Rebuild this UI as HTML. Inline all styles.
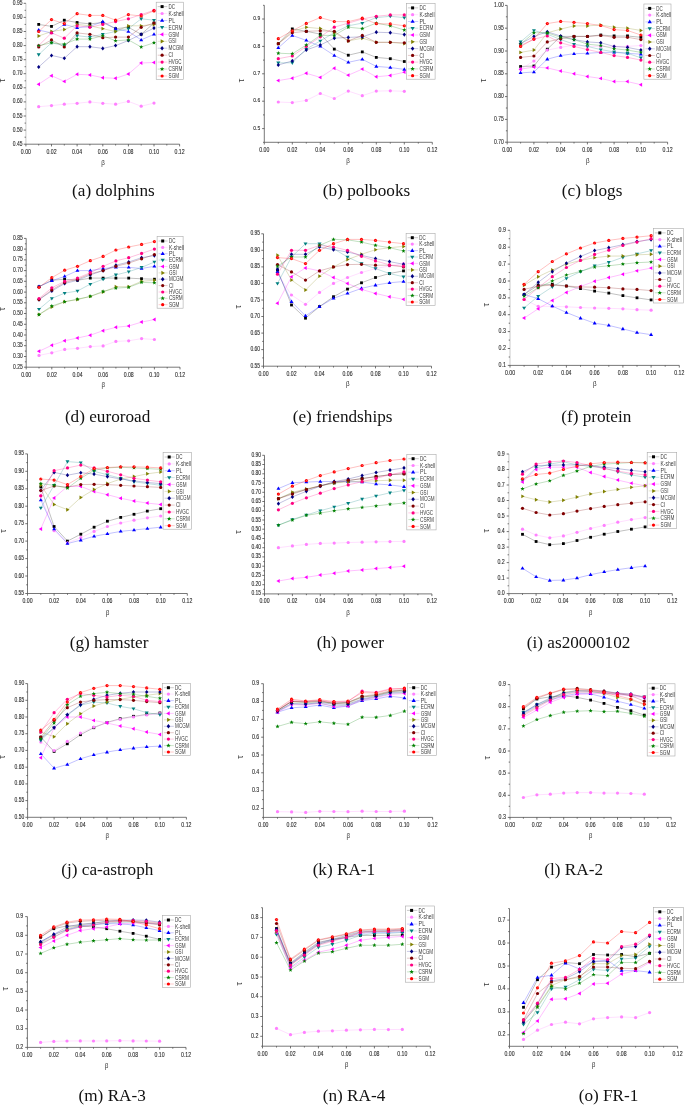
<!DOCTYPE html>
<html><head><meta charset="utf-8"><style>
html,body{margin:0;padding:0;background:#fff;}
svg{display:block;}
text{font-family:"Liberation Sans",sans-serif;}
.g text{filter:grayscale(1)}
</style></head><body>
<svg width="685" height="1105" viewBox="0 0 685 1105">
<rect width="685" height="1105" fill="#fff"/>
<g class="g">
<line x1="25.9" y1="144.2" x2="25.9" y2="3.3" stroke="#bbb" stroke-width="0.8"/>
<line x1="25.9" y1="144.2" x2="179.6" y2="144.2" stroke="#555" stroke-width="0.8"/>
<line x1="25.9" y1="144.2" x2="25.9" y2="146.4" stroke="#444" stroke-width="0.75"/>
<text x="25.9" y="153.7" font-size="6.3" text-anchor="middle" fill="#2a2a2a" textLength="10.1" lengthAdjust="spacingAndGlyphs" stroke="#2a2a2a" stroke-width="0.1" >0.00</text>
<line x1="38.7" y1="144.2" x2="38.7" y2="145.5" stroke="#444" stroke-width="0.75"/>
<line x1="51.5" y1="144.2" x2="51.5" y2="146.4" stroke="#444" stroke-width="0.75"/>
<text x="51.5" y="153.7" font-size="6.3" text-anchor="middle" fill="#2a2a2a" textLength="10.1" lengthAdjust="spacingAndGlyphs" stroke="#2a2a2a" stroke-width="0.1" >0.02</text>
<line x1="64.3" y1="144.2" x2="64.3" y2="145.5" stroke="#444" stroke-width="0.75"/>
<line x1="77.1" y1="144.2" x2="77.1" y2="146.4" stroke="#444" stroke-width="0.75"/>
<text x="77.1" y="153.7" font-size="6.3" text-anchor="middle" fill="#2a2a2a" textLength="10.1" lengthAdjust="spacingAndGlyphs" stroke="#2a2a2a" stroke-width="0.1" >0.04</text>
<line x1="89.9" y1="144.2" x2="89.9" y2="145.5" stroke="#444" stroke-width="0.75"/>
<line x1="102.8" y1="144.2" x2="102.8" y2="146.4" stroke="#444" stroke-width="0.75"/>
<text x="102.8" y="153.7" font-size="6.3" text-anchor="middle" fill="#2a2a2a" textLength="10.1" lengthAdjust="spacingAndGlyphs" stroke="#2a2a2a" stroke-width="0.1" >0.06</text>
<line x1="115.6" y1="144.2" x2="115.6" y2="145.5" stroke="#444" stroke-width="0.75"/>
<line x1="128.4" y1="144.2" x2="128.4" y2="146.4" stroke="#444" stroke-width="0.75"/>
<text x="128.4" y="153.7" font-size="6.3" text-anchor="middle" fill="#2a2a2a" textLength="10.1" lengthAdjust="spacingAndGlyphs" stroke="#2a2a2a" stroke-width="0.1" >0.08</text>
<line x1="141.2" y1="144.2" x2="141.2" y2="145.5" stroke="#444" stroke-width="0.75"/>
<line x1="154.0" y1="144.2" x2="154.0" y2="146.4" stroke="#444" stroke-width="0.75"/>
<text x="154.0" y="153.7" font-size="6.3" text-anchor="middle" fill="#2a2a2a" textLength="10.1" lengthAdjust="spacingAndGlyphs" stroke="#2a2a2a" stroke-width="0.1" >0.10</text>
<line x1="166.8" y1="144.2" x2="166.8" y2="145.5" stroke="#444" stroke-width="0.75"/>
<line x1="179.6" y1="144.2" x2="179.6" y2="146.4" stroke="#444" stroke-width="0.75"/>
<text x="179.6" y="153.7" font-size="6.3" text-anchor="middle" fill="#2a2a2a" textLength="10.1" lengthAdjust="spacingAndGlyphs" stroke="#2a2a2a" stroke-width="0.1" >0.12</text>
<line x1="23.7" y1="144.2" x2="25.9" y2="144.2" stroke="#444" stroke-width="0.75"/>
<text x="22.5" y="145.7" font-size="6.3" text-anchor="end" fill="#2a2a2a" textLength="9.7" lengthAdjust="spacingAndGlyphs" stroke="#2a2a2a" stroke-width="0.1" >0.45</text>
<line x1="23.7" y1="130.1" x2="25.9" y2="130.1" stroke="#444" stroke-width="0.75"/>
<text x="22.5" y="131.6" font-size="6.3" text-anchor="end" fill="#2a2a2a" textLength="9.7" lengthAdjust="spacingAndGlyphs" stroke="#2a2a2a" stroke-width="0.1" >0.50</text>
<line x1="23.7" y1="116.0" x2="25.9" y2="116.0" stroke="#444" stroke-width="0.75"/>
<text x="22.5" y="117.5" font-size="6.3" text-anchor="end" fill="#2a2a2a" textLength="9.7" lengthAdjust="spacingAndGlyphs" stroke="#2a2a2a" stroke-width="0.1" >0.55</text>
<line x1="23.7" y1="101.9" x2="25.9" y2="101.9" stroke="#444" stroke-width="0.75"/>
<text x="22.5" y="103.4" font-size="6.3" text-anchor="end" fill="#2a2a2a" textLength="9.7" lengthAdjust="spacingAndGlyphs" stroke="#2a2a2a" stroke-width="0.1" >0.60</text>
<line x1="23.7" y1="87.8" x2="25.9" y2="87.8" stroke="#444" stroke-width="0.75"/>
<text x="22.5" y="89.3" font-size="6.3" text-anchor="end" fill="#2a2a2a" textLength="9.7" lengthAdjust="spacingAndGlyphs" stroke="#2a2a2a" stroke-width="0.1" >0.65</text>
<line x1="23.7" y1="73.7" x2="25.9" y2="73.7" stroke="#444" stroke-width="0.75"/>
<text x="22.5" y="75.2" font-size="6.3" text-anchor="end" fill="#2a2a2a" textLength="9.7" lengthAdjust="spacingAndGlyphs" stroke="#2a2a2a" stroke-width="0.1" >0.70</text>
<line x1="23.7" y1="59.7" x2="25.9" y2="59.7" stroke="#444" stroke-width="0.75"/>
<text x="22.5" y="61.2" font-size="6.3" text-anchor="end" fill="#2a2a2a" textLength="9.7" lengthAdjust="spacingAndGlyphs" stroke="#2a2a2a" stroke-width="0.1" >0.75</text>
<line x1="23.7" y1="45.6" x2="25.9" y2="45.6" stroke="#444" stroke-width="0.75"/>
<text x="22.5" y="47.1" font-size="6.3" text-anchor="end" fill="#2a2a2a" textLength="9.7" lengthAdjust="spacingAndGlyphs" stroke="#2a2a2a" stroke-width="0.1" >0.80</text>
<line x1="23.7" y1="31.5" x2="25.9" y2="31.5" stroke="#444" stroke-width="0.75"/>
<text x="22.5" y="33.0" font-size="6.3" text-anchor="end" fill="#2a2a2a" textLength="9.7" lengthAdjust="spacingAndGlyphs" stroke="#2a2a2a" stroke-width="0.1" >0.85</text>
<line x1="23.7" y1="17.4" x2="25.9" y2="17.4" stroke="#444" stroke-width="0.75"/>
<text x="22.5" y="18.9" font-size="6.3" text-anchor="end" fill="#2a2a2a" textLength="9.7" lengthAdjust="spacingAndGlyphs" stroke="#2a2a2a" stroke-width="0.1" >0.90</text>
<line x1="23.7" y1="3.3" x2="25.9" y2="3.3" stroke="#444" stroke-width="0.75"/>
<text x="22.5" y="4.8" font-size="6.3" text-anchor="end" fill="#2a2a2a" textLength="9.7" lengthAdjust="spacingAndGlyphs" stroke="#2a2a2a" stroke-width="0.1" >0.95</text>
<line x1="24.6" y1="137.2" x2="25.9" y2="137.2" stroke="#444" stroke-width="0.75"/>
<line x1="24.6" y1="123.1" x2="25.9" y2="123.1" stroke="#444" stroke-width="0.75"/>
<line x1="24.6" y1="109.0" x2="25.9" y2="109.0" stroke="#444" stroke-width="0.75"/>
<line x1="24.6" y1="94.9" x2="25.9" y2="94.9" stroke="#444" stroke-width="0.75"/>
<line x1="24.6" y1="80.8" x2="25.9" y2="80.8" stroke="#444" stroke-width="0.75"/>
<line x1="24.6" y1="66.7" x2="25.9" y2="66.7" stroke="#444" stroke-width="0.75"/>
<line x1="24.6" y1="52.6" x2="25.9" y2="52.6" stroke="#444" stroke-width="0.75"/>
<line x1="24.6" y1="38.5" x2="25.9" y2="38.5" stroke="#444" stroke-width="0.75"/>
<line x1="24.6" y1="24.4" x2="25.9" y2="24.4" stroke="#444" stroke-width="0.75"/>
<line x1="24.6" y1="10.3" x2="25.9" y2="10.3" stroke="#444" stroke-width="0.75"/>
<text x="5.0" y="80.4" font-size="8.8" fill="#3a3a3a" transform="rotate(-90 5.0 80.4)" text-anchor="middle">τ</text>
<text x="103.0" y="165.1" font-size="7.3" fill="#333" text-anchor="middle" textLength="3.6" lengthAdjust="spacingAndGlyphs">β</text>
<polyline fill="none" stroke="#000000" stroke-opacity="0.45" stroke-width="0.55" points="38.7,24.4 51.5,26.4 64.3,20.2 77.1,22.5 89.9,23.9 102.8,22.5 115.6,28.7 128.4,27.3 141.2,34.3 154.0,23.0"/>
<polyline fill="none" stroke="#FF80FF" stroke-opacity="0.45" stroke-width="0.55" points="38.7,106.7 51.5,105.6 64.3,104.2 77.1,103.3 89.9,101.9 102.8,103.3 115.6,104.2 128.4,101.4 141.2,106.2 154.0,103.1"/>
<polyline fill="none" stroke="#0000FF" stroke-opacity="0.45" stroke-width="0.55" points="38.7,30.1 51.5,32.9 64.3,24.4 77.1,27.8 89.9,26.4 102.8,21.6 115.6,28.7 128.4,31.5 141.2,39.9 154.0,34.3"/>
<polyline fill="none" stroke="#008080" stroke-opacity="0.45" stroke-width="0.55" points="38.7,54.6 51.5,42.8 64.3,45.6 77.1,35.7 89.9,37.1 102.8,34.3 115.6,31.5 128.4,28.7 141.2,18.8 154.0,20.2"/>
<polyline fill="none" stroke="#FF00FF" stroke-opacity="0.45" stroke-width="0.55" points="38.7,84.2 51.5,75.7 64.3,81.4 77.1,74.3 89.9,74.9 102.8,77.7 115.6,78.3 128.4,74.0 141.2,63.0 154.0,62.5"/>
<polyline fill="none" stroke="#808000" stroke-opacity="0.45" stroke-width="0.55" points="38.7,36.0 51.5,31.5 64.3,29.5 77.1,24.4 89.9,25.8 102.8,28.7 115.6,31.5 128.4,25.8 141.2,25.8 154.0,24.4"/>
<polyline fill="none" stroke="#000080" stroke-opacity="0.45" stroke-width="0.55" points="38.7,67.0 51.5,55.4 64.3,58.3 77.1,46.7 89.9,46.7 102.8,48.4 115.6,45.6 128.4,40.5 141.2,34.3 154.0,28.1"/>
<polyline fill="none" stroke="#800000" stroke-opacity="0.45" stroke-width="0.55" points="38.7,47.0 51.5,39.9 64.3,47.0 77.1,32.9 89.9,34.3 102.8,37.7 115.6,37.1 128.4,37.1 141.2,27.3 154.0,23.0"/>
<polyline fill="none" stroke="#FF0080" stroke-opacity="0.45" stroke-width="0.55" points="38.7,45.6 51.5,32.9 64.3,38.2 77.1,25.8 89.9,27.3 102.8,24.4 115.6,21.6 128.4,18.8 141.2,14.6 154.0,10.3"/>
<polyline fill="none" stroke="#008000" stroke-opacity="0.45" stroke-width="0.55" points="38.7,45.6 51.5,42.8 64.3,44.2 77.1,39.1 89.9,39.1 102.8,35.7 115.6,40.8 128.4,39.9 141.2,47.0 154.0,42.8"/>
<polyline fill="none" stroke="#FF0000" stroke-opacity="0.45" stroke-width="0.55" points="38.7,31.5 51.5,19.6 64.3,23.6 77.1,13.7 89.9,15.4 102.8,15.4 115.6,20.2 128.4,14.6 141.2,16.0 154.0,10.9"/>
<rect x="37.3" y="23.0" width="2.8" height="2.8" fill="#000000"/>
<rect x="50.1" y="25.0" width="2.8" height="2.8" fill="#000000"/>
<rect x="62.9" y="18.8" width="2.8" height="2.8" fill="#000000"/>
<rect x="75.7" y="21.1" width="2.8" height="2.8" fill="#000000"/>
<rect x="88.5" y="22.5" width="2.8" height="2.8" fill="#000000"/>
<rect x="101.3" y="21.1" width="2.8" height="2.8" fill="#000000"/>
<rect x="114.2" y="27.3" width="2.8" height="2.8" fill="#000000"/>
<rect x="127.0" y="25.8" width="2.8" height="2.8" fill="#000000"/>
<rect x="139.8" y="32.9" width="2.8" height="2.8" fill="#000000"/>
<rect x="152.6" y="21.6" width="2.8" height="2.8" fill="#000000"/>
<circle cx="38.7" cy="106.7" r="1.6" fill="#FF80FF"/>
<circle cx="51.5" cy="105.6" r="1.6" fill="#FF80FF"/>
<circle cx="64.3" cy="104.2" r="1.6" fill="#FF80FF"/>
<circle cx="77.1" cy="103.3" r="1.6" fill="#FF80FF"/>
<circle cx="89.9" cy="101.9" r="1.6" fill="#FF80FF"/>
<circle cx="102.8" cy="103.3" r="1.6" fill="#FF80FF"/>
<circle cx="115.6" cy="104.2" r="1.6" fill="#FF80FF"/>
<circle cx="128.4" cy="101.4" r="1.6" fill="#FF80FF"/>
<circle cx="141.2" cy="106.2" r="1.6" fill="#FF80FF"/>
<circle cx="154.0" cy="103.1" r="1.6" fill="#FF80FF"/>
<polygon points="38.7,28.0 40.7,31.3 36.7,31.3" fill="#0000FF"/>
<polygon points="51.5,30.8 53.5,34.1 49.5,34.1" fill="#0000FF"/>
<polygon points="64.3,22.4 66.3,25.7 62.3,25.7" fill="#0000FF"/>
<polygon points="77.1,25.7 79.1,29.1 75.2,29.1" fill="#0000FF"/>
<polygon points="89.9,24.3 91.9,27.7 88.0,27.7" fill="#0000FF"/>
<polygon points="102.8,19.5 104.7,22.9 100.8,22.9" fill="#0000FF"/>
<polygon points="115.6,26.6 117.5,29.9 113.6,29.9" fill="#0000FF"/>
<polygon points="128.4,29.4 130.3,32.7 126.4,32.7" fill="#0000FF"/>
<polygon points="141.2,37.9 143.2,41.2 139.2,41.2" fill="#0000FF"/>
<polygon points="154.0,32.2 156.0,35.5 152.0,35.5" fill="#0000FF"/>
<polygon points="38.7,56.7 40.7,53.3 36.7,53.3" fill="#008080"/>
<polygon points="51.5,44.8 53.5,41.5 49.5,41.5" fill="#008080"/>
<polygon points="64.3,47.6 66.3,44.3 62.3,44.3" fill="#008080"/>
<polygon points="77.1,37.8 79.1,34.5 75.2,34.5" fill="#008080"/>
<polygon points="89.9,39.2 91.9,35.9 88.0,35.9" fill="#008080"/>
<polygon points="102.8,36.4 104.7,33.1 100.8,33.1" fill="#008080"/>
<polygon points="115.6,33.6 117.5,30.2 113.6,30.2" fill="#008080"/>
<polygon points="128.4,30.7 130.3,27.4 126.4,27.4" fill="#008080"/>
<polygon points="141.2,20.9 143.2,17.6 139.2,17.6" fill="#008080"/>
<polygon points="154.0,22.3 156.0,19.0 152.0,19.0" fill="#008080"/>
<polygon points="36.6,84.2 40.0,82.2 40.0,86.2" fill="#FF00FF"/>
<polygon points="49.4,75.7 52.8,73.7 52.8,77.7" fill="#FF00FF"/>
<polygon points="62.2,81.4 65.6,79.4 65.6,83.3" fill="#FF00FF"/>
<polygon points="75.1,74.3 78.4,72.3 78.4,76.3" fill="#FF00FF"/>
<polygon points="87.9,74.9 91.2,72.9 91.2,76.9" fill="#FF00FF"/>
<polygon points="100.7,77.7 104.0,75.7 104.0,79.7" fill="#FF00FF"/>
<polygon points="113.5,78.3 116.8,76.3 116.8,80.2" fill="#FF00FF"/>
<polygon points="126.3,74.0 129.6,72.1 129.6,76.0" fill="#FF00FF"/>
<polygon points="139.1,63.0 142.4,61.1 142.4,65.0" fill="#FF00FF"/>
<polygon points="151.9,62.5 155.2,60.5 155.2,64.5" fill="#FF00FF"/>
<polygon points="40.8,36.0 37.5,34.0 37.5,38.0" fill="#808000"/>
<polygon points="53.6,31.5 50.3,29.5 50.3,33.5" fill="#808000"/>
<polygon points="66.4,29.5 63.1,27.5 63.1,31.5" fill="#808000"/>
<polygon points="79.2,24.4 75.9,22.5 75.9,26.4" fill="#808000"/>
<polygon points="92.0,25.8 88.7,23.9 88.7,27.8" fill="#808000"/>
<polygon points="104.8,28.7 101.5,26.7 101.5,30.6" fill="#808000"/>
<polygon points="117.6,31.5 114.3,29.5 114.3,33.5" fill="#808000"/>
<polygon points="130.4,25.8 127.1,23.9 127.1,27.8" fill="#808000"/>
<polygon points="143.3,25.8 139.9,23.9 139.9,27.8" fill="#808000"/>
<polygon points="156.1,24.4 152.7,22.5 152.7,26.4" fill="#808000"/>
<polygon points="38.7,64.9 40.4,67.0 38.7,69.1 37.0,67.0" fill="#000080"/>
<polygon points="51.5,53.4 53.2,55.4 51.5,57.5 49.9,55.4" fill="#000080"/>
<polygon points="64.3,56.2 66.0,58.3 64.3,60.3 62.7,58.3" fill="#000080"/>
<polygon points="77.1,44.6 78.8,46.7 77.1,48.8 75.5,46.7" fill="#000080"/>
<polygon points="89.9,44.6 91.6,46.7 89.9,48.8 88.3,46.7" fill="#000080"/>
<polygon points="102.8,46.3 104.4,48.4 102.8,50.5 101.1,48.4" fill="#000080"/>
<polygon points="115.6,43.5 117.2,45.6 115.6,47.6 113.9,45.6" fill="#000080"/>
<polygon points="128.4,38.4 130.0,40.5 128.4,42.6 126.7,40.5" fill="#000080"/>
<polygon points="141.2,32.2 142.8,34.3 141.2,36.4 139.5,34.3" fill="#000080"/>
<polygon points="154.0,26.0 155.6,28.1 154.0,30.2 152.3,28.1" fill="#000080"/>
<circle cx="38.7" cy="47.0" r="1.6" fill="#800000"/>
<circle cx="51.5" cy="39.9" r="1.6" fill="#800000"/>
<circle cx="64.3" cy="47.0" r="1.6" fill="#800000"/>
<circle cx="77.1" cy="32.9" r="1.6" fill="#800000"/>
<circle cx="89.9" cy="34.3" r="1.6" fill="#800000"/>
<circle cx="102.8" cy="37.7" r="1.6" fill="#800000"/>
<circle cx="115.6" cy="37.1" r="1.6" fill="#800000"/>
<circle cx="128.4" cy="37.1" r="1.6" fill="#800000"/>
<circle cx="141.2" cy="27.3" r="1.6" fill="#800000"/>
<circle cx="154.0" cy="23.0" r="1.6" fill="#800000"/>
<circle cx="38.7" cy="45.6" r="1.6" fill="#FF0080"/>
<circle cx="51.5" cy="32.9" r="1.6" fill="#FF0080"/>
<circle cx="64.3" cy="38.2" r="1.6" fill="#FF0080"/>
<circle cx="77.1" cy="25.8" r="1.6" fill="#FF0080"/>
<circle cx="89.9" cy="27.3" r="1.6" fill="#FF0080"/>
<circle cx="102.8" cy="24.4" r="1.6" fill="#FF0080"/>
<circle cx="115.6" cy="21.6" r="1.6" fill="#FF0080"/>
<circle cx="128.4" cy="18.8" r="1.6" fill="#FF0080"/>
<circle cx="141.2" cy="14.6" r="1.6" fill="#FF0080"/>
<circle cx="154.0" cy="10.3" r="1.6" fill="#FF0080"/>
<polygon points="38.7,43.4 39.3,44.8 40.8,44.9 39.6,45.9 40.0,47.3 38.7,46.5 37.4,47.3 37.8,45.9 36.6,44.9 38.2,44.8" fill="#008000"/>
<polygon points="51.5,40.6 52.1,42.0 53.6,42.1 52.4,43.0 52.8,44.5 51.5,43.7 50.2,44.5 50.6,43.0 49.4,42.1 51.0,42.0" fill="#008000"/>
<polygon points="64.3,42.0 64.9,43.4 66.4,43.5 65.2,44.5 65.6,45.9 64.3,45.1 63.0,45.9 63.4,44.5 62.2,43.5 63.8,43.4" fill="#008000"/>
<polygon points="77.1,36.9 77.7,38.3 79.2,38.4 78.0,39.4 78.4,40.9 77.1,40.0 75.8,40.9 76.2,39.4 75.1,38.4 76.6,38.3" fill="#008000"/>
<polygon points="89.9,36.9 90.5,38.3 92.0,38.4 90.8,39.4 91.2,40.9 89.9,40.0 88.7,40.9 89.1,39.4 87.9,38.4 89.4,38.3" fill="#008000"/>
<polygon points="102.8,33.5 103.3,34.9 104.8,35.0 103.6,36.0 104.0,37.5 102.8,36.6 101.5,37.5 101.9,36.0 100.7,35.0 102.2,34.9" fill="#008000"/>
<polygon points="115.6,38.6 116.1,40.0 117.6,40.1 116.4,41.1 116.8,42.5 115.6,41.7 114.3,42.5 114.7,41.1 113.5,40.1 115.0,40.0" fill="#008000"/>
<polygon points="128.4,37.8 128.9,39.2 130.4,39.3 129.3,40.2 129.7,41.7 128.4,40.9 127.1,41.7 127.5,40.2 126.3,39.3 127.8,39.2" fill="#008000"/>
<polygon points="141.2,44.8 141.7,46.2 143.3,46.3 142.1,47.3 142.5,48.7 141.2,47.9 139.9,48.7 140.3,47.3 139.1,46.3 140.6,46.2" fill="#008000"/>
<polygon points="154.0,40.6 154.5,42.0 156.1,42.1 154.9,43.0 155.3,44.5 154.0,43.7 152.7,44.5 153.1,43.0 151.9,42.1 153.4,42.0" fill="#008000"/>
<circle cx="38.7" cy="31.5" r="1.6" fill="#FF0000"/>
<line x1="38.5" y1="32.0" x2="39.6" y2="30.8" stroke="#fff" stroke-opacity="0.8" stroke-width="0.45"/>
<circle cx="51.5" cy="19.6" r="1.6" fill="#FF0000"/>
<line x1="51.3" y1="20.1" x2="52.4" y2="18.9" stroke="#fff" stroke-opacity="0.8" stroke-width="0.45"/>
<circle cx="64.3" cy="23.6" r="1.6" fill="#FF0000"/>
<line x1="64.1" y1="24.1" x2="65.2" y2="22.9" stroke="#fff" stroke-opacity="0.8" stroke-width="0.45"/>
<circle cx="77.1" cy="13.7" r="1.6" fill="#FF0000"/>
<line x1="76.9" y1="14.2" x2="78.0" y2="13.0" stroke="#fff" stroke-opacity="0.8" stroke-width="0.45"/>
<circle cx="89.9" cy="15.4" r="1.6" fill="#FF0000"/>
<line x1="89.7" y1="15.9" x2="90.8" y2="14.7" stroke="#fff" stroke-opacity="0.8" stroke-width="0.45"/>
<circle cx="102.8" cy="15.4" r="1.6" fill="#FF0000"/>
<line x1="102.5" y1="15.9" x2="103.7" y2="14.7" stroke="#fff" stroke-opacity="0.8" stroke-width="0.45"/>
<circle cx="115.6" cy="20.2" r="1.6" fill="#FF0000"/>
<line x1="115.4" y1="20.7" x2="116.5" y2="19.5" stroke="#fff" stroke-opacity="0.8" stroke-width="0.45"/>
<circle cx="128.4" cy="14.6" r="1.6" fill="#FF0000"/>
<line x1="128.2" y1="15.1" x2="129.3" y2="13.9" stroke="#fff" stroke-opacity="0.8" stroke-width="0.45"/>
<circle cx="141.2" cy="16.0" r="1.6" fill="#FF0000"/>
<line x1="141.0" y1="16.5" x2="142.1" y2="15.3" stroke="#fff" stroke-opacity="0.8" stroke-width="0.45"/>
<circle cx="154.0" cy="10.9" r="1.6" fill="#FF0000"/>
<line x1="153.8" y1="11.4" x2="154.9" y2="10.2" stroke="#fff" stroke-opacity="0.8" stroke-width="0.45"/>
<rect x="156.2" y="2.2" width="27.3" height="77.3" fill="#fff" stroke="#aaa" stroke-width="0.6"/>
<line x1="157.7" y1="6.6" x2="167.3" y2="6.6" stroke="#000000" stroke-opacity="0.35" stroke-width="0.6"/>
<rect x="160.6" y="5.1" width="3.0" height="3.0" fill="#000000"/>
<text x="168.6" y="8.7" font-size="6.3" text-anchor="start" fill="#3a3a3a" textLength="6.5" lengthAdjust="spacingAndGlyphs" stroke="#3a3a3a" stroke-width="0.0" >DC</text>
<line x1="157.7" y1="13.5" x2="167.3" y2="13.5" stroke="#FF80FF" stroke-opacity="0.35" stroke-width="0.6"/>
<circle cx="162.1" cy="13.5" r="1.6" fill="#FF80FF"/>
<text x="168.6" y="15.6" font-size="6.3" text-anchor="start" fill="#3a3a3a" textLength="15.0" lengthAdjust="spacingAndGlyphs" stroke="#3a3a3a" stroke-width="0.0" >K-shell</text>
<line x1="157.7" y1="20.5" x2="167.3" y2="20.5" stroke="#0000FF" stroke-opacity="0.35" stroke-width="0.6"/>
<polygon points="162.1,18.3 164.2,21.8 160.0,21.8" fill="#0000FF"/>
<text x="168.6" y="22.6" font-size="6.3" text-anchor="start" fill="#3a3a3a" textLength="6.5" lengthAdjust="spacingAndGlyphs" stroke="#3a3a3a" stroke-width="0.0" >PL</text>
<line x1="157.7" y1="27.4" x2="167.3" y2="27.4" stroke="#008080" stroke-opacity="0.35" stroke-width="0.6"/>
<polygon points="162.1,29.6 164.2,26.1 160.0,26.1" fill="#008080"/>
<text x="168.6" y="29.5" font-size="6.3" text-anchor="start" fill="#3a3a3a" textLength="13.8" lengthAdjust="spacingAndGlyphs" stroke="#3a3a3a" stroke-width="0.0" >ECRM</text>
<line x1="157.7" y1="34.4" x2="167.3" y2="34.4" stroke="#FF00FF" stroke-opacity="0.35" stroke-width="0.6"/>
<polygon points="159.9,34.4 163.4,32.3 163.4,36.5" fill="#FF00FF"/>
<text x="168.6" y="36.5" font-size="6.3" text-anchor="start" fill="#3a3a3a" textLength="10.5" lengthAdjust="spacingAndGlyphs" stroke="#3a3a3a" stroke-width="0.0" >GSM</text>
<line x1="157.7" y1="41.3" x2="167.3" y2="41.3" stroke="#808000" stroke-opacity="0.35" stroke-width="0.6"/>
<polygon points="164.3,41.3 160.7,39.2 160.7,43.4" fill="#808000"/>
<text x="168.6" y="43.4" font-size="6.3" text-anchor="start" fill="#3a3a3a" textLength="7.8" lengthAdjust="spacingAndGlyphs" stroke="#3a3a3a" stroke-width="0.0" >GSI</text>
<line x1="157.7" y1="48.2" x2="167.3" y2="48.2" stroke="#000080" stroke-opacity="0.35" stroke-width="0.6"/>
<polygon points="162.1,46.0 163.8,48.2 162.1,50.5 160.3,48.2" fill="#000080"/>
<text x="168.6" y="50.3" font-size="6.3" text-anchor="start" fill="#3a3a3a" textLength="14.5" lengthAdjust="spacingAndGlyphs" stroke="#3a3a3a" stroke-width="0.0" >MCGM</text>
<line x1="157.7" y1="55.2" x2="167.3" y2="55.2" stroke="#800000" stroke-opacity="0.35" stroke-width="0.6"/>
<circle cx="162.1" cy="55.2" r="1.6" fill="#800000"/>
<text x="168.6" y="57.3" font-size="6.3" text-anchor="start" fill="#3a3a3a" textLength="4.6" lengthAdjust="spacingAndGlyphs" stroke="#3a3a3a" stroke-width="0.0" >CI</text>
<line x1="157.7" y1="62.1" x2="167.3" y2="62.1" stroke="#FF0080" stroke-opacity="0.35" stroke-width="0.6"/>
<circle cx="162.1" cy="62.1" r="1.6" fill="#FF0080"/>
<text x="168.6" y="64.2" font-size="6.3" text-anchor="start" fill="#3a3a3a" textLength="13.0" lengthAdjust="spacingAndGlyphs" stroke="#3a3a3a" stroke-width="0.0" >HVGC</text>
<line x1="157.7" y1="69.1" x2="167.3" y2="69.1" stroke="#008000" stroke-opacity="0.35" stroke-width="0.6"/>
<polygon points="162.1,66.7 162.7,68.3 164.3,68.3 163.0,69.4 163.4,70.9 162.1,70.1 160.7,70.9 161.1,69.4 159.9,68.3 161.5,68.3" fill="#008000"/>
<text x="168.6" y="71.2" font-size="6.3" text-anchor="start" fill="#3a3a3a" textLength="13.8" lengthAdjust="spacingAndGlyphs" stroke="#3a3a3a" stroke-width="0.0" >CSRM</text>
<line x1="157.7" y1="76.0" x2="167.3" y2="76.0" stroke="#FF0000" stroke-opacity="0.35" stroke-width="0.6"/>
<circle cx="162.1" cy="76.0" r="1.6" fill="#FF0000"/>
<text x="168.6" y="78.1" font-size="6.3" text-anchor="start" fill="#3a3a3a" textLength="10.5" lengthAdjust="spacingAndGlyphs" stroke="#3a3a3a" stroke-width="0.0" >SGM</text>
<text x="113.4" y="195.5" style="font-family:Liberation Serif,serif" font-size="17.2" fill="#111" text-anchor="middle">(a) dolphins</text>
<line x1="264.3" y1="142.3" x2="264.3" y2="5.3" stroke="#555" stroke-width="0.8"/>
<line x1="264.3" y1="142.3" x2="432.3" y2="142.3" stroke="#555" stroke-width="0.8"/>
<line x1="264.3" y1="142.3" x2="264.3" y2="144.5" stroke="#444" stroke-width="0.75"/>
<text x="264.3" y="151.8" font-size="6.3" text-anchor="middle" fill="#2a2a2a" textLength="10.1" lengthAdjust="spacingAndGlyphs" stroke="#2a2a2a" stroke-width="0.1" >0.00</text>
<line x1="278.3" y1="142.3" x2="278.3" y2="143.6" stroke="#444" stroke-width="0.75"/>
<line x1="292.3" y1="142.3" x2="292.3" y2="144.5" stroke="#444" stroke-width="0.75"/>
<text x="292.3" y="151.8" font-size="6.3" text-anchor="middle" fill="#2a2a2a" textLength="10.1" lengthAdjust="spacingAndGlyphs" stroke="#2a2a2a" stroke-width="0.1" >0.02</text>
<line x1="306.3" y1="142.3" x2="306.3" y2="143.6" stroke="#444" stroke-width="0.75"/>
<line x1="320.3" y1="142.3" x2="320.3" y2="144.5" stroke="#444" stroke-width="0.75"/>
<text x="320.3" y="151.8" font-size="6.3" text-anchor="middle" fill="#2a2a2a" textLength="10.1" lengthAdjust="spacingAndGlyphs" stroke="#2a2a2a" stroke-width="0.1" >0.04</text>
<line x1="334.3" y1="142.3" x2="334.3" y2="143.6" stroke="#444" stroke-width="0.75"/>
<line x1="348.3" y1="142.3" x2="348.3" y2="144.5" stroke="#444" stroke-width="0.75"/>
<text x="348.3" y="151.8" font-size="6.3" text-anchor="middle" fill="#2a2a2a" textLength="10.1" lengthAdjust="spacingAndGlyphs" stroke="#2a2a2a" stroke-width="0.1" >0.06</text>
<line x1="362.3" y1="142.3" x2="362.3" y2="143.6" stroke="#444" stroke-width="0.75"/>
<line x1="376.3" y1="142.3" x2="376.3" y2="144.5" stroke="#444" stroke-width="0.75"/>
<text x="376.3" y="151.8" font-size="6.3" text-anchor="middle" fill="#2a2a2a" textLength="10.1" lengthAdjust="spacingAndGlyphs" stroke="#2a2a2a" stroke-width="0.1" >0.08</text>
<line x1="390.3" y1="142.3" x2="390.3" y2="143.6" stroke="#444" stroke-width="0.75"/>
<line x1="404.3" y1="142.3" x2="404.3" y2="144.5" stroke="#444" stroke-width="0.75"/>
<text x="404.3" y="151.8" font-size="6.3" text-anchor="middle" fill="#2a2a2a" textLength="10.1" lengthAdjust="spacingAndGlyphs" stroke="#2a2a2a" stroke-width="0.1" >0.10</text>
<line x1="418.3" y1="142.3" x2="418.3" y2="143.6" stroke="#444" stroke-width="0.75"/>
<line x1="432.3" y1="142.3" x2="432.3" y2="144.5" stroke="#444" stroke-width="0.75"/>
<text x="432.3" y="151.8" font-size="6.3" text-anchor="middle" fill="#2a2a2a" textLength="10.1" lengthAdjust="spacingAndGlyphs" stroke="#2a2a2a" stroke-width="0.1" >0.12</text>
<line x1="262.1" y1="128.6" x2="264.3" y2="128.6" stroke="#444" stroke-width="0.75"/>
<text x="260.2" y="129.8" font-size="5.4" text-anchor="end" fill="#2a2a2a" textLength="6.9" lengthAdjust="spacingAndGlyphs" stroke="#2a2a2a" stroke-width="0.1" >0.5</text>
<line x1="262.1" y1="101.2" x2="264.3" y2="101.2" stroke="#444" stroke-width="0.75"/>
<text x="260.2" y="102.4" font-size="5.4" text-anchor="end" fill="#2a2a2a" textLength="6.9" lengthAdjust="spacingAndGlyphs" stroke="#2a2a2a" stroke-width="0.1" >0.6</text>
<line x1="262.1" y1="73.8" x2="264.3" y2="73.8" stroke="#444" stroke-width="0.75"/>
<text x="260.2" y="75.0" font-size="5.4" text-anchor="end" fill="#2a2a2a" textLength="6.9" lengthAdjust="spacingAndGlyphs" stroke="#2a2a2a" stroke-width="0.1" >0.7</text>
<line x1="262.1" y1="46.4" x2="264.3" y2="46.4" stroke="#444" stroke-width="0.75"/>
<text x="260.2" y="47.6" font-size="5.4" text-anchor="end" fill="#2a2a2a" textLength="6.9" lengthAdjust="spacingAndGlyphs" stroke="#2a2a2a" stroke-width="0.1" >0.8</text>
<line x1="262.1" y1="19.0" x2="264.3" y2="19.0" stroke="#444" stroke-width="0.75"/>
<text x="260.2" y="20.2" font-size="5.4" text-anchor="end" fill="#2a2a2a" textLength="6.9" lengthAdjust="spacingAndGlyphs" stroke="#2a2a2a" stroke-width="0.1" >0.9</text>
<line x1="263.0" y1="142.3" x2="264.3" y2="142.3" stroke="#444" stroke-width="0.75"/>
<line x1="263.0" y1="114.9" x2="264.3" y2="114.9" stroke="#444" stroke-width="0.75"/>
<line x1="263.0" y1="87.5" x2="264.3" y2="87.5" stroke="#444" stroke-width="0.75"/>
<line x1="263.0" y1="60.1" x2="264.3" y2="60.1" stroke="#444" stroke-width="0.75"/>
<line x1="263.0" y1="32.7" x2="264.3" y2="32.7" stroke="#444" stroke-width="0.75"/>
<line x1="263.0" y1="5.3" x2="264.3" y2="5.3" stroke="#444" stroke-width="0.75"/>
<text x="244.0" y="80.6" font-size="8.8" fill="#3a3a3a" transform="rotate(-90 244.0 80.6)" text-anchor="middle">τ</text>
<text x="348.0" y="162.5" font-size="7.3" fill="#333" text-anchor="middle" textLength="3.6" lengthAdjust="spacingAndGlyphs">β</text>
<polyline fill="none" stroke="#000000" stroke-opacity="0.45" stroke-width="0.55" points="278.3,43.7 292.3,28.9 306.3,31.3 320.3,34.1 334.3,49.1 348.3,55.2 362.3,51.9 376.3,57.4 390.3,58.7 404.3,61.5"/>
<polyline fill="none" stroke="#FF80FF" stroke-opacity="0.45" stroke-width="0.55" points="278.3,102.0 292.3,102.6 306.3,100.4 320.3,93.5 334.3,98.5 348.3,91.1 362.3,95.7 376.3,91.1 390.3,90.8 404.3,91.3"/>
<polyline fill="none" stroke="#0000FF" stroke-opacity="0.45" stroke-width="0.55" points="278.3,47.8 292.3,35.4 306.3,40.4 320.3,46.4 334.3,55.4 348.3,62.3 362.3,59.3 376.3,66.4 390.3,67.5 404.3,69.4"/>
<polyline fill="none" stroke="#008080" stroke-opacity="0.45" stroke-width="0.55" points="278.3,62.8 292.3,62.8 306.3,49.1 320.3,40.9 334.3,32.7 348.3,25.8 362.3,23.1 376.3,17.6 390.3,16.3 404.3,17.6"/>
<polyline fill="none" stroke="#FF00FF" stroke-opacity="0.45" stroke-width="0.55" points="278.3,80.6 292.3,78.2 306.3,73.3 320.3,77.4 334.3,68.3 348.3,75.2 362.3,69.1 376.3,76.8 390.3,75.4 404.3,72.2"/>
<polyline fill="none" stroke="#808000" stroke-opacity="0.45" stroke-width="0.55" points="278.3,43.7 292.3,31.3 306.3,27.2 320.3,28.6 334.3,32.7 348.3,40.9 362.3,38.2 376.3,42.3 390.3,42.3 404.3,43.7"/>
<polyline fill="none" stroke="#000080" stroke-opacity="0.45" stroke-width="0.55" points="278.3,65.0 292.3,60.9 306.3,50.0 320.3,45.0 334.3,38.2 348.3,37.4 362.3,36.8 376.3,32.2 390.3,32.7 404.3,34.6"/>
<polyline fill="none" stroke="#800000" stroke-opacity="0.45" stroke-width="0.55" points="278.3,43.7 292.3,32.7 306.3,31.3 320.3,30.8 334.3,31.3 348.3,40.9 362.3,35.4 376.3,42.3 390.3,42.3 404.3,42.8"/>
<polyline fill="none" stroke="#FF0080" stroke-opacity="0.45" stroke-width="0.55" points="278.3,58.7 292.3,56.0 306.3,46.4 320.3,36.8 334.3,27.2 348.3,23.1 362.3,19.0 376.3,16.3 390.3,14.9 404.3,14.9"/>
<polyline fill="none" stroke="#008000" stroke-opacity="0.45" stroke-width="0.55" points="278.3,53.2 292.3,53.8 306.3,45.0 320.3,35.4 334.3,35.4 348.3,27.2 362.3,28.6 376.3,23.1 390.3,25.8 404.3,30.0"/>
<polyline fill="none" stroke="#FF0000" stroke-opacity="0.45" stroke-width="0.55" points="278.3,38.7 292.3,30.8 306.3,23.4 320.3,17.6 334.3,21.5 348.3,21.7 362.3,18.2 376.3,23.7 390.3,23.9 404.3,25.8"/>
<rect x="276.9" y="42.3" width="2.8" height="2.8" fill="#000000"/>
<rect x="290.9" y="27.5" width="2.8" height="2.8" fill="#000000"/>
<rect x="304.9" y="29.9" width="2.8" height="2.8" fill="#000000"/>
<rect x="318.9" y="32.7" width="2.8" height="2.8" fill="#000000"/>
<rect x="332.9" y="47.7" width="2.8" height="2.8" fill="#000000"/>
<rect x="346.9" y="53.8" width="2.8" height="2.8" fill="#000000"/>
<rect x="360.9" y="50.5" width="2.8" height="2.8" fill="#000000"/>
<rect x="374.9" y="56.0" width="2.8" height="2.8" fill="#000000"/>
<rect x="388.9" y="57.3" width="2.8" height="2.8" fill="#000000"/>
<rect x="402.9" y="60.1" width="2.8" height="2.8" fill="#000000"/>
<circle cx="278.3" cy="102.0" r="1.6" fill="#FF80FF"/>
<circle cx="292.3" cy="102.6" r="1.6" fill="#FF80FF"/>
<circle cx="306.3" cy="100.4" r="1.6" fill="#FF80FF"/>
<circle cx="320.3" cy="93.5" r="1.6" fill="#FF80FF"/>
<circle cx="334.3" cy="98.5" r="1.6" fill="#FF80FF"/>
<circle cx="348.3" cy="91.1" r="1.6" fill="#FF80FF"/>
<circle cx="362.3" cy="95.7" r="1.6" fill="#FF80FF"/>
<circle cx="376.3" cy="91.1" r="1.6" fill="#FF80FF"/>
<circle cx="390.3" cy="90.8" r="1.6" fill="#FF80FF"/>
<circle cx="404.3" cy="91.3" r="1.6" fill="#FF80FF"/>
<polygon points="278.3,45.7 280.3,49.0 276.3,49.0" fill="#0000FF"/>
<polygon points="292.3,33.4 294.3,36.7 290.3,36.7" fill="#0000FF"/>
<polygon points="306.3,38.3 308.3,41.6 304.3,41.6" fill="#0000FF"/>
<polygon points="320.3,44.3 322.3,47.6 318.3,47.6" fill="#0000FF"/>
<polygon points="334.3,53.4 336.3,56.7 332.3,56.7" fill="#0000FF"/>
<polygon points="348.3,60.2 350.3,63.5 346.3,63.5" fill="#0000FF"/>
<polygon points="362.3,57.2 364.3,60.5 360.3,60.5" fill="#0000FF"/>
<polygon points="376.3,64.3 378.3,67.7 374.3,67.7" fill="#0000FF"/>
<polygon points="390.3,65.4 392.3,68.7 388.3,68.7" fill="#0000FF"/>
<polygon points="404.3,67.3 406.3,70.7 402.3,70.7" fill="#0000FF"/>
<polygon points="278.3,64.9 280.3,61.6 276.3,61.6" fill="#008080"/>
<polygon points="292.3,64.9 294.3,61.6 290.3,61.6" fill="#008080"/>
<polygon points="306.3,51.2 308.3,47.9 304.3,47.9" fill="#008080"/>
<polygon points="320.3,43.0 322.3,39.7 318.3,39.7" fill="#008080"/>
<polygon points="334.3,34.8 336.3,31.5 332.3,31.5" fill="#008080"/>
<polygon points="348.3,27.9 350.3,24.6 346.3,24.6" fill="#008080"/>
<polygon points="362.3,25.2 364.3,21.9 360.3,21.9" fill="#008080"/>
<polygon points="376.3,19.7 378.3,16.4 374.3,16.4" fill="#008080"/>
<polygon points="390.3,18.3 392.3,15.0 388.3,15.0" fill="#008080"/>
<polygon points="404.3,19.7 406.3,16.4 402.3,16.4" fill="#008080"/>
<polygon points="276.2,80.6 279.5,78.7 279.5,82.6" fill="#FF00FF"/>
<polygon points="290.2,78.2 293.5,76.2 293.5,80.2" fill="#FF00FF"/>
<polygon points="304.2,73.3 307.5,71.3 307.5,75.2" fill="#FF00FF"/>
<polygon points="318.2,77.4 321.5,75.4 321.5,79.3" fill="#FF00FF"/>
<polygon points="332.2,68.3 335.5,66.3 335.5,70.3" fill="#FF00FF"/>
<polygon points="346.2,75.2 349.5,73.2 349.5,77.1" fill="#FF00FF"/>
<polygon points="360.2,69.1 363.5,67.2 363.5,71.1" fill="#FF00FF"/>
<polygon points="374.2,76.8 377.5,74.8 377.5,78.8" fill="#FF00FF"/>
<polygon points="388.2,75.4 391.5,73.5 391.5,77.4" fill="#FF00FF"/>
<polygon points="402.2,72.2 405.5,70.2 405.5,74.1" fill="#FF00FF"/>
<polygon points="280.4,43.7 277.1,41.7 277.1,45.6" fill="#808000"/>
<polygon points="294.4,31.3 291.1,29.4 291.1,33.3" fill="#808000"/>
<polygon points="308.4,27.2 305.1,25.2 305.1,29.2" fill="#808000"/>
<polygon points="322.4,28.6 319.1,26.6 319.1,30.6" fill="#808000"/>
<polygon points="336.4,32.7 333.1,30.7 333.1,34.7" fill="#808000"/>
<polygon points="350.4,40.9 347.1,38.9 347.1,42.9" fill="#808000"/>
<polygon points="364.4,38.2 361.1,36.2 361.1,40.2" fill="#808000"/>
<polygon points="378.4,42.3 375.1,40.3 375.1,44.3" fill="#808000"/>
<polygon points="392.4,42.3 389.1,40.3 389.1,44.3" fill="#808000"/>
<polygon points="406.4,43.7 403.1,41.7 403.1,45.6" fill="#808000"/>
<polygon points="278.3,63.0 280.0,65.0 278.3,67.1 276.6,65.0" fill="#000080"/>
<polygon points="292.3,58.8 294.0,60.9 292.3,63.0 290.6,60.9" fill="#000080"/>
<polygon points="306.3,47.9 308.0,50.0 306.3,52.0 304.6,50.0" fill="#000080"/>
<polygon points="320.3,42.9 322.0,45.0 320.3,47.1 318.6,45.0" fill="#000080"/>
<polygon points="334.3,36.1 336.0,38.2 334.3,40.3 332.6,38.2" fill="#000080"/>
<polygon points="348.3,35.3 350.0,37.4 348.3,39.4 346.6,37.4" fill="#000080"/>
<polygon points="362.3,34.7 364.0,36.8 362.3,38.9 360.6,36.8" fill="#000080"/>
<polygon points="376.3,30.1 378.0,32.2 376.3,34.2 374.6,32.2" fill="#000080"/>
<polygon points="390.3,30.6 392.0,32.7 390.3,34.8 388.6,32.7" fill="#000080"/>
<polygon points="404.3,32.5 406.0,34.6 404.3,36.7 402.6,34.6" fill="#000080"/>
<circle cx="278.3" cy="43.7" r="1.6" fill="#800000"/>
<circle cx="292.3" cy="32.7" r="1.6" fill="#800000"/>
<circle cx="306.3" cy="31.3" r="1.6" fill="#800000"/>
<circle cx="320.3" cy="30.8" r="1.6" fill="#800000"/>
<circle cx="334.3" cy="31.3" r="1.6" fill="#800000"/>
<circle cx="348.3" cy="40.9" r="1.6" fill="#800000"/>
<circle cx="362.3" cy="35.4" r="1.6" fill="#800000"/>
<circle cx="376.3" cy="42.3" r="1.6" fill="#800000"/>
<circle cx="390.3" cy="42.3" r="1.6" fill="#800000"/>
<circle cx="404.3" cy="42.8" r="1.6" fill="#800000"/>
<circle cx="278.3" cy="58.7" r="1.6" fill="#FF0080"/>
<circle cx="292.3" cy="56.0" r="1.6" fill="#FF0080"/>
<circle cx="306.3" cy="46.4" r="1.6" fill="#FF0080"/>
<circle cx="320.3" cy="36.8" r="1.6" fill="#FF0080"/>
<circle cx="334.3" cy="27.2" r="1.6" fill="#FF0080"/>
<circle cx="348.3" cy="23.1" r="1.6" fill="#FF0080"/>
<circle cx="362.3" cy="19.0" r="1.6" fill="#FF0080"/>
<circle cx="376.3" cy="16.3" r="1.6" fill="#FF0080"/>
<circle cx="390.3" cy="14.9" r="1.6" fill="#FF0080"/>
<circle cx="404.3" cy="14.9" r="1.6" fill="#FF0080"/>
<polygon points="278.3,51.1 278.9,52.5 280.4,52.6 279.2,53.5 279.6,55.0 278.3,54.2 277.0,55.0 277.4,53.5 276.2,52.6 277.7,52.5" fill="#008000"/>
<polygon points="292.3,51.6 292.9,53.0 294.4,53.1 293.2,54.1 293.6,55.6 292.3,54.7 291.0,55.6 291.4,54.1 290.2,53.1 291.7,53.0" fill="#008000"/>
<polygon points="306.3,42.8 306.9,44.3 308.4,44.4 307.2,45.3 307.6,46.8 306.3,46.0 305.0,46.8 305.4,45.3 304.2,44.4 305.7,44.3" fill="#008000"/>
<polygon points="320.3,33.3 320.9,34.7 322.4,34.8 321.2,35.7 321.6,37.2 320.3,36.4 319.0,37.2 319.4,35.7 318.2,34.8 319.7,34.7" fill="#008000"/>
<polygon points="334.3,33.3 334.9,34.7 336.4,34.8 335.2,35.7 335.6,37.2 334.3,36.4 333.0,37.2 333.4,35.7 332.2,34.8 333.7,34.7" fill="#008000"/>
<polygon points="348.3,25.0 348.9,26.5 350.4,26.5 349.2,27.5 349.6,29.0 348.3,28.2 347.0,29.0 347.4,27.5 346.2,26.5 347.7,26.5" fill="#008000"/>
<polygon points="362.3,26.4 362.9,27.8 364.4,27.9 363.2,28.9 363.6,30.4 362.3,29.5 361.0,30.4 361.4,28.9 360.2,27.9 361.7,27.8" fill="#008000"/>
<polygon points="376.3,20.9 376.9,22.4 378.4,22.4 377.2,23.4 377.6,24.9 376.3,24.0 375.0,24.9 375.4,23.4 374.2,22.4 375.7,22.4" fill="#008000"/>
<polygon points="390.3,23.7 390.9,25.1 392.4,25.2 391.2,26.1 391.6,27.6 390.3,26.8 389.0,27.6 389.4,26.1 388.2,25.2 389.7,25.1" fill="#008000"/>
<polygon points="404.3,27.8 404.9,29.2 406.4,29.3 405.2,30.2 405.6,31.7 404.3,30.9 403.0,31.7 403.4,30.2 402.2,29.3 403.7,29.2" fill="#008000"/>
<circle cx="278.3" cy="38.7" r="1.6" fill="#FF0000"/>
<line x1="278.1" y1="39.2" x2="279.2" y2="38.0" stroke="#fff" stroke-opacity="0.8" stroke-width="0.45"/>
<circle cx="292.3" cy="30.8" r="1.6" fill="#FF0000"/>
<line x1="292.1" y1="31.3" x2="293.2" y2="30.1" stroke="#fff" stroke-opacity="0.8" stroke-width="0.45"/>
<circle cx="306.3" cy="23.4" r="1.6" fill="#FF0000"/>
<line x1="306.1" y1="23.9" x2="307.2" y2="22.7" stroke="#fff" stroke-opacity="0.8" stroke-width="0.45"/>
<circle cx="320.3" cy="17.6" r="1.6" fill="#FF0000"/>
<line x1="320.1" y1="18.1" x2="321.2" y2="16.9" stroke="#fff" stroke-opacity="0.8" stroke-width="0.45"/>
<circle cx="334.3" cy="21.5" r="1.6" fill="#FF0000"/>
<line x1="334.1" y1="22.0" x2="335.2" y2="20.8" stroke="#fff" stroke-opacity="0.8" stroke-width="0.45"/>
<circle cx="348.3" cy="21.7" r="1.6" fill="#FF0000"/>
<line x1="348.1" y1="22.2" x2="349.2" y2="21.0" stroke="#fff" stroke-opacity="0.8" stroke-width="0.45"/>
<circle cx="362.3" cy="18.2" r="1.6" fill="#FF0000"/>
<line x1="362.1" y1="18.7" x2="363.2" y2="17.5" stroke="#fff" stroke-opacity="0.8" stroke-width="0.45"/>
<circle cx="376.3" cy="23.7" r="1.6" fill="#FF0000"/>
<line x1="376.1" y1="24.2" x2="377.2" y2="23.0" stroke="#fff" stroke-opacity="0.8" stroke-width="0.45"/>
<circle cx="390.3" cy="23.9" r="1.6" fill="#FF0000"/>
<line x1="390.1" y1="24.4" x2="391.2" y2="23.2" stroke="#fff" stroke-opacity="0.8" stroke-width="0.45"/>
<circle cx="404.3" cy="25.8" r="1.6" fill="#FF0000"/>
<line x1="404.1" y1="26.3" x2="405.2" y2="25.1" stroke="#fff" stroke-opacity="0.8" stroke-width="0.45"/>
<rect x="406.4" y="3.5" width="28.7" height="75.7" fill="#fff" stroke="#aaa" stroke-width="0.6"/>
<line x1="407.9" y1="7.9" x2="418.2" y2="7.9" stroke="#000000" stroke-opacity="0.35" stroke-width="0.6"/>
<rect x="411.1" y="6.4" width="3.0" height="3.0" fill="#000000"/>
<text x="419.5" y="10.0" font-size="6.3" text-anchor="start" fill="#3a3a3a" textLength="6.5" lengthAdjust="spacingAndGlyphs" stroke="#3a3a3a" stroke-width="0.0" >DC</text>
<line x1="407.9" y1="14.7" x2="418.2" y2="14.7" stroke="#FF80FF" stroke-opacity="0.35" stroke-width="0.6"/>
<circle cx="412.6" cy="14.7" r="1.6" fill="#FF80FF"/>
<text x="419.5" y="16.8" font-size="6.3" text-anchor="start" fill="#3a3a3a" textLength="15.0" lengthAdjust="spacingAndGlyphs" stroke="#3a3a3a" stroke-width="0.0" >K-shell</text>
<line x1="407.9" y1="21.5" x2="418.2" y2="21.5" stroke="#0000FF" stroke-opacity="0.35" stroke-width="0.6"/>
<polygon points="412.6,19.2 414.7,22.8 410.5,22.8" fill="#0000FF"/>
<text x="419.5" y="23.6" font-size="6.3" text-anchor="start" fill="#3a3a3a" textLength="6.5" lengthAdjust="spacingAndGlyphs" stroke="#3a3a3a" stroke-width="0.0" >PL</text>
<line x1="407.9" y1="28.2" x2="418.2" y2="28.2" stroke="#008080" stroke-opacity="0.35" stroke-width="0.6"/>
<polygon points="412.6,30.4 414.7,26.9 410.5,26.9" fill="#008080"/>
<text x="419.5" y="30.3" font-size="6.3" text-anchor="start" fill="#3a3a3a" textLength="13.8" lengthAdjust="spacingAndGlyphs" stroke="#3a3a3a" stroke-width="0.0" >ECRM</text>
<line x1="407.9" y1="35.0" x2="418.2" y2="35.0" stroke="#FF00FF" stroke-opacity="0.35" stroke-width="0.6"/>
<polygon points="410.4,35.0 413.9,32.9 413.9,37.1" fill="#FF00FF"/>
<text x="419.5" y="37.1" font-size="6.3" text-anchor="start" fill="#3a3a3a" textLength="10.5" lengthAdjust="spacingAndGlyphs" stroke="#3a3a3a" stroke-width="0.0" >GSM</text>
<line x1="407.9" y1="41.8" x2="418.2" y2="41.8" stroke="#808000" stroke-opacity="0.35" stroke-width="0.6"/>
<polygon points="414.8,41.8 411.2,39.7 411.2,43.9" fill="#808000"/>
<text x="419.5" y="43.9" font-size="6.3" text-anchor="start" fill="#3a3a3a" textLength="7.8" lengthAdjust="spacingAndGlyphs" stroke="#3a3a3a" stroke-width="0.0" >GSI</text>
<line x1="407.9" y1="48.6" x2="418.2" y2="48.6" stroke="#000080" stroke-opacity="0.35" stroke-width="0.6"/>
<polygon points="412.6,46.4 414.3,48.6 412.6,50.8 410.8,48.6" fill="#000080"/>
<text x="419.5" y="50.7" font-size="6.3" text-anchor="start" fill="#3a3a3a" textLength="14.5" lengthAdjust="spacingAndGlyphs" stroke="#3a3a3a" stroke-width="0.0" >MCGM</text>
<line x1="407.9" y1="55.4" x2="418.2" y2="55.4" stroke="#800000" stroke-opacity="0.35" stroke-width="0.6"/>
<circle cx="412.6" cy="55.4" r="1.6" fill="#800000"/>
<text x="419.5" y="57.5" font-size="6.3" text-anchor="start" fill="#3a3a3a" textLength="4.6" lengthAdjust="spacingAndGlyphs" stroke="#3a3a3a" stroke-width="0.0" >CI</text>
<line x1="407.9" y1="62.1" x2="418.2" y2="62.1" stroke="#FF0080" stroke-opacity="0.35" stroke-width="0.6"/>
<circle cx="412.6" cy="62.1" r="1.6" fill="#FF0080"/>
<text x="419.5" y="64.2" font-size="6.3" text-anchor="start" fill="#3a3a3a" textLength="13.0" lengthAdjust="spacingAndGlyphs" stroke="#3a3a3a" stroke-width="0.0" >HVGC</text>
<line x1="407.9" y1="68.9" x2="418.2" y2="68.9" stroke="#008000" stroke-opacity="0.35" stroke-width="0.6"/>
<polygon points="412.6,66.6 413.2,68.1 414.8,68.2 413.5,69.2 413.9,70.8 412.6,69.9 411.2,70.8 411.6,69.2 410.4,68.2 412.0,68.1" fill="#008000"/>
<text x="419.5" y="71.0" font-size="6.3" text-anchor="start" fill="#3a3a3a" textLength="13.8" lengthAdjust="spacingAndGlyphs" stroke="#3a3a3a" stroke-width="0.0" >CSRM</text>
<line x1="407.9" y1="75.7" x2="418.2" y2="75.7" stroke="#FF0000" stroke-opacity="0.35" stroke-width="0.6"/>
<circle cx="412.6" cy="75.7" r="1.6" fill="#FF0000"/>
<text x="419.5" y="77.8" font-size="6.3" text-anchor="start" fill="#3a3a3a" textLength="10.5" lengthAdjust="spacingAndGlyphs" stroke="#3a3a3a" stroke-width="0.0" >SGM</text>
<text x="366.5" y="195.5" style="font-family:Liberation Serif,serif" font-size="17.2" fill="#111" text-anchor="middle">(b) polbooks</text>
<line x1="507.2" y1="142.2" x2="507.2" y2="5.4" stroke="#555" stroke-width="0.8"/>
<line x1="507.2" y1="142.2" x2="667.6" y2="142.2" stroke="#555" stroke-width="0.8"/>
<line x1="507.2" y1="142.2" x2="507.2" y2="144.4" stroke="#444" stroke-width="0.75"/>
<text x="507.2" y="151.7" font-size="6.3" text-anchor="middle" fill="#2a2a2a" textLength="10.1" lengthAdjust="spacingAndGlyphs" stroke="#2a2a2a" stroke-width="0.1" >0.00</text>
<line x1="520.6" y1="142.2" x2="520.6" y2="143.5" stroke="#444" stroke-width="0.75"/>
<line x1="533.9" y1="142.2" x2="533.9" y2="144.4" stroke="#444" stroke-width="0.75"/>
<text x="533.9" y="151.7" font-size="6.3" text-anchor="middle" fill="#2a2a2a" textLength="10.1" lengthAdjust="spacingAndGlyphs" stroke="#2a2a2a" stroke-width="0.1" >0.02</text>
<line x1="547.3" y1="142.2" x2="547.3" y2="143.5" stroke="#444" stroke-width="0.75"/>
<line x1="560.7" y1="142.2" x2="560.7" y2="144.4" stroke="#444" stroke-width="0.75"/>
<text x="560.7" y="151.7" font-size="6.3" text-anchor="middle" fill="#2a2a2a" textLength="10.1" lengthAdjust="spacingAndGlyphs" stroke="#2a2a2a" stroke-width="0.1" >0.04</text>
<line x1="574.0" y1="142.2" x2="574.0" y2="143.5" stroke="#444" stroke-width="0.75"/>
<line x1="587.4" y1="142.2" x2="587.4" y2="144.4" stroke="#444" stroke-width="0.75"/>
<text x="587.4" y="151.7" font-size="6.3" text-anchor="middle" fill="#2a2a2a" textLength="10.1" lengthAdjust="spacingAndGlyphs" stroke="#2a2a2a" stroke-width="0.1" >0.06</text>
<line x1="600.8" y1="142.2" x2="600.8" y2="143.5" stroke="#444" stroke-width="0.75"/>
<line x1="614.1" y1="142.2" x2="614.1" y2="144.4" stroke="#444" stroke-width="0.75"/>
<text x="614.1" y="151.7" font-size="6.3" text-anchor="middle" fill="#2a2a2a" textLength="10.1" lengthAdjust="spacingAndGlyphs" stroke="#2a2a2a" stroke-width="0.1" >0.08</text>
<line x1="627.5" y1="142.2" x2="627.5" y2="143.5" stroke="#444" stroke-width="0.75"/>
<line x1="640.9" y1="142.2" x2="640.9" y2="144.4" stroke="#444" stroke-width="0.75"/>
<text x="640.9" y="151.7" font-size="6.3" text-anchor="middle" fill="#2a2a2a" textLength="10.1" lengthAdjust="spacingAndGlyphs" stroke="#2a2a2a" stroke-width="0.1" >0.10</text>
<line x1="654.2" y1="142.2" x2="654.2" y2="143.5" stroke="#444" stroke-width="0.75"/>
<line x1="667.6" y1="142.2" x2="667.6" y2="144.4" stroke="#444" stroke-width="0.75"/>
<text x="667.6" y="151.7" font-size="6.3" text-anchor="middle" fill="#2a2a2a" textLength="10.1" lengthAdjust="spacingAndGlyphs" stroke="#2a2a2a" stroke-width="0.1" >0.12</text>
<line x1="505.0" y1="142.2" x2="507.2" y2="142.2" stroke="#444" stroke-width="0.75"/>
<text x="503.8" y="143.7" font-size="6.3" text-anchor="end" fill="#2a2a2a" textLength="9.7" lengthAdjust="spacingAndGlyphs" stroke="#2a2a2a" stroke-width="0.1" >0.70</text>
<line x1="505.0" y1="119.4" x2="507.2" y2="119.4" stroke="#444" stroke-width="0.75"/>
<text x="503.8" y="120.9" font-size="6.3" text-anchor="end" fill="#2a2a2a" textLength="9.7" lengthAdjust="spacingAndGlyphs" stroke="#2a2a2a" stroke-width="0.1" >0.75</text>
<line x1="505.0" y1="96.6" x2="507.2" y2="96.6" stroke="#444" stroke-width="0.75"/>
<text x="503.8" y="98.1" font-size="6.3" text-anchor="end" fill="#2a2a2a" textLength="9.7" lengthAdjust="spacingAndGlyphs" stroke="#2a2a2a" stroke-width="0.1" >0.80</text>
<line x1="505.0" y1="73.8" x2="507.2" y2="73.8" stroke="#444" stroke-width="0.75"/>
<text x="503.8" y="75.3" font-size="6.3" text-anchor="end" fill="#2a2a2a" textLength="9.7" lengthAdjust="spacingAndGlyphs" stroke="#2a2a2a" stroke-width="0.1" >0.85</text>
<line x1="505.0" y1="51.0" x2="507.2" y2="51.0" stroke="#444" stroke-width="0.75"/>
<text x="503.8" y="52.5" font-size="6.3" text-anchor="end" fill="#2a2a2a" textLength="9.7" lengthAdjust="spacingAndGlyphs" stroke="#2a2a2a" stroke-width="0.1" >0.90</text>
<line x1="505.0" y1="28.2" x2="507.2" y2="28.2" stroke="#444" stroke-width="0.75"/>
<text x="503.8" y="29.7" font-size="6.3" text-anchor="end" fill="#2a2a2a" textLength="9.7" lengthAdjust="spacingAndGlyphs" stroke="#2a2a2a" stroke-width="0.1" >0.95</text>
<line x1="505.0" y1="5.4" x2="507.2" y2="5.4" stroke="#444" stroke-width="0.75"/>
<text x="503.8" y="6.9" font-size="6.3" text-anchor="end" fill="#2a2a2a" textLength="9.7" lengthAdjust="spacingAndGlyphs" stroke="#2a2a2a" stroke-width="0.1" >1.00</text>
<line x1="505.9" y1="130.8" x2="507.2" y2="130.8" stroke="#444" stroke-width="0.75"/>
<line x1="505.9" y1="108.0" x2="507.2" y2="108.0" stroke="#444" stroke-width="0.75"/>
<line x1="505.9" y1="85.2" x2="507.2" y2="85.2" stroke="#444" stroke-width="0.75"/>
<line x1="505.9" y1="62.4" x2="507.2" y2="62.4" stroke="#444" stroke-width="0.75"/>
<line x1="505.9" y1="39.6" x2="507.2" y2="39.6" stroke="#444" stroke-width="0.75"/>
<line x1="505.9" y1="16.8" x2="507.2" y2="16.8" stroke="#444" stroke-width="0.75"/>
<text x="486.0" y="80.6" font-size="8.8" fill="#3a3a3a" transform="rotate(-90 486.0 80.6)" text-anchor="middle">τ</text>
<text x="587.8" y="162.9" font-size="7.3" fill="#333" text-anchor="middle" textLength="3.6" lengthAdjust="spacingAndGlyphs">β</text>
<polyline fill="none" stroke="#000000" stroke-opacity="0.45" stroke-width="0.55" points="520.6,66.5 533.9,66.0 547.3,49.2 560.7,36.4 574.0,36.4 587.4,36.4 600.8,35.0 614.1,36.0 627.5,36.0 640.9,37.3"/>
<polyline fill="none" stroke="#FF80FF" stroke-opacity="0.45" stroke-width="0.55" points="520.6,69.2 533.9,61.0 547.3,50.1 560.7,47.4 574.0,45.1 587.4,46.4 600.8,46.4 614.1,46.4 627.5,46.4 640.9,45.5"/>
<polyline fill="none" stroke="#0000FF" stroke-opacity="0.45" stroke-width="0.55" points="520.6,72.9 533.9,72.0 547.3,59.2 560.7,55.6 574.0,53.7 587.4,53.3 600.8,52.4 614.1,52.4 627.5,53.3 640.9,54.2"/>
<polyline fill="none" stroke="#008080" stroke-opacity="0.45" stroke-width="0.55" points="520.6,41.9 533.9,30.5 547.3,34.1 560.7,39.6 574.0,44.2 587.4,46.4 600.8,49.6 614.1,51.9 627.5,53.3 640.9,57.8"/>
<polyline fill="none" stroke="#FF00FF" stroke-opacity="0.45" stroke-width="0.55" points="520.6,69.2 533.9,67.0 547.3,67.9 560.7,71.1 574.0,73.8 587.4,76.5 600.8,78.4 614.1,81.6 627.5,81.6 640.9,84.7"/>
<polyline fill="none" stroke="#808000" stroke-opacity="0.45" stroke-width="0.55" points="520.6,52.4 533.9,50.1 547.3,32.8 560.7,29.1 574.0,25.9 587.4,25.9 600.8,25.0 614.1,27.3 627.5,28.2 640.9,30.5"/>
<polyline fill="none" stroke="#000080" stroke-opacity="0.45" stroke-width="0.55" points="520.6,43.7 533.9,36.4 547.3,31.8 560.7,36.0 574.0,39.6 587.4,41.9 600.8,42.8 614.1,46.4 627.5,47.4 640.9,50.1"/>
<polyline fill="none" stroke="#800000" stroke-opacity="0.45" stroke-width="0.55" points="520.6,57.4 533.9,56.0 547.3,41.9 560.7,38.7 574.0,36.4 587.4,36.4 600.8,35.5 614.1,37.3 627.5,37.3 640.9,39.6"/>
<polyline fill="none" stroke="#FF0080" stroke-opacity="0.45" stroke-width="0.55" points="520.6,45.5 533.9,39.1 547.3,36.0 560.7,42.8 574.0,46.4 587.4,49.6 600.8,52.4 614.1,55.6 627.5,57.4 640.9,60.1"/>
<polyline fill="none" stroke="#008000" stroke-opacity="0.45" stroke-width="0.55" points="520.6,44.2 533.9,32.8 547.3,32.8 560.7,37.3 574.0,39.6 587.4,44.2 600.8,45.5 614.1,48.7 627.5,50.1 640.9,52.4"/>
<polyline fill="none" stroke="#FF0000" stroke-opacity="0.45" stroke-width="0.55" points="520.6,46.4 533.9,39.1 547.3,23.6 560.7,21.4 574.0,22.3 587.4,23.6 600.8,25.5 614.1,29.6 627.5,30.5 640.9,35.0"/>
<rect x="519.2" y="65.1" width="2.8" height="2.8" fill="#000000"/>
<rect x="532.5" y="64.6" width="2.8" height="2.8" fill="#000000"/>
<rect x="545.9" y="47.8" width="2.8" height="2.8" fill="#000000"/>
<rect x="559.3" y="35.0" width="2.8" height="2.8" fill="#000000"/>
<rect x="572.6" y="35.0" width="2.8" height="2.8" fill="#000000"/>
<rect x="586.0" y="35.0" width="2.8" height="2.8" fill="#000000"/>
<rect x="599.4" y="33.6" width="2.8" height="2.8" fill="#000000"/>
<rect x="612.7" y="34.5" width="2.8" height="2.8" fill="#000000"/>
<rect x="626.1" y="34.5" width="2.8" height="2.8" fill="#000000"/>
<rect x="639.5" y="35.9" width="2.8" height="2.8" fill="#000000"/>
<circle cx="520.6" cy="69.2" r="1.6" fill="#FF80FF"/>
<circle cx="533.9" cy="61.0" r="1.6" fill="#FF80FF"/>
<circle cx="547.3" cy="50.1" r="1.6" fill="#FF80FF"/>
<circle cx="560.7" cy="47.4" r="1.6" fill="#FF80FF"/>
<circle cx="574.0" cy="45.1" r="1.6" fill="#FF80FF"/>
<circle cx="587.4" cy="46.4" r="1.6" fill="#FF80FF"/>
<circle cx="600.8" cy="46.4" r="1.6" fill="#FF80FF"/>
<circle cx="614.1" cy="46.4" r="1.6" fill="#FF80FF"/>
<circle cx="627.5" cy="46.4" r="1.6" fill="#FF80FF"/>
<circle cx="640.9" cy="45.5" r="1.6" fill="#FF80FF"/>
<polygon points="520.6,70.8 522.5,74.1 518.6,74.1" fill="#0000FF"/>
<polygon points="533.9,69.9 535.9,73.2 532.0,73.2" fill="#0000FF"/>
<polygon points="547.3,57.1 549.3,60.5 545.3,60.5" fill="#0000FF"/>
<polygon points="560.7,53.5 562.6,56.8 558.7,56.8" fill="#0000FF"/>
<polygon points="574.0,51.7 576.0,55.0 572.1,55.0" fill="#0000FF"/>
<polygon points="587.4,51.2 589.4,54.5 585.4,54.5" fill="#0000FF"/>
<polygon points="600.8,50.3 602.7,53.6 598.8,53.6" fill="#0000FF"/>
<polygon points="614.1,50.3 616.1,53.6 612.2,53.6" fill="#0000FF"/>
<polygon points="627.5,51.2 629.5,54.5 625.5,54.5" fill="#0000FF"/>
<polygon points="640.9,52.1 642.8,55.4 638.9,55.4" fill="#0000FF"/>
<polygon points="520.6,44.0 522.5,40.6 518.6,40.6" fill="#008080"/>
<polygon points="533.9,32.6 535.9,29.2 532.0,29.2" fill="#008080"/>
<polygon points="547.3,36.2 549.3,32.9 545.3,32.9" fill="#008080"/>
<polygon points="560.7,41.7 562.6,38.4 558.7,38.4" fill="#008080"/>
<polygon points="574.0,46.2 576.0,42.9 572.1,42.9" fill="#008080"/>
<polygon points="587.4,48.5 589.4,45.2 585.4,45.2" fill="#008080"/>
<polygon points="600.8,51.7 602.7,48.4 598.8,48.4" fill="#008080"/>
<polygon points="614.1,54.0 616.1,50.7 612.2,50.7" fill="#008080"/>
<polygon points="627.5,55.4 629.5,52.0 625.5,52.0" fill="#008080"/>
<polygon points="640.9,59.9 642.8,56.6 638.9,56.6" fill="#008080"/>
<polygon points="518.5,69.2 521.8,67.3 521.8,71.2" fill="#FF00FF"/>
<polygon points="531.9,67.0 535.2,65.0 535.2,68.9" fill="#FF00FF"/>
<polygon points="545.2,67.9 548.5,65.9 548.5,69.8" fill="#FF00FF"/>
<polygon points="558.6,71.1 561.9,69.1 561.9,73.0" fill="#FF00FF"/>
<polygon points="572.0,73.8 575.3,71.8 575.3,75.8" fill="#FF00FF"/>
<polygon points="585.3,76.5 588.6,74.6 588.6,78.5" fill="#FF00FF"/>
<polygon points="598.7,78.4 602.0,76.4 602.0,80.3" fill="#FF00FF"/>
<polygon points="612.1,81.6 615.4,79.6 615.4,83.5" fill="#FF00FF"/>
<polygon points="625.4,81.6 628.7,79.6 628.7,83.5" fill="#FF00FF"/>
<polygon points="638.8,84.7 642.1,82.8 642.1,86.7" fill="#FF00FF"/>
<polygon points="522.6,52.4 519.3,50.4 519.3,54.3" fill="#808000"/>
<polygon points="536.0,50.1 532.7,48.1 532.7,52.1" fill="#808000"/>
<polygon points="549.4,32.8 546.1,30.8 546.1,34.7" fill="#808000"/>
<polygon points="562.7,29.1 559.4,27.1 559.4,31.1" fill="#808000"/>
<polygon points="576.1,25.9 572.8,23.9 572.8,27.9" fill="#808000"/>
<polygon points="589.5,25.9 586.2,23.9 586.2,27.9" fill="#808000"/>
<polygon points="602.8,25.0 599.5,23.0 599.5,27.0" fill="#808000"/>
<polygon points="616.2,27.3 612.9,25.3 612.9,29.3" fill="#808000"/>
<polygon points="629.6,28.2 626.3,26.2 626.3,30.2" fill="#808000"/>
<polygon points="642.9,30.5 639.6,28.5 639.6,32.5" fill="#808000"/>
<polygon points="520.6,41.6 522.2,43.7 520.6,45.8 518.9,43.7" fill="#000080"/>
<polygon points="533.9,34.3 535.6,36.4 533.9,38.5 532.3,36.4" fill="#000080"/>
<polygon points="547.3,29.8 549.0,31.8 547.3,33.9 545.6,31.8" fill="#000080"/>
<polygon points="560.7,33.9 562.3,36.0 560.7,38.0 559.0,36.0" fill="#000080"/>
<polygon points="574.0,37.5 575.7,39.6 574.0,41.7 572.4,39.6" fill="#000080"/>
<polygon points="587.4,39.8 589.1,41.9 587.4,44.0 585.7,41.9" fill="#000080"/>
<polygon points="600.8,40.7 602.4,42.8 600.8,44.9 599.1,42.8" fill="#000080"/>
<polygon points="614.1,44.4 615.8,46.4 614.1,48.5 612.5,46.4" fill="#000080"/>
<polygon points="627.5,45.3 629.2,47.4 627.5,49.4 625.8,47.4" fill="#000080"/>
<polygon points="640.9,48.0 642.5,50.1 640.9,52.2 639.2,50.1" fill="#000080"/>
<circle cx="520.6" cy="57.4" r="1.6" fill="#800000"/>
<circle cx="533.9" cy="56.0" r="1.6" fill="#800000"/>
<circle cx="547.3" cy="41.9" r="1.6" fill="#800000"/>
<circle cx="560.7" cy="38.7" r="1.6" fill="#800000"/>
<circle cx="574.0" cy="36.4" r="1.6" fill="#800000"/>
<circle cx="587.4" cy="36.4" r="1.6" fill="#800000"/>
<circle cx="600.8" cy="35.5" r="1.6" fill="#800000"/>
<circle cx="614.1" cy="37.3" r="1.6" fill="#800000"/>
<circle cx="627.5" cy="37.3" r="1.6" fill="#800000"/>
<circle cx="640.9" cy="39.6" r="1.6" fill="#800000"/>
<circle cx="520.6" cy="45.5" r="1.6" fill="#FF0080"/>
<circle cx="533.9" cy="39.1" r="1.6" fill="#FF0080"/>
<circle cx="547.3" cy="36.0" r="1.6" fill="#FF0080"/>
<circle cx="560.7" cy="42.8" r="1.6" fill="#FF0080"/>
<circle cx="574.0" cy="46.4" r="1.6" fill="#FF0080"/>
<circle cx="587.4" cy="49.6" r="1.6" fill="#FF0080"/>
<circle cx="600.8" cy="52.4" r="1.6" fill="#FF0080"/>
<circle cx="614.1" cy="55.6" r="1.6" fill="#FF0080"/>
<circle cx="627.5" cy="57.4" r="1.6" fill="#FF0080"/>
<circle cx="640.9" cy="60.1" r="1.6" fill="#FF0080"/>
<polygon points="520.6,42.0 521.1,43.4 522.6,43.5 521.5,44.4 521.9,45.9 520.6,45.1 519.3,45.9 519.7,44.4 518.5,43.5 520.0,43.4" fill="#008000"/>
<polygon points="533.9,30.6 534.5,32.0 536.0,32.1 534.8,33.0 535.2,34.5 533.9,33.7 532.6,34.5 533.0,33.0 531.9,32.1 533.4,32.0" fill="#008000"/>
<polygon points="547.3,30.6 547.9,32.0 549.4,32.1 548.2,33.0 548.6,34.5 547.3,33.7 546.0,34.5 546.4,33.0 545.2,32.1 546.7,32.0" fill="#008000"/>
<polygon points="560.7,35.1 561.2,36.6 562.7,36.6 561.6,37.6 562.0,39.1 560.7,38.3 559.4,39.1 559.8,37.6 558.6,36.6 560.1,36.6" fill="#008000"/>
<polygon points="574.0,37.4 574.6,38.8 576.1,38.9 574.9,39.9 575.3,41.4 574.0,40.5 572.7,41.4 573.1,39.9 572.0,38.9 573.5,38.8" fill="#008000"/>
<polygon points="587.4,42.0 588.0,43.4 589.5,43.5 588.3,44.4 588.7,45.9 587.4,45.1 586.1,45.9 586.5,44.4 585.3,43.5 586.8,43.4" fill="#008000"/>
<polygon points="600.8,43.3 601.3,44.8 602.8,44.9 601.7,45.8 602.1,47.3 600.8,46.5 599.5,47.3 599.9,45.8 598.7,44.9 600.2,44.8" fill="#008000"/>
<polygon points="614.1,46.5 614.7,48.0 616.2,48.0 615.0,49.0 615.4,50.5 614.1,49.7 612.8,50.5 613.2,49.0 612.1,48.0 613.6,48.0" fill="#008000"/>
<polygon points="627.5,47.9 628.1,49.3 629.6,49.4 628.4,50.4 628.8,51.9 627.5,51.0 626.2,51.9 626.6,50.4 625.4,49.4 626.9,49.3" fill="#008000"/>
<polygon points="640.9,50.2 641.4,51.6 642.9,51.7 641.8,52.7 642.2,54.1 640.9,53.3 639.6,54.1 640.0,52.7 638.8,51.7 640.3,51.6" fill="#008000"/>
<circle cx="520.6" cy="46.4" r="1.6" fill="#FF0000"/>
<line x1="520.4" y1="46.9" x2="521.5" y2="45.7" stroke="#fff" stroke-opacity="0.8" stroke-width="0.45"/>
<circle cx="533.9" cy="39.1" r="1.6" fill="#FF0000"/>
<line x1="533.7" y1="39.6" x2="534.8" y2="38.4" stroke="#fff" stroke-opacity="0.8" stroke-width="0.45"/>
<circle cx="547.3" cy="23.6" r="1.6" fill="#FF0000"/>
<line x1="547.1" y1="24.1" x2="548.2" y2="22.9" stroke="#fff" stroke-opacity="0.8" stroke-width="0.45"/>
<circle cx="560.7" cy="21.4" r="1.6" fill="#FF0000"/>
<line x1="560.5" y1="21.9" x2="561.6" y2="20.7" stroke="#fff" stroke-opacity="0.8" stroke-width="0.45"/>
<circle cx="574.0" cy="22.3" r="1.6" fill="#FF0000"/>
<line x1="573.8" y1="22.8" x2="574.9" y2="21.6" stroke="#fff" stroke-opacity="0.8" stroke-width="0.45"/>
<circle cx="587.4" cy="23.6" r="1.6" fill="#FF0000"/>
<line x1="587.2" y1="24.1" x2="588.3" y2="22.9" stroke="#fff" stroke-opacity="0.8" stroke-width="0.45"/>
<circle cx="600.8" cy="25.5" r="1.6" fill="#FF0000"/>
<line x1="600.6" y1="26.0" x2="601.7" y2="24.8" stroke="#fff" stroke-opacity="0.8" stroke-width="0.45"/>
<circle cx="614.1" cy="29.6" r="1.6" fill="#FF0000"/>
<line x1="613.9" y1="30.1" x2="615.0" y2="28.9" stroke="#fff" stroke-opacity="0.8" stroke-width="0.45"/>
<circle cx="627.5" cy="30.5" r="1.6" fill="#FF0000"/>
<line x1="627.3" y1="31.0" x2="628.4" y2="29.8" stroke="#fff" stroke-opacity="0.8" stroke-width="0.45"/>
<circle cx="640.9" cy="35.0" r="1.6" fill="#FF0000"/>
<line x1="640.7" y1="35.5" x2="641.8" y2="34.3" stroke="#fff" stroke-opacity="0.8" stroke-width="0.45"/>
<rect x="643.9" y="4.0" width="27.1" height="75.2" fill="#fff" stroke="#aaa" stroke-width="0.6"/>
<line x1="645.4" y1="8.4" x2="654.9" y2="8.4" stroke="#000000" stroke-opacity="0.35" stroke-width="0.6"/>
<rect x="648.2" y="6.9" width="3.0" height="3.0" fill="#000000"/>
<text x="656.2" y="10.5" font-size="6.3" text-anchor="start" fill="#3a3a3a" textLength="6.5" lengthAdjust="spacingAndGlyphs" stroke="#3a3a3a" stroke-width="0.0" >DC</text>
<line x1="645.4" y1="15.1" x2="654.9" y2="15.1" stroke="#FF80FF" stroke-opacity="0.35" stroke-width="0.6"/>
<circle cx="649.7" cy="15.1" r="1.6" fill="#FF80FF"/>
<text x="656.2" y="17.2" font-size="6.3" text-anchor="start" fill="#3a3a3a" textLength="15.0" lengthAdjust="spacingAndGlyphs" stroke="#3a3a3a" stroke-width="0.0" >K-shell</text>
<line x1="645.4" y1="21.9" x2="654.9" y2="21.9" stroke="#0000FF" stroke-opacity="0.35" stroke-width="0.6"/>
<polygon points="649.7,19.6 651.8,23.2 647.6,23.2" fill="#0000FF"/>
<text x="656.2" y="24.0" font-size="6.3" text-anchor="start" fill="#3a3a3a" textLength="6.5" lengthAdjust="spacingAndGlyphs" stroke="#3a3a3a" stroke-width="0.0" >PL</text>
<line x1="645.4" y1="28.6" x2="654.9" y2="28.6" stroke="#008080" stroke-opacity="0.35" stroke-width="0.6"/>
<polygon points="649.7,30.8 651.8,27.3 647.6,27.3" fill="#008080"/>
<text x="656.2" y="30.7" font-size="6.3" text-anchor="start" fill="#3a3a3a" textLength="13.8" lengthAdjust="spacingAndGlyphs" stroke="#3a3a3a" stroke-width="0.0" >ECRM</text>
<line x1="645.4" y1="35.3" x2="654.9" y2="35.3" stroke="#FF00FF" stroke-opacity="0.35" stroke-width="0.6"/>
<polygon points="647.5,35.3 651.1,33.2 651.1,37.4" fill="#FF00FF"/>
<text x="656.2" y="37.4" font-size="6.3" text-anchor="start" fill="#3a3a3a" textLength="10.5" lengthAdjust="spacingAndGlyphs" stroke="#3a3a3a" stroke-width="0.0" >GSM</text>
<line x1="645.4" y1="42.0" x2="654.9" y2="42.0" stroke="#808000" stroke-opacity="0.35" stroke-width="0.6"/>
<polygon points="651.9,42.0 648.4,40.0 648.4,44.1" fill="#808000"/>
<text x="656.2" y="44.1" font-size="6.3" text-anchor="start" fill="#3a3a3a" textLength="7.8" lengthAdjust="spacingAndGlyphs" stroke="#3a3a3a" stroke-width="0.0" >GSI</text>
<line x1="645.4" y1="48.8" x2="654.9" y2="48.8" stroke="#000080" stroke-opacity="0.35" stroke-width="0.6"/>
<polygon points="649.7,46.6 651.5,48.8 649.7,51.0 648.0,48.8" fill="#000080"/>
<text x="656.2" y="50.9" font-size="6.3" text-anchor="start" fill="#3a3a3a" textLength="14.5" lengthAdjust="spacingAndGlyphs" stroke="#3a3a3a" stroke-width="0.0" >MCGM</text>
<line x1="645.4" y1="55.5" x2="654.9" y2="55.5" stroke="#800000" stroke-opacity="0.35" stroke-width="0.6"/>
<circle cx="649.7" cy="55.5" r="1.6" fill="#800000"/>
<text x="656.2" y="57.6" font-size="6.3" text-anchor="start" fill="#3a3a3a" textLength="4.6" lengthAdjust="spacingAndGlyphs" stroke="#3a3a3a" stroke-width="0.0" >CI</text>
<line x1="645.4" y1="62.2" x2="654.9" y2="62.2" stroke="#FF0080" stroke-opacity="0.35" stroke-width="0.6"/>
<circle cx="649.7" cy="62.2" r="1.6" fill="#FF0080"/>
<text x="656.2" y="64.3" font-size="6.3" text-anchor="start" fill="#3a3a3a" textLength="13.0" lengthAdjust="spacingAndGlyphs" stroke="#3a3a3a" stroke-width="0.0" >HVGC</text>
<line x1="645.4" y1="69.0" x2="654.9" y2="69.0" stroke="#008000" stroke-opacity="0.35" stroke-width="0.6"/>
<polygon points="649.7,66.6 650.3,68.2 651.9,68.3 650.7,69.3 651.1,70.8 649.7,70.0 648.4,70.8 648.8,69.3 647.5,68.3 649.1,68.2" fill="#008000"/>
<text x="656.2" y="71.1" font-size="6.3" text-anchor="start" fill="#3a3a3a" textLength="13.8" lengthAdjust="spacingAndGlyphs" stroke="#3a3a3a" stroke-width="0.0" >CSRM</text>
<line x1="645.4" y1="75.7" x2="654.9" y2="75.7" stroke="#FF0000" stroke-opacity="0.35" stroke-width="0.6"/>
<circle cx="649.7" cy="75.7" r="1.6" fill="#FF0000"/>
<text x="656.2" y="77.8" font-size="6.3" text-anchor="start" fill="#3a3a3a" textLength="10.5" lengthAdjust="spacingAndGlyphs" stroke="#3a3a3a" stroke-width="0.0" >SGM</text>
<text x="592.1" y="195.5" style="font-family:Liberation Serif,serif" font-size="17.2" fill="#111" text-anchor="middle">(c) blogs</text>
<line x1="26.2" y1="367.2" x2="26.2" y2="238.4" stroke="#555" stroke-width="0.8"/>
<line x1="26.2" y1="367.2" x2="180.0" y2="367.2" stroke="#555" stroke-width="0.8"/>
<line x1="26.2" y1="367.2" x2="26.2" y2="369.4" stroke="#444" stroke-width="0.75"/>
<text x="26.2" y="376.7" font-size="6.3" text-anchor="middle" fill="#2a2a2a" textLength="10.1" lengthAdjust="spacingAndGlyphs" stroke="#2a2a2a" stroke-width="0.1" >0.00</text>
<line x1="39.0" y1="367.2" x2="39.0" y2="368.5" stroke="#444" stroke-width="0.75"/>
<line x1="51.8" y1="367.2" x2="51.8" y2="369.4" stroke="#444" stroke-width="0.75"/>
<text x="51.8" y="376.7" font-size="6.3" text-anchor="middle" fill="#2a2a2a" textLength="10.1" lengthAdjust="spacingAndGlyphs" stroke="#2a2a2a" stroke-width="0.1" >0.02</text>
<line x1="64.7" y1="367.2" x2="64.7" y2="368.5" stroke="#444" stroke-width="0.75"/>
<line x1="77.5" y1="367.2" x2="77.5" y2="369.4" stroke="#444" stroke-width="0.75"/>
<text x="77.5" y="376.7" font-size="6.3" text-anchor="middle" fill="#2a2a2a" textLength="10.1" lengthAdjust="spacingAndGlyphs" stroke="#2a2a2a" stroke-width="0.1" >0.04</text>
<line x1="90.3" y1="367.2" x2="90.3" y2="368.5" stroke="#444" stroke-width="0.75"/>
<line x1="103.1" y1="367.2" x2="103.1" y2="369.4" stroke="#444" stroke-width="0.75"/>
<text x="103.1" y="376.7" font-size="6.3" text-anchor="middle" fill="#2a2a2a" textLength="10.1" lengthAdjust="spacingAndGlyphs" stroke="#2a2a2a" stroke-width="0.1" >0.06</text>
<line x1="115.9" y1="367.2" x2="115.9" y2="368.5" stroke="#444" stroke-width="0.75"/>
<line x1="128.7" y1="367.2" x2="128.7" y2="369.4" stroke="#444" stroke-width="0.75"/>
<text x="128.7" y="376.7" font-size="6.3" text-anchor="middle" fill="#2a2a2a" textLength="10.1" lengthAdjust="spacingAndGlyphs" stroke="#2a2a2a" stroke-width="0.1" >0.08</text>
<line x1="141.6" y1="367.2" x2="141.6" y2="368.5" stroke="#444" stroke-width="0.75"/>
<line x1="154.4" y1="367.2" x2="154.4" y2="369.4" stroke="#444" stroke-width="0.75"/>
<text x="154.4" y="376.7" font-size="6.3" text-anchor="middle" fill="#2a2a2a" textLength="10.1" lengthAdjust="spacingAndGlyphs" stroke="#2a2a2a" stroke-width="0.1" >0.10</text>
<line x1="167.2" y1="367.2" x2="167.2" y2="368.5" stroke="#444" stroke-width="0.75"/>
<line x1="180.0" y1="367.2" x2="180.0" y2="369.4" stroke="#444" stroke-width="0.75"/>
<text x="180.0" y="376.7" font-size="6.3" text-anchor="middle" fill="#2a2a2a" textLength="10.1" lengthAdjust="spacingAndGlyphs" stroke="#2a2a2a" stroke-width="0.1" >0.12</text>
<line x1="24.0" y1="367.2" x2="26.2" y2="367.2" stroke="#444" stroke-width="0.75"/>
<text x="22.8" y="368.7" font-size="6.3" text-anchor="end" fill="#2a2a2a" textLength="9.7" lengthAdjust="spacingAndGlyphs" stroke="#2a2a2a" stroke-width="0.1" >0.25</text>
<line x1="24.0" y1="356.5" x2="26.2" y2="356.5" stroke="#444" stroke-width="0.75"/>
<text x="22.8" y="358.0" font-size="6.3" text-anchor="end" fill="#2a2a2a" textLength="9.7" lengthAdjust="spacingAndGlyphs" stroke="#2a2a2a" stroke-width="0.1" >0.30</text>
<line x1="24.0" y1="345.7" x2="26.2" y2="345.7" stroke="#444" stroke-width="0.75"/>
<text x="22.8" y="347.2" font-size="6.3" text-anchor="end" fill="#2a2a2a" textLength="9.7" lengthAdjust="spacingAndGlyphs" stroke="#2a2a2a" stroke-width="0.1" >0.35</text>
<line x1="24.0" y1="335.0" x2="26.2" y2="335.0" stroke="#444" stroke-width="0.75"/>
<text x="22.8" y="336.5" font-size="6.3" text-anchor="end" fill="#2a2a2a" textLength="9.7" lengthAdjust="spacingAndGlyphs" stroke="#2a2a2a" stroke-width="0.1" >0.40</text>
<line x1="24.0" y1="324.3" x2="26.2" y2="324.3" stroke="#444" stroke-width="0.75"/>
<text x="22.8" y="325.8" font-size="6.3" text-anchor="end" fill="#2a2a2a" textLength="9.7" lengthAdjust="spacingAndGlyphs" stroke="#2a2a2a" stroke-width="0.1" >0.45</text>
<line x1="24.0" y1="313.5" x2="26.2" y2="313.5" stroke="#444" stroke-width="0.75"/>
<text x="22.8" y="315.0" font-size="6.3" text-anchor="end" fill="#2a2a2a" textLength="9.7" lengthAdjust="spacingAndGlyphs" stroke="#2a2a2a" stroke-width="0.1" >0.50</text>
<line x1="24.0" y1="302.8" x2="26.2" y2="302.8" stroke="#444" stroke-width="0.75"/>
<text x="22.8" y="304.3" font-size="6.3" text-anchor="end" fill="#2a2a2a" textLength="9.7" lengthAdjust="spacingAndGlyphs" stroke="#2a2a2a" stroke-width="0.1" >0.55</text>
<line x1="24.0" y1="292.1" x2="26.2" y2="292.1" stroke="#444" stroke-width="0.75"/>
<text x="22.8" y="293.6" font-size="6.3" text-anchor="end" fill="#2a2a2a" textLength="9.7" lengthAdjust="spacingAndGlyphs" stroke="#2a2a2a" stroke-width="0.1" >0.60</text>
<line x1="24.0" y1="281.3" x2="26.2" y2="281.3" stroke="#444" stroke-width="0.75"/>
<text x="22.8" y="282.8" font-size="6.3" text-anchor="end" fill="#2a2a2a" textLength="9.7" lengthAdjust="spacingAndGlyphs" stroke="#2a2a2a" stroke-width="0.1" >0.65</text>
<line x1="24.0" y1="270.6" x2="26.2" y2="270.6" stroke="#444" stroke-width="0.75"/>
<text x="22.8" y="272.1" font-size="6.3" text-anchor="end" fill="#2a2a2a" textLength="9.7" lengthAdjust="spacingAndGlyphs" stroke="#2a2a2a" stroke-width="0.1" >0.70</text>
<line x1="24.0" y1="259.9" x2="26.2" y2="259.9" stroke="#444" stroke-width="0.75"/>
<text x="22.8" y="261.4" font-size="6.3" text-anchor="end" fill="#2a2a2a" textLength="9.7" lengthAdjust="spacingAndGlyphs" stroke="#2a2a2a" stroke-width="0.1" >0.75</text>
<line x1="24.0" y1="249.1" x2="26.2" y2="249.1" stroke="#444" stroke-width="0.75"/>
<text x="22.8" y="250.6" font-size="6.3" text-anchor="end" fill="#2a2a2a" textLength="9.7" lengthAdjust="spacingAndGlyphs" stroke="#2a2a2a" stroke-width="0.1" >0.80</text>
<line x1="24.0" y1="238.4" x2="26.2" y2="238.4" stroke="#444" stroke-width="0.75"/>
<text x="22.8" y="239.9" font-size="6.3" text-anchor="end" fill="#2a2a2a" textLength="9.7" lengthAdjust="spacingAndGlyphs" stroke="#2a2a2a" stroke-width="0.1" >0.85</text>
<line x1="24.9" y1="361.8" x2="26.2" y2="361.8" stroke="#444" stroke-width="0.75"/>
<line x1="24.9" y1="351.1" x2="26.2" y2="351.1" stroke="#444" stroke-width="0.75"/>
<line x1="24.9" y1="340.4" x2="26.2" y2="340.4" stroke="#444" stroke-width="0.75"/>
<line x1="24.9" y1="329.6" x2="26.2" y2="329.6" stroke="#444" stroke-width="0.75"/>
<line x1="24.9" y1="318.9" x2="26.2" y2="318.9" stroke="#444" stroke-width="0.75"/>
<line x1="24.9" y1="308.2" x2="26.2" y2="308.2" stroke="#444" stroke-width="0.75"/>
<line x1="24.9" y1="297.4" x2="26.2" y2="297.4" stroke="#444" stroke-width="0.75"/>
<line x1="24.9" y1="286.7" x2="26.2" y2="286.7" stroke="#444" stroke-width="0.75"/>
<line x1="24.9" y1="276.0" x2="26.2" y2="276.0" stroke="#444" stroke-width="0.75"/>
<line x1="24.9" y1="265.2" x2="26.2" y2="265.2" stroke="#444" stroke-width="0.75"/>
<line x1="24.9" y1="254.5" x2="26.2" y2="254.5" stroke="#444" stroke-width="0.75"/>
<line x1="24.9" y1="243.8" x2="26.2" y2="243.8" stroke="#444" stroke-width="0.75"/>
<text x="4.8" y="309.1" font-size="8.8" fill="#3a3a3a" transform="rotate(-90 4.8 309.1)" text-anchor="middle">τ</text>
<text x="103.3" y="386.6" font-size="7.3" fill="#333" text-anchor="middle" textLength="3.6" lengthAdjust="spacingAndGlyphs">β</text>
<polyline fill="none" stroke="#000000" stroke-opacity="0.45" stroke-width="0.55" points="39.0,286.7 51.8,280.3 64.7,279.2 77.5,280.3 90.3,278.1 103.1,278.1 115.9,278.1 128.7,278.1 141.6,278.8 154.4,279.2"/>
<polyline fill="none" stroke="#FF80FF" stroke-opacity="0.45" stroke-width="0.55" points="39.0,355.4 51.8,352.8 64.7,349.4 77.5,348.3 90.3,346.6 103.1,345.9 115.9,341.4 128.7,340.8 141.6,338.6 154.4,339.5"/>
<polyline fill="none" stroke="#0000FF" stroke-opacity="0.45" stroke-width="0.55" points="39.0,286.7 51.8,280.7 64.7,276.4 77.5,270.6 90.3,270.6 103.1,268.5 115.9,267.4 128.7,267.4 141.6,268.5 154.4,266.3"/>
<polyline fill="none" stroke="#008080" stroke-opacity="0.45" stroke-width="0.55" points="39.0,309.2 51.8,298.5 64.7,293.1 77.5,291.0 90.3,284.1 103.1,279.2 115.9,274.9 128.7,271.7 141.6,267.4 154.4,262.0"/>
<polyline fill="none" stroke="#FF00FF" stroke-opacity="0.45" stroke-width="0.55" points="39.0,351.3 51.8,345.3 64.7,340.8 77.5,338.0 90.3,335.2 103.1,330.7 115.9,327.3 128.7,326.0 141.6,322.1 154.4,319.5"/>
<polyline fill="none" stroke="#808000" stroke-opacity="0.45" stroke-width="0.55" points="39.0,314.6 51.8,307.1 64.7,301.7 77.5,299.6 90.3,296.4 103.1,292.1 115.9,286.7 128.7,286.7 141.6,281.3 154.4,280.3"/>
<polyline fill="none" stroke="#000080" stroke-opacity="0.45" stroke-width="0.55" points="39.0,299.6 51.8,291.0 64.7,283.5 77.5,280.3 90.3,274.9 103.1,270.6 115.9,265.2 128.7,262.0 141.6,257.7 154.4,255.6"/>
<polyline fill="none" stroke="#800000" stroke-opacity="0.45" stroke-width="0.55" points="39.0,299.6 51.8,289.9 64.7,282.4 77.5,279.2 90.3,273.8 103.1,270.6 115.9,266.3 128.7,263.1 141.6,258.8 154.4,254.5"/>
<polyline fill="none" stroke="#FF0080" stroke-opacity="0.45" stroke-width="0.55" points="39.0,298.5 51.8,287.8 64.7,281.3 77.5,278.1 90.3,272.7 103.1,266.3 115.9,260.9 128.7,257.7 141.6,253.4 154.4,249.1"/>
<polyline fill="none" stroke="#008000" stroke-opacity="0.45" stroke-width="0.55" points="39.0,314.6 51.8,306.0 64.7,301.7 77.5,299.2 90.3,296.4 103.1,291.4 115.9,288.2 128.7,287.3 141.6,282.4 154.4,282.8"/>
<polyline fill="none" stroke="#FF0000" stroke-opacity="0.45" stroke-width="0.55" points="39.0,287.3 51.8,277.7 64.7,270.2 77.5,266.3 90.3,260.7 103.1,256.4 115.9,250.0 128.7,247.0 141.6,244.4 154.4,241.6"/>
<rect x="37.6" y="285.3" width="2.8" height="2.8" fill="#000000"/>
<rect x="50.4" y="278.9" width="2.8" height="2.8" fill="#000000"/>
<rect x="63.2" y="277.8" width="2.8" height="2.8" fill="#000000"/>
<rect x="76.1" y="278.9" width="2.8" height="2.8" fill="#000000"/>
<rect x="88.9" y="276.7" width="2.8" height="2.8" fill="#000000"/>
<rect x="101.7" y="276.7" width="2.8" height="2.8" fill="#000000"/>
<rect x="114.5" y="276.7" width="2.8" height="2.8" fill="#000000"/>
<rect x="127.3" y="276.7" width="2.8" height="2.8" fill="#000000"/>
<rect x="140.1" y="277.3" width="2.8" height="2.8" fill="#000000"/>
<rect x="153.0" y="277.8" width="2.8" height="2.8" fill="#000000"/>
<circle cx="39.0" cy="355.4" r="1.6" fill="#FF80FF"/>
<circle cx="51.8" cy="352.8" r="1.6" fill="#FF80FF"/>
<circle cx="64.7" cy="349.4" r="1.6" fill="#FF80FF"/>
<circle cx="77.5" cy="348.3" r="1.6" fill="#FF80FF"/>
<circle cx="90.3" cy="346.6" r="1.6" fill="#FF80FF"/>
<circle cx="103.1" cy="345.9" r="1.6" fill="#FF80FF"/>
<circle cx="115.9" cy="341.4" r="1.6" fill="#FF80FF"/>
<circle cx="128.7" cy="340.8" r="1.6" fill="#FF80FF"/>
<circle cx="141.6" cy="338.6" r="1.6" fill="#FF80FF"/>
<circle cx="154.4" cy="339.5" r="1.6" fill="#FF80FF"/>
<polygon points="39.0,284.6 41.0,287.9 37.0,287.9" fill="#0000FF"/>
<polygon points="51.8,278.6 53.8,281.9 49.9,281.9" fill="#0000FF"/>
<polygon points="64.7,274.3 66.6,277.6 62.7,277.6" fill="#0000FF"/>
<polygon points="77.5,268.5 79.4,271.8 75.5,271.8" fill="#0000FF"/>
<polygon points="90.3,268.5 92.3,271.8 88.3,271.8" fill="#0000FF"/>
<polygon points="103.1,266.4 105.1,269.7 101.1,269.7" fill="#0000FF"/>
<polygon points="115.9,265.3 117.9,268.6 113.9,268.6" fill="#0000FF"/>
<polygon points="128.7,265.3 130.7,268.6 126.8,268.6" fill="#0000FF"/>
<polygon points="141.6,266.4 143.5,269.7 139.6,269.7" fill="#0000FF"/>
<polygon points="154.4,264.2 156.3,267.6 152.4,267.6" fill="#0000FF"/>
<polygon points="39.0,311.3 41.0,308.0 37.0,308.0" fill="#008080"/>
<polygon points="51.8,300.6 53.8,297.3 49.9,297.3" fill="#008080"/>
<polygon points="64.7,295.2 66.6,291.9 62.7,291.9" fill="#008080"/>
<polygon points="77.5,293.1 79.4,289.7 75.5,289.7" fill="#008080"/>
<polygon points="90.3,286.2 92.3,282.9 88.3,282.9" fill="#008080"/>
<polygon points="103.1,281.3 105.1,277.9 101.1,277.9" fill="#008080"/>
<polygon points="115.9,277.0 117.9,273.6 113.9,273.6" fill="#008080"/>
<polygon points="128.7,273.8 130.7,270.4 126.8,270.4" fill="#008080"/>
<polygon points="141.6,269.5 143.5,266.1 139.6,266.1" fill="#008080"/>
<polygon points="154.4,264.1 156.3,260.8 152.4,260.8" fill="#008080"/>
<polygon points="36.9,351.3 40.3,349.3 40.3,353.3" fill="#FF00FF"/>
<polygon points="49.8,345.3 53.1,343.3 53.1,347.3" fill="#FF00FF"/>
<polygon points="62.6,340.8 65.9,338.8 65.9,342.8" fill="#FF00FF"/>
<polygon points="75.4,338.0 78.7,336.0 78.7,340.0" fill="#FF00FF"/>
<polygon points="88.2,335.2 91.5,333.2 91.5,337.2" fill="#FF00FF"/>
<polygon points="101.0,330.7 104.3,328.7 104.3,332.7" fill="#FF00FF"/>
<polygon points="113.8,327.3 117.2,325.3 117.2,329.2" fill="#FF00FF"/>
<polygon points="126.7,326.0 130.0,324.0 130.0,328.0" fill="#FF00FF"/>
<polygon points="139.5,322.1 142.8,320.1 142.8,324.1" fill="#FF00FF"/>
<polygon points="152.3,319.5 155.6,317.6 155.6,321.5" fill="#FF00FF"/>
<polygon points="41.1,314.6 37.8,312.6 37.8,316.6" fill="#808000"/>
<polygon points="53.9,307.1 50.6,305.1 50.6,309.1" fill="#808000"/>
<polygon points="66.7,301.7 63.4,299.8 63.4,303.7" fill="#808000"/>
<polygon points="79.5,299.6 76.2,297.6 76.2,301.6" fill="#808000"/>
<polygon points="92.4,296.4 89.0,294.4 89.0,298.3" fill="#808000"/>
<polygon points="105.2,292.1 101.9,290.1 101.9,294.0" fill="#808000"/>
<polygon points="118.0,286.7 114.7,284.7 114.7,288.7" fill="#808000"/>
<polygon points="130.8,286.7 127.5,284.7 127.5,288.7" fill="#808000"/>
<polygon points="143.6,281.3 140.3,279.4 140.3,283.3" fill="#808000"/>
<polygon points="156.4,280.3 153.1,278.3 153.1,282.2" fill="#808000"/>
<polygon points="39.0,297.5 40.7,299.6 39.0,301.7 37.4,299.6" fill="#000080"/>
<polygon points="51.8,288.9 53.5,291.0 51.8,293.1 50.2,291.0" fill="#000080"/>
<polygon points="64.7,281.4 66.3,283.5 64.7,285.6 63.0,283.5" fill="#000080"/>
<polygon points="77.5,278.2 79.1,280.3 77.5,282.3 75.8,280.3" fill="#000080"/>
<polygon points="90.3,272.8 91.9,274.9 90.3,277.0 88.6,274.9" fill="#000080"/>
<polygon points="103.1,268.5 104.8,270.6 103.1,272.7 101.4,270.6" fill="#000080"/>
<polygon points="115.9,263.2 117.6,265.2 115.9,267.3 114.3,265.2" fill="#000080"/>
<polygon points="128.7,259.9 130.4,262.0 128.7,264.1 127.1,262.0" fill="#000080"/>
<polygon points="141.6,255.6 143.2,257.7 141.6,259.8 139.9,257.7" fill="#000080"/>
<polygon points="154.4,253.5 156.0,255.6 154.4,257.7 152.7,255.6" fill="#000080"/>
<circle cx="39.0" cy="299.6" r="1.6" fill="#800000"/>
<circle cx="51.8" cy="289.9" r="1.6" fill="#800000"/>
<circle cx="64.7" cy="282.4" r="1.6" fill="#800000"/>
<circle cx="77.5" cy="279.2" r="1.6" fill="#800000"/>
<circle cx="90.3" cy="273.8" r="1.6" fill="#800000"/>
<circle cx="103.1" cy="270.6" r="1.6" fill="#800000"/>
<circle cx="115.9" cy="266.3" r="1.6" fill="#800000"/>
<circle cx="128.7" cy="263.1" r="1.6" fill="#800000"/>
<circle cx="141.6" cy="258.8" r="1.6" fill="#800000"/>
<circle cx="154.4" cy="254.5" r="1.6" fill="#800000"/>
<circle cx="39.0" cy="298.5" r="1.6" fill="#FF0080"/>
<circle cx="51.8" cy="287.8" r="1.6" fill="#FF0080"/>
<circle cx="64.7" cy="281.3" r="1.6" fill="#FF0080"/>
<circle cx="77.5" cy="278.1" r="1.6" fill="#FF0080"/>
<circle cx="90.3" cy="272.7" r="1.6" fill="#FF0080"/>
<circle cx="103.1" cy="266.3" r="1.6" fill="#FF0080"/>
<circle cx="115.9" cy="260.9" r="1.6" fill="#FF0080"/>
<circle cx="128.7" cy="257.7" r="1.6" fill="#FF0080"/>
<circle cx="141.6" cy="253.4" r="1.6" fill="#FF0080"/>
<circle cx="154.4" cy="249.1" r="1.6" fill="#FF0080"/>
<polygon points="39.0,312.4 39.6,313.8 41.1,313.9 39.9,314.9 40.3,316.4 39.0,315.5 37.7,316.4 38.1,314.9 36.9,313.9 38.5,313.8" fill="#008000"/>
<polygon points="51.8,303.8 52.4,305.3 53.9,305.3 52.7,306.3 53.1,307.8 51.8,307.0 50.5,307.8 50.9,306.3 49.8,305.3 51.3,305.3" fill="#008000"/>
<polygon points="64.7,299.5 65.2,301.0 66.7,301.1 65.5,302.0 65.9,303.5 64.7,302.7 63.4,303.5 63.8,302.0 62.6,301.1 64.1,301.0" fill="#008000"/>
<polygon points="77.5,297.0 78.0,298.4 79.5,298.5 78.4,299.4 78.8,300.9 77.5,300.1 76.2,300.9 76.6,299.4 75.4,298.5 76.9,298.4" fill="#008000"/>
<polygon points="90.3,294.2 90.8,295.6 92.4,295.7 91.2,296.6 91.6,298.1 90.3,297.3 89.0,298.1 89.4,296.6 88.2,295.7 89.7,295.6" fill="#008000"/>
<polygon points="103.1,289.2 103.7,290.7 105.2,290.7 104.0,291.7 104.4,293.2 103.1,292.4 101.8,293.2 102.2,291.7 101.0,290.7 102.5,290.7" fill="#008000"/>
<polygon points="115.9,286.0 116.5,287.4 118.0,287.5 116.8,288.5 117.2,290.0 115.9,289.1 114.6,290.0 115.0,288.5 113.8,287.5 115.4,287.4" fill="#008000"/>
<polygon points="128.7,285.2 129.3,286.6 130.8,286.7 129.6,287.6 130.0,289.1 128.7,288.3 127.4,289.1 127.8,287.6 126.7,286.7 128.2,286.6" fill="#008000"/>
<polygon points="141.6,280.2 142.1,281.6 143.6,281.7 142.4,282.7 142.8,284.2 141.6,283.3 140.3,284.2 140.7,282.7 139.5,281.7 141.0,281.6" fill="#008000"/>
<polygon points="154.4,280.7 154.9,282.1 156.4,282.2 155.3,283.1 155.7,284.6 154.4,283.8 153.1,284.6 153.5,283.1 152.3,282.2 153.8,282.1" fill="#008000"/>
<circle cx="39.0" cy="287.3" r="1.6" fill="#FF0000"/>
<line x1="38.8" y1="287.8" x2="39.9" y2="286.6" stroke="#fff" stroke-opacity="0.8" stroke-width="0.45"/>
<circle cx="51.8" cy="277.7" r="1.6" fill="#FF0000"/>
<line x1="51.6" y1="278.2" x2="52.7" y2="277.0" stroke="#fff" stroke-opacity="0.8" stroke-width="0.45"/>
<circle cx="64.7" cy="270.2" r="1.6" fill="#FF0000"/>
<line x1="64.5" y1="270.7" x2="65.6" y2="269.5" stroke="#fff" stroke-opacity="0.8" stroke-width="0.45"/>
<circle cx="77.5" cy="266.3" r="1.6" fill="#FF0000"/>
<line x1="77.3" y1="266.8" x2="78.4" y2="265.6" stroke="#fff" stroke-opacity="0.8" stroke-width="0.45"/>
<circle cx="90.3" cy="260.7" r="1.6" fill="#FF0000"/>
<line x1="90.1" y1="261.2" x2="91.2" y2="260.0" stroke="#fff" stroke-opacity="0.8" stroke-width="0.45"/>
<circle cx="103.1" cy="256.4" r="1.6" fill="#FF0000"/>
<line x1="102.9" y1="256.9" x2="104.0" y2="255.7" stroke="#fff" stroke-opacity="0.8" stroke-width="0.45"/>
<circle cx="115.9" cy="250.0" r="1.6" fill="#FF0000"/>
<line x1="115.7" y1="250.5" x2="116.8" y2="249.3" stroke="#fff" stroke-opacity="0.8" stroke-width="0.45"/>
<circle cx="128.7" cy="247.0" r="1.6" fill="#FF0000"/>
<line x1="128.5" y1="247.5" x2="129.6" y2="246.3" stroke="#fff" stroke-opacity="0.8" stroke-width="0.45"/>
<circle cx="141.6" cy="244.4" r="1.6" fill="#FF0000"/>
<line x1="141.4" y1="244.9" x2="142.5" y2="243.7" stroke="#fff" stroke-opacity="0.8" stroke-width="0.45"/>
<circle cx="154.4" cy="241.6" r="1.6" fill="#FF0000"/>
<line x1="154.2" y1="242.1" x2="155.3" y2="240.9" stroke="#fff" stroke-opacity="0.8" stroke-width="0.45"/>
<rect x="157.1" y="236.6" width="26.0" height="71.6" fill="#fff" stroke="#aaa" stroke-width="0.6"/>
<line x1="158.6" y1="241.0" x2="167.6" y2="241.0" stroke="#000000" stroke-opacity="0.35" stroke-width="0.6"/>
<rect x="161.2" y="239.5" width="3.0" height="3.0" fill="#000000"/>
<text x="168.9" y="243.1" font-size="6.3" text-anchor="start" fill="#3a3a3a" textLength="6.5" lengthAdjust="spacingAndGlyphs" stroke="#3a3a3a" stroke-width="0.0" >DC</text>
<line x1="158.6" y1="247.4" x2="167.6" y2="247.4" stroke="#FF80FF" stroke-opacity="0.35" stroke-width="0.6"/>
<circle cx="162.7" cy="247.4" r="1.6" fill="#FF80FF"/>
<text x="168.9" y="249.5" font-size="6.3" text-anchor="start" fill="#3a3a3a" textLength="15.0" lengthAdjust="spacingAndGlyphs" stroke="#3a3a3a" stroke-width="0.0" >K-shell</text>
<line x1="158.6" y1="253.7" x2="167.6" y2="253.7" stroke="#0000FF" stroke-opacity="0.35" stroke-width="0.6"/>
<polygon points="162.7,251.5 164.8,255.1 160.6,255.1" fill="#0000FF"/>
<text x="168.9" y="255.8" font-size="6.3" text-anchor="start" fill="#3a3a3a" textLength="6.5" lengthAdjust="spacingAndGlyphs" stroke="#3a3a3a" stroke-width="0.0" >PL</text>
<line x1="158.6" y1="260.1" x2="167.6" y2="260.1" stroke="#008080" stroke-opacity="0.35" stroke-width="0.6"/>
<polygon points="162.7,262.3 164.8,258.8 160.6,258.8" fill="#008080"/>
<text x="168.9" y="262.2" font-size="6.3" text-anchor="start" fill="#3a3a3a" textLength="13.8" lengthAdjust="spacingAndGlyphs" stroke="#3a3a3a" stroke-width="0.0" >ECRM</text>
<line x1="158.6" y1="266.5" x2="167.6" y2="266.5" stroke="#FF00FF" stroke-opacity="0.35" stroke-width="0.6"/>
<polygon points="160.5,266.5 164.0,264.4 164.0,268.6" fill="#FF00FF"/>
<text x="168.9" y="268.6" font-size="6.3" text-anchor="start" fill="#3a3a3a" textLength="10.5" lengthAdjust="spacingAndGlyphs" stroke="#3a3a3a" stroke-width="0.0" >GSM</text>
<line x1="158.6" y1="272.9" x2="167.6" y2="272.9" stroke="#808000" stroke-opacity="0.35" stroke-width="0.6"/>
<polygon points="164.9,272.9 161.4,270.8 161.4,274.9" fill="#808000"/>
<text x="168.9" y="275.0" font-size="6.3" text-anchor="start" fill="#3a3a3a" textLength="7.8" lengthAdjust="spacingAndGlyphs" stroke="#3a3a3a" stroke-width="0.0" >GSI</text>
<line x1="158.6" y1="279.2" x2="167.6" y2="279.2" stroke="#000080" stroke-opacity="0.35" stroke-width="0.6"/>
<polygon points="162.7,277.0 164.5,279.2 162.7,281.4 160.9,279.2" fill="#000080"/>
<text x="168.9" y="281.3" font-size="6.3" text-anchor="start" fill="#3a3a3a" textLength="14.5" lengthAdjust="spacingAndGlyphs" stroke="#3a3a3a" stroke-width="0.0" >MCGM</text>
<line x1="158.6" y1="285.6" x2="167.6" y2="285.6" stroke="#800000" stroke-opacity="0.35" stroke-width="0.6"/>
<circle cx="162.7" cy="285.6" r="1.6" fill="#800000"/>
<text x="168.9" y="287.7" font-size="6.3" text-anchor="start" fill="#3a3a3a" textLength="4.6" lengthAdjust="spacingAndGlyphs" stroke="#3a3a3a" stroke-width="0.0" >CI</text>
<line x1="158.6" y1="292.0" x2="167.6" y2="292.0" stroke="#FF0080" stroke-opacity="0.35" stroke-width="0.6"/>
<circle cx="162.7" cy="292.0" r="1.6" fill="#FF0080"/>
<text x="168.9" y="294.1" font-size="6.3" text-anchor="start" fill="#3a3a3a" textLength="13.0" lengthAdjust="spacingAndGlyphs" stroke="#3a3a3a" stroke-width="0.0" >HVGC</text>
<line x1="158.6" y1="298.3" x2="167.6" y2="298.3" stroke="#008000" stroke-opacity="0.35" stroke-width="0.6"/>
<polygon points="162.7,296.0 163.3,297.5 164.9,297.6 163.6,298.6 164.1,300.2 162.7,299.3 161.3,300.2 161.7,298.6 160.5,297.6 162.1,297.5" fill="#008000"/>
<text x="168.9" y="300.4" font-size="6.3" text-anchor="start" fill="#3a3a3a" textLength="13.8" lengthAdjust="spacingAndGlyphs" stroke="#3a3a3a" stroke-width="0.0" >CSRM</text>
<line x1="158.6" y1="304.7" x2="167.6" y2="304.7" stroke="#FF0000" stroke-opacity="0.35" stroke-width="0.6"/>
<circle cx="162.7" cy="304.7" r="1.6" fill="#FF0000"/>
<text x="168.9" y="306.8" font-size="6.3" text-anchor="start" fill="#3a3a3a" textLength="10.5" lengthAdjust="spacingAndGlyphs" stroke="#3a3a3a" stroke-width="0.0" >SGM</text>
<text x="107.6" y="421.9" style="font-family:Liberation Serif,serif" font-size="17.2" fill="#111" text-anchor="middle">(d) euroroad</text>
<line x1="263.5" y1="366.2" x2="263.5" y2="233.8" stroke="#555" stroke-width="0.8"/>
<line x1="263.5" y1="366.2" x2="431.5" y2="366.2" stroke="#555" stroke-width="0.8"/>
<line x1="263.5" y1="366.2" x2="263.5" y2="368.4" stroke="#444" stroke-width="0.75"/>
<text x="263.5" y="375.7" font-size="6.3" text-anchor="middle" fill="#2a2a2a" textLength="10.1" lengthAdjust="spacingAndGlyphs" stroke="#2a2a2a" stroke-width="0.1" >0.00</text>
<line x1="277.5" y1="366.2" x2="277.5" y2="367.5" stroke="#444" stroke-width="0.75"/>
<line x1="291.5" y1="366.2" x2="291.5" y2="368.4" stroke="#444" stroke-width="0.75"/>
<text x="291.5" y="375.7" font-size="6.3" text-anchor="middle" fill="#2a2a2a" textLength="10.1" lengthAdjust="spacingAndGlyphs" stroke="#2a2a2a" stroke-width="0.1" >0.02</text>
<line x1="305.5" y1="366.2" x2="305.5" y2="367.5" stroke="#444" stroke-width="0.75"/>
<line x1="319.5" y1="366.2" x2="319.5" y2="368.4" stroke="#444" stroke-width="0.75"/>
<text x="319.5" y="375.7" font-size="6.3" text-anchor="middle" fill="#2a2a2a" textLength="10.1" lengthAdjust="spacingAndGlyphs" stroke="#2a2a2a" stroke-width="0.1" >0.04</text>
<line x1="333.5" y1="366.2" x2="333.5" y2="367.5" stroke="#444" stroke-width="0.75"/>
<line x1="347.5" y1="366.2" x2="347.5" y2="368.4" stroke="#444" stroke-width="0.75"/>
<text x="347.5" y="375.7" font-size="6.3" text-anchor="middle" fill="#2a2a2a" textLength="10.1" lengthAdjust="spacingAndGlyphs" stroke="#2a2a2a" stroke-width="0.1" >0.06</text>
<line x1="361.5" y1="366.2" x2="361.5" y2="367.5" stroke="#444" stroke-width="0.75"/>
<line x1="375.5" y1="366.2" x2="375.5" y2="368.4" stroke="#444" stroke-width="0.75"/>
<text x="375.5" y="375.7" font-size="6.3" text-anchor="middle" fill="#2a2a2a" textLength="10.1" lengthAdjust="spacingAndGlyphs" stroke="#2a2a2a" stroke-width="0.1" >0.08</text>
<line x1="389.5" y1="366.2" x2="389.5" y2="367.5" stroke="#444" stroke-width="0.75"/>
<line x1="403.5" y1="366.2" x2="403.5" y2="368.4" stroke="#444" stroke-width="0.75"/>
<text x="403.5" y="375.7" font-size="6.3" text-anchor="middle" fill="#2a2a2a" textLength="10.1" lengthAdjust="spacingAndGlyphs" stroke="#2a2a2a" stroke-width="0.1" >0.10</text>
<line x1="417.5" y1="366.2" x2="417.5" y2="367.5" stroke="#444" stroke-width="0.75"/>
<line x1="431.5" y1="366.2" x2="431.5" y2="368.4" stroke="#444" stroke-width="0.75"/>
<text x="431.5" y="375.7" font-size="6.3" text-anchor="middle" fill="#2a2a2a" textLength="10.1" lengthAdjust="spacingAndGlyphs" stroke="#2a2a2a" stroke-width="0.1" >0.12</text>
<line x1="261.3" y1="366.2" x2="263.5" y2="366.2" stroke="#444" stroke-width="0.75"/>
<text x="260.1" y="367.7" font-size="6.3" text-anchor="end" fill="#2a2a2a" textLength="9.7" lengthAdjust="spacingAndGlyphs" stroke="#2a2a2a" stroke-width="0.1" >0.55</text>
<line x1="261.3" y1="349.6" x2="263.5" y2="349.6" stroke="#444" stroke-width="0.75"/>
<text x="260.1" y="351.1" font-size="6.3" text-anchor="end" fill="#2a2a2a" textLength="9.7" lengthAdjust="spacingAndGlyphs" stroke="#2a2a2a" stroke-width="0.1" >0.60</text>
<line x1="261.3" y1="333.1" x2="263.5" y2="333.1" stroke="#444" stroke-width="0.75"/>
<text x="260.1" y="334.6" font-size="6.3" text-anchor="end" fill="#2a2a2a" textLength="9.7" lengthAdjust="spacingAndGlyphs" stroke="#2a2a2a" stroke-width="0.1" >0.65</text>
<line x1="261.3" y1="316.5" x2="263.5" y2="316.5" stroke="#444" stroke-width="0.75"/>
<text x="260.1" y="318.0" font-size="6.3" text-anchor="end" fill="#2a2a2a" textLength="9.7" lengthAdjust="spacingAndGlyphs" stroke="#2a2a2a" stroke-width="0.1" >0.70</text>
<line x1="261.3" y1="300.0" x2="263.5" y2="300.0" stroke="#444" stroke-width="0.75"/>
<text x="260.1" y="301.5" font-size="6.3" text-anchor="end" fill="#2a2a2a" textLength="9.7" lengthAdjust="spacingAndGlyphs" stroke="#2a2a2a" stroke-width="0.1" >0.75</text>
<line x1="261.3" y1="283.4" x2="263.5" y2="283.4" stroke="#444" stroke-width="0.75"/>
<text x="260.1" y="284.9" font-size="6.3" text-anchor="end" fill="#2a2a2a" textLength="9.7" lengthAdjust="spacingAndGlyphs" stroke="#2a2a2a" stroke-width="0.1" >0.80</text>
<line x1="261.3" y1="266.9" x2="263.5" y2="266.9" stroke="#444" stroke-width="0.75"/>
<text x="260.1" y="268.4" font-size="6.3" text-anchor="end" fill="#2a2a2a" textLength="9.7" lengthAdjust="spacingAndGlyphs" stroke="#2a2a2a" stroke-width="0.1" >0.85</text>
<line x1="261.3" y1="250.3" x2="263.5" y2="250.3" stroke="#444" stroke-width="0.75"/>
<text x="260.1" y="251.8" font-size="6.3" text-anchor="end" fill="#2a2a2a" textLength="9.7" lengthAdjust="spacingAndGlyphs" stroke="#2a2a2a" stroke-width="0.1" >0.90</text>
<line x1="261.3" y1="233.8" x2="263.5" y2="233.8" stroke="#444" stroke-width="0.75"/>
<text x="260.1" y="235.3" font-size="6.3" text-anchor="end" fill="#2a2a2a" textLength="9.7" lengthAdjust="spacingAndGlyphs" stroke="#2a2a2a" stroke-width="0.1" >0.95</text>
<line x1="262.2" y1="357.9" x2="263.5" y2="357.9" stroke="#444" stroke-width="0.75"/>
<line x1="262.2" y1="341.4" x2="263.5" y2="341.4" stroke="#444" stroke-width="0.75"/>
<line x1="262.2" y1="324.8" x2="263.5" y2="324.8" stroke="#444" stroke-width="0.75"/>
<line x1="262.2" y1="308.3" x2="263.5" y2="308.3" stroke="#444" stroke-width="0.75"/>
<line x1="262.2" y1="291.7" x2="263.5" y2="291.7" stroke="#444" stroke-width="0.75"/>
<line x1="262.2" y1="275.2" x2="263.5" y2="275.2" stroke="#444" stroke-width="0.75"/>
<line x1="262.2" y1="258.6" x2="263.5" y2="258.6" stroke="#444" stroke-width="0.75"/>
<line x1="262.2" y1="242.1" x2="263.5" y2="242.1" stroke="#444" stroke-width="0.75"/>
<text x="240.7" y="306.7" font-size="8.8" fill="#3a3a3a" transform="rotate(-90 240.7 306.7)" text-anchor="middle">τ</text>
<text x="347.7" y="386.4" font-size="7.3" fill="#333" text-anchor="middle" textLength="3.6" lengthAdjust="spacingAndGlyphs">β</text>
<polyline fill="none" stroke="#000000" stroke-opacity="0.45" stroke-width="0.55" points="277.5,270.2 291.5,305.0 305.5,318.2 319.5,306.6 333.5,296.7 347.5,289.1 361.5,282.8 375.5,277.5 389.5,273.5 403.5,270.9"/>
<polyline fill="none" stroke="#FF80FF" stroke-opacity="0.45" stroke-width="0.55" points="277.5,273.5 291.5,295.0 305.5,304.3 319.5,292.4 333.5,283.4 347.5,277.5 361.5,272.5 375.5,268.6 389.5,265.9 403.5,263.6"/>
<polyline fill="none" stroke="#0000FF" stroke-opacity="0.45" stroke-width="0.55" points="277.5,271.9 291.5,301.7 305.5,315.9 319.5,306.6 333.5,298.3 347.5,293.4 361.5,288.4 375.5,285.1 389.5,282.8 403.5,281.5"/>
<polyline fill="none" stroke="#008080" stroke-opacity="0.45" stroke-width="0.55" points="277.5,283.4 291.5,257.0 305.5,243.7 319.5,243.7 333.5,248.7 347.5,257.0 361.5,263.6 375.5,268.6 389.5,273.5 403.5,276.8"/>
<polyline fill="none" stroke="#FF00FF" stroke-opacity="0.45" stroke-width="0.55" points="277.5,303.3 291.5,276.8 305.5,267.9 319.5,270.9 333.5,277.5 347.5,283.4 361.5,289.4 375.5,293.4 389.5,296.7 403.5,299.3"/>
<polyline fill="none" stroke="#808000" stroke-opacity="0.45" stroke-width="0.55" points="277.5,255.3 291.5,280.1 305.5,290.1 319.5,276.2 333.5,266.9 347.5,259.6 361.5,254.3 375.5,249.7 389.5,247.7 403.5,246.4"/>
<polyline fill="none" stroke="#000080" stroke-opacity="0.45" stroke-width="0.55" points="277.5,269.2 291.5,254.3 305.5,254.3 319.5,247.0 333.5,249.7 347.5,252.0 361.5,255.3 375.5,258.6 389.5,261.6 403.5,264.3"/>
<polyline fill="none" stroke="#800000" stroke-opacity="0.45" stroke-width="0.55" points="277.5,264.6 291.5,271.9 305.5,280.1 319.5,270.9 333.5,266.9 347.5,264.6 361.5,264.3 375.5,265.2 389.5,265.2 403.5,266.9"/>
<polyline fill="none" stroke="#FF0080" stroke-opacity="0.45" stroke-width="0.55" points="277.5,274.2 291.5,250.3 305.5,250.3 319.5,245.4 333.5,247.0 347.5,250.3 361.5,256.3 375.5,260.9 389.5,264.9 403.5,266.2"/>
<polyline fill="none" stroke="#008000" stroke-opacity="0.45" stroke-width="0.55" points="277.5,266.2 291.5,257.0 305.5,257.0 319.5,245.4 333.5,239.4 347.5,239.8 361.5,242.1 375.5,245.4 389.5,247.7 403.5,251.0"/>
<polyline fill="none" stroke="#FF0000" stroke-opacity="0.45" stroke-width="0.55" points="277.5,257.6 291.5,258.6 305.5,263.6 319.5,250.3 333.5,243.7 347.5,239.4 361.5,239.4 375.5,240.4 389.5,242.1 403.5,243.7"/>
<rect x="276.1" y="268.8" width="2.8" height="2.8" fill="#000000"/>
<rect x="290.1" y="303.6" width="2.8" height="2.8" fill="#000000"/>
<rect x="304.1" y="316.8" width="2.8" height="2.8" fill="#000000"/>
<rect x="318.1" y="305.2" width="2.8" height="2.8" fill="#000000"/>
<rect x="332.1" y="295.3" width="2.8" height="2.8" fill="#000000"/>
<rect x="346.1" y="287.7" width="2.8" height="2.8" fill="#000000"/>
<rect x="360.1" y="281.4" width="2.8" height="2.8" fill="#000000"/>
<rect x="374.1" y="276.1" width="2.8" height="2.8" fill="#000000"/>
<rect x="388.1" y="272.1" width="2.8" height="2.8" fill="#000000"/>
<rect x="402.1" y="269.5" width="2.8" height="2.8" fill="#000000"/>
<circle cx="277.5" cy="273.5" r="1.6" fill="#FF80FF"/>
<circle cx="291.5" cy="295.0" r="1.6" fill="#FF80FF"/>
<circle cx="305.5" cy="304.3" r="1.6" fill="#FF80FF"/>
<circle cx="319.5" cy="292.4" r="1.6" fill="#FF80FF"/>
<circle cx="333.5" cy="283.4" r="1.6" fill="#FF80FF"/>
<circle cx="347.5" cy="277.5" r="1.6" fill="#FF80FF"/>
<circle cx="361.5" cy="272.5" r="1.6" fill="#FF80FF"/>
<circle cx="375.5" cy="268.6" r="1.6" fill="#FF80FF"/>
<circle cx="389.5" cy="265.9" r="1.6" fill="#FF80FF"/>
<circle cx="403.5" cy="263.6" r="1.6" fill="#FF80FF"/>
<polygon points="277.5,269.8 279.5,273.1 275.5,273.1" fill="#0000FF"/>
<polygon points="291.5,299.6 293.5,302.9 289.5,302.9" fill="#0000FF"/>
<polygon points="305.5,313.8 307.5,317.1 303.5,317.1" fill="#0000FF"/>
<polygon points="319.5,304.5 321.5,307.9 317.5,307.9" fill="#0000FF"/>
<polygon points="333.5,296.3 335.5,299.6 331.5,299.6" fill="#0000FF"/>
<polygon points="347.5,291.3 349.5,294.6 345.5,294.6" fill="#0000FF"/>
<polygon points="361.5,286.3 363.5,289.7 359.5,289.7" fill="#0000FF"/>
<polygon points="375.5,283.0 377.5,286.4 373.5,286.4" fill="#0000FF"/>
<polygon points="389.5,280.7 391.5,284.0 387.5,284.0" fill="#0000FF"/>
<polygon points="403.5,279.4 405.5,282.7 401.5,282.7" fill="#0000FF"/>
<polygon points="277.5,285.5 279.5,282.2 275.5,282.2" fill="#008080"/>
<polygon points="291.5,259.1 293.5,255.7 289.5,255.7" fill="#008080"/>
<polygon points="305.5,245.8 307.5,242.5 303.5,242.5" fill="#008080"/>
<polygon points="319.5,245.8 321.5,242.5 317.5,242.5" fill="#008080"/>
<polygon points="333.5,250.8 335.5,247.4 331.5,247.4" fill="#008080"/>
<polygon points="347.5,259.1 349.5,255.7 345.5,255.7" fill="#008080"/>
<polygon points="361.5,265.7 363.5,262.3 359.5,262.3" fill="#008080"/>
<polygon points="375.5,270.6 377.5,267.3 373.5,267.3" fill="#008080"/>
<polygon points="389.5,275.6 391.5,272.3 387.5,272.3" fill="#008080"/>
<polygon points="403.5,278.9 405.5,275.6 401.5,275.6" fill="#008080"/>
<polygon points="275.4,303.3 278.7,301.3 278.7,305.3" fill="#FF00FF"/>
<polygon points="289.4,276.8 292.7,274.9 292.7,278.8" fill="#FF00FF"/>
<polygon points="303.4,267.9 306.7,265.9 306.7,269.9" fill="#FF00FF"/>
<polygon points="317.4,270.9 320.7,268.9 320.7,272.8" fill="#FF00FF"/>
<polygon points="331.4,277.5 334.7,275.5 334.7,279.5" fill="#FF00FF"/>
<polygon points="345.4,283.4 348.7,281.5 348.7,285.4" fill="#FF00FF"/>
<polygon points="359.4,289.4 362.7,287.4 362.7,291.4" fill="#FF00FF"/>
<polygon points="373.4,293.4 376.7,291.4 376.7,295.4" fill="#FF00FF"/>
<polygon points="387.4,296.7 390.7,294.7 390.7,298.7" fill="#FF00FF"/>
<polygon points="401.4,299.3 404.7,297.4 404.7,301.3" fill="#FF00FF"/>
<polygon points="279.6,255.3 276.3,253.3 276.3,257.3" fill="#808000"/>
<polygon points="293.6,280.1 290.3,278.2 290.3,282.1" fill="#808000"/>
<polygon points="307.6,290.1 304.3,288.1 304.3,292.0" fill="#808000"/>
<polygon points="321.6,276.2 318.3,274.2 318.3,278.1" fill="#808000"/>
<polygon points="335.6,266.9 332.3,264.9 332.3,268.9" fill="#808000"/>
<polygon points="349.6,259.6 346.3,257.6 346.3,261.6" fill="#808000"/>
<polygon points="363.6,254.3 360.3,252.3 360.3,256.3" fill="#808000"/>
<polygon points="377.6,249.7 374.3,247.7 374.3,251.7" fill="#808000"/>
<polygon points="391.6,247.7 388.3,245.7 388.3,249.7" fill="#808000"/>
<polygon points="405.6,246.4 402.3,244.4 402.3,248.4" fill="#808000"/>
<polygon points="277.5,267.1 279.2,269.2 277.5,271.3 275.8,269.2" fill="#000080"/>
<polygon points="291.5,252.2 293.2,254.3 291.5,256.4 289.8,254.3" fill="#000080"/>
<polygon points="305.5,252.2 307.2,254.3 305.5,256.4 303.8,254.3" fill="#000080"/>
<polygon points="319.5,245.0 321.2,247.0 319.5,249.1 317.8,247.0" fill="#000080"/>
<polygon points="333.5,247.6 335.2,249.7 333.5,251.8 331.8,249.7" fill="#000080"/>
<polygon points="347.5,249.9 349.2,252.0 347.5,254.1 345.8,252.0" fill="#000080"/>
<polygon points="361.5,253.2 363.2,255.3 361.5,257.4 359.8,255.3" fill="#000080"/>
<polygon points="375.5,256.5 377.2,258.6 375.5,260.7 373.8,258.6" fill="#000080"/>
<polygon points="389.5,259.5 391.2,261.6 389.5,263.7 387.8,261.6" fill="#000080"/>
<polygon points="403.5,262.2 405.2,264.3 403.5,266.3 401.8,264.3" fill="#000080"/>
<circle cx="277.5" cy="264.6" r="1.6" fill="#800000"/>
<circle cx="291.5" cy="271.9" r="1.6" fill="#800000"/>
<circle cx="305.5" cy="280.1" r="1.6" fill="#800000"/>
<circle cx="319.5" cy="270.9" r="1.6" fill="#800000"/>
<circle cx="333.5" cy="266.9" r="1.6" fill="#800000"/>
<circle cx="347.5" cy="264.6" r="1.6" fill="#800000"/>
<circle cx="361.5" cy="264.3" r="1.6" fill="#800000"/>
<circle cx="375.5" cy="265.2" r="1.6" fill="#800000"/>
<circle cx="389.5" cy="265.2" r="1.6" fill="#800000"/>
<circle cx="403.5" cy="266.9" r="1.6" fill="#800000"/>
<circle cx="277.5" cy="274.2" r="1.6" fill="#FF0080"/>
<circle cx="291.5" cy="250.3" r="1.6" fill="#FF0080"/>
<circle cx="305.5" cy="250.3" r="1.6" fill="#FF0080"/>
<circle cx="319.5" cy="245.4" r="1.6" fill="#FF0080"/>
<circle cx="333.5" cy="247.0" r="1.6" fill="#FF0080"/>
<circle cx="347.5" cy="250.3" r="1.6" fill="#FF0080"/>
<circle cx="361.5" cy="256.3" r="1.6" fill="#FF0080"/>
<circle cx="375.5" cy="260.9" r="1.6" fill="#FF0080"/>
<circle cx="389.5" cy="264.9" r="1.6" fill="#FF0080"/>
<circle cx="403.5" cy="266.2" r="1.6" fill="#FF0080"/>
<polygon points="277.5,264.1 278.1,265.5 279.6,265.6 278.4,266.5 278.8,268.0 277.5,267.2 276.2,268.0 276.6,266.5 275.4,265.6 276.9,265.5" fill="#008000"/>
<polygon points="291.5,254.8 292.1,256.2 293.6,256.3 292.4,257.3 292.8,258.7 291.5,257.9 290.2,258.7 290.6,257.3 289.4,256.3 290.9,256.2" fill="#008000"/>
<polygon points="305.5,254.8 306.1,256.2 307.6,256.3 306.4,257.3 306.8,258.7 305.5,257.9 304.2,258.7 304.6,257.3 303.4,256.3 304.9,256.2" fill="#008000"/>
<polygon points="319.5,243.2 320.1,244.6 321.6,244.7 320.4,245.7 320.8,247.2 319.5,246.3 318.2,247.2 318.6,245.7 317.4,244.7 318.9,244.6" fill="#008000"/>
<polygon points="333.5,237.2 334.1,238.7 335.6,238.8 334.4,239.7 334.8,241.2 333.5,240.4 332.2,241.2 332.6,239.7 331.4,238.8 332.9,238.7" fill="#008000"/>
<polygon points="347.5,237.6 348.1,239.0 349.6,239.1 348.4,240.0 348.8,241.5 347.5,240.7 346.2,241.5 346.6,240.0 345.4,239.1 346.9,239.0" fill="#008000"/>
<polygon points="361.5,239.9 362.1,241.3 363.6,241.4 362.4,242.4 362.8,243.8 361.5,243.0 360.2,243.8 360.6,242.4 359.4,241.4 360.9,241.3" fill="#008000"/>
<polygon points="375.5,243.2 376.1,244.6 377.6,244.7 376.4,245.7 376.8,247.2 375.5,246.3 374.2,247.2 374.6,245.7 373.4,244.7 374.9,244.6" fill="#008000"/>
<polygon points="389.5,245.5 390.1,246.9 391.6,247.0 390.4,248.0 390.8,249.5 389.5,248.6 388.2,249.5 388.6,248.0 387.4,247.0 388.9,246.9" fill="#008000"/>
<polygon points="403.5,248.8 404.1,250.3 405.6,250.3 404.4,251.3 404.8,252.8 403.5,251.9 402.2,252.8 402.6,251.3 401.4,250.3 402.9,250.3" fill="#008000"/>
<circle cx="277.5" cy="257.6" r="1.6" fill="#FF0000"/>
<line x1="277.3" y1="258.1" x2="278.4" y2="256.9" stroke="#fff" stroke-opacity="0.8" stroke-width="0.45"/>
<circle cx="291.5" cy="258.6" r="1.6" fill="#FF0000"/>
<line x1="291.3" y1="259.1" x2="292.4" y2="257.9" stroke="#fff" stroke-opacity="0.8" stroke-width="0.45"/>
<circle cx="305.5" cy="263.6" r="1.6" fill="#FF0000"/>
<line x1="305.3" y1="264.1" x2="306.4" y2="262.9" stroke="#fff" stroke-opacity="0.8" stroke-width="0.45"/>
<circle cx="319.5" cy="250.3" r="1.6" fill="#FF0000"/>
<line x1="319.3" y1="250.8" x2="320.4" y2="249.7" stroke="#fff" stroke-opacity="0.8" stroke-width="0.45"/>
<circle cx="333.5" cy="243.7" r="1.6" fill="#FF0000"/>
<line x1="333.3" y1="244.2" x2="334.4" y2="243.0" stroke="#fff" stroke-opacity="0.8" stroke-width="0.45"/>
<circle cx="347.5" cy="239.4" r="1.6" fill="#FF0000"/>
<line x1="347.3" y1="239.9" x2="348.4" y2="238.7" stroke="#fff" stroke-opacity="0.8" stroke-width="0.45"/>
<circle cx="361.5" cy="239.4" r="1.6" fill="#FF0000"/>
<line x1="361.3" y1="239.9" x2="362.4" y2="238.7" stroke="#fff" stroke-opacity="0.8" stroke-width="0.45"/>
<circle cx="375.5" cy="240.4" r="1.6" fill="#FF0000"/>
<line x1="375.3" y1="240.9" x2="376.4" y2="239.7" stroke="#fff" stroke-opacity="0.8" stroke-width="0.45"/>
<circle cx="389.5" cy="242.1" r="1.6" fill="#FF0000"/>
<line x1="389.3" y1="242.6" x2="390.4" y2="241.4" stroke="#fff" stroke-opacity="0.8" stroke-width="0.45"/>
<circle cx="403.5" cy="243.7" r="1.6" fill="#FF0000"/>
<line x1="403.3" y1="244.2" x2="404.4" y2="243.0" stroke="#fff" stroke-opacity="0.8" stroke-width="0.45"/>
<rect x="406.1" y="233.3" width="29.0" height="72.2" fill="#fff" stroke="#aaa" stroke-width="0.6"/>
<line x1="407.6" y1="237.7" x2="418.0" y2="237.7" stroke="#000000" stroke-opacity="0.35" stroke-width="0.6"/>
<rect x="410.8" y="236.2" width="3.0" height="3.0" fill="#000000"/>
<text x="419.3" y="239.8" font-size="6.3" text-anchor="start" fill="#3a3a3a" textLength="6.5" lengthAdjust="spacingAndGlyphs" stroke="#3a3a3a" stroke-width="0.0" >DC</text>
<line x1="407.6" y1="244.1" x2="418.0" y2="244.1" stroke="#FF80FF" stroke-opacity="0.35" stroke-width="0.6"/>
<circle cx="412.3" cy="244.1" r="1.6" fill="#FF80FF"/>
<text x="419.3" y="246.2" font-size="6.3" text-anchor="start" fill="#3a3a3a" textLength="15.0" lengthAdjust="spacingAndGlyphs" stroke="#3a3a3a" stroke-width="0.0" >K-shell</text>
<line x1="407.6" y1="250.6" x2="418.0" y2="250.6" stroke="#0000FF" stroke-opacity="0.35" stroke-width="0.6"/>
<polygon points="412.3,248.3 414.4,251.9 410.2,251.9" fill="#0000FF"/>
<text x="419.3" y="252.7" font-size="6.3" text-anchor="start" fill="#3a3a3a" textLength="6.5" lengthAdjust="spacingAndGlyphs" stroke="#3a3a3a" stroke-width="0.0" >PL</text>
<line x1="407.6" y1="257.0" x2="418.0" y2="257.0" stroke="#008080" stroke-opacity="0.35" stroke-width="0.6"/>
<polygon points="412.3,259.2 414.4,255.7 410.2,255.7" fill="#008080"/>
<text x="419.3" y="259.1" font-size="6.3" text-anchor="start" fill="#3a3a3a" textLength="13.8" lengthAdjust="spacingAndGlyphs" stroke="#3a3a3a" stroke-width="0.0" >ECRM</text>
<line x1="407.6" y1="263.4" x2="418.0" y2="263.4" stroke="#FF00FF" stroke-opacity="0.35" stroke-width="0.6"/>
<polygon points="410.1,263.4 413.7,261.3 413.7,265.5" fill="#FF00FF"/>
<text x="419.3" y="265.5" font-size="6.3" text-anchor="start" fill="#3a3a3a" textLength="10.5" lengthAdjust="spacingAndGlyphs" stroke="#3a3a3a" stroke-width="0.0" >GSM</text>
<line x1="407.6" y1="269.9" x2="418.0" y2="269.9" stroke="#808000" stroke-opacity="0.35" stroke-width="0.6"/>
<polygon points="414.5,269.9 411.0,267.8 411.0,271.9" fill="#808000"/>
<text x="419.3" y="272.0" font-size="6.3" text-anchor="start" fill="#3a3a3a" textLength="7.8" lengthAdjust="spacingAndGlyphs" stroke="#3a3a3a" stroke-width="0.0" >GSI</text>
<line x1="407.6" y1="276.3" x2="418.0" y2="276.3" stroke="#000080" stroke-opacity="0.35" stroke-width="0.6"/>
<polygon points="412.3,274.1 414.1,276.3 412.3,278.5 410.6,276.3" fill="#000080"/>
<text x="419.3" y="278.4" font-size="6.3" text-anchor="start" fill="#3a3a3a" textLength="14.5" lengthAdjust="spacingAndGlyphs" stroke="#3a3a3a" stroke-width="0.0" >MCGM</text>
<line x1="407.6" y1="282.7" x2="418.0" y2="282.7" stroke="#800000" stroke-opacity="0.35" stroke-width="0.6"/>
<circle cx="412.3" cy="282.7" r="1.6" fill="#800000"/>
<text x="419.3" y="284.8" font-size="6.3" text-anchor="start" fill="#3a3a3a" textLength="4.6" lengthAdjust="spacingAndGlyphs" stroke="#3a3a3a" stroke-width="0.0" >CI</text>
<line x1="407.6" y1="289.1" x2="418.0" y2="289.1" stroke="#FF0080" stroke-opacity="0.35" stroke-width="0.6"/>
<circle cx="412.3" cy="289.1" r="1.6" fill="#FF0080"/>
<text x="419.3" y="291.2" font-size="6.3" text-anchor="start" fill="#3a3a3a" textLength="13.0" lengthAdjust="spacingAndGlyphs" stroke="#3a3a3a" stroke-width="0.0" >HVGC</text>
<line x1="407.6" y1="295.6" x2="418.0" y2="295.6" stroke="#008000" stroke-opacity="0.35" stroke-width="0.6"/>
<polygon points="412.3,293.2 412.9,294.8 414.5,294.9 413.3,295.9 413.7,297.4 412.3,296.6 411.0,297.4 411.4,295.9 410.1,294.9 411.8,294.8" fill="#008000"/>
<text x="419.3" y="297.7" font-size="6.3" text-anchor="start" fill="#3a3a3a" textLength="13.8" lengthAdjust="spacingAndGlyphs" stroke="#3a3a3a" stroke-width="0.0" >CSRM</text>
<line x1="407.6" y1="302.0" x2="418.0" y2="302.0" stroke="#FF0000" stroke-opacity="0.35" stroke-width="0.6"/>
<circle cx="412.3" cy="302.0" r="1.6" fill="#FF0000"/>
<text x="419.3" y="304.1" font-size="6.3" text-anchor="start" fill="#3a3a3a" textLength="10.5" lengthAdjust="spacingAndGlyphs" stroke="#3a3a3a" stroke-width="0.0" >SGM</text>
<text x="342.6" y="421.9" style="font-family:Liberation Serif,serif" font-size="17.2" fill="#111" text-anchor="middle">(e) friendships</text>
<line x1="510.0" y1="365.4" x2="510.0" y2="230.3" stroke="#bbb" stroke-width="0.8"/>
<line x1="510.0" y1="365.4" x2="679.3" y2="365.4" stroke="#555" stroke-width="0.8"/>
<line x1="510.0" y1="365.4" x2="510.0" y2="367.6" stroke="#444" stroke-width="0.75"/>
<text x="510.0" y="374.9" font-size="6.3" text-anchor="middle" fill="#2a2a2a" textLength="10.1" lengthAdjust="spacingAndGlyphs" stroke="#2a2a2a" stroke-width="0.1" >0.00</text>
<line x1="524.1" y1="365.4" x2="524.1" y2="366.7" stroke="#444" stroke-width="0.75"/>
<line x1="538.2" y1="365.4" x2="538.2" y2="367.6" stroke="#444" stroke-width="0.75"/>
<text x="538.2" y="374.9" font-size="6.3" text-anchor="middle" fill="#2a2a2a" textLength="10.1" lengthAdjust="spacingAndGlyphs" stroke="#2a2a2a" stroke-width="0.1" >0.02</text>
<line x1="552.3" y1="365.4" x2="552.3" y2="366.7" stroke="#444" stroke-width="0.75"/>
<line x1="566.4" y1="365.4" x2="566.4" y2="367.6" stroke="#444" stroke-width="0.75"/>
<text x="566.4" y="374.9" font-size="6.3" text-anchor="middle" fill="#2a2a2a" textLength="10.1" lengthAdjust="spacingAndGlyphs" stroke="#2a2a2a" stroke-width="0.1" >0.04</text>
<line x1="580.5" y1="365.4" x2="580.5" y2="366.7" stroke="#444" stroke-width="0.75"/>
<line x1="594.6" y1="365.4" x2="594.6" y2="367.6" stroke="#444" stroke-width="0.75"/>
<text x="594.6" y="374.9" font-size="6.3" text-anchor="middle" fill="#2a2a2a" textLength="10.1" lengthAdjust="spacingAndGlyphs" stroke="#2a2a2a" stroke-width="0.1" >0.06</text>
<line x1="608.8" y1="365.4" x2="608.8" y2="366.7" stroke="#444" stroke-width="0.75"/>
<line x1="622.9" y1="365.4" x2="622.9" y2="367.6" stroke="#444" stroke-width="0.75"/>
<text x="622.9" y="374.9" font-size="6.3" text-anchor="middle" fill="#2a2a2a" textLength="10.1" lengthAdjust="spacingAndGlyphs" stroke="#2a2a2a" stroke-width="0.1" >0.08</text>
<line x1="637.0" y1="365.4" x2="637.0" y2="366.7" stroke="#444" stroke-width="0.75"/>
<line x1="651.1" y1="365.4" x2="651.1" y2="367.6" stroke="#444" stroke-width="0.75"/>
<text x="651.1" y="374.9" font-size="6.3" text-anchor="middle" fill="#2a2a2a" textLength="10.1" lengthAdjust="spacingAndGlyphs" stroke="#2a2a2a" stroke-width="0.1" >0.10</text>
<line x1="665.2" y1="365.4" x2="665.2" y2="366.7" stroke="#444" stroke-width="0.75"/>
<line x1="679.3" y1="365.4" x2="679.3" y2="367.6" stroke="#444" stroke-width="0.75"/>
<text x="679.3" y="374.9" font-size="6.3" text-anchor="middle" fill="#2a2a2a" textLength="10.1" lengthAdjust="spacingAndGlyphs" stroke="#2a2a2a" stroke-width="0.1" >0.12</text>
<line x1="507.8" y1="365.4" x2="510.0" y2="365.4" stroke="#444" stroke-width="0.75"/>
<text x="505.9" y="366.9" font-size="6.3" text-anchor="end" fill="#2a2a2a" textLength="7.4" lengthAdjust="spacingAndGlyphs" stroke="#2a2a2a" stroke-width="0.1" >0.1</text>
<line x1="507.8" y1="348.5" x2="510.0" y2="348.5" stroke="#444" stroke-width="0.75"/>
<text x="505.9" y="350.0" font-size="6.3" text-anchor="end" fill="#2a2a2a" textLength="7.4" lengthAdjust="spacingAndGlyphs" stroke="#2a2a2a" stroke-width="0.1" >0.2</text>
<line x1="507.8" y1="331.6" x2="510.0" y2="331.6" stroke="#444" stroke-width="0.75"/>
<text x="505.9" y="333.1" font-size="6.3" text-anchor="end" fill="#2a2a2a" textLength="7.4" lengthAdjust="spacingAndGlyphs" stroke="#2a2a2a" stroke-width="0.1" >0.3</text>
<line x1="507.8" y1="314.7" x2="510.0" y2="314.7" stroke="#444" stroke-width="0.75"/>
<text x="505.9" y="316.2" font-size="6.3" text-anchor="end" fill="#2a2a2a" textLength="7.4" lengthAdjust="spacingAndGlyphs" stroke="#2a2a2a" stroke-width="0.1" >0.4</text>
<line x1="507.8" y1="297.9" x2="510.0" y2="297.9" stroke="#444" stroke-width="0.75"/>
<text x="505.9" y="299.4" font-size="6.3" text-anchor="end" fill="#2a2a2a" textLength="7.4" lengthAdjust="spacingAndGlyphs" stroke="#2a2a2a" stroke-width="0.1" >0.5</text>
<line x1="507.8" y1="281.0" x2="510.0" y2="281.0" stroke="#444" stroke-width="0.75"/>
<text x="505.9" y="282.5" font-size="6.3" text-anchor="end" fill="#2a2a2a" textLength="7.4" lengthAdjust="spacingAndGlyphs" stroke="#2a2a2a" stroke-width="0.1" >0.6</text>
<line x1="507.8" y1="264.1" x2="510.0" y2="264.1" stroke="#444" stroke-width="0.75"/>
<text x="505.9" y="265.6" font-size="6.3" text-anchor="end" fill="#2a2a2a" textLength="7.4" lengthAdjust="spacingAndGlyphs" stroke="#2a2a2a" stroke-width="0.1" >0.7</text>
<line x1="507.8" y1="247.2" x2="510.0" y2="247.2" stroke="#444" stroke-width="0.75"/>
<text x="505.9" y="248.7" font-size="6.3" text-anchor="end" fill="#2a2a2a" textLength="7.4" lengthAdjust="spacingAndGlyphs" stroke="#2a2a2a" stroke-width="0.1" >0.8</text>
<line x1="507.8" y1="230.3" x2="510.0" y2="230.3" stroke="#444" stroke-width="0.75"/>
<text x="505.9" y="231.8" font-size="6.3" text-anchor="end" fill="#2a2a2a" textLength="7.4" lengthAdjust="spacingAndGlyphs" stroke="#2a2a2a" stroke-width="0.1" >0.9</text>
<line x1="508.7" y1="357.0" x2="510.0" y2="357.0" stroke="#444" stroke-width="0.75"/>
<line x1="508.7" y1="340.1" x2="510.0" y2="340.1" stroke="#444" stroke-width="0.75"/>
<line x1="508.7" y1="323.2" x2="510.0" y2="323.2" stroke="#444" stroke-width="0.75"/>
<line x1="508.7" y1="306.3" x2="510.0" y2="306.3" stroke="#444" stroke-width="0.75"/>
<line x1="508.7" y1="289.4" x2="510.0" y2="289.4" stroke="#444" stroke-width="0.75"/>
<line x1="508.7" y1="272.5" x2="510.0" y2="272.5" stroke="#444" stroke-width="0.75"/>
<line x1="508.7" y1="255.6" x2="510.0" y2="255.6" stroke="#444" stroke-width="0.75"/>
<line x1="508.7" y1="238.7" x2="510.0" y2="238.7" stroke="#444" stroke-width="0.75"/>
<text x="489.5" y="304.8" font-size="8.8" fill="#3a3a3a" transform="rotate(-90 489.5 304.8)" text-anchor="middle">τ</text>
<text x="594.7" y="385.8" font-size="7.3" fill="#333" text-anchor="middle" textLength="3.6" lengthAdjust="spacingAndGlyphs">β</text>
<polyline fill="none" stroke="#000000" stroke-opacity="0.45" stroke-width="0.55" points="524.1,294.5 538.2,285.2 552.3,284.3 566.4,286.0 580.5,288.6 594.6,291.1 608.8,293.1 622.9,295.7 637.0,297.9 651.1,299.9"/>
<polyline fill="none" stroke="#FF80FF" stroke-opacity="0.45" stroke-width="0.55" points="524.1,299.5 538.2,306.3 552.3,306.3 566.4,306.8 580.5,307.5 594.6,308.0 608.8,308.3 622.9,308.8 637.0,309.7 651.1,310.2"/>
<polyline fill="none" stroke="#0000FF" stroke-opacity="0.45" stroke-width="0.55" points="524.1,294.5 538.2,298.7 552.3,306.0 566.4,312.5 580.5,318.1 594.6,323.2 608.8,325.4 622.9,328.9 637.0,332.5 651.1,334.7"/>
<polyline fill="none" stroke="#008080" stroke-opacity="0.45" stroke-width="0.55" points="524.1,308.0 538.2,296.2 552.3,286.9 566.4,278.4 580.5,271.7 594.6,265.8 608.8,262.4 622.9,257.3 637.0,253.9 651.1,250.6"/>
<polyline fill="none" stroke="#FF00FF" stroke-opacity="0.45" stroke-width="0.55" points="524.1,318.1 538.2,308.8 552.3,300.4 566.4,292.4 580.5,286.5 594.6,281.3 608.8,277.6 622.9,274.2 637.0,270.8 651.1,268.1"/>
<polyline fill="none" stroke="#808000" stroke-opacity="0.45" stroke-width="0.55" points="524.1,285.2 538.2,276.7 552.3,270.0 566.4,264.1 580.5,260.4 594.6,257.7 608.8,256.1 622.9,256.0 637.0,254.8 651.1,254.3"/>
<polyline fill="none" stroke="#000080" stroke-opacity="0.45" stroke-width="0.55" points="524.1,294.5 538.2,282.3 552.3,271.7 566.4,263.2 580.5,256.5 594.6,250.6 608.8,247.7 622.9,244.7 637.0,241.6 651.1,239.6"/>
<polyline fill="none" stroke="#800000" stroke-opacity="0.45" stroke-width="0.55" points="524.1,289.4 538.2,286.0 552.3,285.2 566.4,286.0 580.5,286.9 594.6,287.2 608.8,287.7 622.9,288.9 637.0,289.4 651.1,290.6"/>
<polyline fill="none" stroke="#FF0080" stroke-opacity="0.45" stroke-width="0.55" points="524.1,299.5 538.2,287.7 552.3,276.7 566.4,267.5 580.5,260.4 594.6,254.4 608.8,250.2 622.9,245.5 637.0,242.1 651.1,238.7"/>
<polyline fill="none" stroke="#008000" stroke-opacity="0.45" stroke-width="0.55" points="524.1,296.2 538.2,287.7 552.3,281.0 566.4,275.1 580.5,271.3 594.6,267.1 608.8,265.8 622.9,264.1 637.0,262.7 651.1,262.0"/>
<polyline fill="none" stroke="#FF0000" stroke-opacity="0.45" stroke-width="0.55" points="524.1,284.3 538.2,271.7 552.3,261.5 566.4,253.9 580.5,248.0 594.6,243.0 608.8,240.4 622.9,238.4 637.0,237.1 651.1,235.7"/>
<rect x="522.7" y="293.1" width="2.8" height="2.8" fill="#000000"/>
<rect x="536.8" y="283.8" width="2.8" height="2.8" fill="#000000"/>
<rect x="550.9" y="282.9" width="2.8" height="2.8" fill="#000000"/>
<rect x="565.0" y="284.6" width="2.8" height="2.8" fill="#000000"/>
<rect x="579.1" y="287.2" width="2.8" height="2.8" fill="#000000"/>
<rect x="593.2" y="289.7" width="2.8" height="2.8" fill="#000000"/>
<rect x="607.4" y="291.7" width="2.8" height="2.8" fill="#000000"/>
<rect x="621.5" y="294.2" width="2.8" height="2.8" fill="#000000"/>
<rect x="635.6" y="296.4" width="2.8" height="2.8" fill="#000000"/>
<rect x="649.7" y="298.5" width="2.8" height="2.8" fill="#000000"/>
<circle cx="524.1" cy="299.5" r="1.6" fill="#FF80FF"/>
<circle cx="538.2" cy="306.3" r="1.6" fill="#FF80FF"/>
<circle cx="552.3" cy="306.3" r="1.6" fill="#FF80FF"/>
<circle cx="566.4" cy="306.8" r="1.6" fill="#FF80FF"/>
<circle cx="580.5" cy="307.5" r="1.6" fill="#FF80FF"/>
<circle cx="594.6" cy="308.0" r="1.6" fill="#FF80FF"/>
<circle cx="608.8" cy="308.3" r="1.6" fill="#FF80FF"/>
<circle cx="622.9" cy="308.8" r="1.6" fill="#FF80FF"/>
<circle cx="637.0" cy="309.7" r="1.6" fill="#FF80FF"/>
<circle cx="651.1" cy="310.2" r="1.6" fill="#FF80FF"/>
<polygon points="524.1,292.4 526.1,295.7 522.1,295.7" fill="#0000FF"/>
<polygon points="538.2,296.6 540.2,299.9 536.2,299.9" fill="#0000FF"/>
<polygon points="552.3,303.9 554.3,307.2 550.3,307.2" fill="#0000FF"/>
<polygon points="566.4,310.5 568.4,313.8 564.5,313.8" fill="#0000FF"/>
<polygon points="580.5,316.0 582.5,319.4 578.6,319.4" fill="#0000FF"/>
<polygon points="594.6,321.1 596.6,324.4 592.7,324.4" fill="#0000FF"/>
<polygon points="608.8,323.3 610.7,326.6 606.8,326.6" fill="#0000FF"/>
<polygon points="622.9,326.8 624.8,330.2 620.9,330.2" fill="#0000FF"/>
<polygon points="637.0,330.4 639.0,333.7 635.0,333.7" fill="#0000FF"/>
<polygon points="651.1,332.6 653.1,335.9 649.1,335.9" fill="#0000FF"/>
<polygon points="524.1,310.1 526.1,306.7 522.1,306.7" fill="#008080"/>
<polygon points="538.2,298.2 540.2,294.9 536.2,294.9" fill="#008080"/>
<polygon points="552.3,289.0 554.3,285.6 550.3,285.6" fill="#008080"/>
<polygon points="566.4,280.5 568.4,277.2 564.5,277.2" fill="#008080"/>
<polygon points="580.5,273.8 582.5,270.4 578.6,270.4" fill="#008080"/>
<polygon points="594.6,267.8 596.6,264.5 592.7,264.5" fill="#008080"/>
<polygon points="608.8,264.5 610.7,261.1 606.8,261.1" fill="#008080"/>
<polygon points="622.9,259.4 624.8,256.1 620.9,256.1" fill="#008080"/>
<polygon points="637.0,256.0 639.0,252.7 635.0,252.7" fill="#008080"/>
<polygon points="651.1,252.6 653.1,249.3 649.1,249.3" fill="#008080"/>
<polygon points="522.0,318.1 525.4,316.1 525.4,320.1" fill="#FF00FF"/>
<polygon points="536.1,308.8 539.5,306.9 539.5,310.8" fill="#FF00FF"/>
<polygon points="550.2,300.4 553.6,298.4 553.6,302.4" fill="#FF00FF"/>
<polygon points="564.4,292.4 567.7,290.5 567.7,294.4" fill="#FF00FF"/>
<polygon points="578.5,286.5 581.8,284.6 581.8,288.5" fill="#FF00FF"/>
<polygon points="592.6,281.3 595.9,279.3 595.9,283.3" fill="#FF00FF"/>
<polygon points="606.7,277.6 610.0,275.6 610.0,279.6" fill="#FF00FF"/>
<polygon points="620.8,274.2 624.1,272.2 624.1,276.2" fill="#FF00FF"/>
<polygon points="634.9,270.8 638.2,268.9 638.2,272.8" fill="#FF00FF"/>
<polygon points="649.0,268.1 652.3,266.2 652.3,270.1" fill="#FF00FF"/>
<polygon points="526.2,285.2 522.9,283.2 522.9,287.2" fill="#808000"/>
<polygon points="540.3,276.7 537.0,274.8 537.0,278.7" fill="#808000"/>
<polygon points="554.4,270.0 551.1,268.0 551.1,272.0" fill="#808000"/>
<polygon points="568.5,264.1 565.2,262.1 565.2,266.1" fill="#808000"/>
<polygon points="582.6,260.4 579.3,258.4 579.3,262.3" fill="#808000"/>
<polygon points="596.7,257.7 593.4,255.7 593.4,259.6" fill="#808000"/>
<polygon points="610.8,256.1 607.5,254.2 607.5,258.1" fill="#808000"/>
<polygon points="624.9,256.0 621.6,254.0 621.6,257.9" fill="#808000"/>
<polygon points="639.1,254.8 635.7,252.8 635.7,256.8" fill="#808000"/>
<polygon points="653.2,254.3 649.8,252.3 649.8,256.3" fill="#808000"/>
<polygon points="524.1,292.4 525.8,294.5 524.1,296.6 522.4,294.5" fill="#000080"/>
<polygon points="538.2,280.2 539.9,282.3 538.2,284.4 536.6,282.3" fill="#000080"/>
<polygon points="552.3,269.6 554.0,271.7 552.3,273.8 550.7,271.7" fill="#000080"/>
<polygon points="566.4,261.2 568.1,263.2 566.4,265.3 564.8,263.2" fill="#000080"/>
<polygon points="580.5,254.4 582.2,256.5 580.5,258.6 578.9,256.5" fill="#000080"/>
<polygon points="594.6,248.5 596.3,250.6 594.6,252.6 593.0,250.6" fill="#000080"/>
<polygon points="608.8,245.6 610.4,247.7 608.8,249.8 607.1,247.7" fill="#000080"/>
<polygon points="622.9,242.6 624.5,244.7 622.9,246.7 621.2,244.7" fill="#000080"/>
<polygon points="637.0,239.5 638.6,241.6 637.0,243.7 635.3,241.6" fill="#000080"/>
<polygon points="651.1,237.5 652.7,239.6 651.1,241.7 649.4,239.6" fill="#000080"/>
<circle cx="524.1" cy="289.4" r="1.6" fill="#800000"/>
<circle cx="538.2" cy="286.0" r="1.6" fill="#800000"/>
<circle cx="552.3" cy="285.2" r="1.6" fill="#800000"/>
<circle cx="566.4" cy="286.0" r="1.6" fill="#800000"/>
<circle cx="580.5" cy="286.9" r="1.6" fill="#800000"/>
<circle cx="594.6" cy="287.2" r="1.6" fill="#800000"/>
<circle cx="608.8" cy="287.7" r="1.6" fill="#800000"/>
<circle cx="622.9" cy="288.9" r="1.6" fill="#800000"/>
<circle cx="637.0" cy="289.4" r="1.6" fill="#800000"/>
<circle cx="651.1" cy="290.6" r="1.6" fill="#800000"/>
<circle cx="524.1" cy="299.5" r="1.6" fill="#FF0080"/>
<circle cx="538.2" cy="287.7" r="1.6" fill="#FF0080"/>
<circle cx="552.3" cy="276.7" r="1.6" fill="#FF0080"/>
<circle cx="566.4" cy="267.5" r="1.6" fill="#FF0080"/>
<circle cx="580.5" cy="260.4" r="1.6" fill="#FF0080"/>
<circle cx="594.6" cy="254.4" r="1.6" fill="#FF0080"/>
<circle cx="608.8" cy="250.2" r="1.6" fill="#FF0080"/>
<circle cx="622.9" cy="245.5" r="1.6" fill="#FF0080"/>
<circle cx="637.0" cy="242.1" r="1.6" fill="#FF0080"/>
<circle cx="651.1" cy="238.7" r="1.6" fill="#FF0080"/>
<polygon points="524.1,294.0 524.7,295.4 526.2,295.5 525.0,296.5 525.4,297.9 524.1,297.1 522.8,297.9 523.2,296.5 522.0,295.5 523.6,295.4" fill="#008000"/>
<polygon points="538.2,285.5 538.8,287.0 540.3,287.0 539.1,288.0 539.5,289.5 538.2,288.7 536.9,289.5 537.3,288.0 536.1,287.0 537.7,287.0" fill="#008000"/>
<polygon points="552.3,278.8 552.9,280.2 554.4,280.3 553.2,281.3 553.6,282.7 552.3,281.9 551.0,282.7 551.4,281.3 550.2,280.3 551.8,280.2" fill="#008000"/>
<polygon points="566.4,272.9 567.0,274.3 568.5,274.4 567.3,275.3 567.7,276.8 566.4,276.0 565.1,276.8 565.5,275.3 564.4,274.4 565.9,274.3" fill="#008000"/>
<polygon points="580.5,269.2 581.1,270.6 582.6,270.7 581.4,271.6 581.8,273.1 580.5,272.3 579.3,273.1 579.7,271.6 578.5,270.7 580.0,270.6" fill="#008000"/>
<polygon points="594.6,264.9 595.2,266.4 596.7,266.4 595.5,267.4 595.9,268.9 594.6,268.1 593.4,268.9 593.8,267.4 592.6,266.4 594.1,266.4" fill="#008000"/>
<polygon points="608.8,263.6 609.3,265.0 610.8,265.1 609.6,266.1 610.0,267.5 608.8,266.7 607.5,267.5 607.9,266.1 606.7,265.1 608.2,265.0" fill="#008000"/>
<polygon points="622.9,261.9 623.4,263.3 624.9,263.4 623.8,264.4 624.2,265.8 622.9,265.0 621.6,265.8 622.0,264.4 620.8,263.4 622.3,263.3" fill="#008000"/>
<polygon points="637.0,260.5 637.5,262.0 639.1,262.0 637.9,263.0 638.3,264.5 637.0,263.7 635.7,264.5 636.1,263.0 634.9,262.0 636.4,262.0" fill="#008000"/>
<polygon points="651.1,259.9 651.6,261.3 653.2,261.4 652.0,262.3 652.4,263.8 651.1,263.0 649.8,263.8 650.2,262.3 649.0,261.4 650.5,261.3" fill="#008000"/>
<circle cx="524.1" cy="284.3" r="1.6" fill="#FF0000"/>
<line x1="523.9" y1="284.8" x2="525.0" y2="283.6" stroke="#fff" stroke-opacity="0.8" stroke-width="0.45"/>
<circle cx="538.2" cy="271.7" r="1.6" fill="#FF0000"/>
<line x1="538.0" y1="272.2" x2="539.1" y2="271.0" stroke="#fff" stroke-opacity="0.8" stroke-width="0.45"/>
<circle cx="552.3" cy="261.5" r="1.6" fill="#FF0000"/>
<line x1="552.1" y1="262.0" x2="553.2" y2="260.8" stroke="#fff" stroke-opacity="0.8" stroke-width="0.45"/>
<circle cx="566.4" cy="253.9" r="1.6" fill="#FF0000"/>
<line x1="566.2" y1="254.4" x2="567.3" y2="253.2" stroke="#fff" stroke-opacity="0.8" stroke-width="0.45"/>
<circle cx="580.5" cy="248.0" r="1.6" fill="#FF0000"/>
<line x1="580.3" y1="248.5" x2="581.4" y2="247.3" stroke="#fff" stroke-opacity="0.8" stroke-width="0.45"/>
<circle cx="594.6" cy="243.0" r="1.6" fill="#FF0000"/>
<line x1="594.4" y1="243.5" x2="595.5" y2="242.3" stroke="#fff" stroke-opacity="0.8" stroke-width="0.45"/>
<circle cx="608.8" cy="240.4" r="1.6" fill="#FF0000"/>
<line x1="608.6" y1="240.9" x2="609.7" y2="239.7" stroke="#fff" stroke-opacity="0.8" stroke-width="0.45"/>
<circle cx="622.9" cy="238.4" r="1.6" fill="#FF0000"/>
<line x1="622.7" y1="238.9" x2="623.8" y2="237.7" stroke="#fff" stroke-opacity="0.8" stroke-width="0.45"/>
<circle cx="637.0" cy="237.1" r="1.6" fill="#FF0000"/>
<line x1="636.8" y1="237.6" x2="637.9" y2="236.4" stroke="#fff" stroke-opacity="0.8" stroke-width="0.45"/>
<circle cx="651.1" cy="235.7" r="1.6" fill="#FF0000"/>
<line x1="650.9" y1="236.2" x2="652.0" y2="235.0" stroke="#fff" stroke-opacity="0.8" stroke-width="0.45"/>
<rect x="653.3" y="228.5" width="30.2" height="74.5" fill="#fff" stroke="#aaa" stroke-width="0.6"/>
<line x1="654.8" y1="232.9" x2="665.7" y2="232.9" stroke="#000000" stroke-opacity="0.35" stroke-width="0.6"/>
<rect x="658.3" y="231.4" width="3.0" height="3.0" fill="#000000"/>
<text x="667.0" y="235.0" font-size="6.3" text-anchor="start" fill="#3a3a3a" textLength="6.5" lengthAdjust="spacingAndGlyphs" stroke="#3a3a3a" stroke-width="0.0" >DC</text>
<line x1="654.8" y1="239.6" x2="665.7" y2="239.6" stroke="#FF80FF" stroke-opacity="0.35" stroke-width="0.6"/>
<circle cx="659.8" cy="239.6" r="1.6" fill="#FF80FF"/>
<text x="667.0" y="241.7" font-size="6.3" text-anchor="start" fill="#3a3a3a" textLength="15.0" lengthAdjust="spacingAndGlyphs" stroke="#3a3a3a" stroke-width="0.0" >K-shell</text>
<line x1="654.8" y1="246.2" x2="665.7" y2="246.2" stroke="#0000FF" stroke-opacity="0.35" stroke-width="0.6"/>
<polygon points="659.8,244.0 661.9,247.5 657.7,247.5" fill="#0000FF"/>
<text x="667.0" y="248.3" font-size="6.3" text-anchor="start" fill="#3a3a3a" textLength="6.5" lengthAdjust="spacingAndGlyphs" stroke="#3a3a3a" stroke-width="0.0" >PL</text>
<line x1="654.8" y1="252.9" x2="665.7" y2="252.9" stroke="#008080" stroke-opacity="0.35" stroke-width="0.6"/>
<polygon points="659.8,255.1 661.9,251.6 657.7,251.6" fill="#008080"/>
<text x="667.0" y="255.0" font-size="6.3" text-anchor="start" fill="#3a3a3a" textLength="13.8" lengthAdjust="spacingAndGlyphs" stroke="#3a3a3a" stroke-width="0.0" >ECRM</text>
<line x1="654.8" y1="259.5" x2="665.7" y2="259.5" stroke="#FF00FF" stroke-opacity="0.35" stroke-width="0.6"/>
<polygon points="657.6,259.5 661.1,257.4 661.1,261.6" fill="#FF00FF"/>
<text x="667.0" y="261.6" font-size="6.3" text-anchor="start" fill="#3a3a3a" textLength="10.5" lengthAdjust="spacingAndGlyphs" stroke="#3a3a3a" stroke-width="0.0" >GSM</text>
<line x1="654.8" y1="266.2" x2="665.7" y2="266.2" stroke="#808000" stroke-opacity="0.35" stroke-width="0.6"/>
<polygon points="662.0,266.2 658.5,264.1 658.5,268.3" fill="#808000"/>
<text x="667.0" y="268.3" font-size="6.3" text-anchor="start" fill="#3a3a3a" textLength="7.8" lengthAdjust="spacingAndGlyphs" stroke="#3a3a3a" stroke-width="0.0" >GSI</text>
<line x1="654.8" y1="272.9" x2="665.7" y2="272.9" stroke="#000080" stroke-opacity="0.35" stroke-width="0.6"/>
<polygon points="659.8,270.7 661.6,272.9 659.8,275.1 658.0,272.9" fill="#000080"/>
<text x="667.0" y="275.0" font-size="6.3" text-anchor="start" fill="#3a3a3a" textLength="14.5" lengthAdjust="spacingAndGlyphs" stroke="#3a3a3a" stroke-width="0.0" >MCGM</text>
<line x1="654.8" y1="279.5" x2="665.7" y2="279.5" stroke="#800000" stroke-opacity="0.35" stroke-width="0.6"/>
<circle cx="659.8" cy="279.5" r="1.6" fill="#800000"/>
<text x="667.0" y="281.6" font-size="6.3" text-anchor="start" fill="#3a3a3a" textLength="4.6" lengthAdjust="spacingAndGlyphs" stroke="#3a3a3a" stroke-width="0.0" >CI</text>
<line x1="654.8" y1="286.2" x2="665.7" y2="286.2" stroke="#FF0080" stroke-opacity="0.35" stroke-width="0.6"/>
<circle cx="659.8" cy="286.2" r="1.6" fill="#FF0080"/>
<text x="667.0" y="288.3" font-size="6.3" text-anchor="start" fill="#3a3a3a" textLength="13.0" lengthAdjust="spacingAndGlyphs" stroke="#3a3a3a" stroke-width="0.0" >HVGC</text>
<line x1="654.8" y1="292.8" x2="665.7" y2="292.8" stroke="#008000" stroke-opacity="0.35" stroke-width="0.6"/>
<polygon points="659.8,290.5 660.4,292.0 662.0,292.1 660.7,293.1 661.2,294.7 659.8,293.8 658.4,294.7 658.8,293.1 657.6,292.1 659.2,292.0" fill="#008000"/>
<text x="667.0" y="294.9" font-size="6.3" text-anchor="start" fill="#3a3a3a" textLength="13.8" lengthAdjust="spacingAndGlyphs" stroke="#3a3a3a" stroke-width="0.0" >CSRM</text>
<line x1="654.8" y1="299.5" x2="665.7" y2="299.5" stroke="#FF0000" stroke-opacity="0.35" stroke-width="0.6"/>
<circle cx="659.8" cy="299.5" r="1.6" fill="#FF0000"/>
<text x="667.0" y="301.6" font-size="6.3" text-anchor="start" fill="#3a3a3a" textLength="10.5" lengthAdjust="spacingAndGlyphs" stroke="#3a3a3a" stroke-width="0.0" >SGM</text>
<text x="596.3" y="421.9" style="font-family:Liberation Serif,serif" font-size="17.2" fill="#111" text-anchor="middle">(f) protein</text>
<line x1="27.5" y1="593.5" x2="27.5" y2="453.9" stroke="#555" stroke-width="0.8"/>
<line x1="27.5" y1="593.5" x2="187.3" y2="593.5" stroke="#555" stroke-width="0.8"/>
<line x1="27.5" y1="593.5" x2="27.5" y2="595.7" stroke="#444" stroke-width="0.75"/>
<text x="27.5" y="603.0" font-size="6.3" text-anchor="middle" fill="#2a2a2a" textLength="10.1" lengthAdjust="spacingAndGlyphs" stroke="#2a2a2a" stroke-width="0.1" >0.00</text>
<line x1="40.8" y1="593.5" x2="40.8" y2="594.8" stroke="#444" stroke-width="0.75"/>
<line x1="54.1" y1="593.5" x2="54.1" y2="595.7" stroke="#444" stroke-width="0.75"/>
<text x="54.1" y="603.0" font-size="6.3" text-anchor="middle" fill="#2a2a2a" textLength="10.1" lengthAdjust="spacingAndGlyphs" stroke="#2a2a2a" stroke-width="0.1" >0.02</text>
<line x1="67.5" y1="593.5" x2="67.5" y2="594.8" stroke="#444" stroke-width="0.75"/>
<line x1="80.8" y1="593.5" x2="80.8" y2="595.7" stroke="#444" stroke-width="0.75"/>
<text x="80.8" y="603.0" font-size="6.3" text-anchor="middle" fill="#2a2a2a" textLength="10.1" lengthAdjust="spacingAndGlyphs" stroke="#2a2a2a" stroke-width="0.1" >0.04</text>
<line x1="94.1" y1="593.5" x2="94.1" y2="594.8" stroke="#444" stroke-width="0.75"/>
<line x1="107.4" y1="593.5" x2="107.4" y2="595.7" stroke="#444" stroke-width="0.75"/>
<text x="107.4" y="603.0" font-size="6.3" text-anchor="middle" fill="#2a2a2a" textLength="10.1" lengthAdjust="spacingAndGlyphs" stroke="#2a2a2a" stroke-width="0.1" >0.06</text>
<line x1="120.7" y1="593.5" x2="120.7" y2="594.8" stroke="#444" stroke-width="0.75"/>
<line x1="134.0" y1="593.5" x2="134.0" y2="595.7" stroke="#444" stroke-width="0.75"/>
<text x="134.0" y="603.0" font-size="6.3" text-anchor="middle" fill="#2a2a2a" textLength="10.1" lengthAdjust="spacingAndGlyphs" stroke="#2a2a2a" stroke-width="0.1" >0.08</text>
<line x1="147.4" y1="593.5" x2="147.4" y2="594.8" stroke="#444" stroke-width="0.75"/>
<line x1="160.7" y1="593.5" x2="160.7" y2="595.7" stroke="#444" stroke-width="0.75"/>
<text x="160.7" y="603.0" font-size="6.3" text-anchor="middle" fill="#2a2a2a" textLength="10.1" lengthAdjust="spacingAndGlyphs" stroke="#2a2a2a" stroke-width="0.1" >0.10</text>
<line x1="174.0" y1="593.5" x2="174.0" y2="594.8" stroke="#444" stroke-width="0.75"/>
<line x1="187.3" y1="593.5" x2="187.3" y2="595.7" stroke="#444" stroke-width="0.75"/>
<text x="187.3" y="603.0" font-size="6.3" text-anchor="middle" fill="#2a2a2a" textLength="10.1" lengthAdjust="spacingAndGlyphs" stroke="#2a2a2a" stroke-width="0.1" >0.12</text>
<line x1="25.3" y1="593.5" x2="27.5" y2="593.5" stroke="#444" stroke-width="0.75"/>
<text x="24.1" y="595.0" font-size="6.3" text-anchor="end" fill="#2a2a2a" textLength="9.7" lengthAdjust="spacingAndGlyphs" stroke="#2a2a2a" stroke-width="0.1" >0.55</text>
<line x1="25.3" y1="576.0" x2="27.5" y2="576.0" stroke="#444" stroke-width="0.75"/>
<text x="24.1" y="577.5" font-size="6.3" text-anchor="end" fill="#2a2a2a" textLength="9.7" lengthAdjust="spacingAndGlyphs" stroke="#2a2a2a" stroke-width="0.1" >0.60</text>
<line x1="25.3" y1="558.6" x2="27.5" y2="558.6" stroke="#444" stroke-width="0.75"/>
<text x="24.1" y="560.1" font-size="6.3" text-anchor="end" fill="#2a2a2a" textLength="9.7" lengthAdjust="spacingAndGlyphs" stroke="#2a2a2a" stroke-width="0.1" >0.65</text>
<line x1="25.3" y1="541.1" x2="27.5" y2="541.1" stroke="#444" stroke-width="0.75"/>
<text x="24.1" y="542.6" font-size="6.3" text-anchor="end" fill="#2a2a2a" textLength="9.7" lengthAdjust="spacingAndGlyphs" stroke="#2a2a2a" stroke-width="0.1" >0.70</text>
<line x1="25.3" y1="523.7" x2="27.5" y2="523.7" stroke="#444" stroke-width="0.75"/>
<text x="24.1" y="525.2" font-size="6.3" text-anchor="end" fill="#2a2a2a" textLength="9.7" lengthAdjust="spacingAndGlyphs" stroke="#2a2a2a" stroke-width="0.1" >0.75</text>
<line x1="25.3" y1="506.2" x2="27.5" y2="506.2" stroke="#444" stroke-width="0.75"/>
<text x="24.1" y="507.7" font-size="6.3" text-anchor="end" fill="#2a2a2a" textLength="9.7" lengthAdjust="spacingAndGlyphs" stroke="#2a2a2a" stroke-width="0.1" >0.80</text>
<line x1="25.3" y1="488.8" x2="27.5" y2="488.8" stroke="#444" stroke-width="0.75"/>
<text x="24.1" y="490.3" font-size="6.3" text-anchor="end" fill="#2a2a2a" textLength="9.7" lengthAdjust="spacingAndGlyphs" stroke="#2a2a2a" stroke-width="0.1" >0.85</text>
<line x1="25.3" y1="471.3" x2="27.5" y2="471.3" stroke="#444" stroke-width="0.75"/>
<text x="24.1" y="472.8" font-size="6.3" text-anchor="end" fill="#2a2a2a" textLength="9.7" lengthAdjust="spacingAndGlyphs" stroke="#2a2a2a" stroke-width="0.1" >0.90</text>
<line x1="25.3" y1="453.9" x2="27.5" y2="453.9" stroke="#444" stroke-width="0.75"/>
<text x="24.1" y="455.4" font-size="6.3" text-anchor="end" fill="#2a2a2a" textLength="9.7" lengthAdjust="spacingAndGlyphs" stroke="#2a2a2a" stroke-width="0.1" >0.95</text>
<line x1="26.2" y1="584.8" x2="27.5" y2="584.8" stroke="#444" stroke-width="0.75"/>
<line x1="26.2" y1="567.3" x2="27.5" y2="567.3" stroke="#444" stroke-width="0.75"/>
<line x1="26.2" y1="549.9" x2="27.5" y2="549.9" stroke="#444" stroke-width="0.75"/>
<line x1="26.2" y1="532.4" x2="27.5" y2="532.4" stroke="#444" stroke-width="0.75"/>
<line x1="26.2" y1="515.0" x2="27.5" y2="515.0" stroke="#444" stroke-width="0.75"/>
<line x1="26.2" y1="497.5" x2="27.5" y2="497.5" stroke="#444" stroke-width="0.75"/>
<line x1="26.2" y1="480.1" x2="27.5" y2="480.1" stroke="#444" stroke-width="0.75"/>
<line x1="26.2" y1="462.6" x2="27.5" y2="462.6" stroke="#444" stroke-width="0.75"/>
<text x="5.5" y="531.0" font-size="8.8" fill="#3a3a3a" transform="rotate(-90 5.5 531.0)" text-anchor="middle">τ</text>
<text x="107.6" y="614.7" font-size="7.3" fill="#333" text-anchor="middle" textLength="3.6" lengthAdjust="spacingAndGlyphs">β</text>
<polyline fill="none" stroke="#000000" stroke-opacity="0.45" stroke-width="0.55" points="40.8,487.1 54.1,526.5 67.5,541.1 80.8,534.2 94.1,527.2 107.4,521.3 120.7,517.4 134.0,514.3 147.4,511.1 160.7,508.7"/>
<polyline fill="none" stroke="#FF80FF" stroke-opacity="0.45" stroke-width="0.55" points="40.8,495.8 54.1,530.7 67.5,542.9 80.8,537.7 94.1,531.4 107.4,526.5 120.7,523.0 134.0,520.2 147.4,517.8 160.7,516.0"/>
<polyline fill="none" stroke="#0000FF" stroke-opacity="0.45" stroke-width="0.55" points="40.8,500.0 54.1,528.9 67.5,543.6 80.8,540.1 94.1,536.3 107.4,533.8 120.7,531.4 134.0,530.0 147.4,528.6 160.7,527.2"/>
<polyline fill="none" stroke="#008080" stroke-opacity="0.45" stroke-width="0.55" points="40.8,508.0 54.1,485.3 67.5,461.6 80.8,462.6 94.1,471.3 107.4,474.8 120.7,478.3 134.0,481.8 147.4,483.6 160.7,485.3"/>
<polyline fill="none" stroke="#FF00FF" stroke-opacity="0.45" stroke-width="0.55" points="40.8,528.9 54.1,497.9 67.5,486.4 80.8,486.4 94.1,491.6 107.4,494.7 120.7,498.2 134.0,501.0 147.4,503.1 160.7,504.5"/>
<polyline fill="none" stroke="#808000" stroke-opacity="0.45" stroke-width="0.55" points="40.8,485.3 54.1,504.5 67.5,509.7 80.8,497.5 94.1,489.5 107.4,483.6 120.7,479.0 134.0,476.6 147.4,473.8 160.7,472.0"/>
<polyline fill="none" stroke="#000080" stroke-opacity="0.45" stroke-width="0.55" points="40.8,490.5 54.1,472.4 67.5,475.2 80.8,472.7 94.1,474.1 107.4,476.6 120.7,479.0 134.0,480.8 147.4,482.5 160.7,483.6"/>
<polyline fill="none" stroke="#800000" stroke-opacity="0.45" stroke-width="0.55" points="40.8,490.5 54.1,486.0 67.5,487.1 80.8,484.6 94.1,484.3 107.4,484.6 120.7,485.3 134.0,486.0 147.4,486.7 160.7,487.4"/>
<polyline fill="none" stroke="#FF0080" stroke-opacity="0.45" stroke-width="0.55" points="40.8,495.8 54.1,470.7 67.5,467.9 80.8,465.1 94.1,467.9 107.4,471.3 120.7,474.8 134.0,478.3 147.4,480.1 160.7,481.8"/>
<polyline fill="none" stroke="#008000" stroke-opacity="0.45" stroke-width="0.55" points="40.8,483.6 54.1,485.3 67.5,488.1 80.8,478.3 94.1,470.3 107.4,467.9 120.7,467.2 134.0,467.9 147.4,468.6 160.7,469.3"/>
<polyline fill="none" stroke="#FF0000" stroke-opacity="0.45" stroke-width="0.55" points="40.8,479.0 54.1,480.1 67.5,484.6 80.8,476.6 94.1,468.6 107.4,467.5 120.7,466.8 134.0,466.8 147.4,467.2 160.7,467.9"/>
<rect x="39.4" y="485.6" width="2.8" height="2.8" fill="#000000"/>
<rect x="52.7" y="525.1" width="2.8" height="2.8" fill="#000000"/>
<rect x="66.0" y="539.7" width="2.8" height="2.8" fill="#000000"/>
<rect x="79.4" y="532.8" width="2.8" height="2.8" fill="#000000"/>
<rect x="92.7" y="525.8" width="2.8" height="2.8" fill="#000000"/>
<rect x="106.0" y="519.8" width="2.8" height="2.8" fill="#000000"/>
<rect x="119.3" y="516.0" width="2.8" height="2.8" fill="#000000"/>
<rect x="132.6" y="512.9" width="2.8" height="2.8" fill="#000000"/>
<rect x="145.9" y="509.7" width="2.8" height="2.8" fill="#000000"/>
<rect x="159.3" y="507.3" width="2.8" height="2.8" fill="#000000"/>
<circle cx="40.8" cy="495.8" r="1.6" fill="#FF80FF"/>
<circle cx="54.1" cy="530.7" r="1.6" fill="#FF80FF"/>
<circle cx="67.5" cy="542.9" r="1.6" fill="#FF80FF"/>
<circle cx="80.8" cy="537.7" r="1.6" fill="#FF80FF"/>
<circle cx="94.1" cy="531.4" r="1.6" fill="#FF80FF"/>
<circle cx="107.4" cy="526.5" r="1.6" fill="#FF80FF"/>
<circle cx="120.7" cy="523.0" r="1.6" fill="#FF80FF"/>
<circle cx="134.0" cy="520.2" r="1.6" fill="#FF80FF"/>
<circle cx="147.4" cy="517.8" r="1.6" fill="#FF80FF"/>
<circle cx="160.7" cy="516.0" r="1.6" fill="#FF80FF"/>
<polygon points="40.8,497.9 42.8,501.2 38.8,501.2" fill="#0000FF"/>
<polygon points="54.1,526.9 56.1,530.2 52.2,530.2" fill="#0000FF"/>
<polygon points="67.5,541.5 69.4,544.8 65.5,544.8" fill="#0000FF"/>
<polygon points="80.8,538.0 82.7,541.4 78.8,541.4" fill="#0000FF"/>
<polygon points="94.1,534.2 96.1,537.5 92.1,537.5" fill="#0000FF"/>
<polygon points="107.4,531.7 109.4,535.1 105.4,535.1" fill="#0000FF"/>
<polygon points="120.7,529.3 122.7,532.6 118.7,532.6" fill="#0000FF"/>
<polygon points="134.0,527.9 136.0,531.2 132.1,531.2" fill="#0000FF"/>
<polygon points="147.4,526.5 149.3,529.8 145.4,529.8" fill="#0000FF"/>
<polygon points="160.7,525.1 162.6,528.4 158.7,528.4" fill="#0000FF"/>
<polygon points="40.8,510.1 42.8,506.7 38.8,506.7" fill="#008080"/>
<polygon points="54.1,487.4 56.1,484.1 52.2,484.1" fill="#008080"/>
<polygon points="67.5,463.7 69.4,460.3 65.5,460.3" fill="#008080"/>
<polygon points="80.8,464.7 82.7,461.4 78.8,461.4" fill="#008080"/>
<polygon points="94.1,473.4 96.1,470.1 92.1,470.1" fill="#008080"/>
<polygon points="107.4,476.9 109.4,473.6 105.4,473.6" fill="#008080"/>
<polygon points="120.7,480.4 122.7,477.1 118.7,477.1" fill="#008080"/>
<polygon points="134.0,483.9 136.0,480.6 132.1,480.6" fill="#008080"/>
<polygon points="147.4,485.6 149.3,482.3 145.4,482.3" fill="#008080"/>
<polygon points="160.7,487.4 162.6,484.1 158.7,484.1" fill="#008080"/>
<polygon points="38.7,528.9 42.1,527.0 42.1,530.9" fill="#FF00FF"/>
<polygon points="52.1,497.9 55.4,495.9 55.4,499.9" fill="#FF00FF"/>
<polygon points="65.4,486.4 68.7,484.4 68.7,488.3" fill="#FF00FF"/>
<polygon points="78.7,486.4 82.0,484.4 82.0,488.3" fill="#FF00FF"/>
<polygon points="92.0,491.6 95.3,489.6 95.3,493.6" fill="#FF00FF"/>
<polygon points="105.3,494.7 108.6,492.8 108.6,496.7" fill="#FF00FF"/>
<polygon points="118.6,498.2 122.0,496.2 122.0,500.2" fill="#FF00FF"/>
<polygon points="132.0,501.0 135.3,499.0 135.3,503.0" fill="#FF00FF"/>
<polygon points="145.3,503.1 148.6,501.1 148.6,505.1" fill="#FF00FF"/>
<polygon points="158.6,504.5 161.9,502.5 161.9,506.5" fill="#FF00FF"/>
<polygon points="42.9,485.3 39.6,483.3 39.6,487.3" fill="#808000"/>
<polygon points="56.2,504.5 52.9,502.5 52.9,506.5" fill="#808000"/>
<polygon points="69.5,509.7 66.2,507.8 66.2,511.7" fill="#808000"/>
<polygon points="82.8,497.5 79.5,495.5 79.5,499.5" fill="#808000"/>
<polygon points="96.2,489.5 92.8,487.5 92.8,491.5" fill="#808000"/>
<polygon points="109.5,483.6 106.2,481.6 106.2,485.5" fill="#808000"/>
<polygon points="122.8,479.0 119.5,477.1 119.5,481.0" fill="#808000"/>
<polygon points="136.1,476.6 132.8,474.6 132.8,478.6" fill="#808000"/>
<polygon points="149.4,473.8 146.1,471.8 146.1,475.8" fill="#808000"/>
<polygon points="162.7,472.0 159.4,470.1 159.4,474.0" fill="#808000"/>
<polygon points="40.8,488.5 42.5,490.5 40.8,492.6 39.2,490.5" fill="#000080"/>
<polygon points="54.1,470.3 55.8,472.4 54.1,474.5 52.5,472.4" fill="#000080"/>
<polygon points="67.5,473.1 69.1,475.2 67.5,477.3 65.8,475.2" fill="#000080"/>
<polygon points="80.8,470.7 82.4,472.7 80.8,474.8 79.1,472.7" fill="#000080"/>
<polygon points="94.1,472.1 95.7,474.1 94.1,476.2 92.4,474.1" fill="#000080"/>
<polygon points="107.4,474.5 109.1,476.6 107.4,478.7 105.7,476.6" fill="#000080"/>
<polygon points="120.7,476.9 122.4,479.0 120.7,481.1 119.1,479.0" fill="#000080"/>
<polygon points="134.0,478.7 135.7,480.8 134.0,482.9 132.4,480.8" fill="#000080"/>
<polygon points="147.4,480.4 149.0,482.5 147.4,484.6 145.7,482.5" fill="#000080"/>
<polygon points="160.7,481.5 162.3,483.6 160.7,485.6 159.0,483.6" fill="#000080"/>
<circle cx="40.8" cy="490.5" r="1.6" fill="#800000"/>
<circle cx="54.1" cy="486.0" r="1.6" fill="#800000"/>
<circle cx="67.5" cy="487.1" r="1.6" fill="#800000"/>
<circle cx="80.8" cy="484.6" r="1.6" fill="#800000"/>
<circle cx="94.1" cy="484.3" r="1.6" fill="#800000"/>
<circle cx="107.4" cy="484.6" r="1.6" fill="#800000"/>
<circle cx="120.7" cy="485.3" r="1.6" fill="#800000"/>
<circle cx="134.0" cy="486.0" r="1.6" fill="#800000"/>
<circle cx="147.4" cy="486.7" r="1.6" fill="#800000"/>
<circle cx="160.7" cy="487.4" r="1.6" fill="#800000"/>
<circle cx="40.8" cy="495.8" r="1.6" fill="#FF0080"/>
<circle cx="54.1" cy="470.7" r="1.6" fill="#FF0080"/>
<circle cx="67.5" cy="467.9" r="1.6" fill="#FF0080"/>
<circle cx="80.8" cy="465.1" r="1.6" fill="#FF0080"/>
<circle cx="94.1" cy="467.9" r="1.6" fill="#FF0080"/>
<circle cx="107.4" cy="471.3" r="1.6" fill="#FF0080"/>
<circle cx="120.7" cy="474.8" r="1.6" fill="#FF0080"/>
<circle cx="134.0" cy="478.3" r="1.6" fill="#FF0080"/>
<circle cx="147.4" cy="480.1" r="1.6" fill="#FF0080"/>
<circle cx="160.7" cy="481.8" r="1.6" fill="#FF0080"/>
<polygon points="40.8,481.4 41.4,482.8 42.9,482.9 41.7,483.9 42.1,485.3 40.8,484.5 39.5,485.3 39.9,483.9 38.7,482.9 40.3,482.8" fill="#008000"/>
<polygon points="54.1,483.1 54.7,484.6 56.2,484.6 55.0,485.6 55.4,487.1 54.1,486.2 52.8,487.1 53.2,485.6 52.1,484.6 53.6,484.6" fill="#008000"/>
<polygon points="67.5,485.9 68.0,487.3 69.5,487.4 68.3,488.4 68.7,489.9 67.5,489.0 66.2,489.9 66.6,488.4 65.4,487.4 66.9,487.3" fill="#008000"/>
<polygon points="80.8,476.1 81.3,477.6 82.8,477.7 81.7,478.6 82.1,480.1 80.8,479.3 79.5,480.1 79.9,478.6 78.7,477.7 80.2,477.6" fill="#008000"/>
<polygon points="94.1,468.1 94.6,469.5 96.2,469.6 95.0,470.6 95.4,472.1 94.1,471.2 92.8,472.1 93.2,470.6 92.0,469.6 93.5,469.5" fill="#008000"/>
<polygon points="107.4,465.7 108.0,467.1 109.5,467.2 108.3,468.1 108.7,469.6 107.4,468.8 106.1,469.6 106.5,468.1 105.3,467.2 106.8,467.1" fill="#008000"/>
<polygon points="120.7,465.0 121.3,466.4 122.8,466.5 121.6,467.5 122.0,468.9 120.7,468.1 119.4,468.9 119.8,467.5 118.6,466.5 120.2,466.4" fill="#008000"/>
<polygon points="134.0,465.7 134.6,467.1 136.1,467.2 134.9,468.1 135.3,469.6 134.0,468.8 132.7,469.6 133.1,468.1 132.0,467.2 133.5,467.1" fill="#008000"/>
<polygon points="147.4,466.4 147.9,467.8 149.4,467.9 148.2,468.8 148.6,470.3 147.4,469.5 146.1,470.3 146.5,468.8 145.3,467.9 146.8,467.8" fill="#008000"/>
<polygon points="160.7,467.1 161.2,468.5 162.7,468.6 161.6,469.5 162.0,471.0 160.7,470.2 159.4,471.0 159.8,469.5 158.6,468.6 160.1,468.5" fill="#008000"/>
<circle cx="40.8" cy="479.0" r="1.6" fill="#FF0000"/>
<line x1="40.6" y1="479.5" x2="41.7" y2="478.3" stroke="#fff" stroke-opacity="0.8" stroke-width="0.45"/>
<circle cx="54.1" cy="480.1" r="1.6" fill="#FF0000"/>
<line x1="53.9" y1="480.6" x2="55.0" y2="479.4" stroke="#fff" stroke-opacity="0.8" stroke-width="0.45"/>
<circle cx="67.5" cy="484.6" r="1.6" fill="#FF0000"/>
<line x1="67.2" y1="485.1" x2="68.4" y2="483.9" stroke="#fff" stroke-opacity="0.8" stroke-width="0.45"/>
<circle cx="80.8" cy="476.6" r="1.6" fill="#FF0000"/>
<line x1="80.6" y1="477.1" x2="81.7" y2="475.9" stroke="#fff" stroke-opacity="0.8" stroke-width="0.45"/>
<circle cx="94.1" cy="468.6" r="1.6" fill="#FF0000"/>
<line x1="93.9" y1="469.1" x2="95.0" y2="467.9" stroke="#fff" stroke-opacity="0.8" stroke-width="0.45"/>
<circle cx="107.4" cy="467.5" r="1.6" fill="#FF0000"/>
<line x1="107.2" y1="468.0" x2="108.3" y2="466.8" stroke="#fff" stroke-opacity="0.8" stroke-width="0.45"/>
<circle cx="120.7" cy="466.8" r="1.6" fill="#FF0000"/>
<line x1="120.5" y1="467.3" x2="121.6" y2="466.1" stroke="#fff" stroke-opacity="0.8" stroke-width="0.45"/>
<circle cx="134.0" cy="466.8" r="1.6" fill="#FF0000"/>
<line x1="133.8" y1="467.3" x2="134.9" y2="466.1" stroke="#fff" stroke-opacity="0.8" stroke-width="0.45"/>
<circle cx="147.4" cy="467.2" r="1.6" fill="#FF0000"/>
<line x1="147.2" y1="467.7" x2="148.3" y2="466.5" stroke="#fff" stroke-opacity="0.8" stroke-width="0.45"/>
<circle cx="160.7" cy="467.9" r="1.6" fill="#FF0000"/>
<line x1="160.5" y1="468.4" x2="161.6" y2="467.2" stroke="#fff" stroke-opacity="0.8" stroke-width="0.45"/>
<rect x="163.1" y="452.6" width="28.3" height="76.6" fill="#fff" stroke="#aaa" stroke-width="0.6"/>
<line x1="164.6" y1="457.0" x2="174.7" y2="457.0" stroke="#000000" stroke-opacity="0.35" stroke-width="0.6"/>
<rect x="167.7" y="455.5" width="3.0" height="3.0" fill="#000000"/>
<text x="176.0" y="459.1" font-size="6.3" text-anchor="start" fill="#3a3a3a" textLength="6.5" lengthAdjust="spacingAndGlyphs" stroke="#3a3a3a" stroke-width="0.0" >DC</text>
<line x1="164.6" y1="463.9" x2="174.7" y2="463.9" stroke="#FF80FF" stroke-opacity="0.35" stroke-width="0.6"/>
<circle cx="169.2" cy="463.9" r="1.6" fill="#FF80FF"/>
<text x="176.0" y="466.0" font-size="6.3" text-anchor="start" fill="#3a3a3a" textLength="15.0" lengthAdjust="spacingAndGlyphs" stroke="#3a3a3a" stroke-width="0.0" >K-shell</text>
<line x1="164.6" y1="470.7" x2="174.7" y2="470.7" stroke="#0000FF" stroke-opacity="0.35" stroke-width="0.6"/>
<polygon points="169.2,468.5 171.3,472.1 167.1,472.1" fill="#0000FF"/>
<text x="176.0" y="472.8" font-size="6.3" text-anchor="start" fill="#3a3a3a" textLength="6.5" lengthAdjust="spacingAndGlyphs" stroke="#3a3a3a" stroke-width="0.0" >PL</text>
<line x1="164.6" y1="477.6" x2="174.7" y2="477.6" stroke="#008080" stroke-opacity="0.35" stroke-width="0.6"/>
<polygon points="169.2,479.8 171.3,476.3 167.1,476.3" fill="#008080"/>
<text x="176.0" y="479.7" font-size="6.3" text-anchor="start" fill="#3a3a3a" textLength="13.8" lengthAdjust="spacingAndGlyphs" stroke="#3a3a3a" stroke-width="0.0" >ECRM</text>
<line x1="164.6" y1="484.5" x2="174.7" y2="484.5" stroke="#FF00FF" stroke-opacity="0.35" stroke-width="0.6"/>
<polygon points="167.0,484.5 170.5,482.4 170.5,486.6" fill="#FF00FF"/>
<text x="176.0" y="486.6" font-size="6.3" text-anchor="start" fill="#3a3a3a" textLength="10.5" lengthAdjust="spacingAndGlyphs" stroke="#3a3a3a" stroke-width="0.0" >GSM</text>
<line x1="164.6" y1="491.4" x2="174.7" y2="491.4" stroke="#808000" stroke-opacity="0.35" stroke-width="0.6"/>
<polygon points="171.4,491.4 167.9,489.3 167.9,493.4" fill="#808000"/>
<text x="176.0" y="493.5" font-size="6.3" text-anchor="start" fill="#3a3a3a" textLength="7.8" lengthAdjust="spacingAndGlyphs" stroke="#3a3a3a" stroke-width="0.0" >GSI</text>
<line x1="164.6" y1="498.2" x2="174.7" y2="498.2" stroke="#000080" stroke-opacity="0.35" stroke-width="0.6"/>
<polygon points="169.2,496.0 171.0,498.2 169.2,500.4 167.4,498.2" fill="#000080"/>
<text x="176.0" y="500.3" font-size="6.3" text-anchor="start" fill="#3a3a3a" textLength="14.5" lengthAdjust="spacingAndGlyphs" stroke="#3a3a3a" stroke-width="0.0" >MCGM</text>
<line x1="164.6" y1="505.1" x2="174.7" y2="505.1" stroke="#800000" stroke-opacity="0.35" stroke-width="0.6"/>
<circle cx="169.2" cy="505.1" r="1.6" fill="#800000"/>
<text x="176.0" y="507.2" font-size="6.3" text-anchor="start" fill="#3a3a3a" textLength="4.6" lengthAdjust="spacingAndGlyphs" stroke="#3a3a3a" stroke-width="0.0" >CI</text>
<line x1="164.6" y1="512.0" x2="174.7" y2="512.0" stroke="#FF0080" stroke-opacity="0.35" stroke-width="0.6"/>
<circle cx="169.2" cy="512.0" r="1.6" fill="#FF0080"/>
<text x="176.0" y="514.1" font-size="6.3" text-anchor="start" fill="#3a3a3a" textLength="13.0" lengthAdjust="spacingAndGlyphs" stroke="#3a3a3a" stroke-width="0.0" >HVGC</text>
<line x1="164.6" y1="518.8" x2="174.7" y2="518.8" stroke="#008000" stroke-opacity="0.35" stroke-width="0.6"/>
<polygon points="169.2,516.5 169.8,518.0 171.4,518.1 170.1,519.1 170.5,520.7 169.2,519.8 167.8,520.7 168.2,519.1 167.0,518.1 168.6,518.0" fill="#008000"/>
<text x="176.0" y="520.9" font-size="6.3" text-anchor="start" fill="#3a3a3a" textLength="13.8" lengthAdjust="spacingAndGlyphs" stroke="#3a3a3a" stroke-width="0.0" >CSRM</text>
<line x1="164.6" y1="525.7" x2="174.7" y2="525.7" stroke="#FF0000" stroke-opacity="0.35" stroke-width="0.6"/>
<circle cx="169.2" cy="525.7" r="1.6" fill="#FF0000"/>
<text x="176.0" y="527.8" font-size="6.3" text-anchor="start" fill="#3a3a3a" textLength="10.5" lengthAdjust="spacingAndGlyphs" stroke="#3a3a3a" stroke-width="0.0" >SGM</text>
<text x="109.1" y="648.0" style="font-family:Liberation Serif,serif" font-size="17.2" fill="#111" text-anchor="middle">(g) hamster</text>
<line x1="264.5" y1="593.9" x2="264.5" y2="455.3" stroke="#555" stroke-width="0.8"/>
<line x1="264.5" y1="593.9" x2="431.9" y2="593.9" stroke="#555" stroke-width="0.8"/>
<line x1="264.5" y1="593.9" x2="264.5" y2="596.1" stroke="#444" stroke-width="0.75"/>
<text x="264.5" y="603.4" font-size="6.3" text-anchor="middle" fill="#2a2a2a" textLength="10.1" lengthAdjust="spacingAndGlyphs" stroke="#2a2a2a" stroke-width="0.1" >0.00</text>
<line x1="278.4" y1="593.9" x2="278.4" y2="595.2" stroke="#444" stroke-width="0.75"/>
<line x1="292.4" y1="593.9" x2="292.4" y2="596.1" stroke="#444" stroke-width="0.75"/>
<text x="292.4" y="603.4" font-size="6.3" text-anchor="middle" fill="#2a2a2a" textLength="10.1" lengthAdjust="spacingAndGlyphs" stroke="#2a2a2a" stroke-width="0.1" >0.02</text>
<line x1="306.4" y1="593.9" x2="306.4" y2="595.2" stroke="#444" stroke-width="0.75"/>
<line x1="320.3" y1="593.9" x2="320.3" y2="596.1" stroke="#444" stroke-width="0.75"/>
<text x="320.3" y="603.4" font-size="6.3" text-anchor="middle" fill="#2a2a2a" textLength="10.1" lengthAdjust="spacingAndGlyphs" stroke="#2a2a2a" stroke-width="0.1" >0.04</text>
<line x1="334.2" y1="593.9" x2="334.2" y2="595.2" stroke="#444" stroke-width="0.75"/>
<line x1="348.2" y1="593.9" x2="348.2" y2="596.1" stroke="#444" stroke-width="0.75"/>
<text x="348.2" y="603.4" font-size="6.3" text-anchor="middle" fill="#2a2a2a" textLength="10.1" lengthAdjust="spacingAndGlyphs" stroke="#2a2a2a" stroke-width="0.1" >0.06</text>
<line x1="362.1" y1="593.9" x2="362.1" y2="595.2" stroke="#444" stroke-width="0.75"/>
<line x1="376.1" y1="593.9" x2="376.1" y2="596.1" stroke="#444" stroke-width="0.75"/>
<text x="376.1" y="603.4" font-size="6.3" text-anchor="middle" fill="#2a2a2a" textLength="10.1" lengthAdjust="spacingAndGlyphs" stroke="#2a2a2a" stroke-width="0.1" >0.08</text>
<line x1="390.0" y1="593.9" x2="390.0" y2="595.2" stroke="#444" stroke-width="0.75"/>
<line x1="404.0" y1="593.9" x2="404.0" y2="596.1" stroke="#444" stroke-width="0.75"/>
<text x="404.0" y="603.4" font-size="6.3" text-anchor="middle" fill="#2a2a2a" textLength="10.1" lengthAdjust="spacingAndGlyphs" stroke="#2a2a2a" stroke-width="0.1" >0.10</text>
<line x1="417.9" y1="593.9" x2="417.9" y2="595.2" stroke="#444" stroke-width="0.75"/>
<line x1="431.9" y1="593.9" x2="431.9" y2="596.1" stroke="#444" stroke-width="0.75"/>
<text x="431.9" y="603.4" font-size="6.3" text-anchor="middle" fill="#2a2a2a" textLength="10.1" lengthAdjust="spacingAndGlyphs" stroke="#2a2a2a" stroke-width="0.1" >0.12</text>
<line x1="262.3" y1="593.9" x2="264.5" y2="593.9" stroke="#444" stroke-width="0.75"/>
<text x="261.1" y="595.4" font-size="6.3" text-anchor="end" fill="#2a2a2a" textLength="9.7" lengthAdjust="spacingAndGlyphs" stroke="#2a2a2a" stroke-width="0.1" >0.15</text>
<line x1="262.3" y1="584.7" x2="264.5" y2="584.7" stroke="#444" stroke-width="0.75"/>
<text x="261.1" y="586.2" font-size="6.3" text-anchor="end" fill="#2a2a2a" textLength="9.7" lengthAdjust="spacingAndGlyphs" stroke="#2a2a2a" stroke-width="0.1" >0.20</text>
<line x1="262.3" y1="575.4" x2="264.5" y2="575.4" stroke="#444" stroke-width="0.75"/>
<text x="261.1" y="576.9" font-size="6.3" text-anchor="end" fill="#2a2a2a" textLength="9.7" lengthAdjust="spacingAndGlyphs" stroke="#2a2a2a" stroke-width="0.1" >0.25</text>
<line x1="262.3" y1="566.2" x2="264.5" y2="566.2" stroke="#444" stroke-width="0.75"/>
<text x="261.1" y="567.7" font-size="6.3" text-anchor="end" fill="#2a2a2a" textLength="9.7" lengthAdjust="spacingAndGlyphs" stroke="#2a2a2a" stroke-width="0.1" >0.30</text>
<line x1="262.3" y1="556.9" x2="264.5" y2="556.9" stroke="#444" stroke-width="0.75"/>
<text x="261.1" y="558.4" font-size="6.3" text-anchor="end" fill="#2a2a2a" textLength="9.7" lengthAdjust="spacingAndGlyphs" stroke="#2a2a2a" stroke-width="0.1" >0.35</text>
<line x1="262.3" y1="547.7" x2="264.5" y2="547.7" stroke="#444" stroke-width="0.75"/>
<text x="261.1" y="549.2" font-size="6.3" text-anchor="end" fill="#2a2a2a" textLength="9.7" lengthAdjust="spacingAndGlyphs" stroke="#2a2a2a" stroke-width="0.1" >0.40</text>
<line x1="262.3" y1="538.5" x2="264.5" y2="538.5" stroke="#444" stroke-width="0.75"/>
<text x="261.1" y="540.0" font-size="6.3" text-anchor="end" fill="#2a2a2a" textLength="9.7" lengthAdjust="spacingAndGlyphs" stroke="#2a2a2a" stroke-width="0.1" >0.45</text>
<line x1="262.3" y1="529.2" x2="264.5" y2="529.2" stroke="#444" stroke-width="0.75"/>
<text x="261.1" y="530.7" font-size="6.3" text-anchor="end" fill="#2a2a2a" textLength="9.7" lengthAdjust="spacingAndGlyphs" stroke="#2a2a2a" stroke-width="0.1" >0.50</text>
<line x1="262.3" y1="520.0" x2="264.5" y2="520.0" stroke="#444" stroke-width="0.75"/>
<text x="261.1" y="521.5" font-size="6.3" text-anchor="end" fill="#2a2a2a" textLength="9.7" lengthAdjust="spacingAndGlyphs" stroke="#2a2a2a" stroke-width="0.1" >0.55</text>
<line x1="262.3" y1="510.7" x2="264.5" y2="510.7" stroke="#444" stroke-width="0.75"/>
<text x="261.1" y="512.2" font-size="6.3" text-anchor="end" fill="#2a2a2a" textLength="9.7" lengthAdjust="spacingAndGlyphs" stroke="#2a2a2a" stroke-width="0.1" >0.60</text>
<line x1="262.3" y1="501.5" x2="264.5" y2="501.5" stroke="#444" stroke-width="0.75"/>
<text x="261.1" y="503.0" font-size="6.3" text-anchor="end" fill="#2a2a2a" textLength="9.7" lengthAdjust="spacingAndGlyphs" stroke="#2a2a2a" stroke-width="0.1" >0.65</text>
<line x1="262.3" y1="492.3" x2="264.5" y2="492.3" stroke="#444" stroke-width="0.75"/>
<text x="261.1" y="493.8" font-size="6.3" text-anchor="end" fill="#2a2a2a" textLength="9.7" lengthAdjust="spacingAndGlyphs" stroke="#2a2a2a" stroke-width="0.1" >0.70</text>
<line x1="262.3" y1="483.0" x2="264.5" y2="483.0" stroke="#444" stroke-width="0.75"/>
<text x="261.1" y="484.5" font-size="6.3" text-anchor="end" fill="#2a2a2a" textLength="9.7" lengthAdjust="spacingAndGlyphs" stroke="#2a2a2a" stroke-width="0.1" >0.75</text>
<line x1="262.3" y1="473.8" x2="264.5" y2="473.8" stroke="#444" stroke-width="0.75"/>
<text x="261.1" y="475.3" font-size="6.3" text-anchor="end" fill="#2a2a2a" textLength="9.7" lengthAdjust="spacingAndGlyphs" stroke="#2a2a2a" stroke-width="0.1" >0.80</text>
<line x1="262.3" y1="464.5" x2="264.5" y2="464.5" stroke="#444" stroke-width="0.75"/>
<text x="261.1" y="466.0" font-size="6.3" text-anchor="end" fill="#2a2a2a" textLength="9.7" lengthAdjust="spacingAndGlyphs" stroke="#2a2a2a" stroke-width="0.1" >0.85</text>
<line x1="262.3" y1="455.3" x2="264.5" y2="455.3" stroke="#444" stroke-width="0.75"/>
<text x="261.1" y="456.8" font-size="6.3" text-anchor="end" fill="#2a2a2a" textLength="9.7" lengthAdjust="spacingAndGlyphs" stroke="#2a2a2a" stroke-width="0.1" >0.90</text>
<line x1="263.2" y1="589.3" x2="264.5" y2="589.3" stroke="#444" stroke-width="0.75"/>
<line x1="263.2" y1="580.0" x2="264.5" y2="580.0" stroke="#444" stroke-width="0.75"/>
<line x1="263.2" y1="570.8" x2="264.5" y2="570.8" stroke="#444" stroke-width="0.75"/>
<line x1="263.2" y1="561.6" x2="264.5" y2="561.6" stroke="#444" stroke-width="0.75"/>
<line x1="263.2" y1="552.3" x2="264.5" y2="552.3" stroke="#444" stroke-width="0.75"/>
<line x1="263.2" y1="543.1" x2="264.5" y2="543.1" stroke="#444" stroke-width="0.75"/>
<line x1="263.2" y1="533.8" x2="264.5" y2="533.8" stroke="#444" stroke-width="0.75"/>
<line x1="263.2" y1="524.6" x2="264.5" y2="524.6" stroke="#444" stroke-width="0.75"/>
<line x1="263.2" y1="515.4" x2="264.5" y2="515.4" stroke="#444" stroke-width="0.75"/>
<line x1="263.2" y1="506.1" x2="264.5" y2="506.1" stroke="#444" stroke-width="0.75"/>
<line x1="263.2" y1="496.9" x2="264.5" y2="496.9" stroke="#444" stroke-width="0.75"/>
<line x1="263.2" y1="487.6" x2="264.5" y2="487.6" stroke="#444" stroke-width="0.75"/>
<line x1="263.2" y1="478.4" x2="264.5" y2="478.4" stroke="#444" stroke-width="0.75"/>
<line x1="263.2" y1="469.2" x2="264.5" y2="469.2" stroke="#444" stroke-width="0.75"/>
<line x1="263.2" y1="459.9" x2="264.5" y2="459.9" stroke="#444" stroke-width="0.75"/>
<text x="241.0" y="532.0" font-size="8.8" fill="#3a3a3a" transform="rotate(-90 241.0 532.0)" text-anchor="middle">τ</text>
<text x="348.0" y="614.7" font-size="7.3" fill="#333" text-anchor="middle" textLength="3.6" lengthAdjust="spacingAndGlyphs">β</text>
<polyline fill="none" stroke="#000000" stroke-opacity="0.45" stroke-width="0.55" points="278.4,498.7 292.4,493.2 306.4,489.5 320.3,485.8 334.2,483.0 348.2,480.8 362.1,478.4 376.1,476.6 390.0,474.7 404.0,473.8"/>
<polyline fill="none" stroke="#FF80FF" stroke-opacity="0.45" stroke-width="0.55" points="278.4,547.7 292.4,545.9 306.4,544.4 320.3,543.4 334.2,543.1 348.2,542.5 362.1,542.2 376.1,541.8 390.0,541.6 404.0,541.4"/>
<polyline fill="none" stroke="#0000FF" stroke-opacity="0.45" stroke-width="0.55" points="278.4,488.6 292.4,482.7 306.4,482.1 320.3,481.5 334.2,481.5 348.2,481.7 362.1,482.1 376.1,483.9 390.0,484.9 404.0,486.7"/>
<polyline fill="none" stroke="#008080" stroke-opacity="0.45" stroke-width="0.55" points="278.4,525.2 292.4,519.4 306.4,515.0 320.3,510.7 334.2,507.0 348.2,503.3 362.1,499.1 376.1,496.0 390.0,492.8 404.0,490.4"/>
<polyline fill="none" stroke="#FF00FF" stroke-opacity="0.45" stroke-width="0.55" points="278.4,581.0 292.4,578.6 306.4,577.3 320.3,575.1 334.2,573.2 348.2,571.0 362.1,569.9 376.1,568.6 390.0,567.5 404.0,566.2"/>
<polyline fill="none" stroke="#808000" stroke-opacity="0.45" stroke-width="0.55" points="278.4,498.7 292.4,492.3 306.4,488.9 320.3,485.8 334.2,483.0 348.2,481.9 362.1,481.2 376.1,480.8 390.0,480.2 404.0,480.2"/>
<polyline fill="none" stroke="#000080" stroke-opacity="0.45" stroke-width="0.55" points="278.4,503.7 292.4,496.9 306.4,491.3 320.3,486.2 334.2,481.7 348.2,479.0 362.1,475.6 376.1,472.5 390.0,470.1 404.0,467.9"/>
<polyline fill="none" stroke="#800000" stroke-opacity="0.45" stroke-width="0.55" points="278.4,498.7 292.4,494.1 306.4,489.5 320.3,485.8 334.2,482.1 348.2,480.2 362.1,478.8 376.1,476.6 390.0,474.7 404.0,473.8"/>
<polyline fill="none" stroke="#FF0080" stroke-opacity="0.45" stroke-width="0.55" points="278.4,509.8 292.4,503.3 306.4,497.8 320.3,493.2 334.2,488.6 348.2,484.9 362.1,481.7 376.1,478.4 390.0,474.7 404.0,471.9"/>
<polyline fill="none" stroke="#008000" stroke-opacity="0.45" stroke-width="0.55" points="278.4,525.2 292.4,520.0 306.4,515.4 320.3,513.1 334.2,510.7 348.2,508.9 362.1,507.4 376.1,505.9 390.0,504.3 404.0,503.0"/>
<polyline fill="none" stroke="#FF0000" stroke-opacity="0.45" stroke-width="0.55" points="278.4,494.1 292.4,486.2 306.4,480.6 320.3,475.6 334.2,471.9 348.2,468.6 362.1,465.5 376.1,462.7 390.0,460.5 404.0,459.0"/>
<rect x="277.0" y="497.3" width="2.8" height="2.8" fill="#000000"/>
<rect x="291.0" y="491.8" width="2.8" height="2.8" fill="#000000"/>
<rect x="304.9" y="488.1" width="2.8" height="2.8" fill="#000000"/>
<rect x="318.9" y="484.4" width="2.8" height="2.8" fill="#000000"/>
<rect x="332.8" y="481.6" width="2.8" height="2.8" fill="#000000"/>
<rect x="346.8" y="479.4" width="2.8" height="2.8" fill="#000000"/>
<rect x="360.7" y="477.0" width="2.8" height="2.8" fill="#000000"/>
<rect x="374.7" y="475.1" width="2.8" height="2.8" fill="#000000"/>
<rect x="388.6" y="473.3" width="2.8" height="2.8" fill="#000000"/>
<rect x="402.6" y="472.4" width="2.8" height="2.8" fill="#000000"/>
<circle cx="278.4" cy="547.7" r="1.6" fill="#FF80FF"/>
<circle cx="292.4" cy="545.9" r="1.6" fill="#FF80FF"/>
<circle cx="306.4" cy="544.4" r="1.6" fill="#FF80FF"/>
<circle cx="320.3" cy="543.4" r="1.6" fill="#FF80FF"/>
<circle cx="334.2" cy="543.1" r="1.6" fill="#FF80FF"/>
<circle cx="348.2" cy="542.5" r="1.6" fill="#FF80FF"/>
<circle cx="362.1" cy="542.2" r="1.6" fill="#FF80FF"/>
<circle cx="376.1" cy="541.8" r="1.6" fill="#FF80FF"/>
<circle cx="390.0" cy="541.6" r="1.6" fill="#FF80FF"/>
<circle cx="404.0" cy="541.4" r="1.6" fill="#FF80FF"/>
<polygon points="278.4,486.5 280.4,489.8 276.5,489.8" fill="#0000FF"/>
<polygon points="292.4,480.6 294.4,483.9 290.4,483.9" fill="#0000FF"/>
<polygon points="306.4,480.0 308.3,483.3 304.4,483.3" fill="#0000FF"/>
<polygon points="320.3,479.5 322.3,482.8 318.3,482.8" fill="#0000FF"/>
<polygon points="334.2,479.5 336.2,482.8 332.3,482.8" fill="#0000FF"/>
<polygon points="348.2,479.6 350.2,483.0 346.2,483.0" fill="#0000FF"/>
<polygon points="362.1,480.0 364.1,483.3 360.2,483.3" fill="#0000FF"/>
<polygon points="376.1,481.9 378.1,485.2 374.1,485.2" fill="#0000FF"/>
<polygon points="390.0,482.8 392.0,486.1 388.1,486.1" fill="#0000FF"/>
<polygon points="404.0,484.6 406.0,488.0 402.0,488.0" fill="#0000FF"/>
<polygon points="278.4,527.2 280.4,523.9 276.5,523.9" fill="#008080"/>
<polygon points="292.4,521.5 294.4,518.2 290.4,518.2" fill="#008080"/>
<polygon points="306.4,517.1 308.3,513.7 304.4,513.7" fill="#008080"/>
<polygon points="320.3,512.8 322.3,509.5 318.3,509.5" fill="#008080"/>
<polygon points="334.2,509.1 336.2,505.8 332.3,505.8" fill="#008080"/>
<polygon points="348.2,505.4 350.2,502.1 346.2,502.1" fill="#008080"/>
<polygon points="362.1,501.2 364.1,497.8 360.2,497.8" fill="#008080"/>
<polygon points="376.1,498.0 378.1,494.7 374.1,494.7" fill="#008080"/>
<polygon points="390.0,494.9 392.0,491.6 388.1,491.6" fill="#008080"/>
<polygon points="404.0,492.5 406.0,489.2 402.0,489.2" fill="#008080"/>
<polygon points="276.4,581.0 279.7,579.0 279.7,582.9" fill="#FF00FF"/>
<polygon points="290.3,578.6 293.6,576.6 293.6,580.5" fill="#FF00FF"/>
<polygon points="304.3,577.3 307.6,575.3 307.6,579.2" fill="#FF00FF"/>
<polygon points="318.2,575.1 321.5,573.1 321.5,577.0" fill="#FF00FF"/>
<polygon points="332.2,573.2 335.5,571.2 335.5,575.2" fill="#FF00FF"/>
<polygon points="346.1,571.0 349.4,569.0 349.4,573.0" fill="#FF00FF"/>
<polygon points="360.1,569.9 363.4,567.9 363.4,571.9" fill="#FF00FF"/>
<polygon points="374.0,568.6 377.3,566.6 377.3,570.6" fill="#FF00FF"/>
<polygon points="388.0,567.5 391.3,565.5 391.3,569.4" fill="#FF00FF"/>
<polygon points="401.9,566.2 405.2,564.2 405.2,568.2" fill="#FF00FF"/>
<polygon points="280.5,498.7 277.2,496.8 277.2,500.7" fill="#808000"/>
<polygon points="294.5,492.3 291.2,490.3 291.2,494.2" fill="#808000"/>
<polygon points="308.4,488.9 305.1,487.0 305.1,490.9" fill="#808000"/>
<polygon points="322.4,485.8 319.1,483.8 319.1,487.8" fill="#808000"/>
<polygon points="336.3,483.0 333.0,481.0 333.0,485.0" fill="#808000"/>
<polygon points="350.3,481.9 347.0,479.9 347.0,483.9" fill="#808000"/>
<polygon points="364.2,481.2 360.9,479.2 360.9,483.1" fill="#808000"/>
<polygon points="378.2,480.8 374.9,478.8 374.9,482.8" fill="#808000"/>
<polygon points="392.1,480.2 388.8,478.3 388.8,482.2" fill="#808000"/>
<polygon points="406.1,480.2 402.8,478.3 402.8,482.2" fill="#808000"/>
<polygon points="278.4,501.6 280.1,503.7 278.4,505.8 276.8,503.7" fill="#000080"/>
<polygon points="292.4,494.8 294.1,496.9 292.4,499.0 290.7,496.9" fill="#000080"/>
<polygon points="306.4,489.3 308.0,491.3 306.4,493.4 304.7,491.3" fill="#000080"/>
<polygon points="320.3,484.1 322.0,486.2 320.3,488.2 318.6,486.2" fill="#000080"/>
<polygon points="334.2,479.6 335.9,481.7 334.2,483.8 332.6,481.7" fill="#000080"/>
<polygon points="348.2,476.9 349.9,479.0 348.2,481.0 346.5,479.0" fill="#000080"/>
<polygon points="362.1,473.5 363.8,475.6 362.1,477.7 360.5,475.6" fill="#000080"/>
<polygon points="376.1,470.4 377.8,472.5 376.1,474.6 374.4,472.5" fill="#000080"/>
<polygon points="390.0,468.0 391.7,470.1 390.0,472.2 388.4,470.1" fill="#000080"/>
<polygon points="404.0,465.8 405.7,467.9 404.0,469.9 402.3,467.9" fill="#000080"/>
<circle cx="278.4" cy="498.7" r="1.6" fill="#800000"/>
<circle cx="292.4" cy="494.1" r="1.6" fill="#800000"/>
<circle cx="306.4" cy="489.5" r="1.6" fill="#800000"/>
<circle cx="320.3" cy="485.8" r="1.6" fill="#800000"/>
<circle cx="334.2" cy="482.1" r="1.6" fill="#800000"/>
<circle cx="348.2" cy="480.2" r="1.6" fill="#800000"/>
<circle cx="362.1" cy="478.8" r="1.6" fill="#800000"/>
<circle cx="376.1" cy="476.6" r="1.6" fill="#800000"/>
<circle cx="390.0" cy="474.7" r="1.6" fill="#800000"/>
<circle cx="404.0" cy="473.8" r="1.6" fill="#800000"/>
<circle cx="278.4" cy="509.8" r="1.6" fill="#FF0080"/>
<circle cx="292.4" cy="503.3" r="1.6" fill="#FF0080"/>
<circle cx="306.4" cy="497.8" r="1.6" fill="#FF0080"/>
<circle cx="320.3" cy="493.2" r="1.6" fill="#FF0080"/>
<circle cx="334.2" cy="488.6" r="1.6" fill="#FF0080"/>
<circle cx="348.2" cy="484.9" r="1.6" fill="#FF0080"/>
<circle cx="362.1" cy="481.7" r="1.6" fill="#FF0080"/>
<circle cx="376.1" cy="478.4" r="1.6" fill="#FF0080"/>
<circle cx="390.0" cy="474.7" r="1.6" fill="#FF0080"/>
<circle cx="404.0" cy="471.9" r="1.6" fill="#FF0080"/>
<polygon points="278.4,523.0 279.0,524.4 280.5,524.5 279.3,525.4 279.7,526.9 278.4,526.1 277.2,526.9 277.6,525.4 276.4,524.5 277.9,524.4" fill="#008000"/>
<polygon points="292.4,517.8 293.0,519.2 294.5,519.3 293.3,520.3 293.7,521.7 292.4,520.9 291.1,521.7 291.5,520.3 290.3,519.3 291.8,519.2" fill="#008000"/>
<polygon points="306.4,513.2 306.9,514.6 308.4,514.7 307.2,515.6 307.6,517.1 306.4,516.3 305.1,517.1 305.5,515.6 304.3,514.7 305.8,514.6" fill="#008000"/>
<polygon points="320.3,511.0 320.9,512.4 322.4,512.5 321.2,513.4 321.6,514.9 320.3,514.1 319.0,514.9 319.4,513.4 318.2,512.5 319.7,512.4" fill="#008000"/>
<polygon points="334.2,508.6 334.8,510.0 336.3,510.1 335.1,511.0 335.5,512.5 334.2,511.7 333.0,512.5 333.4,511.0 332.2,510.1 333.7,510.0" fill="#008000"/>
<polygon points="348.2,506.7 348.8,508.1 350.3,508.2 349.1,509.2 349.5,510.7 348.2,509.8 346.9,510.7 347.3,509.2 346.1,508.2 347.6,508.1" fill="#008000"/>
<polygon points="362.1,505.2 362.7,506.7 364.2,506.7 363.0,507.7 363.4,509.2 362.1,508.3 360.9,509.2 361.3,507.7 360.1,506.7 361.6,506.7" fill="#008000"/>
<polygon points="376.1,503.8 376.7,505.2 378.2,505.3 377.0,506.2 377.4,507.7 376.1,506.9 374.8,507.7 375.2,506.2 374.0,505.3 375.5,505.2" fill="#008000"/>
<polygon points="390.0,502.1 390.6,503.5 392.1,503.6 390.9,504.6 391.3,506.0 390.0,505.2 388.8,506.0 389.2,504.6 388.0,503.6 389.5,503.5" fill="#008000"/>
<polygon points="404.0,500.8 404.6,502.2 406.1,502.3 404.9,503.3 405.3,504.7 404.0,503.9 402.7,504.7 403.1,503.3 401.9,502.3 403.4,502.2" fill="#008000"/>
<circle cx="278.4" cy="494.1" r="1.6" fill="#FF0000"/>
<line x1="278.2" y1="494.6" x2="279.3" y2="493.4" stroke="#fff" stroke-opacity="0.8" stroke-width="0.45"/>
<circle cx="292.4" cy="486.2" r="1.6" fill="#FF0000"/>
<line x1="292.2" y1="486.7" x2="293.3" y2="485.5" stroke="#fff" stroke-opacity="0.8" stroke-width="0.45"/>
<circle cx="306.4" cy="480.6" r="1.6" fill="#FF0000"/>
<line x1="306.2" y1="481.1" x2="307.2" y2="479.9" stroke="#fff" stroke-opacity="0.8" stroke-width="0.45"/>
<circle cx="320.3" cy="475.6" r="1.6" fill="#FF0000"/>
<line x1="320.1" y1="476.1" x2="321.2" y2="474.9" stroke="#fff" stroke-opacity="0.8" stroke-width="0.45"/>
<circle cx="334.2" cy="471.9" r="1.6" fill="#FF0000"/>
<line x1="334.1" y1="472.4" x2="335.1" y2="471.2" stroke="#fff" stroke-opacity="0.8" stroke-width="0.45"/>
<circle cx="348.2" cy="468.6" r="1.6" fill="#FF0000"/>
<line x1="348.0" y1="469.1" x2="349.1" y2="467.9" stroke="#fff" stroke-opacity="0.8" stroke-width="0.45"/>
<circle cx="362.1" cy="465.5" r="1.6" fill="#FF0000"/>
<line x1="361.9" y1="466.0" x2="363.0" y2="464.8" stroke="#fff" stroke-opacity="0.8" stroke-width="0.45"/>
<circle cx="376.1" cy="462.7" r="1.6" fill="#FF0000"/>
<line x1="375.9" y1="463.2" x2="377.0" y2="462.0" stroke="#fff" stroke-opacity="0.8" stroke-width="0.45"/>
<circle cx="390.0" cy="460.5" r="1.6" fill="#FF0000"/>
<line x1="389.8" y1="461.0" x2="390.9" y2="459.8" stroke="#fff" stroke-opacity="0.8" stroke-width="0.45"/>
<circle cx="404.0" cy="459.0" r="1.6" fill="#FF0000"/>
<line x1="403.8" y1="459.5" x2="404.9" y2="458.3" stroke="#fff" stroke-opacity="0.8" stroke-width="0.45"/>
<rect x="406.8" y="454.3" width="29.3" height="75.6" fill="#fff" stroke="#aaa" stroke-width="0.6"/>
<line x1="408.3" y1="458.7" x2="418.8" y2="458.7" stroke="#000000" stroke-opacity="0.35" stroke-width="0.6"/>
<rect x="411.6" y="457.2" width="3.0" height="3.0" fill="#000000"/>
<text x="420.1" y="460.8" font-size="6.3" text-anchor="start" fill="#3a3a3a" textLength="6.5" lengthAdjust="spacingAndGlyphs" stroke="#3a3a3a" stroke-width="0.0" >DC</text>
<line x1="408.3" y1="465.5" x2="418.8" y2="465.5" stroke="#FF80FF" stroke-opacity="0.35" stroke-width="0.6"/>
<circle cx="413.1" cy="465.5" r="1.6" fill="#FF80FF"/>
<text x="420.1" y="467.6" font-size="6.3" text-anchor="start" fill="#3a3a3a" textLength="15.0" lengthAdjust="spacingAndGlyphs" stroke="#3a3a3a" stroke-width="0.0" >K-shell</text>
<line x1="408.3" y1="472.2" x2="418.8" y2="472.2" stroke="#0000FF" stroke-opacity="0.35" stroke-width="0.6"/>
<polygon points="413.1,470.0 415.2,473.6 411.0,473.6" fill="#0000FF"/>
<text x="420.1" y="474.3" font-size="6.3" text-anchor="start" fill="#3a3a3a" textLength="6.5" lengthAdjust="spacingAndGlyphs" stroke="#3a3a3a" stroke-width="0.0" >PL</text>
<line x1="408.3" y1="479.0" x2="418.8" y2="479.0" stroke="#008080" stroke-opacity="0.35" stroke-width="0.6"/>
<polygon points="413.1,481.2 415.2,477.7 411.0,477.7" fill="#008080"/>
<text x="420.1" y="481.1" font-size="6.3" text-anchor="start" fill="#3a3a3a" textLength="13.8" lengthAdjust="spacingAndGlyphs" stroke="#3a3a3a" stroke-width="0.0" >ECRM</text>
<line x1="408.3" y1="485.8" x2="418.8" y2="485.8" stroke="#FF00FF" stroke-opacity="0.35" stroke-width="0.6"/>
<polygon points="410.9,485.8 414.4,483.7 414.4,487.9" fill="#FF00FF"/>
<text x="420.1" y="487.9" font-size="6.3" text-anchor="start" fill="#3a3a3a" textLength="10.5" lengthAdjust="spacingAndGlyphs" stroke="#3a3a3a" stroke-width="0.0" >GSM</text>
<line x1="408.3" y1="492.5" x2="418.8" y2="492.5" stroke="#808000" stroke-opacity="0.35" stroke-width="0.6"/>
<polygon points="415.3,492.5 411.8,490.5 411.8,494.6" fill="#808000"/>
<text x="420.1" y="494.6" font-size="6.3" text-anchor="start" fill="#3a3a3a" textLength="7.8" lengthAdjust="spacingAndGlyphs" stroke="#3a3a3a" stroke-width="0.0" >GSI</text>
<line x1="408.3" y1="499.3" x2="418.8" y2="499.3" stroke="#000080" stroke-opacity="0.35" stroke-width="0.6"/>
<polygon points="413.1,497.1 414.9,499.3 413.1,501.5 411.3,499.3" fill="#000080"/>
<text x="420.1" y="501.4" font-size="6.3" text-anchor="start" fill="#3a3a3a" textLength="14.5" lengthAdjust="spacingAndGlyphs" stroke="#3a3a3a" stroke-width="0.0" >MCGM</text>
<line x1="408.3" y1="506.1" x2="418.8" y2="506.1" stroke="#800000" stroke-opacity="0.35" stroke-width="0.6"/>
<circle cx="413.1" cy="506.1" r="1.6" fill="#800000"/>
<text x="420.1" y="508.2" font-size="6.3" text-anchor="start" fill="#3a3a3a" textLength="4.6" lengthAdjust="spacingAndGlyphs" stroke="#3a3a3a" stroke-width="0.0" >CI</text>
<line x1="408.3" y1="512.9" x2="418.8" y2="512.9" stroke="#FF0080" stroke-opacity="0.35" stroke-width="0.6"/>
<circle cx="413.1" cy="512.9" r="1.6" fill="#FF0080"/>
<text x="420.1" y="515.0" font-size="6.3" text-anchor="start" fill="#3a3a3a" textLength="13.0" lengthAdjust="spacingAndGlyphs" stroke="#3a3a3a" stroke-width="0.0" >HVGC</text>
<line x1="408.3" y1="519.6" x2="418.8" y2="519.6" stroke="#008000" stroke-opacity="0.35" stroke-width="0.6"/>
<polygon points="413.1,517.3 413.7,518.8 415.3,518.9 414.0,519.9 414.5,521.5 413.1,520.6 411.7,521.5 412.2,519.9 410.9,518.9 412.5,518.8" fill="#008000"/>
<text x="420.1" y="521.7" font-size="6.3" text-anchor="start" fill="#3a3a3a" textLength="13.8" lengthAdjust="spacingAndGlyphs" stroke="#3a3a3a" stroke-width="0.0" >CSRM</text>
<line x1="408.3" y1="526.4" x2="418.8" y2="526.4" stroke="#FF0000" stroke-opacity="0.35" stroke-width="0.6"/>
<circle cx="413.1" cy="526.4" r="1.6" fill="#FF0000"/>
<text x="420.1" y="528.5" font-size="6.3" text-anchor="start" fill="#3a3a3a" textLength="10.5" lengthAdjust="spacingAndGlyphs" stroke="#3a3a3a" stroke-width="0.0" >SGM</text>
<text x="350.4" y="648.0" style="font-family:Liberation Serif,serif" font-size="17.2" fill="#111" text-anchor="middle">(h) power</text>
<line x1="508.9" y1="593.6" x2="508.9" y2="454.0" stroke="#bbb" stroke-width="0.8"/>
<line x1="508.9" y1="593.6" x2="672.3" y2="593.6" stroke="#555" stroke-width="0.8"/>
<line x1="508.9" y1="593.6" x2="508.9" y2="595.8" stroke="#444" stroke-width="0.75"/>
<text x="508.9" y="603.1" font-size="6.3" text-anchor="middle" fill="#2a2a2a" textLength="10.1" lengthAdjust="spacingAndGlyphs" stroke="#2a2a2a" stroke-width="0.1" >0.00</text>
<line x1="522.5" y1="593.6" x2="522.5" y2="594.9" stroke="#444" stroke-width="0.75"/>
<line x1="536.1" y1="593.6" x2="536.1" y2="595.8" stroke="#444" stroke-width="0.75"/>
<text x="536.1" y="603.1" font-size="6.3" text-anchor="middle" fill="#2a2a2a" textLength="10.1" lengthAdjust="spacingAndGlyphs" stroke="#2a2a2a" stroke-width="0.1" >0.02</text>
<line x1="549.8" y1="593.6" x2="549.8" y2="594.9" stroke="#444" stroke-width="0.75"/>
<line x1="563.4" y1="593.6" x2="563.4" y2="595.8" stroke="#444" stroke-width="0.75"/>
<text x="563.4" y="603.1" font-size="6.3" text-anchor="middle" fill="#2a2a2a" textLength="10.1" lengthAdjust="spacingAndGlyphs" stroke="#2a2a2a" stroke-width="0.1" >0.04</text>
<line x1="577.0" y1="593.6" x2="577.0" y2="594.9" stroke="#444" stroke-width="0.75"/>
<line x1="590.6" y1="593.6" x2="590.6" y2="595.8" stroke="#444" stroke-width="0.75"/>
<text x="590.6" y="603.1" font-size="6.3" text-anchor="middle" fill="#2a2a2a" textLength="10.1" lengthAdjust="spacingAndGlyphs" stroke="#2a2a2a" stroke-width="0.1" >0.06</text>
<line x1="604.2" y1="593.6" x2="604.2" y2="594.9" stroke="#444" stroke-width="0.75"/>
<line x1="617.8" y1="593.6" x2="617.8" y2="595.8" stroke="#444" stroke-width="0.75"/>
<text x="617.8" y="603.1" font-size="6.3" text-anchor="middle" fill="#2a2a2a" textLength="10.1" lengthAdjust="spacingAndGlyphs" stroke="#2a2a2a" stroke-width="0.1" >0.08</text>
<line x1="631.4" y1="593.6" x2="631.4" y2="594.9" stroke="#444" stroke-width="0.75"/>
<line x1="645.1" y1="593.6" x2="645.1" y2="595.8" stroke="#444" stroke-width="0.75"/>
<text x="645.1" y="603.1" font-size="6.3" text-anchor="middle" fill="#2a2a2a" textLength="10.1" lengthAdjust="spacingAndGlyphs" stroke="#2a2a2a" stroke-width="0.1" >0.10</text>
<line x1="658.7" y1="593.6" x2="658.7" y2="594.9" stroke="#444" stroke-width="0.75"/>
<line x1="672.3" y1="593.6" x2="672.3" y2="595.8" stroke="#444" stroke-width="0.75"/>
<text x="672.3" y="603.1" font-size="6.3" text-anchor="middle" fill="#2a2a2a" textLength="10.1" lengthAdjust="spacingAndGlyphs" stroke="#2a2a2a" stroke-width="0.1" >0.12</text>
<line x1="506.7" y1="593.6" x2="508.9" y2="593.6" stroke="#444" stroke-width="0.75"/>
<text x="504.8" y="595.1" font-size="6.3" text-anchor="end" fill="#2a2a2a" textLength="7.4" lengthAdjust="spacingAndGlyphs" stroke="#2a2a2a" stroke-width="0.1" >0.0</text>
<line x1="506.7" y1="578.1" x2="508.9" y2="578.1" stroke="#444" stroke-width="0.75"/>
<text x="504.8" y="579.6" font-size="6.3" text-anchor="end" fill="#2a2a2a" textLength="7.4" lengthAdjust="spacingAndGlyphs" stroke="#2a2a2a" stroke-width="0.1" >0.1</text>
<line x1="506.7" y1="562.6" x2="508.9" y2="562.6" stroke="#444" stroke-width="0.75"/>
<text x="504.8" y="564.1" font-size="6.3" text-anchor="end" fill="#2a2a2a" textLength="7.4" lengthAdjust="spacingAndGlyphs" stroke="#2a2a2a" stroke-width="0.1" >0.2</text>
<line x1="506.7" y1="547.1" x2="508.9" y2="547.1" stroke="#444" stroke-width="0.75"/>
<text x="504.8" y="548.6" font-size="6.3" text-anchor="end" fill="#2a2a2a" textLength="7.4" lengthAdjust="spacingAndGlyphs" stroke="#2a2a2a" stroke-width="0.1" >0.3</text>
<line x1="506.7" y1="531.6" x2="508.9" y2="531.6" stroke="#444" stroke-width="0.75"/>
<text x="504.8" y="533.1" font-size="6.3" text-anchor="end" fill="#2a2a2a" textLength="7.4" lengthAdjust="spacingAndGlyphs" stroke="#2a2a2a" stroke-width="0.1" >0.4</text>
<line x1="506.7" y1="516.0" x2="508.9" y2="516.0" stroke="#444" stroke-width="0.75"/>
<text x="504.8" y="517.5" font-size="6.3" text-anchor="end" fill="#2a2a2a" textLength="7.4" lengthAdjust="spacingAndGlyphs" stroke="#2a2a2a" stroke-width="0.1" >0.5</text>
<line x1="506.7" y1="500.5" x2="508.9" y2="500.5" stroke="#444" stroke-width="0.75"/>
<text x="504.8" y="502.0" font-size="6.3" text-anchor="end" fill="#2a2a2a" textLength="7.4" lengthAdjust="spacingAndGlyphs" stroke="#2a2a2a" stroke-width="0.1" >0.6</text>
<line x1="506.7" y1="485.0" x2="508.9" y2="485.0" stroke="#444" stroke-width="0.75"/>
<text x="504.8" y="486.5" font-size="6.3" text-anchor="end" fill="#2a2a2a" textLength="7.4" lengthAdjust="spacingAndGlyphs" stroke="#2a2a2a" stroke-width="0.1" >0.7</text>
<line x1="506.7" y1="469.5" x2="508.9" y2="469.5" stroke="#444" stroke-width="0.75"/>
<text x="504.8" y="471.0" font-size="6.3" text-anchor="end" fill="#2a2a2a" textLength="7.4" lengthAdjust="spacingAndGlyphs" stroke="#2a2a2a" stroke-width="0.1" >0.8</text>
<line x1="506.7" y1="454.0" x2="508.9" y2="454.0" stroke="#444" stroke-width="0.75"/>
<text x="504.8" y="455.5" font-size="6.3" text-anchor="end" fill="#2a2a2a" textLength="7.4" lengthAdjust="spacingAndGlyphs" stroke="#2a2a2a" stroke-width="0.1" >0.9</text>
<line x1="507.6" y1="585.8" x2="508.9" y2="585.8" stroke="#444" stroke-width="0.75"/>
<line x1="507.6" y1="570.3" x2="508.9" y2="570.3" stroke="#444" stroke-width="0.75"/>
<line x1="507.6" y1="554.8" x2="508.9" y2="554.8" stroke="#444" stroke-width="0.75"/>
<line x1="507.6" y1="539.3" x2="508.9" y2="539.3" stroke="#444" stroke-width="0.75"/>
<line x1="507.6" y1="523.8" x2="508.9" y2="523.8" stroke="#444" stroke-width="0.75"/>
<line x1="507.6" y1="508.3" x2="508.9" y2="508.3" stroke="#444" stroke-width="0.75"/>
<line x1="507.6" y1="492.8" x2="508.9" y2="492.8" stroke="#444" stroke-width="0.75"/>
<line x1="507.6" y1="477.3" x2="508.9" y2="477.3" stroke="#444" stroke-width="0.75"/>
<line x1="507.6" y1="461.8" x2="508.9" y2="461.8" stroke="#444" stroke-width="0.75"/>
<text x="489.1" y="530.8" font-size="8.8" fill="#3a3a3a" transform="rotate(-90 489.1 530.8)" text-anchor="middle">τ</text>
<text x="590.6" y="614.7" font-size="7.3" fill="#333" text-anchor="middle" textLength="3.6" lengthAdjust="spacingAndGlyphs">β</text>
<polyline fill="none" stroke="#000000" stroke-opacity="0.45" stroke-width="0.55" points="522.5,534.3 536.1,541.5 549.8,544.7 563.4,543.7 577.0,540.6 590.6,537.3 604.2,534.2 617.8,531.6 631.4,529.2 645.1,526.9"/>
<polyline fill="none" stroke="#FF80FF" stroke-opacity="0.45" stroke-width="0.55" points="522.5,529.2 536.1,535.0 549.8,537.8 563.4,535.9 577.0,532.3 590.6,528.5 604.2,525.4 617.8,522.2 631.4,519.6 645.1,517.6"/>
<polyline fill="none" stroke="#0000FF" stroke-opacity="0.45" stroke-width="0.55" points="522.5,568.3 536.1,576.8 549.8,580.4 563.4,580.1 577.0,578.1 590.6,574.7 604.2,571.9 617.8,569.6 631.4,567.7 645.1,566.0"/>
<polyline fill="none" stroke="#008080" stroke-opacity="0.45" stroke-width="0.55" points="522.5,480.4 536.1,468.0 549.8,464.1 563.4,461.8 577.0,464.9 590.6,466.4 604.2,468.0 617.8,471.8 631.4,474.9 645.1,477.3"/>
<polyline fill="none" stroke="#FF00FF" stroke-opacity="0.45" stroke-width="0.55" points="522.5,481.9 536.1,469.5 549.8,467.2 563.4,467.2 577.0,467.2 590.6,472.6 604.2,476.5 617.8,480.1 631.4,483.2 645.1,485.8"/>
<polyline fill="none" stroke="#808000" stroke-opacity="0.45" stroke-width="0.55" points="522.5,496.3 536.1,499.8 549.8,502.1 563.4,500.2 577.0,497.1 590.6,493.9 604.2,491.5 617.8,489.4 631.4,487.3 645.1,485.8"/>
<polyline fill="none" stroke="#000080" stroke-opacity="0.45" stroke-width="0.55" points="522.5,471.8 536.1,465.6 549.8,465.3 563.4,464.9 577.0,464.9 590.6,465.6 604.2,467.2 617.8,468.7 631.4,470.3 645.1,471.8"/>
<polyline fill="none" stroke="#800000" stroke-opacity="0.45" stroke-width="0.55" points="522.5,508.3 536.1,512.5 549.8,515.0 563.4,513.7 577.0,511.1 590.6,508.6 604.2,506.4 617.8,504.7 631.4,503.2 645.1,501.8"/>
<polyline fill="none" stroke="#FF0080" stroke-opacity="0.45" stroke-width="0.55" points="522.5,474.2 536.1,464.1 549.8,461.8 563.4,461.0 577.0,462.5 590.6,465.6 604.2,468.7 617.8,471.1 631.4,473.4 645.1,474.9"/>
<polyline fill="none" stroke="#008000" stroke-opacity="0.45" stroke-width="0.55" points="522.5,488.9 536.1,483.9 549.8,480.8 563.4,475.4 577.0,471.1 590.6,466.4 604.2,464.1 617.8,463.3 631.4,462.5 645.1,462.8"/>
<polyline fill="none" stroke="#FF0000" stroke-opacity="0.45" stroke-width="0.55" points="522.5,478.8 536.1,474.5 549.8,473.1 563.4,469.5 577.0,466.1 590.6,463.8 604.2,462.5 617.8,462.2 631.4,462.5 645.1,462.8"/>
<rect x="521.1" y="532.9" width="2.8" height="2.8" fill="#000000"/>
<rect x="534.7" y="540.1" width="2.8" height="2.8" fill="#000000"/>
<rect x="548.3" y="543.3" width="2.8" height="2.8" fill="#000000"/>
<rect x="562.0" y="542.2" width="2.8" height="2.8" fill="#000000"/>
<rect x="575.6" y="539.1" width="2.8" height="2.8" fill="#000000"/>
<rect x="589.2" y="535.9" width="2.8" height="2.8" fill="#000000"/>
<rect x="602.8" y="532.8" width="2.8" height="2.8" fill="#000000"/>
<rect x="616.4" y="530.1" width="2.8" height="2.8" fill="#000000"/>
<rect x="630.0" y="527.8" width="2.8" height="2.8" fill="#000000"/>
<rect x="643.7" y="525.5" width="2.8" height="2.8" fill="#000000"/>
<circle cx="522.5" cy="529.2" r="1.6" fill="#FF80FF"/>
<circle cx="536.1" cy="535.0" r="1.6" fill="#FF80FF"/>
<circle cx="549.8" cy="537.8" r="1.6" fill="#FF80FF"/>
<circle cx="563.4" cy="535.9" r="1.6" fill="#FF80FF"/>
<circle cx="577.0" cy="532.3" r="1.6" fill="#FF80FF"/>
<circle cx="590.6" cy="528.5" r="1.6" fill="#FF80FF"/>
<circle cx="604.2" cy="525.4" r="1.6" fill="#FF80FF"/>
<circle cx="617.8" cy="522.2" r="1.6" fill="#FF80FF"/>
<circle cx="631.4" cy="519.6" r="1.6" fill="#FF80FF"/>
<circle cx="645.1" cy="517.6" r="1.6" fill="#FF80FF"/>
<polygon points="522.5,566.2 524.5,569.6 520.5,569.6" fill="#0000FF"/>
<polygon points="536.1,574.8 538.1,578.1 534.2,578.1" fill="#0000FF"/>
<polygon points="549.8,578.3 551.7,581.7 547.8,581.7" fill="#0000FF"/>
<polygon points="563.4,578.0 565.3,581.4 561.4,581.4" fill="#0000FF"/>
<polygon points="577.0,576.0 579.0,579.3 575.0,579.3" fill="#0000FF"/>
<polygon points="590.6,572.6 592.6,575.9 588.6,575.9" fill="#0000FF"/>
<polygon points="604.2,569.8 606.2,573.1 602.2,573.1" fill="#0000FF"/>
<polygon points="617.8,567.5 619.8,570.8 615.9,570.8" fill="#0000FF"/>
<polygon points="631.4,565.6 633.4,568.9 629.5,568.9" fill="#0000FF"/>
<polygon points="645.1,563.9 647.0,567.2 643.1,567.2" fill="#0000FF"/>
<polygon points="522.5,482.4 524.5,479.1 520.5,479.1" fill="#008080"/>
<polygon points="536.1,470.0 538.1,466.7 534.2,466.7" fill="#008080"/>
<polygon points="549.8,466.2 551.7,462.8 547.8,462.8" fill="#008080"/>
<polygon points="563.4,463.8 565.3,460.5 561.4,460.5" fill="#008080"/>
<polygon points="577.0,466.9 579.0,463.6 575.0,463.6" fill="#008080"/>
<polygon points="590.6,468.5 592.6,465.2 588.6,465.2" fill="#008080"/>
<polygon points="604.2,470.0 606.2,466.7 602.2,466.7" fill="#008080"/>
<polygon points="617.8,473.9 619.8,470.6 615.9,470.6" fill="#008080"/>
<polygon points="631.4,477.0 633.4,473.7 629.5,473.7" fill="#008080"/>
<polygon points="645.1,479.3 647.0,476.0 643.1,476.0" fill="#008080"/>
<polygon points="520.4,481.9 523.8,479.9 523.8,483.9" fill="#FF00FF"/>
<polygon points="534.1,469.5 537.4,467.5 537.4,471.5" fill="#FF00FF"/>
<polygon points="547.7,467.2 551.0,465.2 551.0,469.2" fill="#FF00FF"/>
<polygon points="561.3,467.2 564.6,465.2 564.6,469.2" fill="#FF00FF"/>
<polygon points="574.9,467.2 578.2,465.2 578.2,469.2" fill="#FF00FF"/>
<polygon points="588.5,472.6 591.8,470.6 591.8,474.6" fill="#FF00FF"/>
<polygon points="602.1,476.5 605.5,474.5 605.5,478.5" fill="#FF00FF"/>
<polygon points="615.8,480.1 619.1,478.1 619.1,482.0" fill="#FF00FF"/>
<polygon points="629.4,483.2 632.7,481.2 632.7,485.1" fill="#FF00FF"/>
<polygon points="643.0,485.8 646.3,483.8 646.3,487.8" fill="#FF00FF"/>
<polygon points="524.6,496.3 521.3,494.4 521.3,498.3" fill="#808000"/>
<polygon points="538.2,499.8 534.9,497.8 534.9,501.7" fill="#808000"/>
<polygon points="551.8,502.1 548.5,500.1 548.5,504.1" fill="#808000"/>
<polygon points="565.4,500.2 562.1,498.2 562.1,502.2" fill="#808000"/>
<polygon points="579.1,497.1 575.7,495.1 575.7,499.1" fill="#808000"/>
<polygon points="592.7,493.9 589.4,491.9 589.4,495.8" fill="#808000"/>
<polygon points="606.3,491.5 603.0,489.6 603.0,493.5" fill="#808000"/>
<polygon points="619.9,489.4 616.6,487.4 616.6,491.3" fill="#808000"/>
<polygon points="633.5,487.3 630.2,485.4 630.2,489.3" fill="#808000"/>
<polygon points="647.1,485.8 643.8,483.8 643.8,487.8" fill="#808000"/>
<polygon points="522.5,469.8 524.2,471.8 522.5,473.9 520.9,471.8" fill="#000080"/>
<polygon points="536.1,463.6 537.8,465.6 536.1,467.7 534.5,465.6" fill="#000080"/>
<polygon points="549.8,463.2 551.4,465.3 549.8,467.4 548.1,465.3" fill="#000080"/>
<polygon points="563.4,462.8 565.0,464.9 563.4,466.9 561.7,464.9" fill="#000080"/>
<polygon points="577.0,462.8 578.6,464.9 577.0,466.9 575.3,464.9" fill="#000080"/>
<polygon points="590.6,463.6 592.3,465.6 590.6,467.7 588.9,465.6" fill="#000080"/>
<polygon points="604.2,465.1 605.9,467.2 604.2,469.3 602.6,467.2" fill="#000080"/>
<polygon points="617.8,466.7 619.5,468.7 617.8,470.8 616.2,468.7" fill="#000080"/>
<polygon points="631.4,468.2 633.1,470.3 631.4,472.4 629.8,470.3" fill="#000080"/>
<polygon points="645.1,469.8 646.7,471.8 645.1,473.9 643.4,471.8" fill="#000080"/>
<circle cx="522.5" cy="508.3" r="1.6" fill="#800000"/>
<circle cx="536.1" cy="512.5" r="1.6" fill="#800000"/>
<circle cx="549.8" cy="515.0" r="1.6" fill="#800000"/>
<circle cx="563.4" cy="513.7" r="1.6" fill="#800000"/>
<circle cx="577.0" cy="511.1" r="1.6" fill="#800000"/>
<circle cx="590.6" cy="508.6" r="1.6" fill="#800000"/>
<circle cx="604.2" cy="506.4" r="1.6" fill="#800000"/>
<circle cx="617.8" cy="504.7" r="1.6" fill="#800000"/>
<circle cx="631.4" cy="503.2" r="1.6" fill="#800000"/>
<circle cx="645.1" cy="501.8" r="1.6" fill="#800000"/>
<circle cx="522.5" cy="474.2" r="1.6" fill="#FF0080"/>
<circle cx="536.1" cy="464.1" r="1.6" fill="#FF0080"/>
<circle cx="549.8" cy="461.8" r="1.6" fill="#FF0080"/>
<circle cx="563.4" cy="461.0" r="1.6" fill="#FF0080"/>
<circle cx="577.0" cy="462.5" r="1.6" fill="#FF0080"/>
<circle cx="590.6" cy="465.6" r="1.6" fill="#FF0080"/>
<circle cx="604.2" cy="468.7" r="1.6" fill="#FF0080"/>
<circle cx="617.8" cy="471.1" r="1.6" fill="#FF0080"/>
<circle cx="631.4" cy="473.4" r="1.6" fill="#FF0080"/>
<circle cx="645.1" cy="474.9" r="1.6" fill="#FF0080"/>
<polygon points="522.5,486.7 523.1,488.1 524.6,488.2 523.4,489.2 523.8,490.7 522.5,489.8 521.2,490.7 521.6,489.2 520.4,488.2 522.0,488.1" fill="#008000"/>
<polygon points="536.1,481.8 536.7,483.2 538.2,483.3 537.0,484.2 537.4,485.7 536.1,484.9 534.8,485.7 535.2,484.2 534.1,483.3 535.6,483.2" fill="#008000"/>
<polygon points="549.8,478.7 550.3,480.1 551.8,480.2 550.6,481.1 551.0,482.6 549.8,481.8 548.5,482.6 548.9,481.1 547.7,480.2 549.2,480.1" fill="#008000"/>
<polygon points="563.4,473.2 563.9,474.6 565.4,474.7 564.3,475.7 564.7,477.2 563.4,476.3 562.1,477.2 562.5,475.7 561.3,474.7 562.8,474.6" fill="#008000"/>
<polygon points="577.0,468.9 577.5,470.3 579.1,470.4 577.9,471.4 578.3,472.8 577.0,472.0 575.7,472.8 576.1,471.4 574.9,470.4 576.4,470.3" fill="#008000"/>
<polygon points="590.6,464.2 591.2,465.7 592.7,465.7 591.5,466.7 591.9,468.2 590.6,467.3 589.3,468.2 589.7,466.7 588.5,465.7 590.0,465.7" fill="#008000"/>
<polygon points="604.2,461.9 604.8,463.3 606.3,463.4 605.1,464.4 605.5,465.8 604.2,465.0 602.9,465.8 603.3,464.4 602.1,463.4 603.7,463.3" fill="#008000"/>
<polygon points="617.8,461.1 618.4,462.5 619.9,462.6 618.7,463.6 619.1,465.1 617.8,464.2 616.5,465.1 616.9,463.6 615.8,462.6 617.3,462.5" fill="#008000"/>
<polygon points="631.4,460.3 632.0,461.8 633.5,461.9 632.3,462.8 632.7,464.3 631.4,463.5 630.2,464.3 630.6,462.8 629.4,461.9 630.9,461.8" fill="#008000"/>
<polygon points="645.1,460.7 645.6,462.1 647.1,462.2 646.0,463.1 646.4,464.6 645.1,463.8 643.8,464.6 644.2,463.1 643.0,462.2 644.5,462.1" fill="#008000"/>
<circle cx="522.5" cy="478.8" r="1.6" fill="#FF0000"/>
<line x1="522.3" y1="479.3" x2="523.4" y2="478.1" stroke="#fff" stroke-opacity="0.8" stroke-width="0.45"/>
<circle cx="536.1" cy="474.5" r="1.6" fill="#FF0000"/>
<line x1="535.9" y1="475.0" x2="537.0" y2="473.8" stroke="#fff" stroke-opacity="0.8" stroke-width="0.45"/>
<circle cx="549.8" cy="473.1" r="1.6" fill="#FF0000"/>
<line x1="549.5" y1="473.6" x2="550.6" y2="472.4" stroke="#fff" stroke-opacity="0.8" stroke-width="0.45"/>
<circle cx="563.4" cy="469.5" r="1.6" fill="#FF0000"/>
<line x1="563.2" y1="470.0" x2="564.3" y2="468.8" stroke="#fff" stroke-opacity="0.8" stroke-width="0.45"/>
<circle cx="577.0" cy="466.1" r="1.6" fill="#FF0000"/>
<line x1="576.8" y1="466.6" x2="577.9" y2="465.4" stroke="#fff" stroke-opacity="0.8" stroke-width="0.45"/>
<circle cx="590.6" cy="463.8" r="1.6" fill="#FF0000"/>
<line x1="590.4" y1="464.3" x2="591.5" y2="463.1" stroke="#fff" stroke-opacity="0.8" stroke-width="0.45"/>
<circle cx="604.2" cy="462.5" r="1.6" fill="#FF0000"/>
<line x1="604.0" y1="463.0" x2="605.1" y2="461.8" stroke="#fff" stroke-opacity="0.8" stroke-width="0.45"/>
<circle cx="617.8" cy="462.2" r="1.6" fill="#FF0000"/>
<line x1="617.6" y1="462.7" x2="618.7" y2="461.5" stroke="#fff" stroke-opacity="0.8" stroke-width="0.45"/>
<circle cx="631.4" cy="462.5" r="1.6" fill="#FF0000"/>
<line x1="631.2" y1="463.0" x2="632.3" y2="461.8" stroke="#fff" stroke-opacity="0.8" stroke-width="0.45"/>
<circle cx="645.1" cy="462.8" r="1.6" fill="#FF0000"/>
<line x1="644.9" y1="463.3" x2="646.0" y2="462.1" stroke="#fff" stroke-opacity="0.8" stroke-width="0.45"/>
<rect x="647.2" y="452.4" width="29.5" height="76.2" fill="#fff" stroke="#aaa" stroke-width="0.6"/>
<line x1="648.7" y1="456.8" x2="659.3" y2="456.8" stroke="#000000" stroke-opacity="0.35" stroke-width="0.6"/>
<rect x="652.0" y="455.3" width="3.0" height="3.0" fill="#000000"/>
<text x="660.6" y="458.9" font-size="6.3" text-anchor="start" fill="#3a3a3a" textLength="6.5" lengthAdjust="spacingAndGlyphs" stroke="#3a3a3a" stroke-width="0.0" >DC</text>
<line x1="648.7" y1="463.6" x2="659.3" y2="463.6" stroke="#FF80FF" stroke-opacity="0.35" stroke-width="0.6"/>
<circle cx="653.5" cy="463.6" r="1.6" fill="#FF80FF"/>
<text x="660.6" y="465.7" font-size="6.3" text-anchor="start" fill="#3a3a3a" textLength="15.0" lengthAdjust="spacingAndGlyphs" stroke="#3a3a3a" stroke-width="0.0" >K-shell</text>
<line x1="648.7" y1="470.5" x2="659.3" y2="470.5" stroke="#0000FF" stroke-opacity="0.35" stroke-width="0.6"/>
<polygon points="653.5,468.2 655.6,471.8 651.4,471.8" fill="#0000FF"/>
<text x="660.6" y="472.6" font-size="6.3" text-anchor="start" fill="#3a3a3a" textLength="6.5" lengthAdjust="spacingAndGlyphs" stroke="#3a3a3a" stroke-width="0.0" >PL</text>
<line x1="648.7" y1="477.3" x2="659.3" y2="477.3" stroke="#008080" stroke-opacity="0.35" stroke-width="0.6"/>
<polygon points="653.5,479.5 655.6,476.0 651.4,476.0" fill="#008080"/>
<text x="660.6" y="479.4" font-size="6.3" text-anchor="start" fill="#3a3a3a" textLength="13.8" lengthAdjust="spacingAndGlyphs" stroke="#3a3a3a" stroke-width="0.0" >ECRM</text>
<line x1="648.7" y1="484.1" x2="659.3" y2="484.1" stroke="#FF00FF" stroke-opacity="0.35" stroke-width="0.6"/>
<polygon points="651.3,484.1 654.9,482.0 654.9,486.2" fill="#FF00FF"/>
<text x="660.6" y="486.2" font-size="6.3" text-anchor="start" fill="#3a3a3a" textLength="10.5" lengthAdjust="spacingAndGlyphs" stroke="#3a3a3a" stroke-width="0.0" >GSM</text>
<line x1="648.7" y1="490.9" x2="659.3" y2="490.9" stroke="#808000" stroke-opacity="0.35" stroke-width="0.6"/>
<polygon points="655.8,490.9 652.2,488.9 652.2,493.0" fill="#808000"/>
<text x="660.6" y="493.1" font-size="6.3" text-anchor="start" fill="#3a3a3a" textLength="7.8" lengthAdjust="spacingAndGlyphs" stroke="#3a3a3a" stroke-width="0.0" >GSI</text>
<line x1="648.7" y1="497.8" x2="659.3" y2="497.8" stroke="#000080" stroke-opacity="0.35" stroke-width="0.6"/>
<polygon points="653.5,495.6 655.3,497.8 653.5,500.0 651.8,497.8" fill="#000080"/>
<text x="660.6" y="499.9" font-size="6.3" text-anchor="start" fill="#3a3a3a" textLength="14.5" lengthAdjust="spacingAndGlyphs" stroke="#3a3a3a" stroke-width="0.0" >MCGM</text>
<line x1="648.7" y1="504.6" x2="659.3" y2="504.6" stroke="#800000" stroke-opacity="0.35" stroke-width="0.6"/>
<circle cx="653.5" cy="504.6" r="1.6" fill="#800000"/>
<text x="660.6" y="506.7" font-size="6.3" text-anchor="start" fill="#3a3a3a" textLength="4.6" lengthAdjust="spacingAndGlyphs" stroke="#3a3a3a" stroke-width="0.0" >CI</text>
<line x1="648.7" y1="511.4" x2="659.3" y2="511.4" stroke="#FF0080" stroke-opacity="0.35" stroke-width="0.6"/>
<circle cx="653.5" cy="511.4" r="1.6" fill="#FF0080"/>
<text x="660.6" y="513.5" font-size="6.3" text-anchor="start" fill="#3a3a3a" textLength="13.0" lengthAdjust="spacingAndGlyphs" stroke="#3a3a3a" stroke-width="0.0" >HVGC</text>
<line x1="648.7" y1="518.3" x2="659.3" y2="518.3" stroke="#008000" stroke-opacity="0.35" stroke-width="0.6"/>
<polygon points="653.5,515.9 654.1,517.5 655.7,517.6 654.5,518.6 654.9,520.1 653.5,519.3 652.2,520.1 652.6,518.6 651.3,517.6 653.0,517.5" fill="#008000"/>
<text x="660.6" y="520.4" font-size="6.3" text-anchor="start" fill="#3a3a3a" textLength="13.8" lengthAdjust="spacingAndGlyphs" stroke="#3a3a3a" stroke-width="0.0" >CSRM</text>
<line x1="648.7" y1="525.1" x2="659.3" y2="525.1" stroke="#FF0000" stroke-opacity="0.35" stroke-width="0.6"/>
<circle cx="653.5" cy="525.1" r="1.6" fill="#FF0000"/>
<text x="660.6" y="527.2" font-size="6.3" text-anchor="start" fill="#3a3a3a" textLength="10.5" lengthAdjust="spacingAndGlyphs" stroke="#3a3a3a" stroke-width="0.0" >SGM</text>
<text x="578.6" y="648.0" style="font-family:Liberation Serif,serif" font-size="17.2" fill="#111" text-anchor="middle">(i) as20000102</text>
<line x1="27.6" y1="817.3" x2="27.6" y2="683.6" stroke="#555" stroke-width="0.8"/>
<line x1="27.6" y1="817.3" x2="186.4" y2="817.3" stroke="#555" stroke-width="0.8"/>
<line x1="27.6" y1="817.3" x2="27.6" y2="819.5" stroke="#444" stroke-width="0.75"/>
<text x="27.6" y="826.8" font-size="6.3" text-anchor="middle" fill="#2a2a2a" textLength="10.1" lengthAdjust="spacingAndGlyphs" stroke="#2a2a2a" stroke-width="0.1" >0.00</text>
<line x1="40.8" y1="817.3" x2="40.8" y2="818.6" stroke="#444" stroke-width="0.75"/>
<line x1="54.1" y1="817.3" x2="54.1" y2="819.5" stroke="#444" stroke-width="0.75"/>
<text x="54.1" y="826.8" font-size="6.3" text-anchor="middle" fill="#2a2a2a" textLength="10.1" lengthAdjust="spacingAndGlyphs" stroke="#2a2a2a" stroke-width="0.1" >0.02</text>
<line x1="67.3" y1="817.3" x2="67.3" y2="818.6" stroke="#444" stroke-width="0.75"/>
<line x1="80.5" y1="817.3" x2="80.5" y2="819.5" stroke="#444" stroke-width="0.75"/>
<text x="80.5" y="826.8" font-size="6.3" text-anchor="middle" fill="#2a2a2a" textLength="10.1" lengthAdjust="spacingAndGlyphs" stroke="#2a2a2a" stroke-width="0.1" >0.04</text>
<line x1="93.8" y1="817.3" x2="93.8" y2="818.6" stroke="#444" stroke-width="0.75"/>
<line x1="107.0" y1="817.3" x2="107.0" y2="819.5" stroke="#444" stroke-width="0.75"/>
<text x="107.0" y="826.8" font-size="6.3" text-anchor="middle" fill="#2a2a2a" textLength="10.1" lengthAdjust="spacingAndGlyphs" stroke="#2a2a2a" stroke-width="0.1" >0.06</text>
<line x1="120.2" y1="817.3" x2="120.2" y2="818.6" stroke="#444" stroke-width="0.75"/>
<line x1="133.5" y1="817.3" x2="133.5" y2="819.5" stroke="#444" stroke-width="0.75"/>
<text x="133.5" y="826.8" font-size="6.3" text-anchor="middle" fill="#2a2a2a" textLength="10.1" lengthAdjust="spacingAndGlyphs" stroke="#2a2a2a" stroke-width="0.1" >0.08</text>
<line x1="146.7" y1="817.3" x2="146.7" y2="818.6" stroke="#444" stroke-width="0.75"/>
<line x1="159.9" y1="817.3" x2="159.9" y2="819.5" stroke="#444" stroke-width="0.75"/>
<text x="159.9" y="826.8" font-size="6.3" text-anchor="middle" fill="#2a2a2a" textLength="10.1" lengthAdjust="spacingAndGlyphs" stroke="#2a2a2a" stroke-width="0.1" >0.10</text>
<line x1="173.2" y1="817.3" x2="173.2" y2="818.6" stroke="#444" stroke-width="0.75"/>
<line x1="186.4" y1="817.3" x2="186.4" y2="819.5" stroke="#444" stroke-width="0.75"/>
<text x="186.4" y="826.8" font-size="6.3" text-anchor="middle" fill="#2a2a2a" textLength="10.1" lengthAdjust="spacingAndGlyphs" stroke="#2a2a2a" stroke-width="0.1" >0.12</text>
<line x1="25.4" y1="817.3" x2="27.6" y2="817.3" stroke="#444" stroke-width="0.75"/>
<text x="24.2" y="818.8" font-size="6.3" text-anchor="end" fill="#2a2a2a" textLength="9.7" lengthAdjust="spacingAndGlyphs" stroke="#2a2a2a" stroke-width="0.1" >0.50</text>
<line x1="25.4" y1="800.6" x2="27.6" y2="800.6" stroke="#444" stroke-width="0.75"/>
<text x="24.2" y="802.1" font-size="6.3" text-anchor="end" fill="#2a2a2a" textLength="9.7" lengthAdjust="spacingAndGlyphs" stroke="#2a2a2a" stroke-width="0.1" >0.55</text>
<line x1="25.4" y1="783.9" x2="27.6" y2="783.9" stroke="#444" stroke-width="0.75"/>
<text x="24.2" y="785.4" font-size="6.3" text-anchor="end" fill="#2a2a2a" textLength="9.7" lengthAdjust="spacingAndGlyphs" stroke="#2a2a2a" stroke-width="0.1" >0.60</text>
<line x1="25.4" y1="767.2" x2="27.6" y2="767.2" stroke="#444" stroke-width="0.75"/>
<text x="24.2" y="768.7" font-size="6.3" text-anchor="end" fill="#2a2a2a" textLength="9.7" lengthAdjust="spacingAndGlyphs" stroke="#2a2a2a" stroke-width="0.1" >0.65</text>
<line x1="25.4" y1="750.4" x2="27.6" y2="750.4" stroke="#444" stroke-width="0.75"/>
<text x="24.2" y="751.9" font-size="6.3" text-anchor="end" fill="#2a2a2a" textLength="9.7" lengthAdjust="spacingAndGlyphs" stroke="#2a2a2a" stroke-width="0.1" >0.70</text>
<line x1="25.4" y1="733.7" x2="27.6" y2="733.7" stroke="#444" stroke-width="0.75"/>
<text x="24.2" y="735.2" font-size="6.3" text-anchor="end" fill="#2a2a2a" textLength="9.7" lengthAdjust="spacingAndGlyphs" stroke="#2a2a2a" stroke-width="0.1" >0.75</text>
<line x1="25.4" y1="717.0" x2="27.6" y2="717.0" stroke="#444" stroke-width="0.75"/>
<text x="24.2" y="718.5" font-size="6.3" text-anchor="end" fill="#2a2a2a" textLength="9.7" lengthAdjust="spacingAndGlyphs" stroke="#2a2a2a" stroke-width="0.1" >0.80</text>
<line x1="25.4" y1="700.3" x2="27.6" y2="700.3" stroke="#444" stroke-width="0.75"/>
<text x="24.2" y="701.8" font-size="6.3" text-anchor="end" fill="#2a2a2a" textLength="9.7" lengthAdjust="spacingAndGlyphs" stroke="#2a2a2a" stroke-width="0.1" >0.85</text>
<line x1="25.4" y1="683.6" x2="27.6" y2="683.6" stroke="#444" stroke-width="0.75"/>
<text x="24.2" y="685.1" font-size="6.3" text-anchor="end" fill="#2a2a2a" textLength="9.7" lengthAdjust="spacingAndGlyphs" stroke="#2a2a2a" stroke-width="0.1" >0.90</text>
<line x1="26.3" y1="808.9" x2="27.6" y2="808.9" stroke="#444" stroke-width="0.75"/>
<line x1="26.3" y1="792.2" x2="27.6" y2="792.2" stroke="#444" stroke-width="0.75"/>
<line x1="26.3" y1="775.5" x2="27.6" y2="775.5" stroke="#444" stroke-width="0.75"/>
<line x1="26.3" y1="758.8" x2="27.6" y2="758.8" stroke="#444" stroke-width="0.75"/>
<line x1="26.3" y1="742.1" x2="27.6" y2="742.1" stroke="#444" stroke-width="0.75"/>
<line x1="26.3" y1="725.4" x2="27.6" y2="725.4" stroke="#444" stroke-width="0.75"/>
<line x1="26.3" y1="708.7" x2="27.6" y2="708.7" stroke="#444" stroke-width="0.75"/>
<line x1="26.3" y1="692.0" x2="27.6" y2="692.0" stroke="#444" stroke-width="0.75"/>
<text x="5.0" y="757.1" font-size="8.8" fill="#3a3a3a" transform="rotate(-90 5.0 757.1)" text-anchor="middle">τ</text>
<text x="107.2" y="837.5" font-size="7.3" fill="#333" text-anchor="middle" textLength="3.6" lengthAdjust="spacingAndGlyphs">β</text>
<polyline fill="none" stroke="#000000" stroke-opacity="0.45" stroke-width="0.55" points="40.8,737.1 54.1,751.5 67.3,743.8 80.5,734.7 93.8,727.7 107.0,722.4 120.2,718.7 133.5,716.4 146.7,714.4 159.9,713.0"/>
<polyline fill="none" stroke="#FF80FF" stroke-opacity="0.45" stroke-width="0.55" points="40.8,742.1 54.1,750.5 67.3,741.4 80.5,733.1 93.8,727.1 107.0,722.7 120.2,719.4 133.5,717.0 146.7,715.0 159.9,713.7"/>
<polyline fill="none" stroke="#0000FF" stroke-opacity="0.45" stroke-width="0.55" points="40.8,753.8 54.1,768.2 67.3,764.5 80.5,758.8 93.8,754.8 107.0,752.1 120.2,749.8 133.5,748.1 146.7,746.8 159.9,746.1"/>
<polyline fill="none" stroke="#008080" stroke-opacity="0.45" stroke-width="0.55" points="40.8,740.4 54.1,727.7 67.3,715.4 80.5,705.3 93.8,702.0 107.0,703.0 120.2,706.3 133.5,708.7 146.7,712.7 159.9,714.7"/>
<polyline fill="none" stroke="#FF00FF" stroke-opacity="0.45" stroke-width="0.55" points="40.8,757.8 54.1,727.7 67.3,717.0 80.5,717.0 93.8,720.4 107.0,723.0 120.2,726.0 133.5,728.7 146.7,732.1 159.9,734.4"/>
<polyline fill="none" stroke="#808000" stroke-opacity="0.45" stroke-width="0.55" points="40.8,732.1 54.1,736.7 67.3,723.7 80.5,713.7 93.8,706.0 107.0,702.0 120.2,699.3 133.5,697.0 146.7,695.3 159.9,693.6"/>
<polyline fill="none" stroke="#000080" stroke-opacity="0.45" stroke-width="0.55" points="40.8,738.8 54.1,727.7 67.3,714.7 80.5,704.7 93.8,699.3 107.0,695.3 120.2,693.3 133.5,692.0 146.7,692.0 159.9,692.0"/>
<polyline fill="none" stroke="#800000" stroke-opacity="0.45" stroke-width="0.55" points="40.8,737.1 54.1,720.4 67.3,707.7 80.5,702.0 93.8,700.3 107.0,699.6 120.2,699.6 133.5,700.3 146.7,701.6 159.9,702.7"/>
<polyline fill="none" stroke="#FF0080" stroke-opacity="0.45" stroke-width="0.55" points="40.8,732.1 54.1,712.7 67.3,699.3 80.5,693.6 93.8,695.3 107.0,697.0 120.2,695.3 133.5,696.3 146.7,700.3 159.9,701.6"/>
<polyline fill="none" stroke="#008000" stroke-opacity="0.45" stroke-width="0.55" points="40.8,738.8 54.1,723.0 67.3,704.7 80.5,696.3 93.8,693.6 107.0,692.3 120.2,693.6 133.5,694.3 146.7,696.3 159.9,698.3"/>
<polyline fill="none" stroke="#FF0000" stroke-opacity="0.45" stroke-width="0.55" points="40.8,730.1 54.1,719.4 67.3,702.0 80.5,692.6 93.8,688.3 107.0,685.6 120.2,685.6 133.5,686.6 146.7,687.9 159.9,689.3"/>
<rect x="39.4" y="735.7" width="2.8" height="2.8" fill="#000000"/>
<rect x="52.7" y="750.0" width="2.8" height="2.8" fill="#000000"/>
<rect x="65.9" y="742.4" width="2.8" height="2.8" fill="#000000"/>
<rect x="79.1" y="733.3" width="2.8" height="2.8" fill="#000000"/>
<rect x="92.4" y="726.3" width="2.8" height="2.8" fill="#000000"/>
<rect x="105.6" y="721.0" width="2.8" height="2.8" fill="#000000"/>
<rect x="118.8" y="717.3" width="2.8" height="2.8" fill="#000000"/>
<rect x="132.1" y="714.9" width="2.8" height="2.8" fill="#000000"/>
<rect x="145.3" y="712.9" width="2.8" height="2.8" fill="#000000"/>
<rect x="158.5" y="711.6" width="2.8" height="2.8" fill="#000000"/>
<circle cx="40.8" cy="742.1" r="1.6" fill="#FF80FF"/>
<circle cx="54.1" cy="750.5" r="1.6" fill="#FF80FF"/>
<circle cx="67.3" cy="741.4" r="1.6" fill="#FF80FF"/>
<circle cx="80.5" cy="733.1" r="1.6" fill="#FF80FF"/>
<circle cx="93.8" cy="727.1" r="1.6" fill="#FF80FF"/>
<circle cx="107.0" cy="722.7" r="1.6" fill="#FF80FF"/>
<circle cx="120.2" cy="719.4" r="1.6" fill="#FF80FF"/>
<circle cx="133.5" cy="717.0" r="1.6" fill="#FF80FF"/>
<circle cx="146.7" cy="715.0" r="1.6" fill="#FF80FF"/>
<circle cx="159.9" cy="713.7" r="1.6" fill="#FF80FF"/>
<polygon points="40.8,751.7 42.8,755.0 38.9,755.0" fill="#0000FF"/>
<polygon points="54.1,766.1 56.0,769.4 52.1,769.4" fill="#0000FF"/>
<polygon points="67.3,762.4 69.3,765.7 65.3,765.7" fill="#0000FF"/>
<polygon points="80.5,756.7 82.5,760.1 78.6,760.1" fill="#0000FF"/>
<polygon points="93.8,752.7 95.7,756.0 91.8,756.0" fill="#0000FF"/>
<polygon points="107.0,750.0 109.0,753.4 105.0,753.4" fill="#0000FF"/>
<polygon points="120.2,747.7 122.2,751.0 118.3,751.0" fill="#0000FF"/>
<polygon points="133.5,746.0 135.4,749.4 131.5,749.4" fill="#0000FF"/>
<polygon points="146.7,744.7 148.7,748.0 144.7,748.0" fill="#0000FF"/>
<polygon points="159.9,744.0 161.9,747.4 158.0,747.4" fill="#0000FF"/>
<polygon points="40.8,742.5 42.8,739.2 38.9,739.2" fill="#008080"/>
<polygon points="54.1,729.8 56.0,726.5 52.1,726.5" fill="#008080"/>
<polygon points="67.3,717.4 69.3,714.1 65.3,714.1" fill="#008080"/>
<polygon points="80.5,707.4 82.5,704.1 78.6,704.1" fill="#008080"/>
<polygon points="93.8,704.1 95.7,700.7 91.8,700.7" fill="#008080"/>
<polygon points="107.0,705.1 109.0,701.7 105.0,701.7" fill="#008080"/>
<polygon points="120.2,708.4 122.2,705.1 118.3,705.1" fill="#008080"/>
<polygon points="133.5,710.7 135.4,707.4 131.5,707.4" fill="#008080"/>
<polygon points="146.7,714.8 148.7,711.4 144.7,711.4" fill="#008080"/>
<polygon points="159.9,716.8 161.9,713.4 158.0,713.4" fill="#008080"/>
<polygon points="38.8,757.8 42.1,755.8 42.1,759.8" fill="#FF00FF"/>
<polygon points="52.0,727.7 55.3,725.7 55.3,729.7" fill="#FF00FF"/>
<polygon points="65.2,717.0 68.5,715.0 68.5,719.0" fill="#FF00FF"/>
<polygon points="78.5,717.0 81.8,715.0 81.8,719.0" fill="#FF00FF"/>
<polygon points="91.7,720.4 95.0,718.4 95.0,722.3" fill="#FF00FF"/>
<polygon points="104.9,723.0 108.2,721.1 108.2,725.0" fill="#FF00FF"/>
<polygon points="118.2,726.0 121.5,724.1 121.5,728.0" fill="#FF00FF"/>
<polygon points="131.4,728.7 134.7,726.7 134.7,730.7" fill="#FF00FF"/>
<polygon points="144.6,732.1 147.9,730.1 147.9,734.0" fill="#FF00FF"/>
<polygon points="157.9,734.4 161.2,732.4 161.2,736.4" fill="#FF00FF"/>
<polygon points="42.9,732.1 39.6,730.1 39.6,734.0" fill="#808000"/>
<polygon points="56.1,736.7 52.8,734.8 52.8,738.7" fill="#808000"/>
<polygon points="69.4,723.7 66.1,721.7 66.1,725.7" fill="#808000"/>
<polygon points="82.6,713.7 79.3,711.7 79.3,715.7" fill="#808000"/>
<polygon points="95.8,706.0 92.5,704.0 92.5,708.0" fill="#808000"/>
<polygon points="109.1,702.0 105.8,700.0 105.8,704.0" fill="#808000"/>
<polygon points="122.3,699.3 119.0,697.3 119.0,701.3" fill="#808000"/>
<polygon points="135.5,697.0 132.2,695.0 132.2,698.9" fill="#808000"/>
<polygon points="148.8,695.3 145.5,693.3 145.5,697.3" fill="#808000"/>
<polygon points="162.0,693.6 158.7,691.7 158.7,695.6" fill="#808000"/>
<polygon points="40.8,736.7 42.5,738.8 40.8,740.8 39.2,738.8" fill="#000080"/>
<polygon points="54.1,725.6 55.7,727.7 54.1,729.8 52.4,727.7" fill="#000080"/>
<polygon points="67.3,712.6 69.0,714.7 67.3,716.8 65.6,714.7" fill="#000080"/>
<polygon points="80.5,702.6 82.2,704.7 80.5,706.7 78.9,704.7" fill="#000080"/>
<polygon points="93.8,697.2 95.4,699.3 93.8,701.4 92.1,699.3" fill="#000080"/>
<polygon points="107.0,693.2 108.7,695.3 107.0,697.4 105.3,695.3" fill="#000080"/>
<polygon points="120.2,691.2 121.9,693.3 120.2,695.4 118.6,693.3" fill="#000080"/>
<polygon points="133.5,689.9 135.1,692.0 133.5,694.0 131.8,692.0" fill="#000080"/>
<polygon points="146.7,689.9 148.4,692.0 146.7,694.0 145.0,692.0" fill="#000080"/>
<polygon points="159.9,689.9 161.6,692.0 159.9,694.0 158.3,692.0" fill="#000080"/>
<circle cx="40.8" cy="737.1" r="1.6" fill="#800000"/>
<circle cx="54.1" cy="720.4" r="1.6" fill="#800000"/>
<circle cx="67.3" cy="707.7" r="1.6" fill="#800000"/>
<circle cx="80.5" cy="702.0" r="1.6" fill="#800000"/>
<circle cx="93.8" cy="700.3" r="1.6" fill="#800000"/>
<circle cx="107.0" cy="699.6" r="1.6" fill="#800000"/>
<circle cx="120.2" cy="699.6" r="1.6" fill="#800000"/>
<circle cx="133.5" cy="700.3" r="1.6" fill="#800000"/>
<circle cx="146.7" cy="701.6" r="1.6" fill="#800000"/>
<circle cx="159.9" cy="702.7" r="1.6" fill="#800000"/>
<circle cx="40.8" cy="732.1" r="1.6" fill="#FF0080"/>
<circle cx="54.1" cy="712.7" r="1.6" fill="#FF0080"/>
<circle cx="67.3" cy="699.3" r="1.6" fill="#FF0080"/>
<circle cx="80.5" cy="693.6" r="1.6" fill="#FF0080"/>
<circle cx="93.8" cy="695.3" r="1.6" fill="#FF0080"/>
<circle cx="107.0" cy="697.0" r="1.6" fill="#FF0080"/>
<circle cx="120.2" cy="695.3" r="1.6" fill="#FF0080"/>
<circle cx="133.5" cy="696.3" r="1.6" fill="#FF0080"/>
<circle cx="146.7" cy="700.3" r="1.6" fill="#FF0080"/>
<circle cx="159.9" cy="701.6" r="1.6" fill="#FF0080"/>
<polygon points="40.8,736.6 41.4,738.0 42.9,738.1 41.7,739.0 42.1,740.5 40.8,739.7 39.5,740.5 39.9,739.0 38.8,738.1 40.3,738.0" fill="#008000"/>
<polygon points="54.1,720.9 54.6,722.3 56.1,722.4 55.0,723.3 55.4,724.8 54.1,724.0 52.8,724.8 53.2,723.3 52.0,722.4 53.5,722.3" fill="#008000"/>
<polygon points="67.3,702.5 67.9,703.9 69.4,704.0 68.2,704.9 68.6,706.4 67.3,705.6 66.0,706.4 66.4,704.9 65.2,704.0 66.7,703.9" fill="#008000"/>
<polygon points="80.5,694.1 81.1,695.5 82.6,695.6 81.4,696.6 81.8,698.1 80.5,697.2 79.2,698.1 79.6,696.6 78.5,695.6 80.0,695.5" fill="#008000"/>
<polygon points="93.8,691.4 94.3,692.9 95.8,693.0 94.7,693.9 95.1,695.4 93.8,694.6 92.5,695.4 92.9,693.9 91.7,693.0 93.2,692.9" fill="#008000"/>
<polygon points="107.0,690.1 107.6,691.5 109.1,691.6 107.9,692.6 108.3,694.1 107.0,693.2 105.7,694.1 106.1,692.6 104.9,691.6 106.4,691.5" fill="#008000"/>
<polygon points="120.2,691.4 120.8,692.9 122.3,693.0 121.1,693.9 121.5,695.4 120.2,694.6 118.9,695.4 119.3,693.9 118.2,693.0 119.7,692.9" fill="#008000"/>
<polygon points="133.5,692.1 134.0,693.5 135.5,693.6 134.4,694.6 134.8,696.1 133.5,695.2 132.2,696.1 132.6,694.6 131.4,693.6 132.9,693.5" fill="#008000"/>
<polygon points="146.7,694.1 147.3,695.5 148.8,695.6 147.6,696.6 148.0,698.1 146.7,697.2 145.4,698.1 145.8,696.6 144.6,695.6 146.1,695.5" fill="#008000"/>
<polygon points="159.9,696.1 160.5,697.5 162.0,697.6 160.8,698.6 161.2,700.1 159.9,699.2 158.6,700.1 159.0,698.6 157.9,697.6 159.4,697.5" fill="#008000"/>
<circle cx="40.8" cy="730.1" r="1.6" fill="#FF0000"/>
<line x1="40.6" y1="730.6" x2="41.7" y2="729.4" stroke="#fff" stroke-opacity="0.8" stroke-width="0.45"/>
<circle cx="54.1" cy="719.4" r="1.6" fill="#FF0000"/>
<line x1="53.9" y1="719.9" x2="55.0" y2="718.7" stroke="#fff" stroke-opacity="0.8" stroke-width="0.45"/>
<circle cx="67.3" cy="702.0" r="1.6" fill="#FF0000"/>
<line x1="67.1" y1="702.5" x2="68.2" y2="701.3" stroke="#fff" stroke-opacity="0.8" stroke-width="0.45"/>
<circle cx="80.5" cy="692.6" r="1.6" fill="#FF0000"/>
<line x1="80.3" y1="693.1" x2="81.4" y2="691.9" stroke="#fff" stroke-opacity="0.8" stroke-width="0.45"/>
<circle cx="93.8" cy="688.3" r="1.6" fill="#FF0000"/>
<line x1="93.6" y1="688.8" x2="94.7" y2="687.6" stroke="#fff" stroke-opacity="0.8" stroke-width="0.45"/>
<circle cx="107.0" cy="685.6" r="1.6" fill="#FF0000"/>
<line x1="106.8" y1="686.1" x2="107.9" y2="684.9" stroke="#fff" stroke-opacity="0.8" stroke-width="0.45"/>
<circle cx="120.2" cy="685.6" r="1.6" fill="#FF0000"/>
<line x1="120.0" y1="686.1" x2="121.1" y2="684.9" stroke="#fff" stroke-opacity="0.8" stroke-width="0.45"/>
<circle cx="133.5" cy="686.6" r="1.6" fill="#FF0000"/>
<line x1="133.3" y1="687.1" x2="134.4" y2="685.9" stroke="#fff" stroke-opacity="0.8" stroke-width="0.45"/>
<circle cx="146.7" cy="687.9" r="1.6" fill="#FF0000"/>
<line x1="146.5" y1="688.4" x2="147.6" y2="687.2" stroke="#fff" stroke-opacity="0.8" stroke-width="0.45"/>
<circle cx="159.9" cy="689.3" r="1.6" fill="#FF0000"/>
<line x1="159.7" y1="689.8" x2="160.8" y2="688.6" stroke="#fff" stroke-opacity="0.8" stroke-width="0.45"/>
<rect x="162.4" y="683.3" width="28.0" height="72.2" fill="#fff" stroke="#aaa" stroke-width="0.6"/>
<line x1="163.9" y1="687.7" x2="173.8" y2="687.7" stroke="#000000" stroke-opacity="0.35" stroke-width="0.6"/>
<rect x="166.9" y="686.2" width="3.0" height="3.0" fill="#000000"/>
<text x="175.1" y="689.8" font-size="6.3" text-anchor="start" fill="#3a3a3a" textLength="6.5" lengthAdjust="spacingAndGlyphs" stroke="#3a3a3a" stroke-width="0.0" >DC</text>
<line x1="163.9" y1="694.1" x2="173.8" y2="694.1" stroke="#FF80FF" stroke-opacity="0.35" stroke-width="0.6"/>
<circle cx="168.4" cy="694.1" r="1.6" fill="#FF80FF"/>
<text x="175.1" y="696.2" font-size="6.3" text-anchor="start" fill="#3a3a3a" textLength="15.0" lengthAdjust="spacingAndGlyphs" stroke="#3a3a3a" stroke-width="0.0" >K-shell</text>
<line x1="163.9" y1="700.6" x2="173.8" y2="700.6" stroke="#0000FF" stroke-opacity="0.35" stroke-width="0.6"/>
<polygon points="168.4,698.3 170.5,701.9 166.3,701.9" fill="#0000FF"/>
<text x="175.1" y="702.7" font-size="6.3" text-anchor="start" fill="#3a3a3a" textLength="6.5" lengthAdjust="spacingAndGlyphs" stroke="#3a3a3a" stroke-width="0.0" >PL</text>
<line x1="163.9" y1="707.0" x2="173.8" y2="707.0" stroke="#008080" stroke-opacity="0.35" stroke-width="0.6"/>
<polygon points="168.4,709.2 170.5,705.7 166.3,705.7" fill="#008080"/>
<text x="175.1" y="709.1" font-size="6.3" text-anchor="start" fill="#3a3a3a" textLength="13.8" lengthAdjust="spacingAndGlyphs" stroke="#3a3a3a" stroke-width="0.0" >ECRM</text>
<line x1="163.9" y1="713.4" x2="173.8" y2="713.4" stroke="#FF00FF" stroke-opacity="0.35" stroke-width="0.6"/>
<polygon points="166.2,713.4 169.7,711.3 169.7,715.5" fill="#FF00FF"/>
<text x="175.1" y="715.5" font-size="6.3" text-anchor="start" fill="#3a3a3a" textLength="10.5" lengthAdjust="spacingAndGlyphs" stroke="#3a3a3a" stroke-width="0.0" >GSM</text>
<line x1="163.9" y1="719.8" x2="173.8" y2="719.8" stroke="#808000" stroke-opacity="0.35" stroke-width="0.6"/>
<polygon points="170.6,719.8 167.1,717.8 167.1,721.9" fill="#808000"/>
<text x="175.1" y="721.9" font-size="6.3" text-anchor="start" fill="#3a3a3a" textLength="7.8" lengthAdjust="spacingAndGlyphs" stroke="#3a3a3a" stroke-width="0.0" >GSI</text>
<line x1="163.9" y1="726.3" x2="173.8" y2="726.3" stroke="#000080" stroke-opacity="0.35" stroke-width="0.6"/>
<polygon points="168.4,724.1 170.2,726.3 168.4,728.5 166.7,726.3" fill="#000080"/>
<text x="175.1" y="728.4" font-size="6.3" text-anchor="start" fill="#3a3a3a" textLength="14.5" lengthAdjust="spacingAndGlyphs" stroke="#3a3a3a" stroke-width="0.0" >MCGM</text>
<line x1="163.9" y1="732.7" x2="173.8" y2="732.7" stroke="#800000" stroke-opacity="0.35" stroke-width="0.6"/>
<circle cx="168.4" cy="732.7" r="1.6" fill="#800000"/>
<text x="175.1" y="734.8" font-size="6.3" text-anchor="start" fill="#3a3a3a" textLength="4.6" lengthAdjust="spacingAndGlyphs" stroke="#3a3a3a" stroke-width="0.0" >CI</text>
<line x1="163.9" y1="739.1" x2="173.8" y2="739.1" stroke="#FF0080" stroke-opacity="0.35" stroke-width="0.6"/>
<circle cx="168.4" cy="739.1" r="1.6" fill="#FF0080"/>
<text x="175.1" y="741.2" font-size="6.3" text-anchor="start" fill="#3a3a3a" textLength="13.0" lengthAdjust="spacingAndGlyphs" stroke="#3a3a3a" stroke-width="0.0" >HVGC</text>
<line x1="163.9" y1="745.6" x2="173.8" y2="745.6" stroke="#008000" stroke-opacity="0.35" stroke-width="0.6"/>
<polygon points="168.4,743.2 169.0,744.8 170.6,744.9 169.4,745.9 169.8,747.4 168.4,746.6 167.1,747.4 167.5,745.9 166.2,744.9 167.8,744.8" fill="#008000"/>
<text x="175.1" y="747.7" font-size="6.3" text-anchor="start" fill="#3a3a3a" textLength="13.8" lengthAdjust="spacingAndGlyphs" stroke="#3a3a3a" stroke-width="0.0" >CSRM</text>
<line x1="163.9" y1="752.0" x2="173.8" y2="752.0" stroke="#FF0000" stroke-opacity="0.35" stroke-width="0.6"/>
<circle cx="168.4" cy="752.0" r="1.6" fill="#FF0000"/>
<text x="175.1" y="754.1" font-size="6.3" text-anchor="start" fill="#3a3a3a" textLength="10.5" lengthAdjust="spacingAndGlyphs" stroke="#3a3a3a" stroke-width="0.0" >SGM</text>
<text x="107.3" y="874.6" style="font-family:Liberation Serif,serif" font-size="17.2" fill="#111" text-anchor="middle">(j) ca-astroph</text>
<line x1="263.4" y1="817.4" x2="263.4" y2="683.7" stroke="#555" stroke-width="0.8"/>
<line x1="263.4" y1="817.4" x2="432.6" y2="817.4" stroke="#555" stroke-width="0.8"/>
<line x1="263.4" y1="817.4" x2="263.4" y2="819.6" stroke="#444" stroke-width="0.75"/>
<text x="263.4" y="826.9" font-size="6.3" text-anchor="middle" fill="#2a2a2a" textLength="10.1" lengthAdjust="spacingAndGlyphs" stroke="#2a2a2a" stroke-width="0.1" >0.00</text>
<line x1="277.5" y1="817.4" x2="277.5" y2="818.7" stroke="#444" stroke-width="0.75"/>
<line x1="291.6" y1="817.4" x2="291.6" y2="819.6" stroke="#444" stroke-width="0.75"/>
<text x="291.6" y="826.9" font-size="6.3" text-anchor="middle" fill="#2a2a2a" textLength="10.1" lengthAdjust="spacingAndGlyphs" stroke="#2a2a2a" stroke-width="0.1" >0.02</text>
<line x1="305.7" y1="817.4" x2="305.7" y2="818.7" stroke="#444" stroke-width="0.75"/>
<line x1="319.8" y1="817.4" x2="319.8" y2="819.6" stroke="#444" stroke-width="0.75"/>
<text x="319.8" y="826.9" font-size="6.3" text-anchor="middle" fill="#2a2a2a" textLength="10.1" lengthAdjust="spacingAndGlyphs" stroke="#2a2a2a" stroke-width="0.1" >0.04</text>
<line x1="333.9" y1="817.4" x2="333.9" y2="818.7" stroke="#444" stroke-width="0.75"/>
<line x1="348.0" y1="817.4" x2="348.0" y2="819.6" stroke="#444" stroke-width="0.75"/>
<text x="348.0" y="826.9" font-size="6.3" text-anchor="middle" fill="#2a2a2a" textLength="10.1" lengthAdjust="spacingAndGlyphs" stroke="#2a2a2a" stroke-width="0.1" >0.06</text>
<line x1="362.1" y1="817.4" x2="362.1" y2="818.7" stroke="#444" stroke-width="0.75"/>
<line x1="376.2" y1="817.4" x2="376.2" y2="819.6" stroke="#444" stroke-width="0.75"/>
<text x="376.2" y="826.9" font-size="6.3" text-anchor="middle" fill="#2a2a2a" textLength="10.1" lengthAdjust="spacingAndGlyphs" stroke="#2a2a2a" stroke-width="0.1" >0.08</text>
<line x1="390.3" y1="817.4" x2="390.3" y2="818.7" stroke="#444" stroke-width="0.75"/>
<line x1="404.4" y1="817.4" x2="404.4" y2="819.6" stroke="#444" stroke-width="0.75"/>
<text x="404.4" y="826.9" font-size="6.3" text-anchor="middle" fill="#2a2a2a" textLength="10.1" lengthAdjust="spacingAndGlyphs" stroke="#2a2a2a" stroke-width="0.1" >0.10</text>
<line x1="418.5" y1="817.4" x2="418.5" y2="818.7" stroke="#444" stroke-width="0.75"/>
<line x1="432.6" y1="817.4" x2="432.6" y2="819.6" stroke="#444" stroke-width="0.75"/>
<text x="432.6" y="826.9" font-size="6.3" text-anchor="middle" fill="#2a2a2a" textLength="10.1" lengthAdjust="spacingAndGlyphs" stroke="#2a2a2a" stroke-width="0.1" >0.12</text>
<line x1="261.2" y1="808.5" x2="263.4" y2="808.5" stroke="#444" stroke-width="0.75"/>
<text x="259.3" y="810.0" font-size="6.3" text-anchor="end" fill="#2a2a2a" textLength="7.4" lengthAdjust="spacingAndGlyphs" stroke="#2a2a2a" stroke-width="0.1" >0.2</text>
<line x1="261.2" y1="790.7" x2="263.4" y2="790.7" stroke="#444" stroke-width="0.75"/>
<text x="259.3" y="792.2" font-size="6.3" text-anchor="end" fill="#2a2a2a" textLength="7.4" lengthAdjust="spacingAndGlyphs" stroke="#2a2a2a" stroke-width="0.1" >0.3</text>
<line x1="261.2" y1="772.8" x2="263.4" y2="772.8" stroke="#444" stroke-width="0.75"/>
<text x="259.3" y="774.3" font-size="6.3" text-anchor="end" fill="#2a2a2a" textLength="7.4" lengthAdjust="spacingAndGlyphs" stroke="#2a2a2a" stroke-width="0.1" >0.4</text>
<line x1="261.2" y1="755.0" x2="263.4" y2="755.0" stroke="#444" stroke-width="0.75"/>
<text x="259.3" y="756.5" font-size="6.3" text-anchor="end" fill="#2a2a2a" textLength="7.4" lengthAdjust="spacingAndGlyphs" stroke="#2a2a2a" stroke-width="0.1" >0.5</text>
<line x1="261.2" y1="737.2" x2="263.4" y2="737.2" stroke="#444" stroke-width="0.75"/>
<text x="259.3" y="738.7" font-size="6.3" text-anchor="end" fill="#2a2a2a" textLength="7.4" lengthAdjust="spacingAndGlyphs" stroke="#2a2a2a" stroke-width="0.1" >0.6</text>
<line x1="261.2" y1="719.4" x2="263.4" y2="719.4" stroke="#444" stroke-width="0.75"/>
<text x="259.3" y="720.9" font-size="6.3" text-anchor="end" fill="#2a2a2a" textLength="7.4" lengthAdjust="spacingAndGlyphs" stroke="#2a2a2a" stroke-width="0.1" >0.7</text>
<line x1="261.2" y1="701.5" x2="263.4" y2="701.5" stroke="#444" stroke-width="0.75"/>
<text x="259.3" y="703.0" font-size="6.3" text-anchor="end" fill="#2a2a2a" textLength="7.4" lengthAdjust="spacingAndGlyphs" stroke="#2a2a2a" stroke-width="0.1" >0.8</text>
<line x1="261.2" y1="683.7" x2="263.4" y2="683.7" stroke="#444" stroke-width="0.75"/>
<text x="259.3" y="685.2" font-size="6.3" text-anchor="end" fill="#2a2a2a" textLength="7.4" lengthAdjust="spacingAndGlyphs" stroke="#2a2a2a" stroke-width="0.1" >0.9</text>
<line x1="262.1" y1="817.4" x2="263.4" y2="817.4" stroke="#444" stroke-width="0.75"/>
<line x1="262.1" y1="799.6" x2="263.4" y2="799.6" stroke="#444" stroke-width="0.75"/>
<line x1="262.1" y1="781.7" x2="263.4" y2="781.7" stroke="#444" stroke-width="0.75"/>
<line x1="262.1" y1="763.9" x2="263.4" y2="763.9" stroke="#444" stroke-width="0.75"/>
<line x1="262.1" y1="746.1" x2="263.4" y2="746.1" stroke="#444" stroke-width="0.75"/>
<line x1="262.1" y1="728.3" x2="263.4" y2="728.3" stroke="#444" stroke-width="0.75"/>
<line x1="262.1" y1="710.4" x2="263.4" y2="710.4" stroke="#444" stroke-width="0.75"/>
<line x1="262.1" y1="692.6" x2="263.4" y2="692.6" stroke="#444" stroke-width="0.75"/>
<text x="242.7" y="757.1" font-size="8.8" fill="#3a3a3a" transform="rotate(-90 242.7 757.1)" text-anchor="middle">τ</text>
<text x="348.4" y="837.5" font-size="7.3" fill="#333" text-anchor="middle" textLength="3.6" lengthAdjust="spacingAndGlyphs">β</text>
<polyline fill="none" stroke="#000000" stroke-opacity="0.45" stroke-width="0.55" points="277.5,710.4 291.6,701.5 305.7,702.4 319.8,701.5 333.9,703.3 348.0,702.4 362.1,697.1 376.2,695.3 390.3,691.7 404.4,689.9"/>
<polyline fill="none" stroke="#FF80FF" stroke-opacity="0.45" stroke-width="0.55" points="277.5,811.7 291.6,811.9 305.7,812.4 319.8,811.3 333.9,811.5 348.0,811.7 362.1,811.2 376.2,811.5 390.3,811.5 404.4,811.2"/>
<polyline fill="none" stroke="#0000FF" stroke-opacity="0.45" stroke-width="0.55" points="277.5,712.2 291.6,707.8 305.7,706.9 319.8,705.1 333.9,707.8 348.0,706.0 362.1,700.6 376.2,698.9 390.3,696.2 404.4,698.0"/>
<polyline fill="none" stroke="#008080" stroke-opacity="0.45" stroke-width="0.55" points="277.5,711.3 291.6,704.2 305.7,704.2 319.8,703.3 333.9,706.0 348.0,705.1 362.1,699.7 376.2,697.1 390.3,693.5 404.4,692.6"/>
<polyline fill="none" stroke="#FF00FF" stroke-opacity="0.45" stroke-width="0.55" points="277.5,712.2 291.6,704.6 305.7,705.1 319.8,703.3 333.9,706.5 348.0,706.0 362.1,699.7 376.2,697.6 390.3,694.4 404.4,693.5"/>
<polyline fill="none" stroke="#808000" stroke-opacity="0.45" stroke-width="0.55" points="277.5,710.4 291.6,701.5 305.7,702.4 319.8,701.5 333.9,703.3 348.0,703.3 362.1,697.1 376.2,695.3 390.3,691.7 404.4,690.8"/>
<polyline fill="none" stroke="#000080" stroke-opacity="0.45" stroke-width="0.55" points="277.5,711.3 291.6,703.3 305.7,704.2 319.8,702.4 333.9,704.2 348.0,704.2 362.1,698.9 376.2,696.2 390.3,692.6 404.4,691.7"/>
<polyline fill="none" stroke="#800000" stroke-opacity="0.45" stroke-width="0.55" points="277.5,710.4 291.6,701.5 305.7,701.5 319.8,700.6 333.9,703.3 348.0,702.4 362.1,696.2 376.2,694.4 390.3,690.8 404.4,689.9"/>
<polyline fill="none" stroke="#FF0080" stroke-opacity="0.45" stroke-width="0.55" points="277.5,710.1 291.6,700.6 305.7,701.5 319.8,700.6 333.9,702.1 348.0,701.5 362.1,691.2 376.2,692.3 390.3,688.7 404.4,688.7"/>
<polyline fill="none" stroke="#008000" stroke-opacity="0.45" stroke-width="0.55" points="277.5,726.5 291.6,722.4 305.7,723.6 319.8,721.8 333.9,723.3 348.0,724.3 362.1,717.2 376.2,717.4 390.3,715.4 404.4,711.3"/>
<polyline fill="none" stroke="#FF0000" stroke-opacity="0.45" stroke-width="0.55" points="277.5,709.0 291.6,699.2 305.7,701.0 319.8,699.7 333.9,701.5 348.0,701.0 362.1,692.6 376.2,693.0 390.3,689.4 404.4,688.2"/>
<rect x="276.1" y="709.0" width="2.8" height="2.8" fill="#000000"/>
<rect x="290.2" y="700.1" width="2.8" height="2.8" fill="#000000"/>
<rect x="304.3" y="701.0" width="2.8" height="2.8" fill="#000000"/>
<rect x="318.4" y="700.1" width="2.8" height="2.8" fill="#000000"/>
<rect x="332.5" y="701.9" width="2.8" height="2.8" fill="#000000"/>
<rect x="346.6" y="701.0" width="2.8" height="2.8" fill="#000000"/>
<rect x="360.7" y="695.7" width="2.8" height="2.8" fill="#000000"/>
<rect x="374.8" y="693.9" width="2.8" height="2.8" fill="#000000"/>
<rect x="388.9" y="690.3" width="2.8" height="2.8" fill="#000000"/>
<rect x="403.0" y="688.5" width="2.8" height="2.8" fill="#000000"/>
<circle cx="277.5" cy="811.7" r="1.6" fill="#FF80FF"/>
<circle cx="291.6" cy="811.9" r="1.6" fill="#FF80FF"/>
<circle cx="305.7" cy="812.4" r="1.6" fill="#FF80FF"/>
<circle cx="319.8" cy="811.3" r="1.6" fill="#FF80FF"/>
<circle cx="333.9" cy="811.5" r="1.6" fill="#FF80FF"/>
<circle cx="348.0" cy="811.7" r="1.6" fill="#FF80FF"/>
<circle cx="362.1" cy="811.2" r="1.6" fill="#FF80FF"/>
<circle cx="376.2" cy="811.5" r="1.6" fill="#FF80FF"/>
<circle cx="390.3" cy="811.5" r="1.6" fill="#FF80FF"/>
<circle cx="404.4" cy="811.2" r="1.6" fill="#FF80FF"/>
<polygon points="277.5,710.1 279.5,713.5 275.5,713.5" fill="#0000FF"/>
<polygon points="291.6,705.7 293.6,709.0 289.6,709.0" fill="#0000FF"/>
<polygon points="305.7,704.8 307.7,708.1 303.7,708.1" fill="#0000FF"/>
<polygon points="319.8,703.0 321.8,706.3 317.8,706.3" fill="#0000FF"/>
<polygon points="333.9,705.7 335.9,709.0 331.9,709.0" fill="#0000FF"/>
<polygon points="348.0,703.9 350.0,707.2 346.0,707.2" fill="#0000FF"/>
<polygon points="362.1,698.6 364.1,701.9 360.1,701.9" fill="#0000FF"/>
<polygon points="376.2,696.8 378.2,700.1 374.2,700.1" fill="#0000FF"/>
<polygon points="390.3,694.1 392.3,697.4 388.3,697.4" fill="#0000FF"/>
<polygon points="404.4,695.9 406.4,699.2 402.4,699.2" fill="#0000FF"/>
<polygon points="277.5,713.4 279.5,710.1 275.5,710.1" fill="#008080"/>
<polygon points="291.6,706.3 293.6,703.0 289.6,703.0" fill="#008080"/>
<polygon points="305.7,706.3 307.7,703.0 303.7,703.0" fill="#008080"/>
<polygon points="319.8,705.4 321.8,702.1 317.8,702.1" fill="#008080"/>
<polygon points="333.9,708.1 335.9,704.7 331.9,704.7" fill="#008080"/>
<polygon points="348.0,707.2 350.0,703.8 346.0,703.8" fill="#008080"/>
<polygon points="362.1,701.8 364.1,698.5 360.1,698.5" fill="#008080"/>
<polygon points="376.2,699.2 378.2,695.8 374.2,695.8" fill="#008080"/>
<polygon points="390.3,695.6 392.3,692.3 388.3,692.3" fill="#008080"/>
<polygon points="404.4,694.7 406.4,691.4 402.4,691.4" fill="#008080"/>
<polygon points="275.4,712.2 278.7,710.2 278.7,714.2" fill="#FF00FF"/>
<polygon points="289.5,704.6 292.8,702.6 292.8,706.5" fill="#FF00FF"/>
<polygon points="303.6,705.1 306.9,703.1 306.9,707.1" fill="#FF00FF"/>
<polygon points="317.7,703.3 321.0,701.3 321.0,705.3" fill="#FF00FF"/>
<polygon points="331.8,706.5 335.1,704.5 335.1,708.5" fill="#FF00FF"/>
<polygon points="345.9,706.0 349.2,704.0 349.2,708.0" fill="#FF00FF"/>
<polygon points="360.0,699.7 363.3,697.8 363.3,701.7" fill="#FF00FF"/>
<polygon points="374.1,697.6 377.4,695.6 377.4,699.6" fill="#FF00FF"/>
<polygon points="388.2,694.4 391.5,692.4 391.5,696.4" fill="#FF00FF"/>
<polygon points="402.3,693.5 405.6,691.5 405.6,695.5" fill="#FF00FF"/>
<polygon points="279.6,710.4 276.3,708.5 276.3,712.4" fill="#808000"/>
<polygon points="293.7,701.5 290.4,699.6 290.4,703.5" fill="#808000"/>
<polygon points="307.8,702.4 304.5,700.4 304.5,704.4" fill="#808000"/>
<polygon points="321.9,701.5 318.6,699.6 318.6,703.5" fill="#808000"/>
<polygon points="336.0,703.3 332.7,701.3 332.7,705.3" fill="#808000"/>
<polygon points="350.1,703.3 346.8,701.3 346.8,705.3" fill="#808000"/>
<polygon points="364.2,697.1 360.9,695.1 360.9,699.0" fill="#808000"/>
<polygon points="378.3,695.3 375.0,693.3 375.0,697.3" fill="#808000"/>
<polygon points="392.4,691.7 389.1,689.7 389.1,693.7" fill="#808000"/>
<polygon points="406.5,690.8 403.2,688.9 403.2,692.8" fill="#808000"/>
<polygon points="277.5,709.3 279.2,711.3 277.5,713.4 275.8,711.3" fill="#000080"/>
<polygon points="291.6,701.2 293.3,703.3 291.6,705.4 289.9,703.3" fill="#000080"/>
<polygon points="305.7,702.1 307.4,704.2 305.7,706.3 304.0,704.2" fill="#000080"/>
<polygon points="319.8,700.3 321.5,702.4 319.8,704.5 318.1,702.4" fill="#000080"/>
<polygon points="333.9,702.1 335.6,704.2 333.9,706.3 332.2,704.2" fill="#000080"/>
<polygon points="348.0,702.1 349.7,704.2 348.0,706.3 346.3,704.2" fill="#000080"/>
<polygon points="362.1,696.8 363.8,698.9 362.1,700.9 360.4,698.9" fill="#000080"/>
<polygon points="376.2,694.1 377.9,696.2 376.2,698.3 374.5,696.2" fill="#000080"/>
<polygon points="390.3,690.5 392.0,692.6 390.3,694.7 388.6,692.6" fill="#000080"/>
<polygon points="404.4,689.6 406.1,691.7 404.4,693.8 402.7,691.7" fill="#000080"/>
<circle cx="277.5" cy="710.4" r="1.6" fill="#800000"/>
<circle cx="291.6" cy="701.5" r="1.6" fill="#800000"/>
<circle cx="305.7" cy="701.5" r="1.6" fill="#800000"/>
<circle cx="319.8" cy="700.6" r="1.6" fill="#800000"/>
<circle cx="333.9" cy="703.3" r="1.6" fill="#800000"/>
<circle cx="348.0" cy="702.4" r="1.6" fill="#800000"/>
<circle cx="362.1" cy="696.2" r="1.6" fill="#800000"/>
<circle cx="376.2" cy="694.4" r="1.6" fill="#800000"/>
<circle cx="390.3" cy="690.8" r="1.6" fill="#800000"/>
<circle cx="404.4" cy="689.9" r="1.6" fill="#800000"/>
<circle cx="277.5" cy="710.1" r="1.6" fill="#FF0080"/>
<circle cx="291.6" cy="700.6" r="1.6" fill="#FF0080"/>
<circle cx="305.7" cy="701.5" r="1.6" fill="#FF0080"/>
<circle cx="319.8" cy="700.6" r="1.6" fill="#FF0080"/>
<circle cx="333.9" cy="702.1" r="1.6" fill="#FF0080"/>
<circle cx="348.0" cy="701.5" r="1.6" fill="#FF0080"/>
<circle cx="362.1" cy="691.2" r="1.6" fill="#FF0080"/>
<circle cx="376.2" cy="692.3" r="1.6" fill="#FF0080"/>
<circle cx="390.3" cy="688.7" r="1.6" fill="#FF0080"/>
<circle cx="404.4" cy="688.7" r="1.6" fill="#FF0080"/>
<polygon points="277.5,724.3 278.1,725.7 279.6,725.8 278.4,726.8 278.8,728.3 277.5,727.4 276.2,728.3 276.6,726.8 275.4,725.8 276.9,725.7" fill="#008000"/>
<polygon points="291.6,720.2 292.2,721.6 293.7,721.7 292.5,722.7 292.9,724.2 291.6,723.3 290.3,724.2 290.7,722.7 289.5,721.7 291.0,721.6" fill="#008000"/>
<polygon points="305.7,721.4 306.3,722.9 307.8,723.0 306.6,723.9 307.0,725.4 305.7,724.6 304.4,725.4 304.8,723.9 303.6,723.0 305.1,722.9" fill="#008000"/>
<polygon points="319.8,719.7 320.4,721.1 321.9,721.2 320.7,722.1 321.1,723.6 319.8,722.8 318.5,723.6 318.9,722.1 317.7,721.2 319.2,721.1" fill="#008000"/>
<polygon points="333.9,721.1 334.5,722.5 336.0,722.6 334.8,723.6 335.2,725.0 333.9,724.2 332.6,725.0 333.0,723.6 331.8,722.6 333.3,722.5" fill="#008000"/>
<polygon points="348.0,722.2 348.6,723.6 350.1,723.7 348.9,724.6 349.3,726.1 348.0,725.3 346.7,726.1 347.1,724.6 345.9,723.7 347.4,723.6" fill="#008000"/>
<polygon points="362.1,715.0 362.7,716.5 364.2,716.5 363.0,717.5 363.4,719.0 362.1,718.2 360.8,719.0 361.2,717.5 360.0,716.5 361.5,716.5" fill="#008000"/>
<polygon points="376.2,715.2 376.8,716.6 378.3,716.7 377.1,717.7 377.5,719.2 376.2,718.3 374.9,719.2 375.3,717.7 374.1,716.7 375.6,716.6" fill="#008000"/>
<polygon points="390.3,713.2 390.9,714.7 392.4,714.8 391.2,715.7 391.6,717.2 390.3,716.4 389.0,717.2 389.4,715.7 388.2,714.8 389.7,714.7" fill="#008000"/>
<polygon points="404.4,709.1 405.0,710.6 406.5,710.7 405.3,711.6 405.7,713.1 404.4,712.3 403.1,713.1 403.5,711.6 402.3,710.7 403.8,710.6" fill="#008000"/>
<circle cx="277.5" cy="709.0" r="1.6" fill="#FF0000"/>
<line x1="277.3" y1="709.5" x2="278.4" y2="708.3" stroke="#fff" stroke-opacity="0.8" stroke-width="0.45"/>
<circle cx="291.6" cy="699.2" r="1.6" fill="#FF0000"/>
<line x1="291.4" y1="699.7" x2="292.5" y2="698.5" stroke="#fff" stroke-opacity="0.8" stroke-width="0.45"/>
<circle cx="305.7" cy="701.0" r="1.6" fill="#FF0000"/>
<line x1="305.5" y1="701.5" x2="306.6" y2="700.3" stroke="#fff" stroke-opacity="0.8" stroke-width="0.45"/>
<circle cx="319.8" cy="699.7" r="1.6" fill="#FF0000"/>
<line x1="319.6" y1="700.2" x2="320.7" y2="699.0" stroke="#fff" stroke-opacity="0.8" stroke-width="0.45"/>
<circle cx="333.9" cy="701.5" r="1.6" fill="#FF0000"/>
<line x1="333.7" y1="702.0" x2="334.8" y2="700.8" stroke="#fff" stroke-opacity="0.8" stroke-width="0.45"/>
<circle cx="348.0" cy="701.0" r="1.6" fill="#FF0000"/>
<line x1="347.8" y1="701.5" x2="348.9" y2="700.3" stroke="#fff" stroke-opacity="0.8" stroke-width="0.45"/>
<circle cx="362.1" cy="692.6" r="1.6" fill="#FF0000"/>
<line x1="361.9" y1="693.1" x2="363.0" y2="691.9" stroke="#fff" stroke-opacity="0.8" stroke-width="0.45"/>
<circle cx="376.2" cy="693.0" r="1.6" fill="#FF0000"/>
<line x1="376.0" y1="693.5" x2="377.1" y2="692.3" stroke="#fff" stroke-opacity="0.8" stroke-width="0.45"/>
<circle cx="390.3" cy="689.4" r="1.6" fill="#FF0000"/>
<line x1="390.1" y1="689.9" x2="391.2" y2="688.7" stroke="#fff" stroke-opacity="0.8" stroke-width="0.45"/>
<circle cx="404.4" cy="688.2" r="1.6" fill="#FF0000"/>
<line x1="404.2" y1="688.7" x2="405.3" y2="687.5" stroke="#fff" stroke-opacity="0.8" stroke-width="0.45"/>
<rect x="407.4" y="683.3" width="29.3" height="72.2" fill="#fff" stroke="#aaa" stroke-width="0.6"/>
<line x1="408.9" y1="687.7" x2="419.4" y2="687.7" stroke="#000000" stroke-opacity="0.35" stroke-width="0.6"/>
<rect x="412.2" y="686.2" width="3.0" height="3.0" fill="#000000"/>
<text x="420.7" y="689.8" font-size="6.3" text-anchor="start" fill="#3a3a3a" textLength="6.5" lengthAdjust="spacingAndGlyphs" stroke="#3a3a3a" stroke-width="0.0" >DC</text>
<line x1="408.9" y1="694.1" x2="419.4" y2="694.1" stroke="#FF80FF" stroke-opacity="0.35" stroke-width="0.6"/>
<circle cx="413.7" cy="694.1" r="1.6" fill="#FF80FF"/>
<text x="420.7" y="696.2" font-size="6.3" text-anchor="start" fill="#3a3a3a" textLength="15.0" lengthAdjust="spacingAndGlyphs" stroke="#3a3a3a" stroke-width="0.0" >K-shell</text>
<line x1="408.9" y1="700.6" x2="419.4" y2="700.6" stroke="#0000FF" stroke-opacity="0.35" stroke-width="0.6"/>
<polygon points="413.7,698.3 415.8,701.9 411.6,701.9" fill="#0000FF"/>
<text x="420.7" y="702.7" font-size="6.3" text-anchor="start" fill="#3a3a3a" textLength="6.5" lengthAdjust="spacingAndGlyphs" stroke="#3a3a3a" stroke-width="0.0" >PL</text>
<line x1="408.9" y1="707.0" x2="419.4" y2="707.0" stroke="#008080" stroke-opacity="0.35" stroke-width="0.6"/>
<polygon points="413.7,709.2 415.8,705.7 411.6,705.7" fill="#008080"/>
<text x="420.7" y="709.1" font-size="6.3" text-anchor="start" fill="#3a3a3a" textLength="13.8" lengthAdjust="spacingAndGlyphs" stroke="#3a3a3a" stroke-width="0.0" >ECRM</text>
<line x1="408.9" y1="713.4" x2="419.4" y2="713.4" stroke="#FF00FF" stroke-opacity="0.35" stroke-width="0.6"/>
<polygon points="411.5,713.4 415.0,711.3 415.0,715.5" fill="#FF00FF"/>
<text x="420.7" y="715.5" font-size="6.3" text-anchor="start" fill="#3a3a3a" textLength="10.5" lengthAdjust="spacingAndGlyphs" stroke="#3a3a3a" stroke-width="0.0" >GSM</text>
<line x1="408.9" y1="719.8" x2="419.4" y2="719.8" stroke="#808000" stroke-opacity="0.35" stroke-width="0.6"/>
<polygon points="415.9,719.8 412.4,717.8 412.4,721.9" fill="#808000"/>
<text x="420.7" y="721.9" font-size="6.3" text-anchor="start" fill="#3a3a3a" textLength="7.8" lengthAdjust="spacingAndGlyphs" stroke="#3a3a3a" stroke-width="0.0" >GSI</text>
<line x1="408.9" y1="726.3" x2="419.4" y2="726.3" stroke="#000080" stroke-opacity="0.35" stroke-width="0.6"/>
<polygon points="413.7,724.1 415.5,726.3 413.7,728.5 411.9,726.3" fill="#000080"/>
<text x="420.7" y="728.4" font-size="6.3" text-anchor="start" fill="#3a3a3a" textLength="14.5" lengthAdjust="spacingAndGlyphs" stroke="#3a3a3a" stroke-width="0.0" >MCGM</text>
<line x1="408.9" y1="732.7" x2="419.4" y2="732.7" stroke="#800000" stroke-opacity="0.35" stroke-width="0.6"/>
<circle cx="413.7" cy="732.7" r="1.6" fill="#800000"/>
<text x="420.7" y="734.8" font-size="6.3" text-anchor="start" fill="#3a3a3a" textLength="4.6" lengthAdjust="spacingAndGlyphs" stroke="#3a3a3a" stroke-width="0.0" >CI</text>
<line x1="408.9" y1="739.1" x2="419.4" y2="739.1" stroke="#FF0080" stroke-opacity="0.35" stroke-width="0.6"/>
<circle cx="413.7" cy="739.1" r="1.6" fill="#FF0080"/>
<text x="420.7" y="741.2" font-size="6.3" text-anchor="start" fill="#3a3a3a" textLength="13.0" lengthAdjust="spacingAndGlyphs" stroke="#3a3a3a" stroke-width="0.0" >HVGC</text>
<line x1="408.9" y1="745.6" x2="419.4" y2="745.6" stroke="#008000" stroke-opacity="0.35" stroke-width="0.6"/>
<polygon points="413.7,743.2 414.3,744.8 415.9,744.9 414.6,745.9 415.1,747.4 413.7,746.6 412.3,747.4 412.8,745.9 411.5,744.9 413.1,744.8" fill="#008000"/>
<text x="420.7" y="747.7" font-size="6.3" text-anchor="start" fill="#3a3a3a" textLength="13.8" lengthAdjust="spacingAndGlyphs" stroke="#3a3a3a" stroke-width="0.0" >CSRM</text>
<line x1="408.9" y1="752.0" x2="419.4" y2="752.0" stroke="#FF0000" stroke-opacity="0.35" stroke-width="0.6"/>
<circle cx="413.7" cy="752.0" r="1.6" fill="#FF0000"/>
<text x="420.7" y="754.1" font-size="6.3" text-anchor="start" fill="#3a3a3a" textLength="10.5" lengthAdjust="spacingAndGlyphs" stroke="#3a3a3a" stroke-width="0.0" >SGM</text>
<text x="343.9" y="875.0" style="font-family:Liberation Serif,serif" font-size="17.2" fill="#111" text-anchor="middle">(k) RA-1</text>
<line x1="510.0" y1="817.4" x2="510.0" y2="684.6" stroke="#aaa" stroke-width="0.8"/>
<line x1="510.0" y1="817.4" x2="671.2" y2="817.4" stroke="#555" stroke-width="0.8"/>
<line x1="510.0" y1="817.4" x2="510.0" y2="819.6" stroke="#444" stroke-width="0.75"/>
<text x="510.0" y="826.9" font-size="6.3" text-anchor="middle" fill="#2a2a2a" textLength="10.1" lengthAdjust="spacingAndGlyphs" stroke="#2a2a2a" stroke-width="0.1" >0.00</text>
<line x1="523.4" y1="817.4" x2="523.4" y2="818.7" stroke="#444" stroke-width="0.75"/>
<line x1="536.9" y1="817.4" x2="536.9" y2="819.6" stroke="#444" stroke-width="0.75"/>
<text x="536.9" y="826.9" font-size="6.3" text-anchor="middle" fill="#2a2a2a" textLength="10.1" lengthAdjust="spacingAndGlyphs" stroke="#2a2a2a" stroke-width="0.1" >0.02</text>
<line x1="550.3" y1="817.4" x2="550.3" y2="818.7" stroke="#444" stroke-width="0.75"/>
<line x1="563.7" y1="817.4" x2="563.7" y2="819.6" stroke="#444" stroke-width="0.75"/>
<text x="563.7" y="826.9" font-size="6.3" text-anchor="middle" fill="#2a2a2a" textLength="10.1" lengthAdjust="spacingAndGlyphs" stroke="#2a2a2a" stroke-width="0.1" >0.04</text>
<line x1="577.2" y1="817.4" x2="577.2" y2="818.7" stroke="#444" stroke-width="0.75"/>
<line x1="590.6" y1="817.4" x2="590.6" y2="819.6" stroke="#444" stroke-width="0.75"/>
<text x="590.6" y="826.9" font-size="6.3" text-anchor="middle" fill="#2a2a2a" textLength="10.1" lengthAdjust="spacingAndGlyphs" stroke="#2a2a2a" stroke-width="0.1" >0.06</text>
<line x1="604.0" y1="817.4" x2="604.0" y2="818.7" stroke="#444" stroke-width="0.75"/>
<line x1="617.5" y1="817.4" x2="617.5" y2="819.6" stroke="#444" stroke-width="0.75"/>
<text x="617.5" y="826.9" font-size="6.3" text-anchor="middle" fill="#2a2a2a" textLength="10.1" lengthAdjust="spacingAndGlyphs" stroke="#2a2a2a" stroke-width="0.1" >0.08</text>
<line x1="630.9" y1="817.4" x2="630.9" y2="818.7" stroke="#444" stroke-width="0.75"/>
<line x1="644.3" y1="817.4" x2="644.3" y2="819.6" stroke="#444" stroke-width="0.75"/>
<text x="644.3" y="826.9" font-size="6.3" text-anchor="middle" fill="#2a2a2a" textLength="10.1" lengthAdjust="spacingAndGlyphs" stroke="#2a2a2a" stroke-width="0.1" >0.10</text>
<line x1="657.8" y1="817.4" x2="657.8" y2="818.7" stroke="#444" stroke-width="0.75"/>
<line x1="671.2" y1="817.4" x2="671.2" y2="819.6" stroke="#444" stroke-width="0.75"/>
<text x="671.2" y="826.9" font-size="6.3" text-anchor="middle" fill="#2a2a2a" textLength="10.1" lengthAdjust="spacingAndGlyphs" stroke="#2a2a2a" stroke-width="0.1" >0.12</text>
<line x1="507.8" y1="817.4" x2="510.0" y2="817.4" stroke="#444" stroke-width="0.75"/>
<text x="505.9" y="818.9" font-size="6.3" text-anchor="end" fill="#2a2a2a" textLength="7.4" lengthAdjust="spacingAndGlyphs" stroke="#2a2a2a" stroke-width="0.1" >0.3</text>
<line x1="507.8" y1="795.3" x2="510.0" y2="795.3" stroke="#444" stroke-width="0.75"/>
<text x="505.9" y="796.8" font-size="6.3" text-anchor="end" fill="#2a2a2a" textLength="7.4" lengthAdjust="spacingAndGlyphs" stroke="#2a2a2a" stroke-width="0.1" >0.4</text>
<line x1="507.8" y1="773.1" x2="510.0" y2="773.1" stroke="#444" stroke-width="0.75"/>
<text x="505.9" y="774.6" font-size="6.3" text-anchor="end" fill="#2a2a2a" textLength="7.4" lengthAdjust="spacingAndGlyphs" stroke="#2a2a2a" stroke-width="0.1" >0.5</text>
<line x1="507.8" y1="751.0" x2="510.0" y2="751.0" stroke="#444" stroke-width="0.75"/>
<text x="505.9" y="752.5" font-size="6.3" text-anchor="end" fill="#2a2a2a" textLength="7.4" lengthAdjust="spacingAndGlyphs" stroke="#2a2a2a" stroke-width="0.1" >0.6</text>
<line x1="507.8" y1="728.9" x2="510.0" y2="728.9" stroke="#444" stroke-width="0.75"/>
<text x="505.9" y="730.4" font-size="6.3" text-anchor="end" fill="#2a2a2a" textLength="7.4" lengthAdjust="spacingAndGlyphs" stroke="#2a2a2a" stroke-width="0.1" >0.7</text>
<line x1="507.8" y1="706.7" x2="510.0" y2="706.7" stroke="#444" stroke-width="0.75"/>
<text x="505.9" y="708.2" font-size="6.3" text-anchor="end" fill="#2a2a2a" textLength="7.4" lengthAdjust="spacingAndGlyphs" stroke="#2a2a2a" stroke-width="0.1" >0.8</text>
<line x1="507.8" y1="684.6" x2="510.0" y2="684.6" stroke="#444" stroke-width="0.75"/>
<text x="505.9" y="686.1" font-size="6.3" text-anchor="end" fill="#2a2a2a" textLength="7.4" lengthAdjust="spacingAndGlyphs" stroke="#2a2a2a" stroke-width="0.1" >0.9</text>
<line x1="508.7" y1="806.3" x2="510.0" y2="806.3" stroke="#444" stroke-width="0.75"/>
<line x1="508.7" y1="784.2" x2="510.0" y2="784.2" stroke="#444" stroke-width="0.75"/>
<line x1="508.7" y1="762.1" x2="510.0" y2="762.1" stroke="#444" stroke-width="0.75"/>
<line x1="508.7" y1="739.9" x2="510.0" y2="739.9" stroke="#444" stroke-width="0.75"/>
<line x1="508.7" y1="717.8" x2="510.0" y2="717.8" stroke="#444" stroke-width="0.75"/>
<line x1="508.7" y1="695.7" x2="510.0" y2="695.7" stroke="#444" stroke-width="0.75"/>
<text x="490.1" y="757.8" font-size="8.8" fill="#3a3a3a" transform="rotate(-90 490.1 757.8)" text-anchor="middle">τ</text>
<text x="590.6" y="837.5" font-size="7.3" fill="#333" text-anchor="middle" textLength="3.6" lengthAdjust="spacingAndGlyphs">β</text>
<polyline fill="none" stroke="#000000" stroke-opacity="0.45" stroke-width="0.55" points="523.4,708.9 536.9,699.0 550.3,696.8 563.7,695.7 577.2,697.4 590.6,700.1 604.0,703.4 617.5,707.4 630.9,710.7 644.3,715.1"/>
<polyline fill="none" stroke="#FF80FF" stroke-opacity="0.45" stroke-width="0.55" points="523.4,797.5 536.9,794.8 550.3,794.2 563.7,793.1 577.2,792.6 590.6,792.6 604.0,793.1 617.5,793.1 630.9,793.5 644.3,794.2"/>
<polyline fill="none" stroke="#0000FF" stroke-opacity="0.45" stroke-width="0.55" points="523.4,713.4 536.9,705.6 550.3,700.1 563.7,696.1 577.2,693.5 590.6,693.9 604.0,697.2 617.5,701.2 630.9,704.5 644.3,708.3"/>
<polyline fill="none" stroke="#008080" stroke-opacity="0.45" stroke-width="0.55" points="523.4,712.3 536.9,704.5 550.3,699.0 563.7,693.5 577.2,691.7 590.6,692.1 604.0,693.0 617.5,693.9 630.9,695.0 644.3,696.8"/>
<polyline fill="none" stroke="#FF00FF" stroke-opacity="0.45" stroke-width="0.55" points="523.4,717.4 536.9,710.1 550.3,702.3 563.7,697.4 577.2,694.6 590.6,693.5 604.0,693.5 617.5,694.6 630.9,695.7 644.3,697.9"/>
<polyline fill="none" stroke="#808000" stroke-opacity="0.45" stroke-width="0.55" points="523.4,714.5 536.9,706.7 550.3,699.0 563.7,692.3 577.2,690.6 590.6,691.2 604.0,693.5 617.5,697.4 630.9,700.1 644.3,704.5"/>
<polyline fill="none" stroke="#000080" stroke-opacity="0.45" stroke-width="0.55" points="523.4,712.9 536.9,704.5 550.3,697.9 563.7,693.0 577.2,690.6 590.6,690.8 604.0,691.2 617.5,693.0 630.9,694.1 644.3,697.4"/>
<polyline fill="none" stroke="#800000" stroke-opacity="0.45" stroke-width="0.55" points="523.4,707.8 536.9,698.3 550.3,693.5 563.7,689.5 577.2,688.4 590.6,689.7 604.0,691.2 617.5,693.5 630.9,695.7 644.3,701.2"/>
<polyline fill="none" stroke="#FF0080" stroke-opacity="0.45" stroke-width="0.55" points="523.4,715.6 536.9,707.8 550.3,700.1 563.7,694.6 577.2,692.3 590.6,691.7 604.0,692.3 617.5,693.5 630.9,694.3 644.3,696.8"/>
<polyline fill="none" stroke="#008000" stroke-opacity="0.45" stroke-width="0.55" points="523.4,726.0 536.9,719.6 550.3,715.6 563.7,712.3 577.2,711.2 590.6,710.7 604.0,711.6 617.5,711.4 630.9,713.4 644.3,716.3"/>
<polyline fill="none" stroke="#FF0000" stroke-opacity="0.45" stroke-width="0.55" points="523.4,706.7 536.9,697.4 550.3,693.0 563.7,689.0 577.2,689.5 590.6,690.1 604.0,692.3 617.5,695.7 630.9,699.0 644.3,704.1"/>
<rect x="522.0" y="707.5" width="2.8" height="2.8" fill="#000000"/>
<rect x="535.5" y="697.6" width="2.8" height="2.8" fill="#000000"/>
<rect x="548.9" y="695.4" width="2.8" height="2.8" fill="#000000"/>
<rect x="562.3" y="694.3" width="2.8" height="2.8" fill="#000000"/>
<rect x="575.8" y="696.0" width="2.8" height="2.8" fill="#000000"/>
<rect x="589.2" y="698.7" width="2.8" height="2.8" fill="#000000"/>
<rect x="602.6" y="702.0" width="2.8" height="2.8" fill="#000000"/>
<rect x="616.1" y="706.0" width="2.8" height="2.8" fill="#000000"/>
<rect x="629.5" y="709.3" width="2.8" height="2.8" fill="#000000"/>
<rect x="642.9" y="713.7" width="2.8" height="2.8" fill="#000000"/>
<circle cx="523.4" cy="797.5" r="1.6" fill="#FF80FF"/>
<circle cx="536.9" cy="794.8" r="1.6" fill="#FF80FF"/>
<circle cx="550.3" cy="794.2" r="1.6" fill="#FF80FF"/>
<circle cx="563.7" cy="793.1" r="1.6" fill="#FF80FF"/>
<circle cx="577.2" cy="792.6" r="1.6" fill="#FF80FF"/>
<circle cx="590.6" cy="792.6" r="1.6" fill="#FF80FF"/>
<circle cx="604.0" cy="793.1" r="1.6" fill="#FF80FF"/>
<circle cx="617.5" cy="793.1" r="1.6" fill="#FF80FF"/>
<circle cx="630.9" cy="793.5" r="1.6" fill="#FF80FF"/>
<circle cx="644.3" cy="794.2" r="1.6" fill="#FF80FF"/>
<polygon points="523.4,711.3 525.4,714.6 521.5,714.6" fill="#0000FF"/>
<polygon points="536.9,703.5 538.8,706.9 534.9,706.9" fill="#0000FF"/>
<polygon points="550.3,698.0 552.3,701.3 548.3,701.3" fill="#0000FF"/>
<polygon points="563.7,694.0 565.7,697.4 561.8,697.4" fill="#0000FF"/>
<polygon points="577.2,691.4 579.1,694.7 575.2,694.7" fill="#0000FF"/>
<polygon points="590.6,691.8 592.6,695.1 588.6,695.1" fill="#0000FF"/>
<polygon points="604.0,695.1 606.0,698.5 602.1,698.5" fill="#0000FF"/>
<polygon points="617.5,699.1 619.4,702.4 615.5,702.4" fill="#0000FF"/>
<polygon points="630.9,702.4 632.9,705.8 628.9,705.8" fill="#0000FF"/>
<polygon points="644.3,706.2 646.3,709.5 642.4,709.5" fill="#0000FF"/>
<polygon points="523.4,714.3 525.4,711.0 521.5,711.0" fill="#008080"/>
<polygon points="536.9,706.6 538.8,703.3 534.9,703.3" fill="#008080"/>
<polygon points="550.3,701.1 552.3,697.7 548.3,697.7" fill="#008080"/>
<polygon points="563.7,695.5 565.7,692.2 561.8,692.2" fill="#008080"/>
<polygon points="577.2,693.8 579.1,690.4 575.2,690.4" fill="#008080"/>
<polygon points="590.6,694.2 592.6,690.9 588.6,690.9" fill="#008080"/>
<polygon points="604.0,695.1 606.0,691.8 602.1,691.8" fill="#008080"/>
<polygon points="617.5,696.0 619.4,692.6 615.5,692.6" fill="#008080"/>
<polygon points="630.9,697.1 632.9,693.8 628.9,693.8" fill="#008080"/>
<polygon points="644.3,698.9 646.3,695.5 642.4,695.5" fill="#008080"/>
<polygon points="521.4,717.4 524.7,715.4 524.7,719.3" fill="#FF00FF"/>
<polygon points="534.8,710.1 538.1,708.1 538.1,712.0" fill="#FF00FF"/>
<polygon points="548.2,702.3 551.5,700.3 551.5,704.3" fill="#FF00FF"/>
<polygon points="561.7,697.4 565.0,695.5 565.0,699.4" fill="#FF00FF"/>
<polygon points="575.1,694.6 578.4,692.6 578.4,696.5" fill="#FF00FF"/>
<polygon points="588.5,693.5 591.8,691.5 591.8,695.4" fill="#FF00FF"/>
<polygon points="602.0,693.5 605.3,691.5 605.3,695.4" fill="#FF00FF"/>
<polygon points="615.4,694.6 618.7,692.6 618.7,696.5" fill="#FF00FF"/>
<polygon points="628.8,695.7 632.1,693.7 632.1,697.6" fill="#FF00FF"/>
<polygon points="642.3,697.9 645.6,695.9 645.6,699.9" fill="#FF00FF"/>
<polygon points="525.5,714.5 522.2,712.5 522.2,716.5" fill="#808000"/>
<polygon points="538.9,706.7 535.6,704.8 535.6,708.7" fill="#808000"/>
<polygon points="552.4,699.0 549.1,697.0 549.1,701.0" fill="#808000"/>
<polygon points="565.8,692.3 562.5,690.4 562.5,694.3" fill="#808000"/>
<polygon points="579.2,690.6 575.9,688.6 575.9,692.6" fill="#808000"/>
<polygon points="592.7,691.2 589.4,689.3 589.4,693.2" fill="#808000"/>
<polygon points="606.1,693.5 602.8,691.5 602.8,695.4" fill="#808000"/>
<polygon points="619.5,697.4 616.2,695.5 616.2,699.4" fill="#808000"/>
<polygon points="633.0,700.1 629.7,698.1 629.7,702.1" fill="#808000"/>
<polygon points="646.4,704.5 643.1,702.5 643.1,706.5" fill="#808000"/>
<polygon points="523.4,710.9 525.1,712.9 523.4,715.0 521.8,712.9" fill="#000080"/>
<polygon points="536.9,702.4 538.5,704.5 536.9,706.6 535.2,704.5" fill="#000080"/>
<polygon points="550.3,695.8 552.0,697.9 550.3,700.0 548.6,697.9" fill="#000080"/>
<polygon points="563.7,690.9 565.4,693.0 563.7,695.1 562.1,693.0" fill="#000080"/>
<polygon points="577.2,688.5 578.8,690.6 577.2,692.7 575.5,690.6" fill="#000080"/>
<polygon points="590.6,688.7 592.3,690.8 590.6,692.9 588.9,690.8" fill="#000080"/>
<polygon points="604.0,689.2 605.7,691.2 604.0,693.3 602.4,691.2" fill="#000080"/>
<polygon points="617.5,690.9 619.1,693.0 617.5,695.1 615.8,693.0" fill="#000080"/>
<polygon points="630.9,692.0 632.6,694.1 630.9,696.2 629.2,694.1" fill="#000080"/>
<polygon points="644.3,695.4 646.0,697.4 644.3,699.5 642.7,697.4" fill="#000080"/>
<circle cx="523.4" cy="707.8" r="1.6" fill="#800000"/>
<circle cx="536.9" cy="698.3" r="1.6" fill="#800000"/>
<circle cx="550.3" cy="693.5" r="1.6" fill="#800000"/>
<circle cx="563.7" cy="689.5" r="1.6" fill="#800000"/>
<circle cx="577.2" cy="688.4" r="1.6" fill="#800000"/>
<circle cx="590.6" cy="689.7" r="1.6" fill="#800000"/>
<circle cx="604.0" cy="691.2" r="1.6" fill="#800000"/>
<circle cx="617.5" cy="693.5" r="1.6" fill="#800000"/>
<circle cx="630.9" cy="695.7" r="1.6" fill="#800000"/>
<circle cx="644.3" cy="701.2" r="1.6" fill="#800000"/>
<circle cx="523.4" cy="715.6" r="1.6" fill="#FF0080"/>
<circle cx="536.9" cy="707.8" r="1.6" fill="#FF0080"/>
<circle cx="550.3" cy="700.1" r="1.6" fill="#FF0080"/>
<circle cx="563.7" cy="694.6" r="1.6" fill="#FF0080"/>
<circle cx="577.2" cy="692.3" r="1.6" fill="#FF0080"/>
<circle cx="590.6" cy="691.7" r="1.6" fill="#FF0080"/>
<circle cx="604.0" cy="692.3" r="1.6" fill="#FF0080"/>
<circle cx="617.5" cy="693.5" r="1.6" fill="#FF0080"/>
<circle cx="630.9" cy="694.3" r="1.6" fill="#FF0080"/>
<circle cx="644.3" cy="696.8" r="1.6" fill="#FF0080"/>
<polygon points="523.4,723.8 524.0,725.2 525.5,725.3 524.3,726.3 524.7,727.8 523.4,726.9 522.1,727.8 522.5,726.3 521.4,725.3 522.9,725.2" fill="#008000"/>
<polygon points="536.9,717.4 537.4,718.8 538.9,718.9 537.8,719.9 538.2,721.3 536.9,720.5 535.6,721.3 536.0,719.9 534.8,718.9 536.3,718.8" fill="#008000"/>
<polygon points="550.3,713.4 550.9,714.8 552.4,714.9 551.2,715.9 551.6,717.4 550.3,716.5 549.0,717.4 549.4,715.9 548.2,714.9 549.7,714.8" fill="#008000"/>
<polygon points="563.7,710.1 564.3,711.5 565.8,711.6 564.6,712.6 565.0,714.0 563.7,713.2 562.4,714.0 562.8,712.6 561.7,711.6 563.2,711.5" fill="#008000"/>
<polygon points="577.2,709.0 577.7,710.4 579.2,710.5 578.1,711.4 578.5,712.9 577.2,712.1 575.9,712.9 576.3,711.4 575.1,710.5 576.6,710.4" fill="#008000"/>
<polygon points="590.6,708.5 591.2,710.0 592.7,710.0 591.5,711.0 591.9,712.5 590.6,711.7 589.3,712.5 589.7,711.0 588.5,710.0 590.0,710.0" fill="#008000"/>
<polygon points="604.0,709.4 604.6,710.8 606.1,710.9 604.9,711.9 605.3,713.4 604.0,712.5 602.7,713.4 603.1,711.9 602.0,710.9 603.5,710.8" fill="#008000"/>
<polygon points="617.5,709.2 618.0,710.6 619.5,710.7 618.4,711.7 618.8,713.1 617.5,712.3 616.2,713.1 616.6,711.7 615.4,710.7 616.9,710.6" fill="#008000"/>
<polygon points="630.9,711.2 631.5,712.6 633.0,712.7 631.8,713.7 632.2,715.1 630.9,714.3 629.6,715.1 630.0,713.7 628.8,712.7 630.3,712.6" fill="#008000"/>
<polygon points="644.3,714.1 644.9,715.5 646.4,715.6 645.2,716.5 645.6,718.0 644.3,717.2 643.0,718.0 643.4,716.5 642.3,715.6 643.8,715.5" fill="#008000"/>
<circle cx="523.4" cy="706.7" r="1.6" fill="#FF0000"/>
<line x1="523.2" y1="707.2" x2="524.3" y2="706.0" stroke="#fff" stroke-opacity="0.8" stroke-width="0.45"/>
<circle cx="536.9" cy="697.4" r="1.6" fill="#FF0000"/>
<line x1="536.7" y1="697.9" x2="537.8" y2="696.7" stroke="#fff" stroke-opacity="0.8" stroke-width="0.45"/>
<circle cx="550.3" cy="693.0" r="1.6" fill="#FF0000"/>
<line x1="550.1" y1="693.5" x2="551.2" y2="692.3" stroke="#fff" stroke-opacity="0.8" stroke-width="0.45"/>
<circle cx="563.7" cy="689.0" r="1.6" fill="#FF0000"/>
<line x1="563.5" y1="689.5" x2="564.6" y2="688.3" stroke="#fff" stroke-opacity="0.8" stroke-width="0.45"/>
<circle cx="577.2" cy="689.5" r="1.6" fill="#FF0000"/>
<line x1="577.0" y1="690.0" x2="578.1" y2="688.8" stroke="#fff" stroke-opacity="0.8" stroke-width="0.45"/>
<circle cx="590.6" cy="690.1" r="1.6" fill="#FF0000"/>
<line x1="590.4" y1="690.6" x2="591.5" y2="689.4" stroke="#fff" stroke-opacity="0.8" stroke-width="0.45"/>
<circle cx="604.0" cy="692.3" r="1.6" fill="#FF0000"/>
<line x1="603.8" y1="692.8" x2="604.9" y2="691.6" stroke="#fff" stroke-opacity="0.8" stroke-width="0.45"/>
<circle cx="617.5" cy="695.7" r="1.6" fill="#FF0000"/>
<line x1="617.3" y1="696.2" x2="618.4" y2="695.0" stroke="#fff" stroke-opacity="0.8" stroke-width="0.45"/>
<circle cx="630.9" cy="699.0" r="1.6" fill="#FF0000"/>
<line x1="630.7" y1="699.5" x2="631.8" y2="698.3" stroke="#fff" stroke-opacity="0.8" stroke-width="0.45"/>
<circle cx="644.3" cy="704.1" r="1.6" fill="#FF0000"/>
<line x1="644.1" y1="704.6" x2="645.2" y2="703.4" stroke="#fff" stroke-opacity="0.8" stroke-width="0.45"/>
<rect x="647.2" y="683.8" width="27.8" height="72.2" fill="#fff" stroke="#aaa" stroke-width="0.6"/>
<line x1="648.7" y1="688.2" x2="658.5" y2="688.2" stroke="#000000" stroke-opacity="0.35" stroke-width="0.6"/>
<rect x="651.7" y="686.7" width="3.0" height="3.0" fill="#000000"/>
<text x="659.8" y="690.3" font-size="6.3" text-anchor="start" fill="#3a3a3a" textLength="6.5" lengthAdjust="spacingAndGlyphs" stroke="#3a3a3a" stroke-width="0.0" >DC</text>
<line x1="648.7" y1="694.6" x2="658.5" y2="694.6" stroke="#FF80FF" stroke-opacity="0.35" stroke-width="0.6"/>
<circle cx="653.2" cy="694.6" r="1.6" fill="#FF80FF"/>
<text x="659.8" y="696.7" font-size="6.3" text-anchor="start" fill="#3a3a3a" textLength="15.0" lengthAdjust="spacingAndGlyphs" stroke="#3a3a3a" stroke-width="0.0" >K-shell</text>
<line x1="648.7" y1="701.1" x2="658.5" y2="701.1" stroke="#0000FF" stroke-opacity="0.35" stroke-width="0.6"/>
<polygon points="653.2,698.8 655.3,702.4 651.1,702.4" fill="#0000FF"/>
<text x="659.8" y="703.2" font-size="6.3" text-anchor="start" fill="#3a3a3a" textLength="6.5" lengthAdjust="spacingAndGlyphs" stroke="#3a3a3a" stroke-width="0.0" >PL</text>
<line x1="648.7" y1="707.5" x2="658.5" y2="707.5" stroke="#008080" stroke-opacity="0.35" stroke-width="0.6"/>
<polygon points="653.2,709.7 655.3,706.2 651.1,706.2" fill="#008080"/>
<text x="659.8" y="709.6" font-size="6.3" text-anchor="start" fill="#3a3a3a" textLength="13.8" lengthAdjust="spacingAndGlyphs" stroke="#3a3a3a" stroke-width="0.0" >ECRM</text>
<line x1="648.7" y1="713.9" x2="658.5" y2="713.9" stroke="#FF00FF" stroke-opacity="0.35" stroke-width="0.6"/>
<polygon points="651.0,713.9 654.5,711.8 654.5,716.0" fill="#FF00FF"/>
<text x="659.8" y="716.0" font-size="6.3" text-anchor="start" fill="#3a3a3a" textLength="10.5" lengthAdjust="spacingAndGlyphs" stroke="#3a3a3a" stroke-width="0.0" >GSM</text>
<line x1="648.7" y1="720.3" x2="658.5" y2="720.3" stroke="#808000" stroke-opacity="0.35" stroke-width="0.6"/>
<polygon points="655.4,720.3 651.9,718.3 651.9,722.4" fill="#808000"/>
<text x="659.8" y="722.4" font-size="6.3" text-anchor="start" fill="#3a3a3a" textLength="7.8" lengthAdjust="spacingAndGlyphs" stroke="#3a3a3a" stroke-width="0.0" >GSI</text>
<line x1="648.7" y1="726.8" x2="658.5" y2="726.8" stroke="#000080" stroke-opacity="0.35" stroke-width="0.6"/>
<polygon points="653.2,724.6 654.9,726.8 653.2,729.0 651.4,726.8" fill="#000080"/>
<text x="659.8" y="728.9" font-size="6.3" text-anchor="start" fill="#3a3a3a" textLength="14.5" lengthAdjust="spacingAndGlyphs" stroke="#3a3a3a" stroke-width="0.0" >MCGM</text>
<line x1="648.7" y1="733.2" x2="658.5" y2="733.2" stroke="#800000" stroke-opacity="0.35" stroke-width="0.6"/>
<circle cx="653.2" cy="733.2" r="1.6" fill="#800000"/>
<text x="659.8" y="735.3" font-size="6.3" text-anchor="start" fill="#3a3a3a" textLength="4.6" lengthAdjust="spacingAndGlyphs" stroke="#3a3a3a" stroke-width="0.0" >CI</text>
<line x1="648.7" y1="739.6" x2="658.5" y2="739.6" stroke="#FF0080" stroke-opacity="0.35" stroke-width="0.6"/>
<circle cx="653.2" cy="739.6" r="1.6" fill="#FF0080"/>
<text x="659.8" y="741.7" font-size="6.3" text-anchor="start" fill="#3a3a3a" textLength="13.0" lengthAdjust="spacingAndGlyphs" stroke="#3a3a3a" stroke-width="0.0" >HVGC</text>
<line x1="648.7" y1="746.1" x2="658.5" y2="746.1" stroke="#008000" stroke-opacity="0.35" stroke-width="0.6"/>
<polygon points="653.2,743.7 653.8,745.3 655.4,745.4 654.1,746.4 654.5,747.9 653.2,747.1 651.8,747.9 652.2,746.4 651.0,745.4 652.6,745.3" fill="#008000"/>
<text x="659.8" y="748.2" font-size="6.3" text-anchor="start" fill="#3a3a3a" textLength="13.8" lengthAdjust="spacingAndGlyphs" stroke="#3a3a3a" stroke-width="0.0" >CSRM</text>
<line x1="648.7" y1="752.5" x2="658.5" y2="752.5" stroke="#FF0000" stroke-opacity="0.35" stroke-width="0.6"/>
<circle cx="653.2" cy="752.5" r="1.6" fill="#FF0000"/>
<text x="659.8" y="754.6" font-size="6.3" text-anchor="start" fill="#3a3a3a" textLength="10.5" lengthAdjust="spacingAndGlyphs" stroke="#3a3a3a" stroke-width="0.0" >SGM</text>
<text x="573.7" y="875.0" style="font-family:Liberation Serif,serif" font-size="17.2" fill="#111" text-anchor="middle">(l) RA-2</text>
<line x1="27.4" y1="1047.4" x2="27.4" y2="916.6" stroke="#555" stroke-width="0.8"/>
<line x1="27.4" y1="1047.4" x2="186.0" y2="1047.4" stroke="#555" stroke-width="0.8"/>
<line x1="27.4" y1="1047.4" x2="27.4" y2="1049.6" stroke="#444" stroke-width="0.75"/>
<text x="27.4" y="1056.9" font-size="6.3" text-anchor="middle" fill="#2a2a2a" textLength="10.1" lengthAdjust="spacingAndGlyphs" stroke="#2a2a2a" stroke-width="0.1" >0.00</text>
<line x1="40.6" y1="1047.4" x2="40.6" y2="1048.7" stroke="#444" stroke-width="0.75"/>
<line x1="53.8" y1="1047.4" x2="53.8" y2="1049.6" stroke="#444" stroke-width="0.75"/>
<text x="53.8" y="1056.9" font-size="6.3" text-anchor="middle" fill="#2a2a2a" textLength="10.1" lengthAdjust="spacingAndGlyphs" stroke="#2a2a2a" stroke-width="0.1" >0.02</text>
<line x1="67.0" y1="1047.4" x2="67.0" y2="1048.7" stroke="#444" stroke-width="0.75"/>
<line x1="80.3" y1="1047.4" x2="80.3" y2="1049.6" stroke="#444" stroke-width="0.75"/>
<text x="80.3" y="1056.9" font-size="6.3" text-anchor="middle" fill="#2a2a2a" textLength="10.1" lengthAdjust="spacingAndGlyphs" stroke="#2a2a2a" stroke-width="0.1" >0.04</text>
<line x1="93.5" y1="1047.4" x2="93.5" y2="1048.7" stroke="#444" stroke-width="0.75"/>
<line x1="106.7" y1="1047.4" x2="106.7" y2="1049.6" stroke="#444" stroke-width="0.75"/>
<text x="106.7" y="1056.9" font-size="6.3" text-anchor="middle" fill="#2a2a2a" textLength="10.1" lengthAdjust="spacingAndGlyphs" stroke="#2a2a2a" stroke-width="0.1" >0.06</text>
<line x1="119.9" y1="1047.4" x2="119.9" y2="1048.7" stroke="#444" stroke-width="0.75"/>
<line x1="133.1" y1="1047.4" x2="133.1" y2="1049.6" stroke="#444" stroke-width="0.75"/>
<text x="133.1" y="1056.9" font-size="6.3" text-anchor="middle" fill="#2a2a2a" textLength="10.1" lengthAdjust="spacingAndGlyphs" stroke="#2a2a2a" stroke-width="0.1" >0.08</text>
<line x1="146.3" y1="1047.4" x2="146.3" y2="1048.7" stroke="#444" stroke-width="0.75"/>
<line x1="159.6" y1="1047.4" x2="159.6" y2="1049.6" stroke="#444" stroke-width="0.75"/>
<text x="159.6" y="1056.9" font-size="6.3" text-anchor="middle" fill="#2a2a2a" textLength="10.1" lengthAdjust="spacingAndGlyphs" stroke="#2a2a2a" stroke-width="0.1" >0.10</text>
<line x1="172.8" y1="1047.4" x2="172.8" y2="1048.7" stroke="#444" stroke-width="0.75"/>
<line x1="186.0" y1="1047.4" x2="186.0" y2="1049.6" stroke="#444" stroke-width="0.75"/>
<text x="186.0" y="1056.9" font-size="6.3" text-anchor="middle" fill="#2a2a2a" textLength="10.1" lengthAdjust="spacingAndGlyphs" stroke="#2a2a2a" stroke-width="0.1" >0.12</text>
<line x1="25.2" y1="1047.4" x2="27.4" y2="1047.4" stroke="#444" stroke-width="0.75"/>
<text x="23.3" y="1048.9" font-size="6.3" text-anchor="end" fill="#2a2a2a" textLength="7.4" lengthAdjust="spacingAndGlyphs" stroke="#2a2a2a" stroke-width="0.1" >0.2</text>
<line x1="25.2" y1="1028.7" x2="27.4" y2="1028.7" stroke="#444" stroke-width="0.75"/>
<text x="23.3" y="1030.2" font-size="6.3" text-anchor="end" fill="#2a2a2a" textLength="7.4" lengthAdjust="spacingAndGlyphs" stroke="#2a2a2a" stroke-width="0.1" >0.3</text>
<line x1="25.2" y1="1010.0" x2="27.4" y2="1010.0" stroke="#444" stroke-width="0.75"/>
<text x="23.3" y="1011.5" font-size="6.3" text-anchor="end" fill="#2a2a2a" textLength="7.4" lengthAdjust="spacingAndGlyphs" stroke="#2a2a2a" stroke-width="0.1" >0.4</text>
<line x1="25.2" y1="991.3" x2="27.4" y2="991.3" stroke="#444" stroke-width="0.75"/>
<text x="23.3" y="992.8" font-size="6.3" text-anchor="end" fill="#2a2a2a" textLength="7.4" lengthAdjust="spacingAndGlyphs" stroke="#2a2a2a" stroke-width="0.1" >0.5</text>
<line x1="25.2" y1="972.7" x2="27.4" y2="972.7" stroke="#444" stroke-width="0.75"/>
<text x="23.3" y="974.2" font-size="6.3" text-anchor="end" fill="#2a2a2a" textLength="7.4" lengthAdjust="spacingAndGlyphs" stroke="#2a2a2a" stroke-width="0.1" >0.6</text>
<line x1="25.2" y1="954.0" x2="27.4" y2="954.0" stroke="#444" stroke-width="0.75"/>
<text x="23.3" y="955.5" font-size="6.3" text-anchor="end" fill="#2a2a2a" textLength="7.4" lengthAdjust="spacingAndGlyphs" stroke="#2a2a2a" stroke-width="0.1" >0.7</text>
<line x1="25.2" y1="935.3" x2="27.4" y2="935.3" stroke="#444" stroke-width="0.75"/>
<text x="23.3" y="936.8" font-size="6.3" text-anchor="end" fill="#2a2a2a" textLength="7.4" lengthAdjust="spacingAndGlyphs" stroke="#2a2a2a" stroke-width="0.1" >0.8</text>
<line x1="25.2" y1="916.6" x2="27.4" y2="916.6" stroke="#444" stroke-width="0.75"/>
<text x="23.3" y="918.1" font-size="6.3" text-anchor="end" fill="#2a2a2a" textLength="7.4" lengthAdjust="spacingAndGlyphs" stroke="#2a2a2a" stroke-width="0.1" >0.9</text>
<line x1="26.1" y1="1038.1" x2="27.4" y2="1038.1" stroke="#444" stroke-width="0.75"/>
<line x1="26.1" y1="1019.4" x2="27.4" y2="1019.4" stroke="#444" stroke-width="0.75"/>
<line x1="26.1" y1="1000.7" x2="27.4" y2="1000.7" stroke="#444" stroke-width="0.75"/>
<line x1="26.1" y1="982.0" x2="27.4" y2="982.0" stroke="#444" stroke-width="0.75"/>
<line x1="26.1" y1="963.3" x2="27.4" y2="963.3" stroke="#444" stroke-width="0.75"/>
<line x1="26.1" y1="944.6" x2="27.4" y2="944.6" stroke="#444" stroke-width="0.75"/>
<line x1="26.1" y1="925.9" x2="27.4" y2="925.9" stroke="#444" stroke-width="0.75"/>
<text x="7.9" y="988.8" font-size="8.8" fill="#3a3a3a" transform="rotate(-90 7.9 988.8)" text-anchor="middle">τ</text>
<text x="106.6" y="1067.5" font-size="7.3" fill="#333" text-anchor="middle" textLength="3.6" lengthAdjust="spacingAndGlyphs">β</text>
<polyline fill="none" stroke="#000000" stroke-opacity="0.45" stroke-width="0.55" points="40.6,937.2 53.8,928.7 67.0,925.9 80.3,925.9 93.5,926.9 106.7,928.7 119.9,931.2 133.1,933.4 146.3,936.2 159.6,939.4"/>
<polyline fill="none" stroke="#FF80FF" stroke-opacity="0.45" stroke-width="0.55" points="40.6,1042.4 53.8,1041.4 67.0,1041.0 80.3,1040.9 93.5,1041.0 106.7,1040.9 119.9,1040.7 133.1,1040.9 146.3,1041.0 159.6,1041.2"/>
<polyline fill="none" stroke="#0000FF" stroke-opacity="0.45" stroke-width="0.55" points="40.6,941.8 53.8,934.4 67.0,929.7 80.3,925.9 93.5,924.1 106.7,923.7 119.9,923.7 133.1,925.0 146.3,927.8 159.6,930.6"/>
<polyline fill="none" stroke="#008080" stroke-opacity="0.45" stroke-width="0.55" points="40.6,943.7 53.8,937.2 67.0,929.7 80.3,926.9 93.5,925.0 106.7,923.1 119.9,922.2 133.1,922.2 146.3,922.8 159.6,924.1"/>
<polyline fill="none" stroke="#FF00FF" stroke-opacity="0.45" stroke-width="0.55" points="40.6,947.4 53.8,940.9 67.0,935.3 80.3,930.6 93.5,928.7 106.7,926.9 119.9,924.1 133.1,923.1 146.3,923.1 159.6,924.1"/>
<polyline fill="none" stroke="#808000" stroke-opacity="0.45" stroke-width="0.55" points="40.6,942.8 53.8,935.3 67.0,928.7 80.3,925.0 93.5,923.1 106.7,921.6 119.9,921.3 133.1,921.3 146.3,922.2 159.6,923.7"/>
<polyline fill="none" stroke="#000080" stroke-opacity="0.45" stroke-width="0.55" points="40.6,941.8 53.8,934.4 67.0,926.9 80.3,924.1 93.5,923.1 106.7,921.3 119.9,920.3 133.1,920.0 146.3,920.3 159.6,922.2"/>
<polyline fill="none" stroke="#800000" stroke-opacity="0.45" stroke-width="0.55" points="40.6,937.2 53.8,927.8 67.0,923.1 80.3,921.3 93.5,920.7 106.7,920.3 119.9,920.3 133.1,921.3 146.3,923.1 159.6,925.0"/>
<polyline fill="none" stroke="#FF0080" stroke-opacity="0.45" stroke-width="0.55" points="40.6,944.6 53.8,937.2 67.0,930.6 80.3,926.9 93.5,925.0 106.7,922.2 119.9,921.3 133.1,920.7 146.3,921.3 159.6,923.1"/>
<polyline fill="none" stroke="#008000" stroke-opacity="0.45" stroke-width="0.55" points="40.6,953.4 53.8,947.8 67.0,944.3 80.3,942.2 93.5,940.9 106.7,939.8 119.9,938.6 133.1,939.8 146.3,940.1 159.6,940.0"/>
<polyline fill="none" stroke="#FF0000" stroke-opacity="0.45" stroke-width="0.55" points="40.6,935.3 53.8,926.9 67.0,922.2 80.3,920.0 93.5,919.8 106.7,919.0 119.9,919.4 133.1,921.6 146.3,925.0 159.6,928.7"/>
<rect x="39.2" y="935.7" width="2.8" height="2.8" fill="#000000"/>
<rect x="52.4" y="927.3" width="2.8" height="2.8" fill="#000000"/>
<rect x="65.6" y="924.5" width="2.8" height="2.8" fill="#000000"/>
<rect x="78.9" y="924.5" width="2.8" height="2.8" fill="#000000"/>
<rect x="92.1" y="925.5" width="2.8" height="2.8" fill="#000000"/>
<rect x="105.3" y="927.3" width="2.8" height="2.8" fill="#000000"/>
<rect x="118.5" y="929.8" width="2.8" height="2.8" fill="#000000"/>
<rect x="131.7" y="932.0" width="2.8" height="2.8" fill="#000000"/>
<rect x="144.9" y="934.8" width="2.8" height="2.8" fill="#000000"/>
<rect x="158.2" y="938.0" width="2.8" height="2.8" fill="#000000"/>
<circle cx="40.6" cy="1042.4" r="1.6" fill="#FF80FF"/>
<circle cx="53.8" cy="1041.4" r="1.6" fill="#FF80FF"/>
<circle cx="67.0" cy="1041.0" r="1.6" fill="#FF80FF"/>
<circle cx="80.3" cy="1040.9" r="1.6" fill="#FF80FF"/>
<circle cx="93.5" cy="1041.0" r="1.6" fill="#FF80FF"/>
<circle cx="106.7" cy="1040.9" r="1.6" fill="#FF80FF"/>
<circle cx="119.9" cy="1040.7" r="1.6" fill="#FF80FF"/>
<circle cx="133.1" cy="1040.9" r="1.6" fill="#FF80FF"/>
<circle cx="146.3" cy="1041.0" r="1.6" fill="#FF80FF"/>
<circle cx="159.6" cy="1041.2" r="1.6" fill="#FF80FF"/>
<polygon points="40.6,939.7 42.6,943.1 38.6,943.1" fill="#0000FF"/>
<polygon points="53.8,932.3 55.8,935.6 51.9,935.6" fill="#0000FF"/>
<polygon points="67.0,927.6 69.0,930.9 65.1,930.9" fill="#0000FF"/>
<polygon points="80.3,923.9 82.2,927.2 78.3,927.2" fill="#0000FF"/>
<polygon points="93.5,922.0 95.5,925.3 91.5,925.3" fill="#0000FF"/>
<polygon points="106.7,921.6 108.7,924.9 104.7,924.9" fill="#0000FF"/>
<polygon points="119.9,921.6 121.9,924.9 117.9,924.9" fill="#0000FF"/>
<polygon points="133.1,922.9 135.1,926.3 131.2,926.3" fill="#0000FF"/>
<polygon points="146.3,925.7 148.3,929.1 144.4,929.1" fill="#0000FF"/>
<polygon points="159.6,928.5 161.5,931.9 157.6,931.9" fill="#0000FF"/>
<polygon points="40.6,945.8 42.6,942.4 38.6,942.4" fill="#008080"/>
<polygon points="53.8,939.2 55.8,935.9 51.9,935.9" fill="#008080"/>
<polygon points="67.0,931.8 69.0,928.4 65.1,928.4" fill="#008080"/>
<polygon points="80.3,929.0 82.2,925.6 78.3,925.6" fill="#008080"/>
<polygon points="93.5,927.1 95.5,923.8 91.5,923.8" fill="#008080"/>
<polygon points="106.7,925.2 108.7,921.9 104.7,921.9" fill="#008080"/>
<polygon points="119.9,924.3 121.9,921.0 117.9,921.0" fill="#008080"/>
<polygon points="133.1,924.3 135.1,921.0 131.2,921.0" fill="#008080"/>
<polygon points="146.3,924.8 148.3,921.5 144.4,921.5" fill="#008080"/>
<polygon points="159.6,926.2 161.5,922.8 157.6,922.8" fill="#008080"/>
<polygon points="38.5,947.4 41.9,945.5 41.9,949.4" fill="#FF00FF"/>
<polygon points="51.8,940.9 55.1,938.9 55.1,942.9" fill="#FF00FF"/>
<polygon points="65.0,935.3 68.3,933.3 68.3,937.3" fill="#FF00FF"/>
<polygon points="78.2,930.6 81.5,928.6 81.5,932.6" fill="#FF00FF"/>
<polygon points="91.4,928.7 94.7,926.8 94.7,930.7" fill="#FF00FF"/>
<polygon points="104.6,926.9 107.9,924.9 107.9,928.9" fill="#FF00FF"/>
<polygon points="117.8,924.1 121.2,922.1 121.2,926.1" fill="#FF00FF"/>
<polygon points="131.1,923.1 134.4,921.2 134.4,925.1" fill="#FF00FF"/>
<polygon points="144.3,923.1 147.6,921.2 147.6,925.1" fill="#FF00FF"/>
<polygon points="157.5,924.1 160.8,922.1 160.8,926.1" fill="#FF00FF"/>
<polygon points="42.7,942.8 39.4,940.8 39.4,944.7" fill="#808000"/>
<polygon points="55.9,935.3 52.6,933.3 52.6,937.3" fill="#808000"/>
<polygon points="69.1,928.7 65.8,926.8 65.8,930.7" fill="#808000"/>
<polygon points="82.3,925.0 79.0,923.0 79.0,927.0" fill="#808000"/>
<polygon points="95.6,923.1 92.2,921.2 92.2,925.1" fill="#808000"/>
<polygon points="108.8,921.6 105.5,919.7 105.5,923.6" fill="#808000"/>
<polygon points="122.0,921.3 118.7,919.3 118.7,923.2" fill="#808000"/>
<polygon points="135.2,921.3 131.9,919.3 131.9,923.2" fill="#808000"/>
<polygon points="148.4,922.2 145.1,920.2 145.1,924.2" fill="#808000"/>
<polygon points="161.6,923.7 158.3,921.7 158.3,925.7" fill="#808000"/>
<polygon points="40.6,939.7 42.3,941.8 40.6,943.9 39.0,941.8" fill="#000080"/>
<polygon points="53.8,932.3 55.5,934.4 53.8,936.4 52.2,934.4" fill="#000080"/>
<polygon points="67.0,924.8 68.7,926.9 67.0,929.0 65.4,926.9" fill="#000080"/>
<polygon points="80.3,922.0 81.9,924.1 80.3,926.2 78.6,924.1" fill="#000080"/>
<polygon points="93.5,921.1 95.1,923.1 93.5,925.2 91.8,923.1" fill="#000080"/>
<polygon points="106.7,919.2 108.4,921.3 106.7,923.4 105.0,921.3" fill="#000080"/>
<polygon points="119.9,918.3 121.6,920.3 119.9,922.4 118.3,920.3" fill="#000080"/>
<polygon points="133.1,917.9 134.8,920.0 133.1,922.0 131.5,920.0" fill="#000080"/>
<polygon points="146.3,918.3 148.0,920.3 146.3,922.4 144.7,920.3" fill="#000080"/>
<polygon points="159.6,920.1 161.2,922.2 159.6,924.3 157.9,922.2" fill="#000080"/>
<circle cx="40.6" cy="937.2" r="1.6" fill="#800000"/>
<circle cx="53.8" cy="927.8" r="1.6" fill="#800000"/>
<circle cx="67.0" cy="923.1" r="1.6" fill="#800000"/>
<circle cx="80.3" cy="921.3" r="1.6" fill="#800000"/>
<circle cx="93.5" cy="920.7" r="1.6" fill="#800000"/>
<circle cx="106.7" cy="920.3" r="1.6" fill="#800000"/>
<circle cx="119.9" cy="920.3" r="1.6" fill="#800000"/>
<circle cx="133.1" cy="921.3" r="1.6" fill="#800000"/>
<circle cx="146.3" cy="923.1" r="1.6" fill="#800000"/>
<circle cx="159.6" cy="925.0" r="1.6" fill="#800000"/>
<circle cx="40.6" cy="944.6" r="1.6" fill="#FF0080"/>
<circle cx="53.8" cy="937.2" r="1.6" fill="#FF0080"/>
<circle cx="67.0" cy="930.6" r="1.6" fill="#FF0080"/>
<circle cx="80.3" cy="926.9" r="1.6" fill="#FF0080"/>
<circle cx="93.5" cy="925.0" r="1.6" fill="#FF0080"/>
<circle cx="106.7" cy="922.2" r="1.6" fill="#FF0080"/>
<circle cx="119.9" cy="921.3" r="1.6" fill="#FF0080"/>
<circle cx="133.1" cy="920.7" r="1.6" fill="#FF0080"/>
<circle cx="146.3" cy="921.3" r="1.6" fill="#FF0080"/>
<circle cx="159.6" cy="923.1" r="1.6" fill="#FF0080"/>
<polygon points="40.6,951.2 41.2,952.7 42.7,952.7 41.5,953.7 41.9,955.2 40.6,954.3 39.3,955.2 39.7,953.7 38.5,952.7 40.1,952.7" fill="#008000"/>
<polygon points="53.8,945.6 54.4,947.0 55.9,947.1 54.7,948.1 55.1,949.6 53.8,948.7 52.5,949.6 52.9,948.1 51.8,947.1 53.3,947.0" fill="#008000"/>
<polygon points="67.0,942.1 67.6,943.5 69.1,943.6 67.9,944.5 68.3,946.0 67.0,945.2 65.8,946.0 66.2,944.5 65.0,943.6 66.5,943.5" fill="#008000"/>
<polygon points="80.3,940.0 80.8,941.4 82.3,941.5 81.2,942.5 81.6,944.0 80.3,943.1 79.0,944.0 79.4,942.5 78.2,941.5 79.7,941.4" fill="#008000"/>
<polygon points="93.5,938.7 94.0,940.1 95.6,940.2 94.4,941.2 94.8,942.7 93.5,941.8 92.2,942.7 92.6,941.2 91.4,940.2 92.9,940.1" fill="#008000"/>
<polygon points="106.7,937.6 107.3,939.0 108.8,939.1 107.6,940.1 108.0,941.5 106.7,940.7 105.4,941.5 105.8,940.1 104.6,939.1 106.1,939.0" fill="#008000"/>
<polygon points="119.9,936.5 120.5,937.9 122.0,938.0 120.8,938.9 121.2,940.4 119.9,939.6 118.6,940.4 119.0,938.9 117.8,938.0 119.4,937.9" fill="#008000"/>
<polygon points="133.1,937.6 133.7,939.0 135.2,939.1 134.0,940.1 134.4,941.5 133.1,940.7 131.8,941.5 132.2,940.1 131.1,939.1 132.6,939.0" fill="#008000"/>
<polygon points="146.3,938.0 146.9,939.4 148.4,939.5 147.2,940.4 147.6,941.9 146.3,941.1 145.1,941.9 145.5,940.4 144.3,939.5 145.8,939.4" fill="#008000"/>
<polygon points="159.6,937.8 160.1,939.2 161.6,939.3 160.5,940.2 160.9,941.7 159.6,940.9 158.3,941.7 158.7,940.2 157.5,939.3 159.0,939.2" fill="#008000"/>
<circle cx="40.6" cy="935.3" r="1.6" fill="#FF0000"/>
<line x1="40.4" y1="935.8" x2="41.5" y2="934.6" stroke="#fff" stroke-opacity="0.8" stroke-width="0.45"/>
<circle cx="53.8" cy="926.9" r="1.6" fill="#FF0000"/>
<line x1="53.6" y1="927.4" x2="54.7" y2="926.2" stroke="#fff" stroke-opacity="0.8" stroke-width="0.45"/>
<circle cx="67.0" cy="922.2" r="1.6" fill="#FF0000"/>
<line x1="66.8" y1="922.7" x2="68.0" y2="921.5" stroke="#fff" stroke-opacity="0.8" stroke-width="0.45"/>
<circle cx="80.3" cy="920.0" r="1.6" fill="#FF0000"/>
<line x1="80.1" y1="920.5" x2="81.2" y2="919.3" stroke="#fff" stroke-opacity="0.8" stroke-width="0.45"/>
<circle cx="93.5" cy="919.8" r="1.6" fill="#FF0000"/>
<line x1="93.3" y1="920.3" x2="94.4" y2="919.1" stroke="#fff" stroke-opacity="0.8" stroke-width="0.45"/>
<circle cx="106.7" cy="919.0" r="1.6" fill="#FF0000"/>
<line x1="106.5" y1="919.5" x2="107.6" y2="918.3" stroke="#fff" stroke-opacity="0.8" stroke-width="0.45"/>
<circle cx="119.9" cy="919.4" r="1.6" fill="#FF0000"/>
<line x1="119.7" y1="919.9" x2="120.8" y2="918.7" stroke="#fff" stroke-opacity="0.8" stroke-width="0.45"/>
<circle cx="133.1" cy="921.6" r="1.6" fill="#FF0000"/>
<line x1="132.9" y1="922.1" x2="134.0" y2="920.9" stroke="#fff" stroke-opacity="0.8" stroke-width="0.45"/>
<circle cx="146.3" cy="925.0" r="1.6" fill="#FF0000"/>
<line x1="146.2" y1="925.5" x2="147.2" y2="924.3" stroke="#fff" stroke-opacity="0.8" stroke-width="0.45"/>
<circle cx="159.6" cy="928.7" r="1.6" fill="#FF0000"/>
<line x1="159.4" y1="929.2" x2="160.5" y2="928.0" stroke="#fff" stroke-opacity="0.8" stroke-width="0.45"/>
<rect x="162.4" y="915.6" width="28.0" height="71.9" fill="#fff" stroke="#aaa" stroke-width="0.6"/>
<line x1="163.9" y1="920.0" x2="173.8" y2="920.0" stroke="#000000" stroke-opacity="0.35" stroke-width="0.6"/>
<rect x="166.9" y="918.5" width="3.0" height="3.0" fill="#000000"/>
<text x="175.1" y="922.1" font-size="6.3" text-anchor="start" fill="#3a3a3a" textLength="6.5" lengthAdjust="spacingAndGlyphs" stroke="#3a3a3a" stroke-width="0.0" >DC</text>
<line x1="163.9" y1="926.4" x2="173.8" y2="926.4" stroke="#FF80FF" stroke-opacity="0.35" stroke-width="0.6"/>
<circle cx="168.4" cy="926.4" r="1.6" fill="#FF80FF"/>
<text x="175.1" y="928.5" font-size="6.3" text-anchor="start" fill="#3a3a3a" textLength="15.0" lengthAdjust="spacingAndGlyphs" stroke="#3a3a3a" stroke-width="0.0" >K-shell</text>
<line x1="163.9" y1="932.8" x2="173.8" y2="932.8" stroke="#0000FF" stroke-opacity="0.35" stroke-width="0.6"/>
<polygon points="168.4,930.6 170.5,934.1 166.3,934.1" fill="#0000FF"/>
<text x="175.1" y="934.9" font-size="6.3" text-anchor="start" fill="#3a3a3a" textLength="6.5" lengthAdjust="spacingAndGlyphs" stroke="#3a3a3a" stroke-width="0.0" >PL</text>
<line x1="163.9" y1="939.2" x2="173.8" y2="939.2" stroke="#008080" stroke-opacity="0.35" stroke-width="0.6"/>
<polygon points="168.4,941.4 170.5,937.9 166.3,937.9" fill="#008080"/>
<text x="175.1" y="941.3" font-size="6.3" text-anchor="start" fill="#3a3a3a" textLength="13.8" lengthAdjust="spacingAndGlyphs" stroke="#3a3a3a" stroke-width="0.0" >ECRM</text>
<line x1="163.9" y1="945.6" x2="173.8" y2="945.6" stroke="#FF00FF" stroke-opacity="0.35" stroke-width="0.6"/>
<polygon points="166.2,945.6 169.7,943.5 169.7,947.7" fill="#FF00FF"/>
<text x="175.1" y="947.7" font-size="6.3" text-anchor="start" fill="#3a3a3a" textLength="10.5" lengthAdjust="spacingAndGlyphs" stroke="#3a3a3a" stroke-width="0.0" >GSM</text>
<line x1="163.9" y1="952.0" x2="173.8" y2="952.0" stroke="#808000" stroke-opacity="0.35" stroke-width="0.6"/>
<polygon points="170.6,952.0 167.1,949.9 167.1,954.1" fill="#808000"/>
<text x="175.1" y="954.1" font-size="6.3" text-anchor="start" fill="#3a3a3a" textLength="7.8" lengthAdjust="spacingAndGlyphs" stroke="#3a3a3a" stroke-width="0.0" >GSI</text>
<line x1="163.9" y1="958.4" x2="173.8" y2="958.4" stroke="#000080" stroke-opacity="0.35" stroke-width="0.6"/>
<polygon points="168.4,956.2 170.2,958.4 168.4,960.6 166.7,958.4" fill="#000080"/>
<text x="175.1" y="960.5" font-size="6.3" text-anchor="start" fill="#3a3a3a" textLength="14.5" lengthAdjust="spacingAndGlyphs" stroke="#3a3a3a" stroke-width="0.0" >MCGM</text>
<line x1="163.9" y1="964.8" x2="173.8" y2="964.8" stroke="#800000" stroke-opacity="0.35" stroke-width="0.6"/>
<circle cx="168.4" cy="964.8" r="1.6" fill="#800000"/>
<text x="175.1" y="966.9" font-size="6.3" text-anchor="start" fill="#3a3a3a" textLength="4.6" lengthAdjust="spacingAndGlyphs" stroke="#3a3a3a" stroke-width="0.0" >CI</text>
<line x1="163.9" y1="971.2" x2="173.8" y2="971.2" stroke="#FF0080" stroke-opacity="0.35" stroke-width="0.6"/>
<circle cx="168.4" cy="971.2" r="1.6" fill="#FF0080"/>
<text x="175.1" y="973.3" font-size="6.3" text-anchor="start" fill="#3a3a3a" textLength="13.0" lengthAdjust="spacingAndGlyphs" stroke="#3a3a3a" stroke-width="0.0" >HVGC</text>
<line x1="163.9" y1="977.6" x2="173.8" y2="977.6" stroke="#008000" stroke-opacity="0.35" stroke-width="0.6"/>
<polygon points="168.4,975.3 169.0,976.8 170.6,976.9 169.4,977.9 169.8,979.5 168.4,978.6 167.1,979.5 167.5,977.9 166.2,976.9 167.8,976.8" fill="#008000"/>
<text x="175.1" y="979.7" font-size="6.3" text-anchor="start" fill="#3a3a3a" textLength="13.8" lengthAdjust="spacingAndGlyphs" stroke="#3a3a3a" stroke-width="0.0" >CSRM</text>
<line x1="163.9" y1="984.0" x2="173.8" y2="984.0" stroke="#FF0000" stroke-opacity="0.35" stroke-width="0.6"/>
<circle cx="168.4" cy="984.0" r="1.6" fill="#FF0000"/>
<text x="175.1" y="986.1" font-size="6.3" text-anchor="start" fill="#3a3a3a" textLength="10.5" lengthAdjust="spacingAndGlyphs" stroke="#3a3a3a" stroke-width="0.0" >SGM</text>
<text x="112.2" y="1100.7" style="font-family:Liberation Serif,serif" font-size="17.2" fill="#111" text-anchor="middle">(m) RA-3</text>
<line x1="262.5" y1="1046.2" x2="262.5" y2="907.7" stroke="#555" stroke-width="0.8"/>
<line x1="262.5" y1="1046.2" x2="430.3" y2="1046.2" stroke="#555" stroke-width="0.8"/>
<line x1="262.5" y1="1046.2" x2="262.5" y2="1048.4" stroke="#444" stroke-width="0.75"/>
<text x="262.5" y="1055.7" font-size="6.3" text-anchor="middle" fill="#2a2a2a" textLength="10.1" lengthAdjust="spacingAndGlyphs" stroke="#2a2a2a" stroke-width="0.1" >0.00</text>
<line x1="276.5" y1="1046.2" x2="276.5" y2="1047.5" stroke="#444" stroke-width="0.75"/>
<line x1="290.5" y1="1046.2" x2="290.5" y2="1048.4" stroke="#444" stroke-width="0.75"/>
<text x="290.5" y="1055.7" font-size="6.3" text-anchor="middle" fill="#2a2a2a" textLength="10.1" lengthAdjust="spacingAndGlyphs" stroke="#2a2a2a" stroke-width="0.1" >0.02</text>
<line x1="304.4" y1="1046.2" x2="304.4" y2="1047.5" stroke="#444" stroke-width="0.75"/>
<line x1="318.4" y1="1046.2" x2="318.4" y2="1048.4" stroke="#444" stroke-width="0.75"/>
<text x="318.4" y="1055.7" font-size="6.3" text-anchor="middle" fill="#2a2a2a" textLength="10.1" lengthAdjust="spacingAndGlyphs" stroke="#2a2a2a" stroke-width="0.1" >0.04</text>
<line x1="332.4" y1="1046.2" x2="332.4" y2="1047.5" stroke="#444" stroke-width="0.75"/>
<line x1="346.4" y1="1046.2" x2="346.4" y2="1048.4" stroke="#444" stroke-width="0.75"/>
<text x="346.4" y="1055.7" font-size="6.3" text-anchor="middle" fill="#2a2a2a" textLength="10.1" lengthAdjust="spacingAndGlyphs" stroke="#2a2a2a" stroke-width="0.1" >0.06</text>
<line x1="360.4" y1="1046.2" x2="360.4" y2="1047.5" stroke="#444" stroke-width="0.75"/>
<line x1="374.4" y1="1046.2" x2="374.4" y2="1048.4" stroke="#444" stroke-width="0.75"/>
<text x="374.4" y="1055.7" font-size="6.3" text-anchor="middle" fill="#2a2a2a" textLength="10.1" lengthAdjust="spacingAndGlyphs" stroke="#2a2a2a" stroke-width="0.1" >0.08</text>
<line x1="388.4" y1="1046.2" x2="388.4" y2="1047.5" stroke="#444" stroke-width="0.75"/>
<line x1="402.3" y1="1046.2" x2="402.3" y2="1048.4" stroke="#444" stroke-width="0.75"/>
<text x="402.3" y="1055.7" font-size="6.3" text-anchor="middle" fill="#2a2a2a" textLength="10.1" lengthAdjust="spacingAndGlyphs" stroke="#2a2a2a" stroke-width="0.1" >0.10</text>
<line x1="416.3" y1="1046.2" x2="416.3" y2="1047.5" stroke="#444" stroke-width="0.75"/>
<line x1="430.3" y1="1046.2" x2="430.3" y2="1048.4" stroke="#444" stroke-width="0.75"/>
<text x="430.3" y="1055.7" font-size="6.3" text-anchor="middle" fill="#2a2a2a" textLength="10.1" lengthAdjust="spacingAndGlyphs" stroke="#2a2a2a" stroke-width="0.1" >0.12</text>
<line x1="260.3" y1="1036.3" x2="262.5" y2="1036.3" stroke="#444" stroke-width="0.75"/>
<text x="258.4" y="1037.8" font-size="6.3" text-anchor="end" fill="#2a2a2a" textLength="7.4" lengthAdjust="spacingAndGlyphs" stroke="#2a2a2a" stroke-width="0.1" >0.2</text>
<line x1="260.3" y1="1016.5" x2="262.5" y2="1016.5" stroke="#444" stroke-width="0.75"/>
<text x="258.4" y="1018.0" font-size="6.3" text-anchor="end" fill="#2a2a2a" textLength="7.4" lengthAdjust="spacingAndGlyphs" stroke="#2a2a2a" stroke-width="0.1" >0.3</text>
<line x1="260.3" y1="996.7" x2="262.5" y2="996.7" stroke="#444" stroke-width="0.75"/>
<text x="258.4" y="998.2" font-size="6.3" text-anchor="end" fill="#2a2a2a" textLength="7.4" lengthAdjust="spacingAndGlyphs" stroke="#2a2a2a" stroke-width="0.1" >0.4</text>
<line x1="260.3" y1="977.0" x2="262.5" y2="977.0" stroke="#444" stroke-width="0.75"/>
<text x="258.4" y="978.5" font-size="6.3" text-anchor="end" fill="#2a2a2a" textLength="7.4" lengthAdjust="spacingAndGlyphs" stroke="#2a2a2a" stroke-width="0.1" >0.5</text>
<line x1="260.3" y1="957.2" x2="262.5" y2="957.2" stroke="#444" stroke-width="0.75"/>
<text x="258.4" y="958.7" font-size="6.3" text-anchor="end" fill="#2a2a2a" textLength="7.4" lengthAdjust="spacingAndGlyphs" stroke="#2a2a2a" stroke-width="0.1" >0.6</text>
<line x1="260.3" y1="937.4" x2="262.5" y2="937.4" stroke="#444" stroke-width="0.75"/>
<text x="258.4" y="938.9" font-size="6.3" text-anchor="end" fill="#2a2a2a" textLength="7.4" lengthAdjust="spacingAndGlyphs" stroke="#2a2a2a" stroke-width="0.1" >0.7</text>
<line x1="260.3" y1="917.6" x2="262.5" y2="917.6" stroke="#444" stroke-width="0.75"/>
<text x="258.4" y="919.1" font-size="6.3" text-anchor="end" fill="#2a2a2a" textLength="7.4" lengthAdjust="spacingAndGlyphs" stroke="#2a2a2a" stroke-width="0.1" >0.8</text>
<line x1="261.2" y1="1046.2" x2="262.5" y2="1046.2" stroke="#444" stroke-width="0.75"/>
<line x1="261.2" y1="1026.4" x2="262.5" y2="1026.4" stroke="#444" stroke-width="0.75"/>
<line x1="261.2" y1="1006.6" x2="262.5" y2="1006.6" stroke="#444" stroke-width="0.75"/>
<line x1="261.2" y1="986.8" x2="262.5" y2="986.8" stroke="#444" stroke-width="0.75"/>
<line x1="261.2" y1="967.1" x2="262.5" y2="967.1" stroke="#444" stroke-width="0.75"/>
<line x1="261.2" y1="947.3" x2="262.5" y2="947.3" stroke="#444" stroke-width="0.75"/>
<line x1="261.2" y1="927.5" x2="262.5" y2="927.5" stroke="#444" stroke-width="0.75"/>
<line x1="261.2" y1="907.7" x2="262.5" y2="907.7" stroke="#444" stroke-width="0.75"/>
<text x="242.0" y="983.8" font-size="8.8" fill="#3a3a3a" transform="rotate(-90 242.0 983.8)" text-anchor="middle">τ</text>
<text x="346.6" y="1066.8" font-size="7.3" fill="#333" text-anchor="middle" textLength="3.6" lengthAdjust="spacingAndGlyphs">β</text>
<polyline fill="none" stroke="#000000" stroke-opacity="0.45" stroke-width="0.55" points="276.5,928.5 290.5,963.1 304.4,952.2 318.4,942.3 332.4,939.4 346.4,937.4 360.4,935.4 374.4,935.4 388.4,935.4 402.3,935.0"/>
<polyline fill="none" stroke="#FF80FF" stroke-opacity="0.45" stroke-width="0.55" points="276.5,1028.4 290.5,1034.7 304.4,1032.4 318.4,1031.2 332.4,1030.8 346.4,1030.2 360.4,1029.8 374.4,1029.4 388.4,1029.6 402.3,1029.4"/>
<polyline fill="none" stroke="#0000FF" stroke-opacity="0.45" stroke-width="0.55" points="276.5,929.5 290.5,964.1 304.4,954.2 318.4,944.3 332.4,940.3 346.4,937.4 360.4,933.4 374.4,932.4 388.4,932.4 402.3,931.8"/>
<polyline fill="none" stroke="#008080" stroke-opacity="0.45" stroke-width="0.55" points="276.5,934.4 290.5,967.5 304.4,957.2 318.4,947.3 332.4,944.3 346.4,940.3 360.4,935.4 374.4,933.4 388.4,933.4 402.3,932.4"/>
<polyline fill="none" stroke="#FF00FF" stroke-opacity="0.45" stroke-width="0.55" points="276.5,932.4 290.5,968.0 304.4,960.1 318.4,952.2 332.4,949.2 346.4,945.3 360.4,940.3 374.4,938.4 388.4,937.4 402.3,936.4"/>
<polyline fill="none" stroke="#808000" stroke-opacity="0.45" stroke-width="0.55" points="276.5,931.4 290.5,965.1 304.4,954.2 318.4,944.3 332.4,940.3 346.4,936.4 360.4,932.4 374.4,931.4 388.4,931.4 402.3,930.5"/>
<polyline fill="none" stroke="#000080" stroke-opacity="0.45" stroke-width="0.55" points="276.5,929.5 290.5,964.1 304.4,953.2 318.4,943.3 332.4,939.4 346.4,935.4 360.4,931.8 374.4,931.0 388.4,930.8 402.3,929.9"/>
<polyline fill="none" stroke="#800000" stroke-opacity="0.45" stroke-width="0.55" points="276.5,923.5 290.5,960.1 304.4,950.2 318.4,940.3 332.4,937.4 346.4,934.4 360.4,930.5 374.4,929.9 388.4,929.9 402.3,929.1"/>
<polyline fill="none" stroke="#FF0080" stroke-opacity="0.45" stroke-width="0.55" points="276.5,930.5 290.5,965.1 304.4,955.2 318.4,945.3 332.4,941.3 346.4,937.4 360.4,932.4 374.4,931.4 388.4,931.4 402.3,930.5"/>
<polyline fill="none" stroke="#008000" stroke-opacity="0.45" stroke-width="0.55" points="276.5,942.7 290.5,970.0 304.4,961.1 318.4,953.2 332.4,951.8 346.4,948.3 360.4,945.3 374.4,945.3 388.4,945.3 402.3,944.3"/>
<polyline fill="none" stroke="#FF0000" stroke-opacity="0.45" stroke-width="0.55" points="276.5,919.6 290.5,959.1 304.4,949.2 318.4,939.8 332.4,936.8 346.4,933.8 360.4,929.9 374.4,929.1 388.4,929.1 402.3,928.5"/>
<rect x="275.1" y="927.1" width="2.8" height="2.8" fill="#000000"/>
<rect x="289.1" y="961.7" width="2.8" height="2.8" fill="#000000"/>
<rect x="303.0" y="950.8" width="2.8" height="2.8" fill="#000000"/>
<rect x="317.0" y="940.9" width="2.8" height="2.8" fill="#000000"/>
<rect x="331.0" y="937.9" width="2.8" height="2.8" fill="#000000"/>
<rect x="345.0" y="936.0" width="2.8" height="2.8" fill="#000000"/>
<rect x="359.0" y="934.0" width="2.8" height="2.8" fill="#000000"/>
<rect x="373.0" y="934.0" width="2.8" height="2.8" fill="#000000"/>
<rect x="386.9" y="934.0" width="2.8" height="2.8" fill="#000000"/>
<rect x="400.9" y="933.6" width="2.8" height="2.8" fill="#000000"/>
<circle cx="276.5" cy="1028.4" r="1.6" fill="#FF80FF"/>
<circle cx="290.5" cy="1034.7" r="1.6" fill="#FF80FF"/>
<circle cx="304.4" cy="1032.4" r="1.6" fill="#FF80FF"/>
<circle cx="318.4" cy="1031.2" r="1.6" fill="#FF80FF"/>
<circle cx="332.4" cy="1030.8" r="1.6" fill="#FF80FF"/>
<circle cx="346.4" cy="1030.2" r="1.6" fill="#FF80FF"/>
<circle cx="360.4" cy="1029.8" r="1.6" fill="#FF80FF"/>
<circle cx="374.4" cy="1029.4" r="1.6" fill="#FF80FF"/>
<circle cx="388.4" cy="1029.6" r="1.6" fill="#FF80FF"/>
<circle cx="402.3" cy="1029.4" r="1.6" fill="#FF80FF"/>
<polygon points="276.5,927.4 278.5,930.7 274.5,930.7" fill="#0000FF"/>
<polygon points="290.5,962.0 292.4,965.3 288.5,965.3" fill="#0000FF"/>
<polygon points="304.4,952.1 306.4,955.4 302.5,955.4" fill="#0000FF"/>
<polygon points="318.4,942.2 320.4,945.6 316.5,945.6" fill="#0000FF"/>
<polygon points="332.4,938.3 334.4,941.6 330.4,941.6" fill="#0000FF"/>
<polygon points="346.4,935.3 348.4,938.6 344.4,938.6" fill="#0000FF"/>
<polygon points="360.4,931.3 362.4,934.7 358.4,934.7" fill="#0000FF"/>
<polygon points="374.4,930.4 376.3,933.7 372.4,933.7" fill="#0000FF"/>
<polygon points="388.4,930.4 390.3,933.7 386.4,933.7" fill="#0000FF"/>
<polygon points="402.3,929.8 404.3,933.1 400.4,933.1" fill="#0000FF"/>
<polygon points="276.5,936.5 278.5,933.2 274.5,933.2" fill="#008080"/>
<polygon points="290.5,969.5 292.4,966.2 288.5,966.2" fill="#008080"/>
<polygon points="304.4,959.2 306.4,955.9 302.5,955.9" fill="#008080"/>
<polygon points="318.4,949.4 320.4,946.0 316.5,946.0" fill="#008080"/>
<polygon points="332.4,946.4 334.4,943.1 330.4,943.1" fill="#008080"/>
<polygon points="346.4,942.4 348.4,939.1 344.4,939.1" fill="#008080"/>
<polygon points="360.4,937.5 362.4,934.2 358.4,934.2" fill="#008080"/>
<polygon points="374.4,935.5 376.3,932.2 372.4,932.2" fill="#008080"/>
<polygon points="388.4,935.5 390.3,932.2 386.4,932.2" fill="#008080"/>
<polygon points="402.3,934.5 404.3,931.2 400.4,931.2" fill="#008080"/>
<polygon points="274.4,932.4 277.7,930.5 277.7,934.4" fill="#FF00FF"/>
<polygon points="288.4,968.0 291.7,966.1 291.7,970.0" fill="#FF00FF"/>
<polygon points="302.4,960.1 305.7,958.2 305.7,962.1" fill="#FF00FF"/>
<polygon points="316.4,952.2 319.7,950.2 319.7,954.2" fill="#FF00FF"/>
<polygon points="330.3,949.2 333.7,947.3 333.7,951.2" fill="#FF00FF"/>
<polygon points="344.3,945.3 347.6,943.3 347.6,947.3" fill="#FF00FF"/>
<polygon points="358.3,940.3 361.6,938.4 361.6,942.3" fill="#FF00FF"/>
<polygon points="372.3,938.4 375.6,936.4 375.6,940.3" fill="#FF00FF"/>
<polygon points="386.3,937.4 389.6,935.4 389.6,939.4" fill="#FF00FF"/>
<polygon points="400.3,936.4 403.6,934.4 403.6,938.4" fill="#FF00FF"/>
<polygon points="278.6,931.4 275.2,929.5 275.2,933.4" fill="#808000"/>
<polygon points="292.5,965.1 289.2,963.1 289.2,967.1" fill="#808000"/>
<polygon points="306.5,954.2 303.2,952.2 303.2,956.2" fill="#808000"/>
<polygon points="320.5,944.3 317.2,942.3 317.2,946.3" fill="#808000"/>
<polygon points="334.5,940.3 331.2,938.4 331.2,942.3" fill="#808000"/>
<polygon points="348.5,936.4 345.2,934.4 345.2,938.4" fill="#808000"/>
<polygon points="362.5,932.4 359.1,930.5 359.1,934.4" fill="#808000"/>
<polygon points="376.4,931.4 373.1,929.5 373.1,933.4" fill="#808000"/>
<polygon points="390.4,931.4 387.1,929.5 387.1,933.4" fill="#808000"/>
<polygon points="404.4,930.5 401.1,928.5 401.1,932.4" fill="#808000"/>
<polygon points="276.5,927.4 278.1,929.5 276.5,931.5 274.8,929.5" fill="#000080"/>
<polygon points="290.5,962.0 292.1,964.1 290.5,966.2 288.8,964.1" fill="#000080"/>
<polygon points="304.4,951.1 306.1,953.2 304.4,955.3 302.8,953.2" fill="#000080"/>
<polygon points="318.4,941.2 320.1,943.3 318.4,945.4 316.8,943.3" fill="#000080"/>
<polygon points="332.4,937.3 334.1,939.4 332.4,941.4 330.8,939.4" fill="#000080"/>
<polygon points="346.4,933.3 348.1,935.4 346.4,937.5 344.7,935.4" fill="#000080"/>
<polygon points="360.4,929.8 362.0,931.8 360.4,933.9 358.7,931.8" fill="#000080"/>
<polygon points="374.4,929.0 376.0,931.0 374.4,933.1 372.7,931.0" fill="#000080"/>
<polygon points="388.4,928.8 390.0,930.8 388.4,932.9 386.7,930.8" fill="#000080"/>
<polygon points="402.3,927.8 404.0,929.9 402.3,931.9 400.7,929.9" fill="#000080"/>
<circle cx="276.5" cy="923.5" r="1.6" fill="#800000"/>
<circle cx="290.5" cy="960.1" r="1.6" fill="#800000"/>
<circle cx="304.4" cy="950.2" r="1.6" fill="#800000"/>
<circle cx="318.4" cy="940.3" r="1.6" fill="#800000"/>
<circle cx="332.4" cy="937.4" r="1.6" fill="#800000"/>
<circle cx="346.4" cy="934.4" r="1.6" fill="#800000"/>
<circle cx="360.4" cy="930.5" r="1.6" fill="#800000"/>
<circle cx="374.4" cy="929.9" r="1.6" fill="#800000"/>
<circle cx="388.4" cy="929.9" r="1.6" fill="#800000"/>
<circle cx="402.3" cy="929.1" r="1.6" fill="#800000"/>
<circle cx="276.5" cy="930.5" r="1.6" fill="#FF0080"/>
<circle cx="290.5" cy="965.1" r="1.6" fill="#FF0080"/>
<circle cx="304.4" cy="955.2" r="1.6" fill="#FF0080"/>
<circle cx="318.4" cy="945.3" r="1.6" fill="#FF0080"/>
<circle cx="332.4" cy="941.3" r="1.6" fill="#FF0080"/>
<circle cx="346.4" cy="937.4" r="1.6" fill="#FF0080"/>
<circle cx="360.4" cy="932.4" r="1.6" fill="#FF0080"/>
<circle cx="374.4" cy="931.4" r="1.6" fill="#FF0080"/>
<circle cx="388.4" cy="931.4" r="1.6" fill="#FF0080"/>
<circle cx="402.3" cy="930.5" r="1.6" fill="#FF0080"/>
<polygon points="276.5,940.5 277.0,942.0 278.6,942.0 277.4,943.0 277.8,944.5 276.5,943.7 275.2,944.5 275.6,943.0 274.4,942.0 275.9,942.0" fill="#008000"/>
<polygon points="290.5,967.8 291.0,969.3 292.5,969.4 291.4,970.3 291.8,971.8 290.5,971.0 289.2,971.8 289.6,970.3 288.4,969.4 289.9,969.3" fill="#008000"/>
<polygon points="304.4,958.9 305.0,960.4 306.5,960.4 305.3,961.4 305.7,962.9 304.4,962.1 303.2,962.9 303.6,961.4 302.4,960.4 303.9,960.4" fill="#008000"/>
<polygon points="318.4,951.0 319.0,952.4 320.5,952.5 319.3,953.5 319.7,955.0 318.4,954.1 317.1,955.0 317.5,953.5 316.4,952.5 317.9,952.4" fill="#008000"/>
<polygon points="332.4,949.6 333.0,951.1 334.5,951.1 333.3,952.1 333.7,953.6 332.4,952.8 331.1,953.6 331.5,952.1 330.3,951.1 331.9,951.1" fill="#008000"/>
<polygon points="346.4,946.1 347.0,947.5 348.5,947.6 347.3,948.5 347.7,950.0 346.4,949.2 345.1,950.0 345.5,948.5 344.3,947.6 345.8,947.5" fill="#008000"/>
<polygon points="360.4,943.1 360.9,944.5 362.5,944.6 361.3,945.6 361.7,947.1 360.4,946.2 359.1,947.1 359.5,945.6 358.3,944.6 359.8,944.5" fill="#008000"/>
<polygon points="374.4,943.1 374.9,944.5 376.4,944.6 375.3,945.6 375.7,947.1 374.4,946.2 373.1,947.1 373.5,945.6 372.3,944.6 373.8,944.5" fill="#008000"/>
<polygon points="388.4,943.1 388.9,944.5 390.4,944.6 389.2,945.6 389.6,947.1 388.4,946.2 387.1,947.1 387.5,945.6 386.3,944.6 387.8,944.5" fill="#008000"/>
<polygon points="402.3,942.1 402.9,943.5 404.4,943.6 403.2,944.6 403.6,946.1 402.3,945.2 401.0,946.1 401.4,944.6 400.3,943.6 401.8,943.5" fill="#008000"/>
<circle cx="276.5" cy="919.6" r="1.6" fill="#FF0000"/>
<line x1="276.3" y1="920.1" x2="277.4" y2="918.9" stroke="#fff" stroke-opacity="0.8" stroke-width="0.45"/>
<circle cx="290.5" cy="959.1" r="1.6" fill="#FF0000"/>
<line x1="290.3" y1="959.6" x2="291.4" y2="958.4" stroke="#fff" stroke-opacity="0.8" stroke-width="0.45"/>
<circle cx="304.4" cy="949.2" r="1.6" fill="#FF0000"/>
<line x1="304.2" y1="949.8" x2="305.3" y2="948.5" stroke="#fff" stroke-opacity="0.8" stroke-width="0.45"/>
<circle cx="318.4" cy="939.8" r="1.6" fill="#FF0000"/>
<line x1="318.2" y1="940.3" x2="319.3" y2="939.1" stroke="#fff" stroke-opacity="0.8" stroke-width="0.45"/>
<circle cx="332.4" cy="936.8" r="1.6" fill="#FF0000"/>
<line x1="332.2" y1="937.3" x2="333.3" y2="936.1" stroke="#fff" stroke-opacity="0.8" stroke-width="0.45"/>
<circle cx="346.4" cy="933.8" r="1.6" fill="#FF0000"/>
<line x1="346.2" y1="934.3" x2="347.3" y2="933.1" stroke="#fff" stroke-opacity="0.8" stroke-width="0.45"/>
<circle cx="360.4" cy="929.9" r="1.6" fill="#FF0000"/>
<line x1="360.2" y1="930.4" x2="361.3" y2="929.2" stroke="#fff" stroke-opacity="0.8" stroke-width="0.45"/>
<circle cx="374.4" cy="929.1" r="1.6" fill="#FF0000"/>
<line x1="374.2" y1="929.6" x2="375.3" y2="928.4" stroke="#fff" stroke-opacity="0.8" stroke-width="0.45"/>
<circle cx="388.4" cy="929.1" r="1.6" fill="#FF0000"/>
<line x1="388.2" y1="929.6" x2="389.2" y2="928.4" stroke="#fff" stroke-opacity="0.8" stroke-width="0.45"/>
<circle cx="402.3" cy="928.5" r="1.6" fill="#FF0000"/>
<line x1="402.1" y1="929.0" x2="403.2" y2="927.8" stroke="#fff" stroke-opacity="0.8" stroke-width="0.45"/>
<rect x="405.4" y="906.0" width="29.0" height="76.2" fill="#fff" stroke="#aaa" stroke-width="0.6"/>
<line x1="406.9" y1="910.4" x2="417.3" y2="910.4" stroke="#000000" stroke-opacity="0.35" stroke-width="0.6"/>
<rect x="410.1" y="908.9" width="3.0" height="3.0" fill="#000000"/>
<text x="418.6" y="912.5" font-size="6.3" text-anchor="start" fill="#3a3a3a" textLength="6.5" lengthAdjust="spacingAndGlyphs" stroke="#3a3a3a" stroke-width="0.0" >DC</text>
<line x1="406.9" y1="917.2" x2="417.3" y2="917.2" stroke="#FF80FF" stroke-opacity="0.35" stroke-width="0.6"/>
<circle cx="411.6" cy="917.2" r="1.6" fill="#FF80FF"/>
<text x="418.6" y="919.3" font-size="6.3" text-anchor="start" fill="#3a3a3a" textLength="15.0" lengthAdjust="spacingAndGlyphs" stroke="#3a3a3a" stroke-width="0.0" >K-shell</text>
<line x1="406.9" y1="924.1" x2="417.3" y2="924.1" stroke="#0000FF" stroke-opacity="0.35" stroke-width="0.6"/>
<polygon points="411.6,921.8 413.7,925.4 409.5,925.4" fill="#0000FF"/>
<text x="418.6" y="926.2" font-size="6.3" text-anchor="start" fill="#3a3a3a" textLength="6.5" lengthAdjust="spacingAndGlyphs" stroke="#3a3a3a" stroke-width="0.0" >PL</text>
<line x1="406.9" y1="930.9" x2="417.3" y2="930.9" stroke="#008080" stroke-opacity="0.35" stroke-width="0.6"/>
<polygon points="411.6,933.1 413.7,929.6 409.5,929.6" fill="#008080"/>
<text x="418.6" y="933.0" font-size="6.3" text-anchor="start" fill="#3a3a3a" textLength="13.8" lengthAdjust="spacingAndGlyphs" stroke="#3a3a3a" stroke-width="0.0" >ECRM</text>
<line x1="406.9" y1="937.7" x2="417.3" y2="937.7" stroke="#FF00FF" stroke-opacity="0.35" stroke-width="0.6"/>
<polygon points="409.4,937.7 413.0,935.6 413.0,939.8" fill="#FF00FF"/>
<text x="418.6" y="939.8" font-size="6.3" text-anchor="start" fill="#3a3a3a" textLength="10.5" lengthAdjust="spacingAndGlyphs" stroke="#3a3a3a" stroke-width="0.0" >GSM</text>
<line x1="406.9" y1="944.5" x2="417.3" y2="944.5" stroke="#808000" stroke-opacity="0.35" stroke-width="0.6"/>
<polygon points="413.8,944.5 410.3,942.5 410.3,946.6" fill="#808000"/>
<text x="418.6" y="946.6" font-size="6.3" text-anchor="start" fill="#3a3a3a" textLength="7.8" lengthAdjust="spacingAndGlyphs" stroke="#3a3a3a" stroke-width="0.0" >GSI</text>
<line x1="406.9" y1="951.4" x2="417.3" y2="951.4" stroke="#000080" stroke-opacity="0.35" stroke-width="0.6"/>
<polygon points="411.6,949.2 413.4,951.4 411.6,953.6 409.9,951.4" fill="#000080"/>
<text x="418.6" y="953.5" font-size="6.3" text-anchor="start" fill="#3a3a3a" textLength="14.5" lengthAdjust="spacingAndGlyphs" stroke="#3a3a3a" stroke-width="0.0" >MCGM</text>
<line x1="406.9" y1="958.2" x2="417.3" y2="958.2" stroke="#800000" stroke-opacity="0.35" stroke-width="0.6"/>
<circle cx="411.6" cy="958.2" r="1.6" fill="#800000"/>
<text x="418.6" y="960.3" font-size="6.3" text-anchor="start" fill="#3a3a3a" textLength="4.6" lengthAdjust="spacingAndGlyphs" stroke="#3a3a3a" stroke-width="0.0" >CI</text>
<line x1="406.9" y1="965.0" x2="417.3" y2="965.0" stroke="#FF0080" stroke-opacity="0.35" stroke-width="0.6"/>
<circle cx="411.6" cy="965.0" r="1.6" fill="#FF0080"/>
<text x="418.6" y="967.1" font-size="6.3" text-anchor="start" fill="#3a3a3a" textLength="13.0" lengthAdjust="spacingAndGlyphs" stroke="#3a3a3a" stroke-width="0.0" >HVGC</text>
<line x1="406.9" y1="971.9" x2="417.3" y2="971.9" stroke="#008000" stroke-opacity="0.35" stroke-width="0.6"/>
<polygon points="411.6,969.5 412.2,971.1 413.8,971.2 412.6,972.2 413.0,973.7 411.6,972.9 410.3,973.7 410.7,972.2 409.4,971.2 411.1,971.1" fill="#008000"/>
<text x="418.6" y="974.0" font-size="6.3" text-anchor="start" fill="#3a3a3a" textLength="13.8" lengthAdjust="spacingAndGlyphs" stroke="#3a3a3a" stroke-width="0.0" >CSRM</text>
<line x1="406.9" y1="978.7" x2="417.3" y2="978.7" stroke="#FF0000" stroke-opacity="0.35" stroke-width="0.6"/>
<circle cx="411.6" cy="978.7" r="1.6" fill="#FF0000"/>
<text x="418.6" y="980.8" font-size="6.3" text-anchor="start" fill="#3a3a3a" textLength="10.5" lengthAdjust="spacingAndGlyphs" stroke="#3a3a3a" stroke-width="0.0" >SGM</text>
<text x="354.0" y="1100.7" style="font-family:Liberation Serif,serif" font-size="17.2" fill="#111" text-anchor="middle">(n) RA-4</text>
<line x1="509.5" y1="1046.3" x2="509.5" y2="908.6" stroke="#555" stroke-width="0.8"/>
<line x1="509.5" y1="1046.3" x2="677.6" y2="1046.3" stroke="#555" stroke-width="0.8"/>
<line x1="509.5" y1="1046.3" x2="509.5" y2="1048.5" stroke="#444" stroke-width="0.75"/>
<text x="509.5" y="1055.8" font-size="6.3" text-anchor="middle" fill="#2a2a2a" textLength="10.1" lengthAdjust="spacingAndGlyphs" stroke="#2a2a2a" stroke-width="0.1" >0.00</text>
<line x1="523.5" y1="1046.3" x2="523.5" y2="1047.6" stroke="#444" stroke-width="0.75"/>
<line x1="537.5" y1="1046.3" x2="537.5" y2="1048.5" stroke="#444" stroke-width="0.75"/>
<text x="537.5" y="1055.8" font-size="6.3" text-anchor="middle" fill="#2a2a2a" textLength="10.1" lengthAdjust="spacingAndGlyphs" stroke="#2a2a2a" stroke-width="0.1" >0.02</text>
<line x1="551.5" y1="1046.3" x2="551.5" y2="1047.6" stroke="#444" stroke-width="0.75"/>
<line x1="565.5" y1="1046.3" x2="565.5" y2="1048.5" stroke="#444" stroke-width="0.75"/>
<text x="565.5" y="1055.8" font-size="6.3" text-anchor="middle" fill="#2a2a2a" textLength="10.1" lengthAdjust="spacingAndGlyphs" stroke="#2a2a2a" stroke-width="0.1" >0.04</text>
<line x1="579.5" y1="1046.3" x2="579.5" y2="1047.6" stroke="#444" stroke-width="0.75"/>
<line x1="593.5" y1="1046.3" x2="593.5" y2="1048.5" stroke="#444" stroke-width="0.75"/>
<text x="593.5" y="1055.8" font-size="6.3" text-anchor="middle" fill="#2a2a2a" textLength="10.1" lengthAdjust="spacingAndGlyphs" stroke="#2a2a2a" stroke-width="0.1" >0.06</text>
<line x1="607.6" y1="1046.3" x2="607.6" y2="1047.6" stroke="#444" stroke-width="0.75"/>
<line x1="621.6" y1="1046.3" x2="621.6" y2="1048.5" stroke="#444" stroke-width="0.75"/>
<text x="621.6" y="1055.8" font-size="6.3" text-anchor="middle" fill="#2a2a2a" textLength="10.1" lengthAdjust="spacingAndGlyphs" stroke="#2a2a2a" stroke-width="0.1" >0.08</text>
<line x1="635.6" y1="1046.3" x2="635.6" y2="1047.6" stroke="#444" stroke-width="0.75"/>
<line x1="649.6" y1="1046.3" x2="649.6" y2="1048.5" stroke="#444" stroke-width="0.75"/>
<text x="649.6" y="1055.8" font-size="6.3" text-anchor="middle" fill="#2a2a2a" textLength="10.1" lengthAdjust="spacingAndGlyphs" stroke="#2a2a2a" stroke-width="0.1" >0.10</text>
<line x1="663.6" y1="1046.3" x2="663.6" y2="1047.6" stroke="#444" stroke-width="0.75"/>
<line x1="677.6" y1="1046.3" x2="677.6" y2="1048.5" stroke="#444" stroke-width="0.75"/>
<text x="677.6" y="1055.8" font-size="6.3" text-anchor="middle" fill="#2a2a2a" textLength="10.1" lengthAdjust="spacingAndGlyphs" stroke="#2a2a2a" stroke-width="0.1" >0.12</text>
<line x1="507.3" y1="1034.8" x2="509.5" y2="1034.8" stroke="#444" stroke-width="0.75"/>
<text x="505.4" y="1036.3" font-size="6.3" text-anchor="end" fill="#2a2a2a" textLength="7.4" lengthAdjust="spacingAndGlyphs" stroke="#2a2a2a" stroke-width="0.1" >0.2</text>
<line x1="507.3" y1="1011.9" x2="509.5" y2="1011.9" stroke="#444" stroke-width="0.75"/>
<text x="505.4" y="1013.4" font-size="6.3" text-anchor="end" fill="#2a2a2a" textLength="7.4" lengthAdjust="spacingAndGlyphs" stroke="#2a2a2a" stroke-width="0.1" >0.3</text>
<line x1="507.3" y1="988.9" x2="509.5" y2="988.9" stroke="#444" stroke-width="0.75"/>
<text x="505.4" y="990.4" font-size="6.3" text-anchor="end" fill="#2a2a2a" textLength="7.4" lengthAdjust="spacingAndGlyphs" stroke="#2a2a2a" stroke-width="0.1" >0.4</text>
<line x1="507.3" y1="966.0" x2="509.5" y2="966.0" stroke="#444" stroke-width="0.75"/>
<text x="505.4" y="967.5" font-size="6.3" text-anchor="end" fill="#2a2a2a" textLength="7.4" lengthAdjust="spacingAndGlyphs" stroke="#2a2a2a" stroke-width="0.1" >0.5</text>
<line x1="507.3" y1="943.0" x2="509.5" y2="943.0" stroke="#444" stroke-width="0.75"/>
<text x="505.4" y="944.5" font-size="6.3" text-anchor="end" fill="#2a2a2a" textLength="7.4" lengthAdjust="spacingAndGlyphs" stroke="#2a2a2a" stroke-width="0.1" >0.6</text>
<line x1="507.3" y1="920.1" x2="509.5" y2="920.1" stroke="#444" stroke-width="0.75"/>
<text x="505.4" y="921.6" font-size="6.3" text-anchor="end" fill="#2a2a2a" textLength="7.4" lengthAdjust="spacingAndGlyphs" stroke="#2a2a2a" stroke-width="0.1" >0.7</text>
<line x1="508.2" y1="1046.3" x2="509.5" y2="1046.3" stroke="#444" stroke-width="0.75"/>
<line x1="508.2" y1="1023.3" x2="509.5" y2="1023.3" stroke="#444" stroke-width="0.75"/>
<line x1="508.2" y1="1000.4" x2="509.5" y2="1000.4" stroke="#444" stroke-width="0.75"/>
<line x1="508.2" y1="977.5" x2="509.5" y2="977.5" stroke="#444" stroke-width="0.75"/>
<line x1="508.2" y1="954.5" x2="509.5" y2="954.5" stroke="#444" stroke-width="0.75"/>
<line x1="508.2" y1="931.6" x2="509.5" y2="931.6" stroke="#444" stroke-width="0.75"/>
<line x1="508.2" y1="908.6" x2="509.5" y2="908.6" stroke="#444" stroke-width="0.75"/>
<text x="488.6" y="984.5" font-size="8.8" fill="#3a3a3a" transform="rotate(-90 488.6 984.5)" text-anchor="middle">τ</text>
<text x="593.5" y="1066.8" font-size="7.3" fill="#333" text-anchor="middle" textLength="3.6" lengthAdjust="spacingAndGlyphs">β</text>
<polyline fill="none" stroke="#000000" stroke-opacity="0.45" stroke-width="0.55" points="523.5,1007.3 537.5,979.7 551.5,967.1 565.5,962.5 579.5,963.7 593.5,954.5 607.6,955.0 621.6,954.5 635.6,956.8 649.6,953.4"/>
<polyline fill="none" stroke="#FF80FF" stroke-opacity="0.45" stroke-width="0.55" points="523.5,1039.4 537.5,1030.2 551.5,1024.5 565.5,1022.2 579.5,1023.8 593.5,1018.8 607.6,1017.6 621.6,1016.9 635.6,1017.6 649.6,1012.6"/>
<polyline fill="none" stroke="#0000FF" stroke-opacity="0.45" stroke-width="0.55" points="523.5,1002.7 537.5,977.4 551.5,975.2 565.5,963.2 579.5,969.0 593.5,961.4 607.6,960.2 621.6,970.6 635.6,970.6 649.6,972.2"/>
<polyline fill="none" stroke="#008080" stroke-opacity="0.45" stroke-width="0.55" points="523.5,1024.5 537.5,1012.6 551.5,988.9 565.5,987.1 579.5,979.7 593.5,969.4 607.6,970.6 621.6,959.1 635.6,957.9 649.6,946.5"/>
<polyline fill="none" stroke="#FF00FF" stroke-opacity="0.45" stroke-width="0.55" points="523.5,1032.5 537.5,1021.1 551.5,999.3 565.5,998.8 579.5,993.5 593.5,983.9 607.6,983.2 621.6,974.0 635.6,970.6 649.6,962.5"/>
<polyline fill="none" stroke="#808000" stroke-opacity="0.45" stroke-width="0.55" points="523.5,1021.1 537.5,1006.1 551.5,985.5 565.5,979.7 579.5,977.4 593.5,963.7 607.6,963.7 621.6,955.6 635.6,954.5 649.6,944.2"/>
<polyline fill="none" stroke="#000080" stroke-opacity="0.45" stroke-width="0.55" points="523.5,1022.2 537.5,1003.8 551.5,980.9 565.5,978.6 579.5,971.7 593.5,961.4 607.6,961.4 621.6,947.6 635.6,946.5 649.6,936.1"/>
<polyline fill="none" stroke="#800000" stroke-opacity="0.45" stroke-width="0.55" points="523.5,1019.9 537.5,993.5 551.5,982.0 565.5,979.7 579.5,976.3 593.5,967.1 607.6,967.1 621.6,968.3 635.6,968.7 649.6,961.4"/>
<polyline fill="none" stroke="#FF0080" stroke-opacity="0.45" stroke-width="0.55" points="523.5,1019.9 537.5,1003.2 551.5,978.6 565.5,977.4 579.5,969.4 593.5,958.4 607.6,959.5 621.6,946.5 635.6,944.2 649.6,935.0"/>
<polyline fill="none" stroke="#008000" stroke-opacity="0.45" stroke-width="0.55" points="523.5,1033.7 537.5,1007.3 551.5,986.6 565.5,988.9 579.5,983.2 593.5,974.7 607.6,975.6 621.6,962.5 635.6,962.5 649.6,953.4"/>
<polyline fill="none" stroke="#FF0000" stroke-opacity="0.45" stroke-width="0.55" points="523.5,1013.0 537.5,987.8 551.5,963.2 565.5,960.9 579.5,955.6 593.5,941.9 607.6,943.0 621.6,931.5 635.6,932.7 649.6,922.4"/>
<rect x="522.1" y="1005.9" width="2.8" height="2.8" fill="#000000"/>
<rect x="536.1" y="978.3" width="2.8" height="2.8" fill="#000000"/>
<rect x="550.1" y="965.7" width="2.8" height="2.8" fill="#000000"/>
<rect x="564.1" y="961.1" width="2.8" height="2.8" fill="#000000"/>
<rect x="578.1" y="962.3" width="2.8" height="2.8" fill="#000000"/>
<rect x="592.1" y="953.1" width="2.8" height="2.8" fill="#000000"/>
<rect x="606.2" y="953.6" width="2.8" height="2.8" fill="#000000"/>
<rect x="620.2" y="953.1" width="2.8" height="2.8" fill="#000000"/>
<rect x="634.2" y="955.4" width="2.8" height="2.8" fill="#000000"/>
<rect x="648.2" y="951.9" width="2.8" height="2.8" fill="#000000"/>
<circle cx="523.5" cy="1039.4" r="1.6" fill="#FF80FF"/>
<circle cx="537.5" cy="1030.2" r="1.6" fill="#FF80FF"/>
<circle cx="551.5" cy="1024.5" r="1.6" fill="#FF80FF"/>
<circle cx="565.5" cy="1022.2" r="1.6" fill="#FF80FF"/>
<circle cx="579.5" cy="1023.8" r="1.6" fill="#FF80FF"/>
<circle cx="593.5" cy="1018.8" r="1.6" fill="#FF80FF"/>
<circle cx="607.6" cy="1017.6" r="1.6" fill="#FF80FF"/>
<circle cx="621.6" cy="1016.9" r="1.6" fill="#FF80FF"/>
<circle cx="635.6" cy="1017.6" r="1.6" fill="#FF80FF"/>
<circle cx="649.6" cy="1012.6" r="1.6" fill="#FF80FF"/>
<polygon points="523.5,1000.6 525.5,1003.9 521.5,1003.9" fill="#0000FF"/>
<polygon points="537.5,975.4 539.5,978.7 535.5,978.7" fill="#0000FF"/>
<polygon points="551.5,973.1 553.5,976.4 549.5,976.4" fill="#0000FF"/>
<polygon points="565.5,961.1 567.5,964.5 563.6,964.5" fill="#0000FF"/>
<polygon points="579.5,966.9 581.5,970.2 577.6,970.2" fill="#0000FF"/>
<polygon points="593.5,959.3 595.5,962.6 591.6,962.6" fill="#0000FF"/>
<polygon points="607.6,958.2 609.5,961.5 605.6,961.5" fill="#0000FF"/>
<polygon points="621.6,968.5 623.5,971.8 619.6,971.8" fill="#0000FF"/>
<polygon points="635.6,968.5 637.6,971.8 633.6,971.8" fill="#0000FF"/>
<polygon points="649.6,970.1 651.6,973.4 647.6,973.4" fill="#0000FF"/>
<polygon points="523.5,1026.6 525.5,1023.2 521.5,1023.2" fill="#008080"/>
<polygon points="537.5,1014.6 539.5,1011.3 535.5,1011.3" fill="#008080"/>
<polygon points="551.5,991.0 553.5,987.7 549.5,987.7" fill="#008080"/>
<polygon points="565.5,989.2 567.5,985.8 563.6,985.8" fill="#008080"/>
<polygon points="579.5,981.8 581.5,978.5 577.6,978.5" fill="#008080"/>
<polygon points="593.5,971.5 595.5,968.2 591.6,968.2" fill="#008080"/>
<polygon points="607.6,972.6 609.5,969.3 605.6,969.3" fill="#008080"/>
<polygon points="621.6,961.2 623.5,957.8 619.6,957.8" fill="#008080"/>
<polygon points="635.6,960.0 637.6,956.7 633.6,956.7" fill="#008080"/>
<polygon points="649.6,948.5 651.6,945.2 647.6,945.2" fill="#008080"/>
<polygon points="521.4,1032.5 524.8,1030.6 524.8,1034.5" fill="#FF00FF"/>
<polygon points="535.4,1021.1 538.8,1019.1 538.8,1023.0" fill="#FF00FF"/>
<polygon points="549.4,999.3 552.8,997.3 552.8,1001.2" fill="#FF00FF"/>
<polygon points="563.5,998.8 566.8,996.8 566.8,1000.8" fill="#FF00FF"/>
<polygon points="577.5,993.5 580.8,991.5 580.8,995.5" fill="#FF00FF"/>
<polygon points="591.5,983.9 594.8,981.9 594.8,985.9" fill="#FF00FF"/>
<polygon points="605.5,983.2 608.8,981.2 608.8,985.2" fill="#FF00FF"/>
<polygon points="619.5,974.0 622.8,972.0 622.8,976.0" fill="#FF00FF"/>
<polygon points="633.5,970.6 636.8,968.6 636.8,972.5" fill="#FF00FF"/>
<polygon points="647.5,962.5 650.8,960.6 650.8,964.5" fill="#FF00FF"/>
<polygon points="525.6,1021.1 522.3,1019.1 522.3,1023.0" fill="#808000"/>
<polygon points="539.6,1006.1 536.3,1004.2 536.3,1008.1" fill="#808000"/>
<polygon points="553.6,985.5 550.3,983.5 550.3,987.5" fill="#808000"/>
<polygon points="567.6,979.7 564.3,977.8 564.3,981.7" fill="#808000"/>
<polygon points="581.6,977.4 578.3,975.5 578.3,979.4" fill="#808000"/>
<polygon points="595.6,963.7 592.3,961.7 592.3,965.7" fill="#808000"/>
<polygon points="609.6,963.7 606.3,961.7 606.3,965.7" fill="#808000"/>
<polygon points="623.6,955.6 620.3,953.7 620.3,957.6" fill="#808000"/>
<polygon points="637.7,954.5 634.3,952.5 634.3,956.5" fill="#808000"/>
<polygon points="651.7,944.2 648.3,942.2 648.3,946.1" fill="#808000"/>
<polygon points="523.5,1020.1 525.2,1022.2 523.5,1024.3 521.8,1022.2" fill="#000080"/>
<polygon points="537.5,1001.8 539.2,1003.8 537.5,1005.9 535.9,1003.8" fill="#000080"/>
<polygon points="551.5,978.8 553.2,980.9 551.5,983.0 549.9,980.9" fill="#000080"/>
<polygon points="565.5,976.5 567.2,978.6 565.5,980.7 563.9,978.6" fill="#000080"/>
<polygon points="579.5,969.6 581.2,971.7 579.5,973.8 577.9,971.7" fill="#000080"/>
<polygon points="593.5,959.3 595.2,961.4 593.5,963.5 591.9,961.4" fill="#000080"/>
<polygon points="607.6,959.3 609.2,961.4 607.6,963.5 605.9,961.4" fill="#000080"/>
<polygon points="621.6,945.5 623.2,947.6 621.6,949.7 619.9,947.6" fill="#000080"/>
<polygon points="635.6,944.4 637.2,946.5 635.6,948.5 633.9,946.5" fill="#000080"/>
<polygon points="649.6,934.1 651.2,936.1 649.6,938.2 647.9,936.1" fill="#000080"/>
<circle cx="523.5" cy="1019.9" r="1.6" fill="#800000"/>
<circle cx="537.5" cy="993.5" r="1.6" fill="#800000"/>
<circle cx="551.5" cy="982.0" r="1.6" fill="#800000"/>
<circle cx="565.5" cy="979.7" r="1.6" fill="#800000"/>
<circle cx="579.5" cy="976.3" r="1.6" fill="#800000"/>
<circle cx="593.5" cy="967.1" r="1.6" fill="#800000"/>
<circle cx="607.6" cy="967.1" r="1.6" fill="#800000"/>
<circle cx="621.6" cy="968.3" r="1.6" fill="#800000"/>
<circle cx="635.6" cy="968.7" r="1.6" fill="#800000"/>
<circle cx="649.6" cy="961.4" r="1.6" fill="#800000"/>
<circle cx="523.5" cy="1019.9" r="1.6" fill="#FF0080"/>
<circle cx="537.5" cy="1003.2" r="1.6" fill="#FF0080"/>
<circle cx="551.5" cy="978.6" r="1.6" fill="#FF0080"/>
<circle cx="565.5" cy="977.4" r="1.6" fill="#FF0080"/>
<circle cx="579.5" cy="969.4" r="1.6" fill="#FF0080"/>
<circle cx="593.5" cy="958.4" r="1.6" fill="#FF0080"/>
<circle cx="607.6" cy="959.5" r="1.6" fill="#FF0080"/>
<circle cx="621.6" cy="946.5" r="1.6" fill="#FF0080"/>
<circle cx="635.6" cy="944.2" r="1.6" fill="#FF0080"/>
<circle cx="649.6" cy="935.0" r="1.6" fill="#FF0080"/>
<polygon points="523.5,1031.5 524.1,1032.9 525.6,1033.0 524.4,1034.0 524.8,1035.4 523.5,1034.6 522.2,1035.4 522.6,1034.0 521.4,1033.0 523.0,1032.9" fill="#008000"/>
<polygon points="537.5,1005.1 538.1,1006.5 539.6,1006.6 538.4,1007.6 538.8,1009.1 537.5,1008.2 536.2,1009.1 536.6,1007.6 535.4,1006.6 537.0,1006.5" fill="#008000"/>
<polygon points="551.5,984.4 552.1,985.9 553.6,986.0 552.4,986.9 552.8,988.4 551.5,987.6 550.2,988.4 550.6,986.9 549.4,986.0 551.0,985.9" fill="#008000"/>
<polygon points="565.5,986.7 566.1,988.2 567.6,988.3 566.4,989.2 566.8,990.7 565.5,989.9 564.2,990.7 564.6,989.2 563.5,988.3 565.0,988.2" fill="#008000"/>
<polygon points="579.5,981.0 580.1,982.4 581.6,982.5 580.4,983.5 580.8,985.0 579.5,984.1 578.3,985.0 578.7,983.5 577.5,982.5 579.0,982.4" fill="#008000"/>
<polygon points="593.5,972.5 594.1,973.9 595.6,974.0 594.4,975.0 594.8,976.5 593.5,975.6 592.3,976.5 592.7,975.0 591.5,974.0 593.0,973.9" fill="#008000"/>
<polygon points="607.6,973.4 608.1,974.9 609.6,974.9 608.4,975.9 608.8,977.4 607.6,976.6 606.3,977.4 606.7,975.9 605.5,974.9 607.0,974.9" fill="#008000"/>
<polygon points="621.6,960.3 622.1,961.8 623.6,961.9 622.5,962.8 622.9,964.3 621.6,963.5 620.3,964.3 620.7,962.8 619.5,961.9 621.0,961.8" fill="#008000"/>
<polygon points="635.6,960.3 636.1,961.8 637.7,961.9 636.5,962.8 636.9,964.3 635.6,963.5 634.3,964.3 634.7,962.8 633.5,961.9 635.0,961.8" fill="#008000"/>
<polygon points="649.6,951.2 650.1,952.6 651.7,952.7 650.5,953.6 650.9,955.1 649.6,954.3 648.3,955.1 648.7,953.6 647.5,952.7 649.0,952.6" fill="#008000"/>
<circle cx="523.5" cy="1013.0" r="1.6" fill="#FF0000"/>
<line x1="523.3" y1="1013.5" x2="524.4" y2="1012.3" stroke="#fff" stroke-opacity="0.8" stroke-width="0.45"/>
<circle cx="537.5" cy="987.8" r="1.6" fill="#FF0000"/>
<line x1="537.3" y1="988.3" x2="538.4" y2="987.1" stroke="#fff" stroke-opacity="0.8" stroke-width="0.45"/>
<circle cx="551.5" cy="963.2" r="1.6" fill="#FF0000"/>
<line x1="551.3" y1="963.7" x2="552.4" y2="962.5" stroke="#fff" stroke-opacity="0.8" stroke-width="0.45"/>
<circle cx="565.5" cy="960.9" r="1.6" fill="#FF0000"/>
<line x1="565.3" y1="961.4" x2="566.4" y2="960.2" stroke="#fff" stroke-opacity="0.8" stroke-width="0.45"/>
<circle cx="579.5" cy="955.6" r="1.6" fill="#FF0000"/>
<line x1="579.3" y1="956.1" x2="580.4" y2="954.9" stroke="#fff" stroke-opacity="0.8" stroke-width="0.45"/>
<circle cx="593.5" cy="941.9" r="1.6" fill="#FF0000"/>
<line x1="593.3" y1="942.4" x2="594.4" y2="941.2" stroke="#fff" stroke-opacity="0.8" stroke-width="0.45"/>
<circle cx="607.6" cy="943.0" r="1.6" fill="#FF0000"/>
<line x1="607.4" y1="943.5" x2="608.5" y2="942.3" stroke="#fff" stroke-opacity="0.8" stroke-width="0.45"/>
<circle cx="621.6" cy="931.5" r="1.6" fill="#FF0000"/>
<line x1="621.4" y1="932.0" x2="622.5" y2="930.8" stroke="#fff" stroke-opacity="0.8" stroke-width="0.45"/>
<circle cx="635.6" cy="932.7" r="1.6" fill="#FF0000"/>
<line x1="635.4" y1="933.2" x2="636.5" y2="932.0" stroke="#fff" stroke-opacity="0.8" stroke-width="0.45"/>
<circle cx="649.6" cy="922.4" r="1.6" fill="#FF0000"/>
<line x1="649.4" y1="922.9" x2="650.5" y2="921.7" stroke="#fff" stroke-opacity="0.8" stroke-width="0.45"/>
<rect x="653.3" y="907.4" width="30.0" height="75.3" fill="#fff" stroke="#aaa" stroke-width="0.6"/>
<line x1="654.8" y1="911.8" x2="665.6" y2="911.8" stroke="#000000" stroke-opacity="0.35" stroke-width="0.6"/>
<rect x="658.3" y="910.3" width="3.0" height="3.0" fill="#000000"/>
<text x="666.9" y="913.9" font-size="6.3" text-anchor="start" fill="#3a3a3a" textLength="6.5" lengthAdjust="spacingAndGlyphs" stroke="#3a3a3a" stroke-width="0.0" >DC</text>
<line x1="654.8" y1="918.5" x2="665.6" y2="918.5" stroke="#FF80FF" stroke-opacity="0.35" stroke-width="0.6"/>
<circle cx="659.8" cy="918.5" r="1.6" fill="#FF80FF"/>
<text x="666.9" y="920.6" font-size="6.3" text-anchor="start" fill="#3a3a3a" textLength="15.0" lengthAdjust="spacingAndGlyphs" stroke="#3a3a3a" stroke-width="0.0" >K-shell</text>
<line x1="654.8" y1="925.3" x2="665.6" y2="925.3" stroke="#0000FF" stroke-opacity="0.35" stroke-width="0.6"/>
<polygon points="659.8,923.1 661.8,926.6 657.7,926.6" fill="#0000FF"/>
<text x="666.9" y="927.4" font-size="6.3" text-anchor="start" fill="#3a3a3a" textLength="6.5" lengthAdjust="spacingAndGlyphs" stroke="#3a3a3a" stroke-width="0.0" >PL</text>
<line x1="654.8" y1="932.0" x2="665.6" y2="932.0" stroke="#008080" stroke-opacity="0.35" stroke-width="0.6"/>
<polygon points="659.8,934.2 661.8,930.7 657.7,930.7" fill="#008080"/>
<text x="666.9" y="934.1" font-size="6.3" text-anchor="start" fill="#3a3a3a" textLength="13.8" lengthAdjust="spacingAndGlyphs" stroke="#3a3a3a" stroke-width="0.0" >ECRM</text>
<line x1="654.8" y1="938.8" x2="665.6" y2="938.8" stroke="#FF00FF" stroke-opacity="0.35" stroke-width="0.6"/>
<polygon points="657.5,938.8 661.1,936.7 661.1,940.9" fill="#FF00FF"/>
<text x="666.9" y="940.9" font-size="6.3" text-anchor="start" fill="#3a3a3a" textLength="10.5" lengthAdjust="spacingAndGlyphs" stroke="#3a3a3a" stroke-width="0.0" >GSM</text>
<line x1="654.8" y1="945.5" x2="665.6" y2="945.5" stroke="#808000" stroke-opacity="0.35" stroke-width="0.6"/>
<polygon points="662.0,945.5 658.4,943.4 658.4,947.6" fill="#808000"/>
<text x="666.9" y="947.6" font-size="6.3" text-anchor="start" fill="#3a3a3a" textLength="7.8" lengthAdjust="spacingAndGlyphs" stroke="#3a3a3a" stroke-width="0.0" >GSI</text>
<line x1="654.8" y1="952.2" x2="665.6" y2="952.2" stroke="#000080" stroke-opacity="0.35" stroke-width="0.6"/>
<polygon points="659.8,950.0 661.5,952.2 659.8,954.5 658.0,952.2" fill="#000080"/>
<text x="666.9" y="954.3" font-size="6.3" text-anchor="start" fill="#3a3a3a" textLength="14.5" lengthAdjust="spacingAndGlyphs" stroke="#3a3a3a" stroke-width="0.0" >MCGM</text>
<line x1="654.8" y1="959.0" x2="665.6" y2="959.0" stroke="#800000" stroke-opacity="0.35" stroke-width="0.6"/>
<circle cx="659.8" cy="959.0" r="1.6" fill="#800000"/>
<text x="666.9" y="961.1" font-size="6.3" text-anchor="start" fill="#3a3a3a" textLength="4.6" lengthAdjust="spacingAndGlyphs" stroke="#3a3a3a" stroke-width="0.0" >CI</text>
<line x1="654.8" y1="965.7" x2="665.6" y2="965.7" stroke="#FF0080" stroke-opacity="0.35" stroke-width="0.6"/>
<circle cx="659.8" cy="965.7" r="1.6" fill="#FF0080"/>
<text x="666.9" y="967.8" font-size="6.3" text-anchor="start" fill="#3a3a3a" textLength="13.0" lengthAdjust="spacingAndGlyphs" stroke="#3a3a3a" stroke-width="0.0" >HVGC</text>
<line x1="654.8" y1="972.5" x2="665.6" y2="972.5" stroke="#008000" stroke-opacity="0.35" stroke-width="0.6"/>
<polygon points="659.8,970.1 660.3,971.7 662.0,971.7 660.7,972.8 661.1,974.3 659.8,973.5 658.4,974.3 658.8,972.8 657.5,971.7 659.2,971.7" fill="#008000"/>
<text x="666.9" y="974.6" font-size="6.3" text-anchor="start" fill="#3a3a3a" textLength="13.8" lengthAdjust="spacingAndGlyphs" stroke="#3a3a3a" stroke-width="0.0" >CSRM</text>
<line x1="654.8" y1="979.2" x2="665.6" y2="979.2" stroke="#FF0000" stroke-opacity="0.35" stroke-width="0.6"/>
<circle cx="659.8" cy="979.2" r="1.6" fill="#FF0000"/>
<text x="666.9" y="981.3" font-size="6.3" text-anchor="start" fill="#3a3a3a" textLength="10.5" lengthAdjust="spacingAndGlyphs" stroke="#3a3a3a" stroke-width="0.0" >SGM</text>
<text x="608.5" y="1100.7" style="font-family:Liberation Serif,serif" font-size="17.2" fill="#111" text-anchor="middle">(o) FR-1</text>
</g>
</svg></body></html>
